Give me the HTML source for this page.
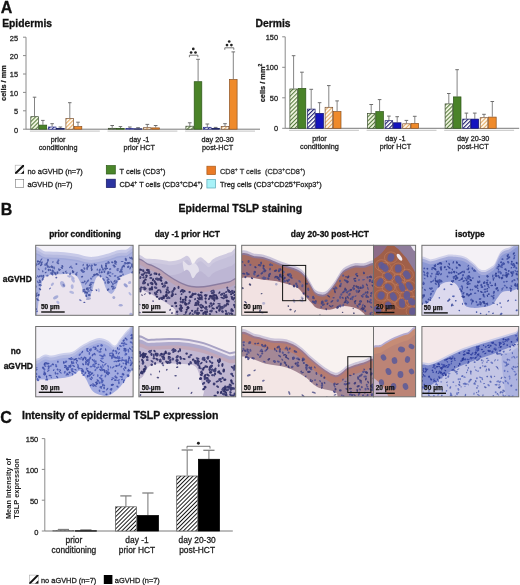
<!DOCTYPE html>
<html><head><meta charset="utf-8"><style>
html,body{margin:0;padding:0;background:#fff;}
body{width:520px;height:585px;overflow:hidden;position:relative;}
svg{position:absolute;left:0;top:0;font-family:"Liberation Sans",sans-serif;will-change:transform;}
</style></head><body>
<svg width="520" height="585" viewBox="0 0 520 585">
<defs>
<pattern id="hatch0" patternUnits="userSpaceOnUse" width="2.9" height="2.9" patternTransform="rotate(45)"><rect width="2.9" height="2.9" fill="#f6fae6"/><rect x="0" y="0" width="1.1" height="2.9" fill="#557a3c"/></pattern>
<pattern id="hatch1" patternUnits="userSpaceOnUse" width="2.9" height="2.9" patternTransform="rotate(45)"><rect width="2.9" height="2.9" fill="#ffffff"/><rect x="0" y="0" width="1.1" height="2.9" fill="#2a2f8c"/></pattern>
<pattern id="hatch2" patternUnits="userSpaceOnUse" width="2.9" height="2.9" patternTransform="rotate(45)"><rect width="2.9" height="2.9" fill="#fffaf0"/><rect x="0" y="0" width="1.1" height="2.9" fill="#e4a860"/></pattern>
<pattern id="hatch3" patternUnits="userSpaceOnUse" width="2.9" height="2.9" patternTransform="rotate(45)"><rect width="2.9" height="2.9" fill="#f6fae6"/><rect x="0" y="0" width="1.1" height="2.9" fill="#557a3c"/></pattern>
<pattern id="hatch4" patternUnits="userSpaceOnUse" width="2.9" height="2.9" patternTransform="rotate(45)"><rect width="2.9" height="2.9" fill="#ffffff"/><rect x="0" y="0" width="1.1" height="2.9" fill="#1a1a6a"/></pattern>
<pattern id="hatch5" patternUnits="userSpaceOnUse" width="2.9" height="2.9" patternTransform="rotate(45)"><rect width="2.9" height="2.9" fill="#fffaf0"/><rect x="0" y="0" width="1.1" height="2.9" fill="#e4a860"/></pattern>
<pattern id="hatch6" patternUnits="userSpaceOnUse" width="4.2" height="4.2" patternTransform="rotate(45)"><rect width="4.2" height="4.2" fill="#fff"/><rect x="0" y="0" width="1.7" height="4.2" fill="#111"/></pattern>
<clipPath id="lg1"><rect x="15" y="165" width="9" height="8.8"/></clipPath><clipPath id="lg2"><rect x="29.2" y="574.9" width="9.3" height="8.8"/></clipPath>
<clipPath id="clip1"><rect x="0" y="0" width="97.4" height="70.0"/></clipPath>
<filter id="blur1" x="-5%" y="-5%" width="110%" height="110%"><feGaussianBlur stdDeviation="0.7"/></filter>
<clipPath id="clip2"><rect x="0" y="0" width="96.8" height="70.0"/></clipPath>
<filter id="blur2" x="-5%" y="-5%" width="110%" height="110%"><feGaussianBlur stdDeviation="0.7"/></filter>
<clipPath id="clip3"><rect x="0" y="0" width="131.8" height="70.0"/></clipPath>
<filter id="blur3" x="-5%" y="-5%" width="110%" height="110%"><feGaussianBlur stdDeviation="0.7"/></filter>
<clipPath id="clip4"><rect x="0" y="0" width="42.1" height="70.0"/></clipPath>
<filter id="blur4" x="-5%" y="-5%" width="110%" height="110%"><feGaussianBlur stdDeviation="0.7"/></filter>
<clipPath id="clip5"><rect x="0" y="0" width="96.8" height="70.0"/></clipPath>
<filter id="blur5" x="-5%" y="-5%" width="110%" height="110%"><feGaussianBlur stdDeviation="0.7"/></filter>
<clipPath id="clip6"><rect x="0" y="0" width="97.4" height="70.3"/></clipPath>
<filter id="blur6" x="-5%" y="-5%" width="110%" height="110%"><feGaussianBlur stdDeviation="0.7"/></filter>
<clipPath id="clip7"><rect x="0" y="0" width="96.8" height="70.3"/></clipPath>
<filter id="blur7" x="-5%" y="-5%" width="110%" height="110%"><feGaussianBlur stdDeviation="0.7"/></filter>
<clipPath id="clip8"><rect x="0" y="0" width="131.8" height="70.3"/></clipPath>
<filter id="blur8" x="-5%" y="-5%" width="110%" height="110%"><feGaussianBlur stdDeviation="0.7"/></filter>
<clipPath id="clip9"><rect x="0" y="0" width="42.1" height="70.3"/></clipPath>
<filter id="blur9" x="-5%" y="-5%" width="110%" height="110%"><feGaussianBlur stdDeviation="0.7"/></filter>
<clipPath id="clip10"><rect x="0" y="0" width="96.8" height="70.3"/></clipPath>
<filter id="blur10" x="-5%" y="-5%" width="110%" height="110%"><feGaussianBlur stdDeviation="0.7"/></filter>
<pattern id="hatch7" patternUnits="userSpaceOnUse" width="2.9" height="2.9" patternTransform="rotate(45)"><rect width="2.9" height="2.9" fill="#fff"/><rect x="0" y="0" width="0.95" height="2.9" fill="#111"/></pattern>
</defs>
<rect width="520" height="585" fill="#fff"/>
<text x="0.80" y="12.90" font-size="16" font-weight="bold" text-anchor="start" fill="#111" stroke="#111" stroke-width="0.3" >A</text>
<text x="2.20" y="27.30" font-size="10.3" font-weight="bold" text-anchor="start" fill="#111" stroke="#111" stroke-width="0.3" >Epidermis</text>
<text x="255.60" y="27.30" font-size="10.3" font-weight="bold" text-anchor="start" fill="#111" stroke="#111" stroke-width="0.3" >Dermis</text>
<line x1="26" y1="37.2" x2="26" y2="129.2" stroke="#8a8a8a" stroke-width="1"/>
<line x1="23" y1="129.2" x2="26" y2="129.2" stroke="#8a8a8a" stroke-width="1"/>
<text x="18.00" y="132.60" font-size="7.4" font-weight="normal" text-anchor="end" fill="#222" stroke="#222" stroke-width="0.28" >0</text>
<line x1="23" y1="110.8" x2="26" y2="110.8" stroke="#8a8a8a" stroke-width="1"/>
<text x="18.00" y="114.20" font-size="7.4" font-weight="normal" text-anchor="end" fill="#222" stroke="#222" stroke-width="0.28" >5</text>
<line x1="23" y1="92.4" x2="26" y2="92.4" stroke="#8a8a8a" stroke-width="1"/>
<text x="18.00" y="95.80" font-size="7.4" font-weight="normal" text-anchor="end" fill="#222" stroke="#222" stroke-width="0.28" >10</text>
<line x1="23" y1="74.0" x2="26" y2="74.0" stroke="#8a8a8a" stroke-width="1"/>
<text x="18.00" y="77.40" font-size="7.4" font-weight="normal" text-anchor="end" fill="#222" stroke="#222" stroke-width="0.28" >15</text>
<line x1="23" y1="55.6" x2="26" y2="55.6" stroke="#8a8a8a" stroke-width="1"/>
<text x="18.00" y="59.00" font-size="7.4" font-weight="normal" text-anchor="end" fill="#222" stroke="#222" stroke-width="0.28" >20</text>
<line x1="23" y1="37.2" x2="26" y2="37.2" stroke="#8a8a8a" stroke-width="1"/>
<text x="18.00" y="40.60" font-size="7.4" font-weight="normal" text-anchor="end" fill="#222" stroke="#222" stroke-width="0.28" >25</text>
<line x1="26" y1="129.2" x2="260" y2="129.2" stroke="#7a7a7a" stroke-width="1"/>
<line x1="29.9" y1="131.2" x2="99.8" y2="131.2" stroke="#cfcfcf" stroke-width="1.3"/>
<line x1="34.5" y1="97.2" x2="34.5" y2="116.3" stroke="#6e6e6e" stroke-width="0.85"/>
<line x1="32.8" y1="97.2" x2="36.3" y2="97.2" stroke="#6e6e6e" stroke-width="1"/>
<rect x="30.8" y="116.7" width="7.6" height="12.5" fill="url(#hatch0)" stroke="#3a4a30" stroke-width="0.7"/>
<line x1="42.9" y1="120.4" x2="42.9" y2="124.8" stroke="#6e6e6e" stroke-width="0.85"/>
<line x1="41.1" y1="120.4" x2="44.6" y2="120.4" stroke="#6e6e6e" stroke-width="1"/>
<rect x="39.1" y="125.1" width="7.6" height="4.1" fill="#4a8328" stroke="#2c5418" stroke-width="0.7"/>
<line x1="52.1" y1="123.7" x2="52.1" y2="126.6" stroke="#6e6e6e" stroke-width="0.85"/>
<line x1="50.4" y1="123.7" x2="53.9" y2="123.7" stroke="#6e6e6e" stroke-width="1"/>
<rect x="48.4" y="127.0" width="7.6" height="2.2" fill="url(#hatch1)" stroke="#2a2f8c" stroke-width="0.7"/>
<line x1="60.4" y1="127.0" x2="60.4" y2="128.1" stroke="#6e6e6e" stroke-width="0.85"/>
<line x1="58.6" y1="127.0" x2="62.2" y2="127.0" stroke="#6e6e6e" stroke-width="1"/>
<rect x="56.6" y="128.4" width="7.6" height="0.8" fill="#2a2f8c" stroke="#161c5c" stroke-width="0.7"/>
<line x1="69.8" y1="102.7" x2="69.8" y2="118.2" stroke="#6e6e6e" stroke-width="0.85"/>
<line x1="68.0" y1="102.7" x2="71.5" y2="102.7" stroke="#6e6e6e" stroke-width="1"/>
<rect x="65.9" y="118.5" width="7.6" height="10.7" fill="url(#hatch2)" stroke="#7a5030" stroke-width="0.7"/>
<line x1="78.0" y1="122.2" x2="78.0" y2="126.3" stroke="#6e6e6e" stroke-width="0.85"/>
<line x1="76.2" y1="122.2" x2="79.8" y2="122.2" stroke="#6e6e6e" stroke-width="1"/>
<rect x="74.2" y="126.6" width="7.6" height="2.6" fill="#ef8a2a" stroke="#8a5020" stroke-width="0.7"/>
<text x="58.10" y="142.10" font-size="7.25" font-weight="normal" text-anchor="middle" fill="#222" stroke="#222" stroke-width="0.28" >prior</text>
<text x="58.10" y="150.40" font-size="7.25" font-weight="normal" text-anchor="middle" fill="#222" stroke="#222" stroke-width="0.28" >conditioning</text>
<line x1="107.5" y1="131.2" x2="177.4" y2="131.2" stroke="#cfcfcf" stroke-width="1.3"/>
<line x1="112.2" y1="125.5" x2="112.2" y2="127.9" stroke="#6e6e6e" stroke-width="0.85"/>
<line x1="110.4" y1="125.5" x2="114.0" y2="125.5" stroke="#6e6e6e" stroke-width="1"/>
<rect x="108.3" y="128.3" width="7.6" height="0.9" fill="url(#hatch0)" stroke="#3a4a30" stroke-width="0.7"/>
<line x1="120.5" y1="126.6" x2="120.5" y2="128.3" stroke="#6e6e6e" stroke-width="0.85"/>
<line x1="118.7" y1="126.6" x2="122.2" y2="126.6" stroke="#6e6e6e" stroke-width="1"/>
<rect x="116.6" y="128.6" width="7.6" height="0.6" fill="#4a8328" stroke="#2c5418" stroke-width="0.7"/>
<line x1="129.8" y1="127.0" x2="129.8" y2="128.1" stroke="#6e6e6e" stroke-width="0.85"/>
<line x1="128.0" y1="127.0" x2="131.6" y2="127.0" stroke="#6e6e6e" stroke-width="1"/>
<rect x="125.9" y="128.4" width="7.6" height="0.8" fill="url(#hatch1)" stroke="#2a2f8c" stroke-width="0.7"/>
<line x1="138.1" y1="127.7" x2="138.1" y2="128.5" stroke="#6e6e6e" stroke-width="0.85"/>
<line x1="136.2" y1="127.7" x2="139.9" y2="127.7" stroke="#6e6e6e" stroke-width="1"/>
<rect x="134.2" y="128.8" width="7.6" height="0.4" fill="#2a2f8c" stroke="#161c5c" stroke-width="0.7"/>
<line x1="147.3" y1="124.4" x2="147.3" y2="127.4" stroke="#6e6e6e" stroke-width="0.85"/>
<line x1="145.5" y1="124.4" x2="149.2" y2="124.4" stroke="#6e6e6e" stroke-width="1"/>
<rect x="143.5" y="127.7" width="7.6" height="1.5" fill="url(#hatch2)" stroke="#7a5030" stroke-width="0.7"/>
<line x1="155.7" y1="125.5" x2="155.7" y2="127.5" stroke="#6e6e6e" stroke-width="0.85"/>
<line x1="153.8" y1="125.5" x2="157.5" y2="125.5" stroke="#6e6e6e" stroke-width="1"/>
<rect x="151.8" y="127.9" width="7.6" height="1.3" fill="#ef8a2a" stroke="#8a5020" stroke-width="0.7"/>
<text x="139.30" y="142.10" font-size="7.25" font-weight="normal" text-anchor="middle" fill="#222" stroke="#222" stroke-width="0.28" >day -1</text>
<text x="139.30" y="150.40" font-size="7.25" font-weight="normal" text-anchor="middle" fill="#222" stroke="#222" stroke-width="0.28" >prior HCT</text>
<line x1="185.1" y1="131.2" x2="255.0" y2="131.2" stroke="#cfcfcf" stroke-width="1.3"/>
<line x1="189.8" y1="122.8" x2="189.8" y2="125.9" stroke="#6e6e6e" stroke-width="0.85"/>
<line x1="187.9" y1="122.8" x2="191.6" y2="122.8" stroke="#6e6e6e" stroke-width="1"/>
<rect x="185.9" y="126.2" width="7.6" height="3.0" fill="url(#hatch0)" stroke="#3a4a30" stroke-width="0.7"/>
<line x1="198.1" y1="59.3" x2="198.1" y2="81.4" stroke="#6e6e6e" stroke-width="0.85"/>
<line x1="196.2" y1="59.3" x2="199.9" y2="59.3" stroke="#6e6e6e" stroke-width="1"/>
<rect x="194.2" y="81.7" width="7.6" height="47.5" fill="#4a8328" stroke="#2c5418" stroke-width="0.7"/>
<line x1="207.3" y1="124.0" x2="207.3" y2="127.0" stroke="#6e6e6e" stroke-width="0.85"/>
<line x1="205.5" y1="124.0" x2="209.2" y2="124.0" stroke="#6e6e6e" stroke-width="1"/>
<rect x="203.5" y="127.3" width="7.6" height="1.9" fill="url(#hatch1)" stroke="#2a2f8c" stroke-width="0.7"/>
<line x1="215.7" y1="127.4" x2="215.7" y2="128.1" stroke="#6e6e6e" stroke-width="0.85"/>
<line x1="213.8" y1="127.4" x2="217.5" y2="127.4" stroke="#6e6e6e" stroke-width="1"/>
<rect x="211.8" y="128.4" width="7.6" height="0.8" fill="#2a2f8c" stroke="#161c5c" stroke-width="0.7"/>
<line x1="225.0" y1="123.7" x2="225.0" y2="126.3" stroke="#6e6e6e" stroke-width="0.85"/>
<line x1="223.2" y1="123.7" x2="226.8" y2="123.7" stroke="#6e6e6e" stroke-width="1"/>
<rect x="221.2" y="126.6" width="7.6" height="2.6" fill="url(#hatch2)" stroke="#7a5030" stroke-width="0.7"/>
<line x1="233.3" y1="51.9" x2="233.3" y2="79.2" stroke="#6e6e6e" stroke-width="0.85"/>
<line x1="231.5" y1="51.9" x2="235.1" y2="51.9" stroke="#6e6e6e" stroke-width="1"/>
<rect x="229.5" y="79.5" width="7.6" height="49.7" fill="#ef8a2a" stroke="#8a5020" stroke-width="0.7"/>
<text x="217.60" y="142.10" font-size="7.25" font-weight="normal" text-anchor="middle" fill="#222" stroke="#222" stroke-width="0.28" >day 20-30</text>
<text x="217.60" y="150.40" font-size="7.25" font-weight="normal" text-anchor="middle" fill="#222" stroke="#222" stroke-width="0.28" >post-HCT</text>
<text transform="translate(6.3,83) rotate(-90)" font-size="7.4" font-weight="bold" text-anchor="middle" fill="#222" stroke="#222" stroke-width="0.25">cells / mm</text>
<circle cx="193.3" cy="48.9" r="1.35" fill="#222"/>
<circle cx="191.1" cy="52.5" r="1.35" fill="#222"/>
<circle cx="195.5" cy="52.5" r="1.35" fill="#222"/>
<path d="M189.4,57.2 L189.4,55.2 L197.9,55.2 L197.9,57.2" fill="none" stroke="#555" stroke-width="0.8"/>
<circle cx="229.2" cy="41.5" r="1.35" fill="#222"/>
<circle cx="227.0" cy="45.1" r="1.35" fill="#222"/>
<circle cx="231.4" cy="45.1" r="1.35" fill="#222"/>
<path d="M224.8,49.8 L224.8,47.8 L233.8,47.8 L233.8,49.8" fill="none" stroke="#555" stroke-width="0.8"/>
<line x1="285.2" y1="36.8" x2="285.2" y2="128.3" stroke="#8a8a8a" stroke-width="1"/>
<line x1="282.2" y1="128.3" x2="285.2" y2="128.3" stroke="#8a8a8a" stroke-width="1"/>
<text x="278.00" y="131.30" font-size="7.4" font-weight="normal" text-anchor="end" fill="#222" stroke="#222" stroke-width="0.28" >0</text>
<line x1="282.2" y1="97.8" x2="285.2" y2="97.8" stroke="#8a8a8a" stroke-width="1"/>
<text x="278.00" y="100.80" font-size="7.4" font-weight="normal" text-anchor="end" fill="#222" stroke="#222" stroke-width="0.28" >50</text>
<line x1="282.2" y1="67.3" x2="285.2" y2="67.3" stroke="#8a8a8a" stroke-width="1"/>
<text x="278.00" y="70.30" font-size="7.4" font-weight="normal" text-anchor="end" fill="#222" stroke="#222" stroke-width="0.28" >100</text>
<line x1="282.2" y1="36.8" x2="285.2" y2="36.8" stroke="#8a8a8a" stroke-width="1"/>
<text x="278.00" y="39.80" font-size="7.4" font-weight="normal" text-anchor="end" fill="#222" stroke="#222" stroke-width="0.28" >150</text>
<line x1="285.2" y1="128.3" x2="519.2" y2="128.3" stroke="#7a7a7a" stroke-width="1"/>
<line x1="289.0" y1="130.3" x2="358.9" y2="130.3" stroke="#cfcfcf" stroke-width="1.3"/>
<line x1="293.6" y1="55.7" x2="293.6" y2="88.7" stroke="#6e6e6e" stroke-width="0.85"/>
<line x1="291.8" y1="55.7" x2="295.4" y2="55.7" stroke="#6e6e6e" stroke-width="1"/>
<rect x="289.9" y="89.0" width="7.6" height="39.3" fill="url(#hatch3)" stroke="#3a4a30" stroke-width="0.7"/>
<line x1="301.9" y1="72.2" x2="301.9" y2="88.0" stroke="#6e6e6e" stroke-width="0.85"/>
<line x1="300.1" y1="72.2" x2="303.8" y2="72.2" stroke="#6e6e6e" stroke-width="1"/>
<rect x="298.2" y="88.4" width="7.6" height="39.9" fill="#4a8328" stroke="#2c5418" stroke-width="0.7"/>
<line x1="311.2" y1="89.3" x2="311.2" y2="108.8" stroke="#6e6e6e" stroke-width="0.85"/>
<line x1="309.4" y1="89.3" x2="313.1" y2="89.3" stroke="#6e6e6e" stroke-width="1"/>
<rect x="307.5" y="109.1" width="7.6" height="19.2" fill="url(#hatch4)" stroke="#1a1a6a" stroke-width="0.7"/>
<line x1="319.6" y1="102.7" x2="319.6" y2="113.1" stroke="#6e6e6e" stroke-width="0.85"/>
<line x1="317.8" y1="102.7" x2="321.4" y2="102.7" stroke="#6e6e6e" stroke-width="1"/>
<rect x="315.8" y="113.4" width="7.6" height="14.9" fill="#1414bf" stroke="#0c0c6a" stroke-width="0.7"/>
<line x1="328.8" y1="85.6" x2="328.8" y2="107.0" stroke="#6e6e6e" stroke-width="0.85"/>
<line x1="327.0" y1="85.6" x2="330.6" y2="85.6" stroke="#6e6e6e" stroke-width="1"/>
<rect x="325.1" y="107.3" width="7.6" height="21.0" fill="url(#hatch5)" stroke="#7a5030" stroke-width="0.7"/>
<line x1="337.1" y1="100.9" x2="337.1" y2="111.2" stroke="#6e6e6e" stroke-width="0.85"/>
<line x1="335.3" y1="100.9" x2="338.9" y2="100.9" stroke="#6e6e6e" stroke-width="1"/>
<rect x="333.4" y="111.6" width="7.6" height="16.7" fill="#ef8a2a" stroke="#8a5020" stroke-width="0.7"/>
<text x="319.40" y="140.60" font-size="7.25" font-weight="normal" text-anchor="middle" fill="#222" stroke="#222" stroke-width="0.28" >prior</text>
<text x="319.40" y="149.10" font-size="7.25" font-weight="normal" text-anchor="middle" fill="#222" stroke="#222" stroke-width="0.28" >conditioning</text>
<line x1="366.6" y1="130.3" x2="436.5" y2="130.3" stroke="#cfcfcf" stroke-width="1.3"/>
<line x1="371.2" y1="104.5" x2="371.2" y2="113.1" stroke="#6e6e6e" stroke-width="0.85"/>
<line x1="369.4" y1="104.5" x2="373.1" y2="104.5" stroke="#6e6e6e" stroke-width="1"/>
<rect x="367.5" y="113.4" width="7.6" height="14.9" fill="url(#hatch3)" stroke="#3a4a30" stroke-width="0.7"/>
<line x1="379.6" y1="99.6" x2="379.6" y2="111.2" stroke="#6e6e6e" stroke-width="0.85"/>
<line x1="377.8" y1="99.6" x2="381.4" y2="99.6" stroke="#6e6e6e" stroke-width="1"/>
<rect x="375.8" y="111.6" width="7.6" height="16.7" fill="#4a8328" stroke="#2c5418" stroke-width="0.7"/>
<line x1="388.9" y1="116.1" x2="388.9" y2="120.4" stroke="#6e6e6e" stroke-width="0.85"/>
<line x1="387.1" y1="116.1" x2="390.7" y2="116.1" stroke="#6e6e6e" stroke-width="1"/>
<rect x="385.1" y="120.7" width="7.6" height="7.6" fill="url(#hatch4)" stroke="#1a1a6a" stroke-width="0.7"/>
<line x1="397.2" y1="116.7" x2="397.2" y2="122.4" stroke="#6e6e6e" stroke-width="0.85"/>
<line x1="395.4" y1="116.7" x2="399.0" y2="116.7" stroke="#6e6e6e" stroke-width="1"/>
<rect x="393.4" y="122.8" width="7.6" height="5.5" fill="#1414bf" stroke="#0c0c6a" stroke-width="0.7"/>
<line x1="406.4" y1="120.4" x2="406.4" y2="123.4" stroke="#6e6e6e" stroke-width="0.85"/>
<line x1="404.6" y1="120.4" x2="408.2" y2="120.4" stroke="#6e6e6e" stroke-width="1"/>
<rect x="402.7" y="123.8" width="7.6" height="4.5" fill="url(#hatch5)" stroke="#7a5030" stroke-width="0.7"/>
<line x1="414.8" y1="116.3" x2="414.8" y2="123.1" stroke="#6e6e6e" stroke-width="0.85"/>
<line x1="412.9" y1="116.3" x2="416.6" y2="116.3" stroke="#6e6e6e" stroke-width="1"/>
<rect x="411.0" y="123.4" width="7.6" height="4.9" fill="#ef8a2a" stroke="#8a5020" stroke-width="0.7"/>
<text x="395.40" y="140.60" font-size="7.25" font-weight="normal" text-anchor="middle" fill="#222" stroke="#222" stroke-width="0.28" >day -1</text>
<text x="395.40" y="149.10" font-size="7.25" font-weight="normal" text-anchor="middle" fill="#222" stroke="#222" stroke-width="0.28" >prior HCT</text>
<line x1="444.2" y1="130.3" x2="514.1" y2="130.3" stroke="#cfcfcf" stroke-width="1.3"/>
<line x1="448.8" y1="93.5" x2="448.8" y2="103.6" stroke="#6e6e6e" stroke-width="0.85"/>
<line x1="447.0" y1="93.5" x2="450.6" y2="93.5" stroke="#6e6e6e" stroke-width="1"/>
<rect x="445.1" y="103.9" width="7.6" height="24.4" fill="url(#hatch3)" stroke="#3a4a30" stroke-width="0.7"/>
<line x1="457.1" y1="69.7" x2="457.1" y2="96.6" stroke="#6e6e6e" stroke-width="0.85"/>
<line x1="455.3" y1="69.7" x2="458.9" y2="69.7" stroke="#6e6e6e" stroke-width="1"/>
<rect x="453.4" y="96.9" width="7.6" height="31.4" fill="#4a8328" stroke="#2c5418" stroke-width="0.7"/>
<line x1="466.4" y1="113.1" x2="466.4" y2="118.8" stroke="#6e6e6e" stroke-width="0.85"/>
<line x1="464.6" y1="113.1" x2="468.2" y2="113.1" stroke="#6e6e6e" stroke-width="1"/>
<rect x="462.7" y="119.1" width="7.6" height="9.2" fill="url(#hatch4)" stroke="#1a1a6a" stroke-width="0.7"/>
<line x1="474.8" y1="113.1" x2="474.8" y2="118.8" stroke="#6e6e6e" stroke-width="0.85"/>
<line x1="472.9" y1="113.1" x2="476.6" y2="113.1" stroke="#6e6e6e" stroke-width="1"/>
<rect x="471.0" y="119.1" width="7.6" height="9.2" fill="#1414bf" stroke="#0c0c6a" stroke-width="0.7"/>
<line x1="484.0" y1="114.3" x2="484.0" y2="117.3" stroke="#6e6e6e" stroke-width="0.85"/>
<line x1="482.2" y1="114.3" x2="485.8" y2="114.3" stroke="#6e6e6e" stroke-width="1"/>
<rect x="480.2" y="117.7" width="7.6" height="10.6" fill="url(#hatch5)" stroke="#7a5030" stroke-width="0.7"/>
<line x1="492.3" y1="101.5" x2="492.3" y2="116.7" stroke="#6e6e6e" stroke-width="0.85"/>
<line x1="490.5" y1="101.5" x2="494.1" y2="101.5" stroke="#6e6e6e" stroke-width="1"/>
<rect x="488.6" y="117.1" width="7.6" height="11.2" fill="#ef8a2a" stroke="#8a5020" stroke-width="0.7"/>
<text x="473.10" y="140.60" font-size="7.25" font-weight="normal" text-anchor="middle" fill="#222" stroke="#222" stroke-width="0.28" >day 20-30</text>
<text x="473.10" y="149.10" font-size="7.25" font-weight="normal" text-anchor="middle" fill="#222" stroke="#222" stroke-width="0.28" >post-HCT</text>
<text transform="translate(264.7,83) rotate(-90)" font-size="7.4" font-weight="bold" text-anchor="middle" fill="#222" stroke="#222" stroke-width="0.25">cells / mm<tspan dy="-2.5" font-size="5">2</tspan></text>
<rect x="15.2" y="165.2" width="8.6" height="8.4" fill="#fff" stroke="#aaa" stroke-width="0.6"/>
<g clip-path="url(#lg1)"><line x1="14.6" y1="174.4" x2="24.4" y2="164.6" stroke="#111" stroke-width="2"/><path d="M20.5,174 L24.2,174 L24.2,170.3 Z" fill="#111"/></g>
<rect x="15.3" y="179.6" width="8.4" height="7.8" fill="#fff" stroke="#777" stroke-width="0.6"/>
<text x="27.50" y="173.60" font-size="7.4" font-weight="normal" text-anchor="start" fill="#222" stroke="#222" stroke-width="0.28" >no aGVHD (n=7)</text>
<text x="27.50" y="186.60" font-size="7.4" font-weight="normal" text-anchor="start" fill="#222" stroke="#222" stroke-width="0.28" >aGVHD (n=7)</text>
<rect x="106.3" y="165.6" width="9" height="8.4" fill="#4a862a" stroke="#2c5a18" stroke-width="0.7"/>
<rect x="106.3" y="179.2" width="9" height="8.4" fill="#2c34a0" stroke="#1a1a60" stroke-width="0.7"/>
<rect x="206.9" y="166.2" width="8.6" height="8.4" fill="#ea7a26" stroke="#a85a1a" stroke-width="0.7"/>
<rect x="206.9" y="179.4" width="8.6" height="8.6" fill="#a8f2f8" stroke="#5aa8b8" stroke-width="0.7"/>
<text x="119.50" y="173.60" font-size="7.4" font-weight="normal" text-anchor="start" fill="#222" stroke="#222" stroke-width="0.28" >T cells (CD3<tspan dy="-2.6" font-size="5">+</tspan><tspan dy="2.6">)</tspan></text>
<text x="119.50" y="186.60" font-size="7.4" font-weight="normal" text-anchor="start" fill="#222" stroke="#222" stroke-width="0.28" >CD4<tspan dy="-2.6" font-size="5">+</tspan><tspan dy="2.6"> T cells (CD3<tspan dy="-2.6" font-size="5">+</tspan><tspan dy="2.6">CD4<tspan dy="-2.6" font-size="5">+</tspan><tspan dy="2.6">)</tspan></tspan></tspan></text>
<text x="220.00" y="173.60" font-size="7.4" font-weight="normal" text-anchor="start" fill="#333" stroke="#333" stroke-width="0.28" xml:space="preserve">CD8<tspan dy="-2.6" font-size="5">+</tspan><tspan dy="2.6"> T cells  (CD3<tspan dy="-2.6" font-size="5">+</tspan><tspan dy="2.6">CD8<tspan dy="-2.6" font-size="5">+</tspan><tspan dy="2.6">)</tspan></tspan></tspan></text>
<text x="220.00" y="186.60" font-size="7.4" font-weight="normal" text-anchor="start" fill="#222" stroke="#222" stroke-width="0.28" >Treg cells (CD3<tspan dy="-2.6" font-size="5">+</tspan><tspan dy="2.6">CD25<tspan dy="-2.6" font-size="5">+</tspan><tspan dy="2.6">Foxp3<tspan dy="-2.6" font-size="5">+</tspan><tspan dy="2.6">)</tspan></tspan></tspan></text>
<text x="0.70" y="215.30" font-size="16" font-weight="bold" text-anchor="start" fill="#111" stroke="#111" stroke-width="0.3" >B</text>
<text x="240.30" y="212.00" font-size="10.5" font-weight="bold" text-anchor="middle" fill="#111" stroke="#111" stroke-width="0.3" >Epidermal TSLP staining</text>
<text x="85.00" y="237.00" font-size="8.4" font-weight="bold" text-anchor="middle" fill="#111" stroke="#111" stroke-width="0.3" >prior conditioning</text>
<text x="187.30" y="237.00" font-size="8.4" font-weight="bold" text-anchor="middle" fill="#111" stroke="#111" stroke-width="0.3" >day -1 prior HCT</text>
<text x="329.90" y="237.00" font-size="8.4" font-weight="bold" text-anchor="middle" fill="#111" stroke="#111" stroke-width="0.3" >day 20-30 post-HCT</text>
<text x="470.00" y="237.00" font-size="8.4" font-weight="bold" text-anchor="middle" fill="#111" stroke="#111" stroke-width="0.3" >isotype</text>
<text x="17.30" y="282.00" font-size="8.4" font-weight="bold" text-anchor="middle" fill="#111" stroke="#111" stroke-width="0.3" >aGVHD</text>
<text x="15.80" y="354.00" font-size="8.4" font-weight="bold" text-anchor="middle" fill="#111" stroke="#111" stroke-width="0.3" >no</text>
<text x="18.30" y="369.10" font-size="8.5" font-weight="bold" text-anchor="middle" fill="#111" stroke="#111" stroke-width="0.3" >aGVHD</text>
<g transform="translate(35.7,245.3)"><g clip-path="url(#clip1)"><g filter="url(#blur1)">
<rect x="-2" y="-2" width="101.4" height="74.0" fill="#f3f1f8"/>
<path d="M-3.0,6.5 C-0.8,-4.6 5.3,6.2 10.0,6.2 C14.7,6.2 20.0,6.4 25.0,6.8 C30.0,7.2 35.8,7.8 40.0,8.5 C44.2,9.2 47.0,10.5 50.0,11.0 C53.0,11.5 55.3,11.7 58.0,11.5 C60.7,11.3 63.2,10.7 66.0,10.0 C68.8,9.3 72.3,8.3 75.0,7.5 C77.7,6.7 79.5,5.5 82.0,5.0 C84.5,4.5 86.8,4.6 90.0,4.5 C93.2,4.4 99.2,-6.9 101.0,4.5 C102.8,15.9 118.3,61.6 101.0,73.0 C83.7,84.4 14.3,84.1 -3.0,73.0 C-20.3,61.9 -5.2,17.6 -3.0,6.5Z" fill="#c8cae8" opacity="1"/>
<path d="M-3.0,9.5 C-0.8,-1.1 5.3,9.1 10.0,9.2 C14.7,9.2 20.0,9.4 25.0,9.8 C30.0,10.2 35.8,10.8 40.0,11.5 C44.2,12.2 47.0,13.5 50.0,14.0 C53.0,14.5 55.3,14.7 58.0,14.5 C60.7,14.3 63.2,13.7 66.0,13.0 C68.8,12.3 72.3,11.3 75.0,10.5 C77.7,9.7 79.5,8.5 82.0,8.0 C84.5,7.5 86.8,7.6 90.0,7.5 C93.2,7.4 99.2,-3.4 101.0,7.5 C102.8,18.4 118.3,62.1 101.0,73.0 C83.7,83.9 14.3,83.6 -3.0,73.0 C-20.3,62.4 -5.2,20.1 -3.0,9.5Z" fill="#b6bae0" opacity="1"/>
<path d="M-3.0,12.5 C-0.8,2.4 5.3,12.1 10.0,12.2 C14.7,12.2 20.0,12.4 25.0,12.8 C30.0,13.2 35.8,13.8 40.0,14.5 C44.2,15.2 47.0,16.5 50.0,17.0 C53.0,17.5 55.3,17.7 58.0,17.5 C60.7,17.3 63.2,16.7 66.0,16.0 C68.8,15.3 72.3,14.3 75.0,13.5 C77.7,12.7 79.5,11.5 82.0,11.0 C84.5,10.5 86.8,10.6 90.0,10.5 C93.2,10.4 99.2,0.1 101.0,10.5 C102.8,20.9 118.3,62.6 101.0,73.0 C83.7,83.4 14.3,83.1 -3.0,73.0 C-20.3,62.9 -5.2,22.6 -3.0,12.5Z" fill="#a0a8da" opacity="1"/>
<path d="M-3.0,14.0 C-0.8,4.1 5.3,13.6 10.0,13.7 C14.7,13.8 20.0,13.9 25.0,14.3 C30.0,14.7 35.8,15.3 40.0,16.0 C44.2,16.7 47.0,18.0 50.0,18.5 C53.0,19.0 55.3,19.2 58.0,19.0 C60.7,18.8 63.2,18.2 66.0,17.5 C68.8,16.8 72.3,15.8 75.0,15.0 C77.7,14.2 79.5,13.0 82.0,12.5 C84.5,12.0 86.8,12.1 90.0,12.0 C93.2,11.9 99.2,1.8 101.0,12.0 C102.8,22.2 118.3,62.8 101.0,73.0 C83.7,83.2 14.3,82.8 -3.0,73.0 C-20.3,63.2 -5.2,23.9 -3.0,14.0Z" fill="#a9b0df" opacity="1"/>
<path d="M-3.0,72.0 C-2.3,71.8 0.0,74.8 1.0,72.0 C2.0,69.2 2.2,60.7 3.0,55.0 C3.8,49.3 4.8,42.0 6.0,38.0 C7.2,34.0 6.8,32.5 10.0,31.0 C13.2,29.5 20.7,29.3 25.0,29.0 C29.3,28.7 33.3,28.7 36.0,29.0 C38.7,29.3 39.5,29.5 41.0,31.0 C42.5,32.5 43.8,35.3 45.0,38.0 C46.2,40.7 46.8,44.5 48.0,47.0 C49.2,49.5 50.7,53.0 52.0,53.0 C53.3,53.0 54.9,49.5 56.0,47.0 C57.1,44.5 57.7,40.5 58.5,38.0 C59.3,35.5 60.1,33.2 61.0,32.0 C61.9,30.8 63.0,30.8 64.0,31.0 C65.0,31.2 66.2,31.5 67.0,33.0 C67.8,34.5 68.2,37.8 69.0,40.0 C69.8,42.2 70.8,44.6 72.0,46.0 C73.2,47.4 74.7,49.0 76.0,48.5 C77.3,48.0 78.8,45.2 80.0,43.0 C81.2,40.8 81.8,37.0 83.0,35.0 C84.2,33.0 84.0,31.7 87.0,31.0 C90.0,30.3 98.7,24.0 101.0,31.0 C103.3,38.0 118.3,66.0 101.0,73.0 C83.7,80.0 14.3,73.2 -3.0,73.0 C-20.3,72.8 -3.7,72.2 -3.0,72.0Z" fill="#ebe4ee" opacity="1"/>
<ellipse cx="49.5" cy="47.4" rx="1.1" ry="0.8" transform="rotate(113 49.5 47.4)" fill="#5a68b2" opacity="1"/>
<ellipse cx="7.5" cy="30.6" rx="1.1" ry="0.9" transform="rotate(125 7.5 30.6)" fill="#45539d" opacity="1"/>
<ellipse cx="17.3" cy="26.9" rx="1.0" ry="0.8" transform="rotate(79 17.3 26.9)" fill="#5b69b3" opacity="1"/>
<ellipse cx="50.6" cy="50.6" rx="1.4" ry="0.9" transform="rotate(82 50.6 50.6)" fill="#4b59a3" opacity="1"/>
<ellipse cx="30.0" cy="26.2" rx="1.2" ry="0.6" transform="rotate(138 30.0 26.2)" fill="#4f5da7" opacity="1"/>
<ellipse cx="-1.9" cy="25.0" rx="1.7" ry="0.8" transform="rotate(176 -1.9 25.0)" fill="#4f5da7" opacity="1"/>
<ellipse cx="76.9" cy="28.6" rx="1.1" ry="0.7" transform="rotate(174 76.9 28.6)" fill="#5967b1" opacity="1"/>
<ellipse cx="10.0" cy="27.2" rx="1.1" ry="0.6" transform="rotate(143 10.0 27.2)" fill="#4856a0" opacity="1"/>
<ellipse cx="54.7" cy="39.1" rx="1.2" ry="0.9" transform="rotate(24 54.7 39.1)" fill="#5664ae" opacity="1"/>
<ellipse cx="19.6" cy="28.6" rx="1.8" ry="0.9" transform="rotate(55 19.6 28.6)" fill="#5c6ab4" opacity="1"/>
<ellipse cx="19.6" cy="27.9" rx="1.6" ry="0.7" transform="rotate(53 19.6 27.9)" fill="#46549e" opacity="1"/>
<ellipse cx="16.5" cy="21.7" rx="1.7" ry="0.9" transform="rotate(45 16.5 21.7)" fill="#4957a1" opacity="1"/>
<ellipse cx="40.7" cy="18.7" rx="1.0" ry="1.0" transform="rotate(43 40.7 18.7)" fill="#5765af" opacity="1"/>
<ellipse cx="58.5" cy="30.0" rx="1.1" ry="0.9" transform="rotate(12 58.5 30.0)" fill="#4a58a2" opacity="1"/>
<ellipse cx="60.3" cy="29.2" rx="1.7" ry="0.7" transform="rotate(3 60.3 29.2)" fill="#4b59a3" opacity="1"/>
<ellipse cx="56.0" cy="20.3" rx="1.3" ry="1.0" transform="rotate(176 56.0 20.3)" fill="#5664ae" opacity="1"/>
<ellipse cx="12.2" cy="14.6" rx="1.0" ry="1.0" transform="rotate(126 12.2 14.6)" fill="#5e6cb6" opacity="1"/>
<ellipse cx="0.2" cy="50.4" rx="1.4" ry="0.9" transform="rotate(57 0.2 50.4)" fill="#5f6db7" opacity="1"/>
<ellipse cx="71.8" cy="35.6" rx="1.6" ry="0.8" transform="rotate(79 71.8 35.6)" fill="#5b69b3" opacity="1"/>
<ellipse cx="1.0" cy="48.3" rx="1.4" ry="0.7" transform="rotate(126 1.0 48.3)" fill="#515fa9" opacity="1"/>
<ellipse cx="18.5" cy="22.6" rx="1.7" ry="0.9" transform="rotate(80 18.5 22.6)" fill="#5c6ab4" opacity="1"/>
<ellipse cx="57.1" cy="31.3" rx="1.1" ry="0.8" transform="rotate(151 57.1 31.3)" fill="#5b69b3" opacity="1"/>
<ellipse cx="26.1" cy="22.6" rx="1.4" ry="0.7" transform="rotate(39 26.1 22.6)" fill="#4f5da7" opacity="1"/>
<ellipse cx="5.6" cy="14.4" rx="1.7" ry="0.6" transform="rotate(128 5.6 14.4)" fill="#5361ab" opacity="1"/>
<ellipse cx="-0.1" cy="20.6" rx="1.4" ry="0.6" transform="rotate(149 -0.1 20.6)" fill="#4a58a2" opacity="1"/>
<ellipse cx="12.3" cy="15.3" rx="1.5" ry="0.8" transform="rotate(113 12.3 15.3)" fill="#5664ae" opacity="1"/>
<ellipse cx="67.4" cy="24.4" rx="1.4" ry="0.7" transform="rotate(2 67.4 24.4)" fill="#515fa9" opacity="1"/>
<ellipse cx="70.4" cy="23.2" rx="1.2" ry="0.7" transform="rotate(126 70.4 23.2)" fill="#5260aa" opacity="1"/>
<ellipse cx="89.9" cy="17.7" rx="1.7" ry="0.9" transform="rotate(23 89.9 17.7)" fill="#505ea8" opacity="1"/>
<ellipse cx="64.0" cy="24.7" rx="1.6" ry="0.9" transform="rotate(115 64.0 24.7)" fill="#5866b0" opacity="1"/>
<ellipse cx="80.0" cy="16.3" rx="1.6" ry="0.7" transform="rotate(60 80.0 16.3)" fill="#5a68b2" opacity="1"/>
<ellipse cx="12.2" cy="21.3" rx="1.4" ry="0.9" transform="rotate(151 12.2 21.3)" fill="#5765af" opacity="1"/>
<ellipse cx="94.2" cy="17.6" rx="1.2" ry="0.8" transform="rotate(52 94.2 17.6)" fill="#5866b0" opacity="1"/>
<ellipse cx="56.1" cy="24.5" rx="1.4" ry="0.8" transform="rotate(109 56.1 24.5)" fill="#44529c" opacity="1"/>
<ellipse cx="55.1" cy="41.7" rx="1.6" ry="0.6" transform="rotate(97 55.1 41.7)" fill="#4f5da7" opacity="1"/>
<ellipse cx="46.3" cy="31.4" rx="1.2" ry="0.8" transform="rotate(167 46.3 31.4)" fill="#47559f" opacity="1"/>
<ellipse cx="17.7" cy="26.0" rx="1.5" ry="0.7" transform="rotate(64 17.7 26.0)" fill="#5563ad" opacity="1"/>
<ellipse cx="23.4" cy="24.3" rx="1.4" ry="0.8" transform="rotate(68 23.4 24.3)" fill="#4f5da7" opacity="1"/>
<ellipse cx="51.7" cy="22.0" rx="1.2" ry="0.9" transform="rotate(115 51.7 22.0)" fill="#5260aa" opacity="1"/>
<ellipse cx="84.9" cy="26.3" rx="1.6" ry="0.9" transform="rotate(162 84.9 26.3)" fill="#4c5aa4" opacity="1"/>
<ellipse cx="88.0" cy="20.5" rx="1.2" ry="0.9" transform="rotate(47 88.0 20.5)" fill="#46549e" opacity="1"/>
<ellipse cx="78.1" cy="20.0" rx="1.3" ry="0.9" transform="rotate(3 78.1 20.0)" fill="#4957a1" opacity="1"/>
<ellipse cx="96.2" cy="19.4" rx="1.4" ry="0.9" transform="rotate(91 96.2 19.4)" fill="#5765af" opacity="1"/>
<ellipse cx="17.2" cy="16.7" rx="1.1" ry="0.6" transform="rotate(99 17.2 16.7)" fill="#5260aa" opacity="1"/>
<ellipse cx="55.7" cy="21.2" rx="1.1" ry="0.7" transform="rotate(151 55.7 21.2)" fill="#5f6db7" opacity="1"/>
<ellipse cx="92.0" cy="18.2" rx="1.0" ry="1.0" transform="rotate(83 92.0 18.2)" fill="#5967b1" opacity="1"/>
<ellipse cx="50.3" cy="38.1" rx="1.5" ry="0.6" transform="rotate(126 50.3 38.1)" fill="#5b69b3" opacity="1"/>
<ellipse cx="73.0" cy="36.6" rx="1.2" ry="0.7" transform="rotate(92 73.0 36.6)" fill="#44529c" opacity="1"/>
<ellipse cx="80.6" cy="36.6" rx="1.7" ry="1.0" transform="rotate(125 80.6 36.6)" fill="#5967b1" opacity="1"/>
<ellipse cx="75.6" cy="36.6" rx="1.6" ry="0.6" transform="rotate(62 75.6 36.6)" fill="#515fa9" opacity="1"/>
<ellipse cx="-0.9" cy="33.7" rx="1.5" ry="0.8" transform="rotate(42 -0.9 33.7)" fill="#5e6cb6" opacity="1"/>
<ellipse cx="52.1" cy="35.7" rx="1.8" ry="0.9" transform="rotate(126 52.1 35.7)" fill="#5967b1" opacity="1"/>
<ellipse cx="97.4" cy="13.9" rx="1.5" ry="0.9" transform="rotate(46 97.4 13.9)" fill="#4f5da7" opacity="1"/>
<ellipse cx="3.1" cy="24.1" rx="1.3" ry="0.6" transform="rotate(45 3.1 24.1)" fill="#5d6bb5" opacity="1"/>
<ellipse cx="53.8" cy="42.7" rx="1.8" ry="0.8" transform="rotate(179 53.8 42.7)" fill="#5563ad" opacity="1"/>
<ellipse cx="80.1" cy="17.0" rx="1.5" ry="0.9" transform="rotate(8 80.1 17.0)" fill="#5e6cb6" opacity="1"/>
<ellipse cx="51.4" cy="48.1" rx="1.3" ry="0.7" transform="rotate(118 51.4 48.1)" fill="#5361ab" opacity="1"/>
<ellipse cx="22.8" cy="15.0" rx="1.1" ry="0.9" transform="rotate(70 22.8 15.0)" fill="#5d6bb5" opacity="1"/>
<ellipse cx="96.7" cy="27.0" rx="1.4" ry="1.0" transform="rotate(130 96.7 27.0)" fill="#515fa9" opacity="1"/>
<ellipse cx="59.2" cy="19.3" rx="1.5" ry="0.8" transform="rotate(37 59.2 19.3)" fill="#45539d" opacity="1"/>
<ellipse cx="51.5" cy="19.9" rx="1.4" ry="0.9" transform="rotate(82 51.5 19.9)" fill="#4b59a3" opacity="1"/>
<ellipse cx="57.0" cy="37.5" rx="1.6" ry="0.8" transform="rotate(180 57.0 37.5)" fill="#5e6cb6" opacity="1"/>
<ellipse cx="72.5" cy="26.7" rx="1.1" ry="1.0" transform="rotate(141 72.5 26.7)" fill="#5563ad" opacity="1"/>
<ellipse cx="34.4" cy="28.7" rx="1.5" ry="0.8" transform="rotate(107 34.4 28.7)" fill="#5563ad" opacity="1"/>
<ellipse cx="74.4" cy="23.8" rx="1.2" ry="1.0" transform="rotate(165 74.4 23.8)" fill="#5c6ab4" opacity="1"/>
<ellipse cx="2.0" cy="16.1" rx="1.2" ry="0.8" transform="rotate(112 2.0 16.1)" fill="#46549e" opacity="1"/>
<ellipse cx="53.8" cy="50.1" rx="1.3" ry="0.8" transform="rotate(38 53.8 50.1)" fill="#4d5ba5" opacity="1"/>
<ellipse cx="5.5" cy="19.6" rx="1.6" ry="0.8" transform="rotate(138 5.5 19.6)" fill="#4957a1" opacity="1"/>
<ellipse cx="41.0" cy="27.9" rx="1.6" ry="0.7" transform="rotate(118 41.0 27.9)" fill="#5f6db7" opacity="1"/>
<ellipse cx="6.0" cy="17.4" rx="1.5" ry="0.8" transform="rotate(123 6.0 17.4)" fill="#4c5aa4" opacity="1"/>
<ellipse cx="76.6" cy="17.0" rx="1.2" ry="0.9" transform="rotate(15 76.6 17.0)" fill="#4c5aa4" opacity="1"/>
<ellipse cx="26.7" cy="21.0" rx="1.3" ry="0.9" transform="rotate(66 26.7 21.0)" fill="#47559f" opacity="1"/>
<ellipse cx="79.4" cy="30.6" rx="1.3" ry="0.8" transform="rotate(168 79.4 30.6)" fill="#5d6bb5" opacity="1"/>
<ellipse cx="87.3" cy="29.2" rx="1.0" ry="0.8" transform="rotate(98 87.3 29.2)" fill="#5361ab" opacity="1"/>
<ellipse cx="79.6" cy="16.3" rx="1.4" ry="0.9" transform="rotate(15 79.6 16.3)" fill="#46549e" opacity="1"/>
<ellipse cx="63.8" cy="27.1" rx="1.2" ry="0.9" transform="rotate(94 63.8 27.1)" fill="#5967b1" opacity="1"/>
<ellipse cx="48.1" cy="44.5" rx="1.6" ry="0.9" transform="rotate(165 48.1 44.5)" fill="#4f5da7" opacity="1"/>
<ellipse cx="79.3" cy="37.6" rx="1.3" ry="0.7" transform="rotate(133 79.3 37.6)" fill="#5f6db7" opacity="1"/>
<ellipse cx="36.1" cy="22.5" rx="1.2" ry="0.8" transform="rotate(53 36.1 22.5)" fill="#5f6db7" opacity="1"/>
<ellipse cx="4.0" cy="30.9" rx="1.1" ry="0.9" transform="rotate(140 4.0 30.9)" fill="#4957a1" opacity="1"/>
<ellipse cx="4.3" cy="39.8" rx="1.5" ry="1.0" transform="rotate(7 4.3 39.8)" fill="#47559f" opacity="1"/>
<ellipse cx="16.7" cy="25.4" rx="1.2" ry="0.9" transform="rotate(107 16.7 25.4)" fill="#4a58a2" opacity="1"/>
<ellipse cx="16.8" cy="29.2" rx="1.1" ry="0.9" transform="rotate(56 16.8 29.2)" fill="#5361ab" opacity="1"/>
<ellipse cx="46.9" cy="25.6" rx="1.0" ry="1.0" transform="rotate(144 46.9 25.6)" fill="#4e5ca6" opacity="1"/>
<ellipse cx="51.5" cy="43.2" rx="1.2" ry="1.0" transform="rotate(118 51.5 43.2)" fill="#4a58a2" opacity="1"/>
<ellipse cx="-0.9" cy="40.6" rx="1.3" ry="0.9" transform="rotate(128 -0.9 40.6)" fill="#5462ac" opacity="1"/>
<ellipse cx="13.9" cy="21.8" rx="1.3" ry="0.7" transform="rotate(156 13.9 21.8)" fill="#5260aa" opacity="1"/>
<ellipse cx="-1.9" cy="61.4" rx="1.7" ry="0.9" transform="rotate(15 -1.9 61.4)" fill="#4b59a3" opacity="1"/>
<ellipse cx="70.7" cy="18.3" rx="1.4" ry="0.8" transform="rotate(172 70.7 18.3)" fill="#5462ac" opacity="1"/>
<ellipse cx="84.9" cy="30.6" rx="1.6" ry="0.8" transform="rotate(165 84.9 30.6)" fill="#46549e" opacity="1"/>
<ellipse cx="81.8" cy="24.9" rx="1.4" ry="0.8" transform="rotate(28 81.8 24.9)" fill="#5b69b3" opacity="1"/>
<ellipse cx="5.7" cy="30.7" rx="1.4" ry="0.9" transform="rotate(65 5.7 30.7)" fill="#5765af" opacity="1"/>
<ellipse cx="-0.7" cy="34.9" rx="1.6" ry="0.7" transform="rotate(102 -0.7 34.9)" fill="#505ea8" opacity="1"/>
<ellipse cx="-0.9" cy="71.5" rx="1.6" ry="0.7" transform="rotate(111 -0.9 71.5)" fill="#4c5aa4" opacity="1"/>
<ellipse cx="24.0" cy="24.4" rx="1.6" ry="0.7" transform="rotate(170 24.0 24.4)" fill="#5361ab" opacity="1"/>
<ellipse cx="71.4" cy="32.2" rx="1.7" ry="0.6" transform="rotate(25 71.4 32.2)" fill="#46549e" opacity="1"/>
<ellipse cx="7.1" cy="26.0" rx="1.1" ry="0.6" transform="rotate(73 7.1 26.0)" fill="#46549e" opacity="1"/>
<ellipse cx="-0.1" cy="32.2" rx="1.3" ry="0.9" transform="rotate(19 -0.1 32.2)" fill="#4e5ca6" opacity="1"/>
<ellipse cx="61.6" cy="24.3" rx="1.1" ry="0.7" transform="rotate(104 61.6 24.3)" fill="#5765af" opacity="1"/>
<ellipse cx="53.1" cy="45.9" rx="1.4" ry="0.7" transform="rotate(164 53.1 45.9)" fill="#5f6db7" opacity="1"/>
<ellipse cx="82.2" cy="23.5" rx="1.4" ry="0.6" transform="rotate(6 82.2 23.5)" fill="#4957a1" opacity="1"/>
<ellipse cx="64.8" cy="30.8" rx="1.5" ry="0.9" transform="rotate(69 64.8 30.8)" fill="#5462ac" opacity="1"/>
<ellipse cx="55.7" cy="22.8" rx="1.4" ry="0.7" transform="rotate(102 55.7 22.8)" fill="#4d5ba5" opacity="1"/>
<ellipse cx="66.0" cy="21.1" rx="1.8" ry="0.8" transform="rotate(85 66.0 21.1)" fill="#4f5da7" opacity="1"/>
<ellipse cx="51.3" cy="43.7" rx="1.3" ry="1.0" transform="rotate(58 51.3 43.7)" fill="#45539d" opacity="1"/>
<ellipse cx="74.2" cy="30.6" rx="1.5" ry="0.6" transform="rotate(22 74.2 30.6)" fill="#505ea8" opacity="1"/>
<ellipse cx="49.0" cy="36.1" rx="1.0" ry="0.9" transform="rotate(95 49.0 36.1)" fill="#4a58a2" opacity="1"/>
<ellipse cx="21.9" cy="16.6" rx="1.7" ry="1.0" transform="rotate(120 21.9 16.6)" fill="#5c6ab4" opacity="1"/>
<ellipse cx="94.4" cy="12.5" rx="1.2" ry="0.7" transform="rotate(58 94.4 12.5)" fill="#45539d" opacity="1"/>
<ellipse cx="1.2" cy="66.0" rx="1.2" ry="0.8" transform="rotate(168 1.2 66.0)" fill="#5f6db7" opacity="1"/>
<ellipse cx="45.9" cy="24.8" rx="1.2" ry="1.0" transform="rotate(161 45.9 24.8)" fill="#4957a1" opacity="1"/>
<ellipse cx="83.0" cy="33.6" rx="1.4" ry="0.7" transform="rotate(158 83.0 33.6)" fill="#5f6db7" opacity="1"/>
<ellipse cx="3.1" cy="18.8" rx="1.6" ry="0.7" transform="rotate(162 3.1 18.8)" fill="#5c6ab4" opacity="1"/>
<ellipse cx="70.3" cy="20.5" rx="1.6" ry="1.0" transform="rotate(80 70.3 20.5)" fill="#46549e" opacity="1"/>
<ellipse cx="70.0" cy="24.2" rx="1.1" ry="0.7" transform="rotate(120 70.0 24.2)" fill="#5a68b2" opacity="1"/>
<ellipse cx="58.8" cy="29.4" rx="1.2" ry="0.9" transform="rotate(16 58.8 29.4)" fill="#4b59a3" opacity="1"/>
<ellipse cx="74.6" cy="27.1" rx="1.2" ry="0.8" transform="rotate(34 74.6 27.1)" fill="#5d6bb5" opacity="1"/>
<ellipse cx="98.2" cy="14.5" rx="1.4" ry="0.9" transform="rotate(69 98.2 14.5)" fill="#5e6cb6" opacity="1"/>
<ellipse cx="48.7" cy="23.2" rx="1.4" ry="0.9" transform="rotate(65 48.7 23.2)" fill="#5664ae" opacity="1"/>
<ellipse cx="77.4" cy="43.2" rx="1.4" ry="0.9" transform="rotate(123 77.4 43.2)" fill="#5260aa" opacity="1"/>
<ellipse cx="94.5" cy="22.8" rx="1.6" ry="0.7" transform="rotate(109 94.5 22.8)" fill="#4a58a2" opacity="1"/>
<ellipse cx="16.3" cy="21.5" rx="1.0" ry="0.8" transform="rotate(78 16.3 21.5)" fill="#505ea8" opacity="1"/>
<ellipse cx="55.7" cy="44.8" rx="1.6" ry="0.7" transform="rotate(26 55.7 44.8)" fill="#4c5aa4" opacity="1"/>
<ellipse cx="2.3" cy="31.2" rx="1.5" ry="0.8" transform="rotate(48 2.3 31.2)" fill="#5462ac" opacity="1"/>
<ellipse cx="15.4" cy="27.7" rx="1.1" ry="0.9" transform="rotate(150 15.4 27.7)" fill="#5a68b2" opacity="1"/>
<ellipse cx="4.2" cy="36.9" rx="1.3" ry="0.7" transform="rotate(175 4.2 36.9)" fill="#45539d" opacity="1"/>
<ellipse cx="98.0" cy="21.1" rx="1.4" ry="0.9" transform="rotate(7 98.0 21.1)" fill="#4a58a2" opacity="1"/>
<ellipse cx="88.3" cy="20.9" rx="1.3" ry="0.7" transform="rotate(76 88.3 20.9)" fill="#46549e" opacity="1"/>
<ellipse cx="21.3" cy="27.6" rx="1.4" ry="0.7" transform="rotate(83 21.3 27.6)" fill="#5e6cb6" opacity="1"/>
<ellipse cx="2.0" cy="36.5" rx="1.5" ry="0.6" transform="rotate(62 2.0 36.5)" fill="#5765af" opacity="1"/>
<ellipse cx="14.6" cy="24.6" rx="1.2" ry="0.8" transform="rotate(56 14.6 24.6)" fill="#505ea8" opacity="1"/>
<ellipse cx="85.5" cy="24.7" rx="1.3" ry="0.6" transform="rotate(124 85.5 24.7)" fill="#4e5ca6" opacity="1"/>
<ellipse cx="16.5" cy="28.1" rx="1.3" ry="1.0" transform="rotate(129 16.5 28.1)" fill="#4b59a3" opacity="1"/>
<ellipse cx="34.6" cy="21.6" rx="1.7" ry="0.7" transform="rotate(138 34.6 21.6)" fill="#5866b0" opacity="1"/>
<ellipse cx="90.0" cy="13.7" rx="1.3" ry="0.8" transform="rotate(15 90.0 13.7)" fill="#5c6ab4" opacity="1"/>
<ellipse cx="37.9" cy="26.7" rx="1.0" ry="0.7" transform="rotate(107 37.9 26.7)" fill="#44529c" opacity="1"/>
<ellipse cx="53.2" cy="20.6" rx="1.6" ry="0.7" transform="rotate(131 53.2 20.6)" fill="#5664ae" opacity="1"/>
<ellipse cx="12.9" cy="24.7" rx="1.2" ry="0.9" transform="rotate(73 12.9 24.7)" fill="#4e5ca6" opacity="1"/>
<ellipse cx="85.8" cy="25.9" rx="1.2" ry="0.7" transform="rotate(39 85.8 25.9)" fill="#45539d" opacity="1"/>
<ellipse cx="0.5" cy="50.0" rx="1.5" ry="0.9" transform="rotate(176 0.5 50.0)" fill="#4c5aa4" opacity="1"/>
<ellipse cx="86.1" cy="26.5" rx="1.5" ry="0.6" transform="rotate(77 86.1 26.5)" fill="#4e5ca6" opacity="1"/>
<ellipse cx="4.1" cy="35.3" rx="1.3" ry="0.8" transform="rotate(50 4.1 35.3)" fill="#4856a0" opacity="1"/>
<ellipse cx="22.3" cy="18.0" rx="1.3" ry="0.8" transform="rotate(27 22.3 18.0)" fill="#5462ac" opacity="1"/>
<ellipse cx="4.4" cy="36.6" rx="1.0" ry="0.8" transform="rotate(105 4.4 36.6)" fill="#515fa9" opacity="1"/>
<ellipse cx="31.0" cy="27.6" rx="1.0" ry="0.7" transform="rotate(161 31.0 27.6)" fill="#5361ab" opacity="1"/>
<ellipse cx="90.2" cy="14.8" rx="1.1" ry="0.8" transform="rotate(56 90.2 14.8)" fill="#4e5ca6" opacity="1"/>
<ellipse cx="97.1" cy="21.4" rx="1.2" ry="0.7" transform="rotate(122 97.1 21.4)" fill="#4a58a2" opacity="1"/>
<ellipse cx="-1.9" cy="44.9" rx="1.3" ry="0.7" transform="rotate(89 -1.9 44.9)" fill="#5664ae" opacity="1"/>
<ellipse cx="53.6" cy="49.7" rx="1.4" ry="0.9" transform="rotate(174 53.6 49.7)" fill="#4d5ba5" opacity="1"/>
<ellipse cx="47.8" cy="46.0" rx="1.3" ry="0.7" transform="rotate(135 47.8 46.0)" fill="#5260aa" opacity="1"/>
<ellipse cx="22.0" cy="27.3" rx="1.3" ry="0.7" transform="rotate(92 22.0 27.3)" fill="#47559f" opacity="1"/>
<ellipse cx="4.4" cy="16.6" rx="1.1" ry="0.9" transform="rotate(20 4.4 16.6)" fill="#505ea8" opacity="1"/>
<ellipse cx="76.3" cy="41.1" rx="1.1" ry="0.9" transform="rotate(157 76.3 41.1)" fill="#45539d" opacity="1"/>
<ellipse cx="78.8" cy="35.8" rx="1.6" ry="0.7" transform="rotate(129 78.8 35.8)" fill="#4d5ba5" opacity="1"/>
<ellipse cx="55.5" cy="37.5" rx="1.6" ry="0.8" transform="rotate(150 55.5 37.5)" fill="#5a68b2" opacity="1"/>
<ellipse cx="65.9" cy="26.2" rx="1.1" ry="0.6" transform="rotate(105 65.9 26.2)" fill="#5e6cb6" opacity="1"/>
<ellipse cx="96.4" cy="20.5" rx="1.6" ry="0.8" transform="rotate(114 96.4 20.5)" fill="#4f5da7" opacity="1"/>
<ellipse cx="2.9" cy="54.9" rx="1.1" ry="0.6" transform="rotate(51 2.9 54.9)" fill="#5866b0" opacity="1"/>
<ellipse cx="98.8" cy="19.6" rx="1.3" ry="0.6" transform="rotate(98 98.8 19.6)" fill="#515fa9" opacity="1"/>
<ellipse cx="79.1" cy="21.2" rx="1.1" ry="0.6" transform="rotate(168 79.1 21.2)" fill="#4b59a3" opacity="1"/>
<ellipse cx="47.5" cy="19.7" rx="1.3" ry="0.6" transform="rotate(102 47.5 19.7)" fill="#4856a0" opacity="1"/>
<ellipse cx="61.4" cy="28.8" rx="1.2" ry="0.8" transform="rotate(66 61.4 28.8)" fill="#4b59a3" opacity="1"/>
<ellipse cx="3.2" cy="16.3" rx="1.7" ry="0.7" transform="rotate(14 3.2 16.3)" fill="#4957a1" opacity="1"/>
<ellipse cx="47.1" cy="37.2" rx="1.6" ry="0.8" transform="rotate(10 47.1 37.2)" fill="#5361ab" opacity="1"/>
<ellipse cx="71.5" cy="23.0" rx="1.0" ry="0.7" transform="rotate(21 71.5 23.0)" fill="#46549e" opacity="1"/>
<ellipse cx="-0.9" cy="25.0" rx="1.8" ry="0.6" transform="rotate(95 -0.9 25.0)" fill="#5a68b2" opacity="1"/>
<ellipse cx="98.0" cy="18.5" rx="1.8" ry="0.8" transform="rotate(127 98.0 18.5)" fill="#4b59a3" opacity="1"/>
<ellipse cx="90.2" cy="13.9" rx="1.5" ry="0.7" transform="rotate(70 90.2 13.9)" fill="#4e5ca6" opacity="1"/>
<ellipse cx="7.5" cy="32.4" rx="1.6" ry="0.7" transform="rotate(134 7.5 32.4)" fill="#5361ab" opacity="1"/>
<ellipse cx="67.0" cy="23.0" rx="1.1" ry="0.7" transform="rotate(63 67.0 23.0)" fill="#505ea8" opacity="1"/>
<ellipse cx="-1.0" cy="42.4" rx="1.3" ry="0.7" transform="rotate(97 -1.0 42.4)" fill="#5e6cb6" opacity="1"/>
<ellipse cx="69.6" cy="23.1" rx="1.2" ry="0.9" transform="rotate(171 69.6 23.1)" fill="#4d5ba5" opacity="1"/>
<ellipse cx="98.3" cy="21.3" rx="1.5" ry="0.8" transform="rotate(116 98.3 21.3)" fill="#4957a1" opacity="1"/>
<ellipse cx="49.2" cy="46.3" rx="1.1" ry="0.9" transform="rotate(124 49.2 46.3)" fill="#505ea8" opacity="1"/>
<ellipse cx="37.0" cy="26.2" rx="1.5" ry="0.8" transform="rotate(93 37.0 26.2)" fill="#44529c" opacity="1"/>
<ellipse cx="92.5" cy="21.5" rx="1.4" ry="1.0" transform="rotate(133 92.5 21.5)" fill="#4c5aa4" opacity="1"/>
<ellipse cx="47.8" cy="26.4" rx="1.7" ry="0.9" transform="rotate(169 47.8 26.4)" fill="#5b69b3" opacity="1"/>
<ellipse cx="78.9" cy="42.9" rx="1.8" ry="0.6" transform="rotate(157 78.9 42.9)" fill="#5765af" opacity="1"/>
<ellipse cx="85.8" cy="24.2" rx="1.2" ry="0.9" transform="rotate(13 85.8 24.2)" fill="#5361ab" opacity="1"/>
<ellipse cx="77.8" cy="41.7" rx="1.2" ry="0.9" transform="rotate(154 77.8 41.7)" fill="#5967b1" opacity="1"/>
<ellipse cx="78.8" cy="21.5" rx="1.3" ry="0.6" transform="rotate(7 78.8 21.5)" fill="#4d5ba5" opacity="1"/>
<ellipse cx="9.9" cy="23.3" rx="1.3" ry="0.9" transform="rotate(111 9.9 23.3)" fill="#5d6bb5" opacity="1"/>
<ellipse cx="61.9" cy="29.1" rx="1.5" ry="0.9" transform="rotate(33 61.9 29.1)" fill="#47559f" opacity="1"/>
<ellipse cx="11.1" cy="19.4" rx="1.8" ry="0.8" transform="rotate(64 11.1 19.4)" fill="#4957a1" opacity="1"/>
<ellipse cx="72.7" cy="33.9" rx="1.2" ry="0.8" transform="rotate(26 72.7 33.9)" fill="#5563ad" opacity="1"/>
<ellipse cx="40.5" cy="29.2" rx="1.4" ry="1.0" transform="rotate(53 40.5 29.2)" fill="#5765af" opacity="1"/>
<ellipse cx="66.1" cy="27.1" rx="1.3" ry="0.7" transform="rotate(161 66.1 27.1)" fill="#4b59a3" opacity="1"/>
<ellipse cx="7.0" cy="34.1" rx="1.3" ry="0.9" transform="rotate(120 7.0 34.1)" fill="#4d5ba5" opacity="1"/>
<ellipse cx="0.4" cy="50.2" rx="1.4" ry="0.7" transform="rotate(84 0.4 50.2)" fill="#4c5aa4" opacity="1"/>
<ellipse cx="4.7" cy="40.0" rx="1.3" ry="0.9" transform="rotate(39 4.7 40.0)" fill="#5f6db7" opacity="1"/>
<ellipse cx="73.2" cy="17.5" rx="1.1" ry="0.9" transform="rotate(112 73.2 17.5)" fill="#5866b0" opacity="1"/>
<ellipse cx="-0.4" cy="63.7" rx="1.8" ry="1.0" transform="rotate(4 -0.4 63.7)" fill="#4d5ba5" opacity="1"/>
<ellipse cx="52.3" cy="44.3" rx="1.1" ry="0.9" transform="rotate(54 52.3 44.3)" fill="#5260aa" opacity="1"/>
<ellipse cx="11.2" cy="17.8" rx="1.4" ry="0.7" transform="rotate(140 11.2 17.8)" fill="#4a58a2" opacity="1"/>
<ellipse cx="54.6" cy="39.8" rx="1.7" ry="0.6" transform="rotate(153 54.6 39.8)" fill="#4856a0" opacity="1"/>
<ellipse cx="0.9" cy="19.1" rx="1.2" ry="1.0" transform="rotate(116 0.9 19.1)" fill="#5b69b3" opacity="1"/>
<ellipse cx="2.7" cy="37.3" rx="1.1" ry="0.7" transform="rotate(20 2.7 37.3)" fill="#5d6bb5" opacity="1"/>
<ellipse cx="73.0" cy="27.9" rx="1.3" ry="0.8" transform="rotate(86 73.0 27.9)" fill="#4e5ca6" opacity="1"/>
<ellipse cx="4.3" cy="43.9" rx="1.4" ry="0.8" transform="rotate(40 4.3 43.9)" fill="#46549e" opacity="1"/>
<ellipse cx="47.1" cy="26.2" rx="1.6" ry="0.8" transform="rotate(2 47.1 26.2)" fill="#4f5da7" opacity="1"/>
<ellipse cx="96.0" cy="12.9" rx="1.5" ry="1.0" transform="rotate(66 96.0 12.9)" fill="#5462ac" opacity="1"/>
<ellipse cx="3.4" cy="18.0" rx="1.2" ry="0.7" transform="rotate(143 3.4 18.0)" fill="#4f5da7" opacity="1"/>
<ellipse cx="82.3" cy="32.0" rx="1.3" ry="0.9" transform="rotate(142 82.3 32.0)" fill="#5563ad" opacity="1"/>
<ellipse cx="2.9" cy="49.7" rx="1.4" ry="1.0" transform="rotate(115 2.9 49.7)" fill="#44529c" opacity="1"/>
<ellipse cx="72.7" cy="37.4" rx="1.5" ry="1.0" transform="rotate(165 72.7 37.4)" fill="#46549e" opacity="1"/>
<ellipse cx="77.2" cy="38.7" rx="1.6" ry="0.8" transform="rotate(81 77.2 38.7)" fill="#505ea8" opacity="1"/>
<ellipse cx="72.5" cy="16.8" rx="1.1" ry="0.9" transform="rotate(120 72.5 16.8)" fill="#5361ab" opacity="1"/>
<ellipse cx="9.5" cy="19.5" rx="1.2" ry="1.0" transform="rotate(101 9.5 19.5)" fill="#5d6bb5" opacity="1"/>
<ellipse cx="83.4" cy="33.8" rx="1.5" ry="0.8" transform="rotate(177 83.4 33.8)" fill="#4d5ba5" opacity="1"/>
<ellipse cx="68.7" cy="26.4" rx="1.2" ry="0.9" transform="rotate(103 68.7 26.4)" fill="#4b59a3" opacity="1"/>
<ellipse cx="47.4" cy="26.3" rx="1.6" ry="0.6" transform="rotate(55 47.4 26.3)" fill="#5b69b3" opacity="1"/>
<ellipse cx="1.6" cy="54.1" rx="1.5" ry="0.8" transform="rotate(60 1.6 54.1)" fill="#4856a0" opacity="1"/>
<ellipse cx="79.7" cy="18.3" rx="1.6" ry="0.7" transform="rotate(36 79.7 18.3)" fill="#5260aa" opacity="1"/>
<ellipse cx="59.8" cy="19.7" rx="1.6" ry="0.8" transform="rotate(162 59.8 19.7)" fill="#5d6bb5" opacity="1"/>
<ellipse cx="67.9" cy="34.2" rx="1.8" ry="0.9" transform="rotate(52 67.9 34.2)" fill="#5c6ab4" opacity="1"/>
<ellipse cx="71.7" cy="28.3" rx="1.2" ry="0.6" transform="rotate(97 71.7 28.3)" fill="#4b59a3" opacity="1"/>
<ellipse cx="27.7" cy="27.5" rx="1.1" ry="0.8" transform="rotate(49 27.7 27.5)" fill="#4b59a3" opacity="1"/>
<ellipse cx="86.6" cy="22.0" rx="1.7" ry="0.9" transform="rotate(110 86.6 22.0)" fill="#5361ab" opacity="1"/>
<ellipse cx="72.4" cy="44.3" rx="1.5" ry="1.0" transform="rotate(140 72.4 44.3)" fill="#4b59a3" opacity="1"/>
<ellipse cx="55.4" cy="33.3" rx="1.2" ry="1.0" transform="rotate(20 55.4 33.3)" fill="#5e6cb6" opacity="1"/>
<ellipse cx="89.4" cy="18.6" rx="1.5" ry="0.6" transform="rotate(178 89.4 18.6)" fill="#4c5aa4" opacity="1"/>
<ellipse cx="86.4" cy="16.2" rx="1.5" ry="0.6" transform="rotate(5 86.4 16.2)" fill="#5361ab" opacity="1"/>
<ellipse cx="51.4" cy="23.5" rx="1.4" ry="0.7" transform="rotate(90 51.4 23.5)" fill="#4957a1" opacity="1"/>
<ellipse cx="69.5" cy="37.3" rx="1.4" ry="0.6" transform="rotate(88 69.5 37.3)" fill="#5361ab" opacity="1"/>
<ellipse cx="11.7" cy="30.4" rx="1.3" ry="0.9" transform="rotate(169 11.7 30.4)" fill="#5f6db7" opacity="1"/>
<ellipse cx="0.0" cy="41.6" rx="1.5" ry="0.9" transform="rotate(110 0.0 41.6)" fill="#5563ad" opacity="1"/>
<ellipse cx="92.6" cy="17.6" rx="1.4" ry="1.0" transform="rotate(6 92.6 17.6)" fill="#47559f" opacity="1"/>
<ellipse cx="50.7" cy="47.0" rx="1.6" ry="0.9" transform="rotate(0 50.7 47.0)" fill="#45539d" opacity="1"/>
<ellipse cx="-0.5" cy="58.3" rx="1.2" ry="0.8" transform="rotate(95 -0.5 58.3)" fill="#4d5ba5" opacity="1"/>
<ellipse cx="15.8" cy="21.4" rx="1.2" ry="0.8" transform="rotate(141 15.8 21.4)" fill="#4d5ba5" opacity="1"/>
<ellipse cx="22.2" cy="57.1" rx="1.8" ry="1.3" transform="rotate(46 22.2 57.1)" fill="#a4aadc" opacity="0.8"/>
<ellipse cx="16.7" cy="39.0" rx="1.9" ry="1.2" transform="rotate(131 16.7 39.0)" fill="#9ea4d6" opacity="0.8"/>
<ellipse cx="78.1" cy="52.2" rx="1.5" ry="1.5" transform="rotate(44 78.1 52.2)" fill="#9298ca" opacity="0.8"/>
<ellipse cx="40.0" cy="71.6" rx="2.0" ry="1.2" transform="rotate(164 40.0 71.6)" fill="#a7addf" opacity="0.8"/>
<ellipse cx="37.3" cy="34.8" rx="2.7" ry="1.5" transform="rotate(61 37.3 34.8)" fill="#a2a8da" opacity="0.8"/>
<ellipse cx="36.5" cy="41.3" rx="2.3" ry="1.5" transform="rotate(86 36.5 41.3)" fill="#a2a8da" opacity="0.8"/>
<ellipse cx="36.6" cy="31.8" rx="2.9" ry="1.0" transform="rotate(37 36.6 31.8)" fill="#a4aadc" opacity="0.8"/>
<ellipse cx="95.4" cy="69.1" rx="1.9" ry="1.6" transform="rotate(26 95.4 69.1)" fill="#a0a6d8" opacity="0.8"/>
<ellipse cx="93.9" cy="37.3" rx="1.6" ry="1.4" transform="rotate(159 93.9 37.3)" fill="#a0a6d8" opacity="0.8"/>
<ellipse cx="94.3" cy="48.5" rx="2.0" ry="1.0" transform="rotate(49 94.3 48.5)" fill="#a6acde" opacity="0.8"/>
<ellipse cx="33.2" cy="31.1" rx="1.9" ry="1.0" transform="rotate(22 33.2 31.1)" fill="#9aa0d2" opacity="0.8"/>
<ellipse cx="52.8" cy="53.4" rx="2.6" ry="1.3" transform="rotate(170 52.8 53.4)" fill="#8e94c6" opacity="0.8"/>
<ellipse cx="20.6" cy="32.3" rx="1.0" ry="0.8" transform="rotate(166 20.6 32.3)" fill="#5a62a8" opacity="1"/>
<ellipse cx="14.3" cy="43.2" rx="1.2" ry="0.6" transform="rotate(143 14.3 43.2)" fill="#676fb5" opacity="1"/>
<ellipse cx="44.6" cy="54.9" rx="1.4" ry="0.7" transform="rotate(34 44.6 54.9)" fill="#666eb4" opacity="1"/>
<ellipse cx="15.5" cy="60.7" rx="0.9" ry="0.5" transform="rotate(40 15.5 60.7)" fill="#626ab0" opacity="1"/>
<ellipse cx="48.6" cy="57.1" rx="1.1" ry="0.6" transform="rotate(3 48.6 57.1)" fill="#545ca2" opacity="1"/>
<ellipse cx="60.7" cy="44.9" rx="1.1" ry="0.7" transform="rotate(57 60.7 44.9)" fill="#555da3" opacity="1"/>
<ellipse cx="27" cy="39" rx="3.5" ry="2.2" transform="rotate(60 27 39)" fill="#a4aad8" opacity="0.85"/><ellipse cx="28" cy="40" rx="1.6" ry="1.0" transform="rotate(60 28 40)" fill="#6a74b8" opacity="0.85"/><ellipse cx="20" cy="52" rx="3" ry="1.6" transform="rotate(-30 20 52)" fill="#9aa2d4" opacity="0.85"/><ellipse cx="36" cy="47" rx="2.5" ry="1.4" transform="rotate(20 36 47)" fill="#aab0dc" opacity="0.85"/><ellipse cx="63" cy="45" rx="2" ry="1.2" transform="rotate(80 63 45)" fill="#b0b4de" opacity="0.85"/><ellipse cx="90" cy="40" rx="2.5" ry="1.5" transform="rotate(40 90 40)" fill="#8a92cc" opacity="0.85"/><ellipse cx="85" cy="60" rx="2" ry="1.2" transform="rotate(0 85 60)" fill="#9aa0d2" opacity="0.85"/>
</g></g>
<text x="5.2" y="64.2" font-size="6.6" font-weight="bold" fill="#111" stroke="#111" stroke-width="0.25">50 µm</text>
<rect x="5.5" y="66.0" width="23.5" height="1.4" fill="#111"/>
<rect x="0" y="0" width="97.4" height="70.0" fill="none" stroke="#6e6e6e" stroke-width="1"/>
</g>
<g transform="translate(138.9,245.3)"><g clip-path="url(#clip2)"><g filter="url(#blur2)">
<rect x="-2" y="-2" width="100.8" height="74.0" fill="#f6f2f3"/>
<path d="M-3.0,14.0 C-1.2,4.1 4.5,13.5 8.0,13.5 C11.5,13.5 15.2,13.8 18.0,14.0 C20.8,14.2 22.7,14.7 25.0,15.0 C27.3,15.3 29.5,16.1 32.0,16.0 C34.5,15.9 37.8,15.2 40.0,14.5 C42.2,13.8 43.7,12.7 45.0,12.0 C46.3,11.3 47.0,10.3 48.0,10.5 C49.0,10.7 50.0,11.6 51.0,13.0 C52.0,14.4 52.8,18.8 54.0,19.0 C55.2,19.2 56.7,15.2 58.0,14.0 C59.3,12.8 60.7,11.8 62.0,12.0 C63.3,12.2 64.7,14.0 66.0,15.0 C67.3,16.0 68.7,18.2 70.0,18.0 C71.3,17.8 72.3,15.2 74.0,14.0 C75.7,12.8 78.0,11.8 80.0,11.0 C82.0,10.2 84.0,9.7 86.0,9.0 C88.0,8.3 89.7,7.3 92.0,7.0 C94.3,6.7 98.7,-4.0 100.0,7.0 C101.3,18.0 117.2,62.0 100.0,73.0 C82.8,84.0 14.2,82.8 -3.0,73.0 C-20.2,63.2 -4.8,23.9 -3.0,14.0Z" fill="#cfcae0" opacity="1"/>
<path d="M-3.0,18.0 C-1.2,8.8 4.5,17.5 8.0,17.5 C11.5,17.5 15.2,17.8 18.0,18.0 C20.8,18.2 22.7,18.7 25.0,19.0 C27.3,19.3 29.5,20.1 32.0,20.0 C34.5,19.9 37.8,19.2 40.0,18.5 C42.2,17.8 43.7,16.7 45.0,16.0 C46.3,15.3 47.0,14.3 48.0,14.5 C49.0,14.7 50.0,15.6 51.0,17.0 C52.0,18.4 52.8,22.8 54.0,23.0 C55.2,23.2 56.7,19.2 58.0,18.0 C59.3,16.8 60.7,15.8 62.0,16.0 C63.3,16.2 64.7,18.0 66.0,19.0 C67.3,20.0 68.7,22.2 70.0,22.0 C71.3,21.8 72.3,19.2 74.0,18.0 C75.7,16.8 78.0,15.8 80.0,15.0 C82.0,14.2 84.0,13.7 86.0,13.0 C88.0,12.3 89.7,11.3 92.0,11.0 C94.3,10.7 98.7,0.7 100.0,11.0 C101.3,21.3 117.2,62.7 100.0,73.0 C82.8,83.3 14.2,82.2 -3.0,73.0 C-20.2,63.8 -4.8,27.2 -3.0,18.0Z" fill="#c6c1db" opacity="1"/>
<path d="M44.0,16.0 C44.7,14.7 48.0,19.7 50.0,20.0 C52.0,20.3 54.3,17.3 56.0,18.0 C57.7,18.7 59.7,21.7 60.0,24.0 C60.3,26.3 59.3,30.3 58.0,32.0 C56.7,33.7 54.0,34.7 52.0,34.0 C50.0,33.3 47.3,31.0 46.0,28.0 C44.7,25.0 43.3,17.3 44.0,16.0Z" fill="#e4e0ec" opacity="1"/>
<path d="M-3.0,28.0 C-1.2,20.4 4.5,27.5 8.0,27.5 C11.5,27.5 15.2,27.8 18.0,28.0 C20.8,28.2 22.7,28.7 25.0,29.0 C27.3,29.3 29.5,30.1 32.0,30.0 C34.5,29.9 37.8,29.2 40.0,28.5 C42.2,27.8 43.7,26.7 45.0,26.0 C46.3,25.3 47.0,24.3 48.0,24.5 C49.0,24.7 50.0,25.6 51.0,27.0 C52.0,28.4 52.8,32.8 54.0,33.0 C55.2,33.2 56.7,29.2 58.0,28.0 C59.3,26.8 60.7,25.8 62.0,26.0 C63.3,26.2 64.7,28.0 66.0,29.0 C67.3,30.0 68.7,32.2 70.0,32.0 C71.3,31.8 72.3,29.2 74.0,28.0 C75.7,26.8 78.0,25.8 80.0,25.0 C82.0,24.2 84.0,23.7 86.0,23.0 C88.0,22.3 89.7,21.3 92.0,21.0 C94.3,20.7 98.7,12.3 100.0,21.0 C101.3,29.7 117.2,64.3 100.0,73.0 C82.8,81.7 14.2,80.5 -3.0,73.0 C-20.2,65.5 -4.8,35.6 -3.0,28.0Z" fill="#bdb6d4" opacity="1"/>
<path d="M-3.0,17.0 C-0.8,7.9 6.2,17.5 10.0,18.5 C13.8,19.5 16.7,21.1 20.0,23.0 C23.3,24.9 26.7,27.8 30.0,30.0 C33.3,32.2 36.7,34.3 40.0,36.0 C43.3,37.7 46.7,39.2 50.0,40.0 C53.3,40.8 56.7,41.0 60.0,41.0 C63.3,41.0 66.7,40.5 70.0,40.0 C73.3,39.5 76.7,38.7 80.0,38.0 C83.3,37.3 86.7,36.5 90.0,36.0 C93.3,35.5 98.3,28.8 100.0,35.0 C101.7,41.2 117.2,66.7 100.0,73.0 C82.8,79.3 14.2,82.3 -3.0,73.0 C-20.2,63.7 -5.2,26.1 -3.0,17.0Z" fill="#8a7ca0" opacity="1"/>
<path d="M-3.0,18.5 C-0.8,9.7 6.2,19.0 10.0,20.0 C13.8,21.0 16.7,22.6 20.0,24.5 C23.3,26.4 26.7,29.3 30.0,31.5 C33.3,33.7 36.7,35.8 40.0,37.5 C43.3,39.2 46.7,40.7 50.0,41.5 C53.3,42.3 56.7,42.5 60.0,42.5 C63.3,42.5 66.7,42.0 70.0,41.5 C73.3,41.0 76.7,40.2 80.0,39.5 C83.3,38.8 86.7,38.0 90.0,37.5 C93.3,37.0 98.3,30.6 100.0,36.5 C101.7,42.4 117.2,66.9 100.0,73.0 C82.8,79.1 14.2,82.1 -3.0,73.0 C-20.2,63.9 -5.2,27.3 -3.0,18.5Z" fill="#bca2b4" opacity="1"/>
<path d="M-3.0,23.0 C-0.8,14.9 6.2,23.5 10.0,24.5 C13.8,25.5 16.7,27.1 20.0,29.0 C23.3,30.9 26.7,33.8 30.0,36.0 C33.3,38.2 36.7,40.3 40.0,42.0 C43.3,43.7 46.7,45.2 50.0,46.0 C53.3,46.8 56.7,47.0 60.0,47.0 C63.3,47.0 66.7,46.5 70.0,46.0 C73.3,45.5 76.7,44.7 80.0,44.0 C83.3,43.3 86.7,42.5 90.0,42.0 C93.3,41.5 98.3,35.8 100.0,41.0 C101.7,46.2 117.2,67.7 100.0,73.0 C82.8,78.3 14.2,81.3 -3.0,73.0 C-20.2,64.7 -5.2,31.1 -3.0,23.0Z" fill="#b4a9c8" opacity="1"/>
<path d="M-3.0,45.0 C-1.2,40.7 4.5,45.8 8.0,47.0 C11.5,48.2 14.7,50.2 18.0,52.0 C21.3,53.8 25.0,56.0 28.0,58.0 C31.0,60.0 33.7,61.5 36.0,64.0 C38.3,66.5 31.3,71.5 42.0,73.0 C52.7,74.5 90.3,73.0 100.0,73.0 C109.7,73.0 117.2,73.0 100.0,73.0 C82.8,73.0 14.2,77.7 -3.0,73.0 C-20.2,68.3 -4.8,49.3 -3.0,45.0Z" fill="#ece4ec" opacity="1"/>
<ellipse cx="87.1" cy="51.5" rx="1.5" ry="1.1" transform="rotate(83 87.1 51.5)" fill="#373567" opacity="1"/>
<ellipse cx="92.3" cy="64.8" rx="1.9" ry="0.9" transform="rotate(92 92.3 64.8)" fill="#494779" opacity="1"/>
<ellipse cx="33.0" cy="50.4" rx="1.5" ry="1.3" transform="rotate(93 33.0 50.4)" fill="#383668" opacity="1"/>
<ellipse cx="25.1" cy="51.1" rx="1.7" ry="1.0" transform="rotate(16 25.1 51.1)" fill="#3b396b" opacity="1"/>
<ellipse cx="46.6" cy="54.4" rx="2.0" ry="0.9" transform="rotate(80 46.6 54.4)" fill="#302e60" opacity="1"/>
<ellipse cx="81.6" cy="62.1" rx="1.3" ry="1.3" transform="rotate(91 81.6 62.1)" fill="#393769" opacity="1"/>
<ellipse cx="54.0" cy="69.3" rx="1.5" ry="1.0" transform="rotate(52 54.0 69.3)" fill="#454375" opacity="1"/>
<ellipse cx="17.8" cy="33.5" rx="1.9" ry="1.2" transform="rotate(176 17.8 33.5)" fill="#474577" opacity="1"/>
<ellipse cx="67.1" cy="62.1" rx="1.7" ry="1.2" transform="rotate(144 67.1 62.1)" fill="#323062" opacity="1"/>
<ellipse cx="59.5" cy="67.6" rx="1.9" ry="1.1" transform="rotate(12 59.5 67.6)" fill="#403e70" opacity="1"/>
<ellipse cx="74.4" cy="71.3" rx="1.7" ry="0.9" transform="rotate(131 74.4 71.3)" fill="#2f2d5f" opacity="1"/>
<ellipse cx="85.5" cy="60.7" rx="1.8" ry="1.2" transform="rotate(102 85.5 60.7)" fill="#484678" opacity="1"/>
<ellipse cx="62.4" cy="47.1" rx="1.4" ry="1.0" transform="rotate(4 62.4 47.1)" fill="#323062" opacity="1"/>
<ellipse cx="63.9" cy="61.0" rx="1.7" ry="1.1" transform="rotate(57 63.9 61.0)" fill="#353365" opacity="1"/>
<ellipse cx="67.2" cy="69.2" rx="1.4" ry="1.3" transform="rotate(164 67.2 69.2)" fill="#363466" opacity="1"/>
<ellipse cx="94.0" cy="53.3" rx="2.0" ry="1.2" transform="rotate(60 94.0 53.3)" fill="#353365" opacity="1"/>
<ellipse cx="50.7" cy="46.9" rx="1.1" ry="1.2" transform="rotate(96 50.7 46.9)" fill="#3b396b" opacity="1"/>
<ellipse cx="18.1" cy="51.5" rx="1.3" ry="1.0" transform="rotate(13 18.1 51.5)" fill="#2f2d5f" opacity="1"/>
<ellipse cx="33.8" cy="48.8" rx="2.0" ry="1.1" transform="rotate(75 33.8 48.8)" fill="#393769" opacity="1"/>
<ellipse cx="21.7" cy="46.2" rx="2.0" ry="0.9" transform="rotate(78 21.7 46.2)" fill="#413f71" opacity="1"/>
<ellipse cx="74.9" cy="50.2" rx="1.7" ry="1.3" transform="rotate(162 74.9 50.2)" fill="#353365" opacity="1"/>
<ellipse cx="52.6" cy="71.9" rx="1.6" ry="0.9" transform="rotate(138 52.6 71.9)" fill="#2f2d5f" opacity="1"/>
<ellipse cx="75.3" cy="54.7" rx="1.7" ry="1.0" transform="rotate(78 75.3 54.7)" fill="#302e60" opacity="1"/>
<ellipse cx="45.9" cy="69.8" rx="1.9" ry="0.8" transform="rotate(13 45.9 69.8)" fill="#353365" opacity="1"/>
<ellipse cx="10.9" cy="43.9" rx="1.6" ry="1.2" transform="rotate(73 10.9 43.9)" fill="#403e70" opacity="1"/>
<ellipse cx="66.7" cy="53.2" rx="1.1" ry="1.2" transform="rotate(23 66.7 53.2)" fill="#2f2d5f" opacity="1"/>
<ellipse cx="5.3" cy="42.2" rx="1.5" ry="0.9" transform="rotate(172 5.3 42.2)" fill="#454375" opacity="1"/>
<ellipse cx="47.1" cy="51.8" rx="1.4" ry="1.3" transform="rotate(22 47.1 51.8)" fill="#363466" opacity="1"/>
<ellipse cx="38.2" cy="66.5" rx="1.3" ry="1.2" transform="rotate(127 38.2 66.5)" fill="#3a386a" opacity="1"/>
<ellipse cx="34.9" cy="44.4" rx="1.5" ry="1.0" transform="rotate(112 34.9 44.4)" fill="#393769" opacity="1"/>
<ellipse cx="43.9" cy="46.2" rx="1.9" ry="1.0" transform="rotate(68 43.9 46.2)" fill="#474577" opacity="1"/>
<ellipse cx="96.4" cy="61.5" rx="1.5" ry="1.1" transform="rotate(133 96.4 61.5)" fill="#363466" opacity="1"/>
<ellipse cx="71.0" cy="69.5" rx="1.7" ry="1.1" transform="rotate(78 71.0 69.5)" fill="#403e70" opacity="1"/>
<ellipse cx="52.3" cy="71.0" rx="1.4" ry="1.2" transform="rotate(3 52.3 71.0)" fill="#393769" opacity="1"/>
<ellipse cx="80.8" cy="64.0" rx="1.5" ry="1.1" transform="rotate(128 80.8 64.0)" fill="#434173" opacity="1"/>
<ellipse cx="73.3" cy="51.4" rx="1.3" ry="1.2" transform="rotate(101 73.3 51.4)" fill="#3d3b6d" opacity="1"/>
<ellipse cx="71.2" cy="69.6" rx="1.3" ry="1.1" transform="rotate(95 71.2 69.6)" fill="#3b396b" opacity="1"/>
<ellipse cx="88.1" cy="55.5" rx="1.4" ry="1.2" transform="rotate(76 88.1 55.5)" fill="#323062" opacity="1"/>
<ellipse cx="51.4" cy="71.6" rx="1.6" ry="1.3" transform="rotate(63 51.4 71.6)" fill="#434173" opacity="1"/>
<ellipse cx="5.6" cy="37.7" rx="1.7" ry="1.1" transform="rotate(149 5.6 37.7)" fill="#383668" opacity="1"/>
<ellipse cx="25.6" cy="40.6" rx="1.6" ry="0.8" transform="rotate(67 25.6 40.6)" fill="#403e70" opacity="1"/>
<ellipse cx="13.0" cy="38.2" rx="1.9" ry="1.3" transform="rotate(45 13.0 38.2)" fill="#323062" opacity="1"/>
<ellipse cx="9.9" cy="27.2" rx="1.8" ry="1.2" transform="rotate(48 9.9 27.2)" fill="#3b396b" opacity="1"/>
<ellipse cx="80.5" cy="65.1" rx="1.3" ry="1.2" transform="rotate(126 80.5 65.1)" fill="#373567" opacity="1"/>
<ellipse cx="42.5" cy="62.8" rx="1.6" ry="1.1" transform="rotate(178 42.5 62.8)" fill="#343264" opacity="1"/>
<ellipse cx="20.5" cy="53.4" rx="1.2" ry="1.3" transform="rotate(61 20.5 53.4)" fill="#3a386a" opacity="1"/>
<ellipse cx="41.5" cy="63.6" rx="1.9" ry="1.1" transform="rotate(31 41.5 63.6)" fill="#373567" opacity="1"/>
<ellipse cx="87.0" cy="65.7" rx="1.3" ry="1.0" transform="rotate(41 87.0 65.7)" fill="#424072" opacity="1"/>
<ellipse cx="52.8" cy="51.6" rx="1.2" ry="0.8" transform="rotate(64 52.8 51.6)" fill="#494779" opacity="1"/>
<ellipse cx="58.5" cy="65.3" rx="1.2" ry="0.9" transform="rotate(4 58.5 65.3)" fill="#413f71" opacity="1"/>
<ellipse cx="15.8" cy="36.4" rx="1.7" ry="1.1" transform="rotate(58 15.8 36.4)" fill="#3b396b" opacity="1"/>
<ellipse cx="27.1" cy="50.5" rx="1.4" ry="1.0" transform="rotate(45 27.1 50.5)" fill="#363466" opacity="1"/>
<ellipse cx="29.3" cy="52.0" rx="1.3" ry="0.9" transform="rotate(152 29.3 52.0)" fill="#3b396b" opacity="1"/>
<ellipse cx="87.4" cy="59.9" rx="1.7" ry="1.1" transform="rotate(125 87.4 59.9)" fill="#3c3a6c" opacity="1"/>
<ellipse cx="39.6" cy="42.1" rx="1.6" ry="1.0" transform="rotate(95 39.6 42.1)" fill="#3c3a6c" opacity="1"/>
<ellipse cx="77.5" cy="66.7" rx="1.3" ry="0.8" transform="rotate(54 77.5 66.7)" fill="#2e2c5e" opacity="1"/>
<ellipse cx="78.3" cy="53.4" rx="1.4" ry="0.9" transform="rotate(156 78.3 53.4)" fill="#454375" opacity="1"/>
<ellipse cx="66.9" cy="56.9" rx="1.8" ry="1.0" transform="rotate(72 66.9 56.9)" fill="#3d3b6d" opacity="1"/>
<ellipse cx="86.7" cy="71.6" rx="1.9" ry="1.2" transform="rotate(13 86.7 71.6)" fill="#343264" opacity="1"/>
<ellipse cx="95.9" cy="49.6" rx="1.6" ry="1.0" transform="rotate(155 95.9 49.6)" fill="#3c3a6c" opacity="1"/>
<ellipse cx="12.9" cy="42.1" rx="1.7" ry="0.9" transform="rotate(101 12.9 42.1)" fill="#484678" opacity="1"/>
<ellipse cx="41.9" cy="60.4" rx="1.6" ry="1.1" transform="rotate(31 41.9 60.4)" fill="#3a386a" opacity="1"/>
<ellipse cx="88.8" cy="56.0" rx="1.3" ry="1.0" transform="rotate(98 88.8 56.0)" fill="#373567" opacity="1"/>
<ellipse cx="56.2" cy="53.9" rx="1.1" ry="0.9" transform="rotate(118 56.2 53.9)" fill="#343264" opacity="1"/>
<ellipse cx="80.1" cy="58.5" rx="1.8" ry="0.8" transform="rotate(6 80.1 58.5)" fill="#444274" opacity="1"/>
<ellipse cx="12.2" cy="32.9" rx="1.1" ry="0.9" transform="rotate(85 12.2 32.9)" fill="#484678" opacity="1"/>
<ellipse cx="62.0" cy="53.1" rx="1.9" ry="0.8" transform="rotate(101 62.0 53.1)" fill="#383668" opacity="1"/>
<ellipse cx="47.9" cy="70.4" rx="1.3" ry="0.9" transform="rotate(165 47.9 70.4)" fill="#403e70" opacity="1"/>
<ellipse cx="4.6" cy="32.1" rx="1.3" ry="0.9" transform="rotate(152 4.6 32.1)" fill="#413f71" opacity="1"/>
<ellipse cx="96.8" cy="55.8" rx="1.7" ry="1.0" transform="rotate(129 96.8 55.8)" fill="#3b396b" opacity="1"/>
<ellipse cx="36.7" cy="49.0" rx="1.1" ry="0.8" transform="rotate(177 36.7 49.0)" fill="#383668" opacity="1"/>
<ellipse cx="57.7" cy="67.8" rx="1.3" ry="1.1" transform="rotate(90 57.7 67.8)" fill="#434173" opacity="1"/>
<ellipse cx="1.4" cy="32.3" rx="1.5" ry="1.2" transform="rotate(112 1.4 32.3)" fill="#424072" opacity="1"/>
<ellipse cx="74.7" cy="58.4" rx="1.1" ry="1.2" transform="rotate(27 74.7 58.4)" fill="#323062" opacity="1"/>
<ellipse cx="1.8" cy="24.4" rx="1.9" ry="1.0" transform="rotate(16 1.8 24.4)" fill="#2f2d5f" opacity="1"/>
<ellipse cx="83.3" cy="52.5" rx="1.9" ry="0.8" transform="rotate(20 83.3 52.5)" fill="#363466" opacity="1"/>
<ellipse cx="17.3" cy="28.5" rx="1.3" ry="1.1" transform="rotate(30 17.3 28.5)" fill="#323062" opacity="1"/>
<ellipse cx="87.5" cy="51.8" rx="1.5" ry="1.1" transform="rotate(169 87.5 51.8)" fill="#312f61" opacity="1"/>
<ellipse cx="36.6" cy="57.7" rx="1.4" ry="1.2" transform="rotate(163 36.6 57.7)" fill="#2f2d5f" opacity="1"/>
<ellipse cx="26.7" cy="37.3" rx="1.8" ry="1.2" transform="rotate(126 26.7 37.3)" fill="#474577" opacity="1"/>
<ellipse cx="16.7" cy="42.3" rx="1.9" ry="1.2" transform="rotate(20 16.7 42.3)" fill="#494779" opacity="1"/>
<ellipse cx="72.6" cy="65.4" rx="1.4" ry="1.1" transform="rotate(173 72.6 65.4)" fill="#474577" opacity="1"/>
<ellipse cx="56.2" cy="66.6" rx="2.0" ry="1.2" transform="rotate(118 56.2 66.6)" fill="#484678" opacity="1"/>
<ellipse cx="12.5" cy="42.8" rx="1.6" ry="0.9" transform="rotate(141 12.5 42.8)" fill="#2f2d5f" opacity="1"/>
<ellipse cx="30.5" cy="52.7" rx="1.3" ry="1.0" transform="rotate(154 30.5 52.7)" fill="#494779" opacity="1"/>
<ellipse cx="24.5" cy="40.9" rx="1.7" ry="0.9" transform="rotate(153 24.5 40.9)" fill="#333163" opacity="1"/>
<ellipse cx="-1.8" cy="39.1" rx="1.3" ry="1.3" transform="rotate(115 -1.8 39.1)" fill="#2f2d5f" opacity="1"/>
<ellipse cx="46.5" cy="58.4" rx="1.9" ry="1.3" transform="rotate(76 46.5 58.4)" fill="#363466" opacity="1"/>
<ellipse cx="72.8" cy="45.7" rx="1.7" ry="0.9" transform="rotate(141 72.8 45.7)" fill="#494779" opacity="1"/>
<ellipse cx="71.7" cy="51.0" rx="1.7" ry="1.3" transform="rotate(10 71.7 51.0)" fill="#302e60" opacity="1"/>
<ellipse cx="1.6" cy="45.5" rx="1.8" ry="1.1" transform="rotate(99 1.6 45.5)" fill="#454375" opacity="1"/>
<ellipse cx="58.8" cy="63.4" rx="1.4" ry="0.9" transform="rotate(121 58.8 63.4)" fill="#424072" opacity="1"/>
<ellipse cx="87.1" cy="50.2" rx="1.6" ry="1.2" transform="rotate(122 87.1 50.2)" fill="#494779" opacity="1"/>
<ellipse cx="24.5" cy="52.5" rx="1.6" ry="1.1" transform="rotate(11 24.5 52.5)" fill="#312f61" opacity="1"/>
<ellipse cx="59.2" cy="56.4" rx="2.0" ry="1.2" transform="rotate(52 59.2 56.4)" fill="#3a386a" opacity="1"/>
<ellipse cx="49.0" cy="62.4" rx="1.5" ry="1.3" transform="rotate(87 49.0 62.4)" fill="#393769" opacity="1"/>
<ellipse cx="13.0" cy="43.7" rx="1.6" ry="1.2" transform="rotate(80 13.0 43.7)" fill="#363466" opacity="1"/>
<ellipse cx="87.3" cy="46.7" rx="1.2" ry="0.9" transform="rotate(160 87.3 46.7)" fill="#424072" opacity="1"/>
<ellipse cx="19.6" cy="44.8" rx="1.6" ry="0.8" transform="rotate(168 19.6 44.8)" fill="#373567" opacity="1"/>
<ellipse cx="9.0" cy="24.8" rx="1.7" ry="1.0" transform="rotate(162 9.0 24.8)" fill="#444274" opacity="1"/>
<ellipse cx="93.6" cy="53.3" rx="1.4" ry="1.2" transform="rotate(163 93.6 53.3)" fill="#444274" opacity="1"/>
<ellipse cx="93.8" cy="65.4" rx="1.3" ry="1.1" transform="rotate(57 93.8 65.4)" fill="#323062" opacity="1"/>
<ellipse cx="73.0" cy="60.2" rx="1.4" ry="1.0" transform="rotate(125 73.0 60.2)" fill="#424072" opacity="1"/>
<ellipse cx="7.6" cy="31.3" rx="1.8" ry="1.0" transform="rotate(116 7.6 31.3)" fill="#383668" opacity="1"/>
<ellipse cx="96.2" cy="52.7" rx="1.2" ry="1.2" transform="rotate(108 96.2 52.7)" fill="#3f3d6f" opacity="1"/>
<ellipse cx="75.6" cy="52.8" rx="1.9" ry="1.3" transform="rotate(73 75.6 52.8)" fill="#403e70" opacity="1"/>
<ellipse cx="35.7" cy="43.1" rx="1.4" ry="1.1" transform="rotate(63 35.7 43.1)" fill="#373567" opacity="1"/>
<ellipse cx="83.4" cy="62.2" rx="1.7" ry="1.2" transform="rotate(69 83.4 62.2)" fill="#3f3d6f" opacity="1"/>
<ellipse cx="23.3" cy="38.5" rx="1.2" ry="1.2" transform="rotate(166 23.3 38.5)" fill="#363466" opacity="1"/>
<ellipse cx="33.6" cy="46.2" rx="1.3" ry="0.9" transform="rotate(76 33.6 46.2)" fill="#353365" opacity="1"/>
<ellipse cx="62.4" cy="62.3" rx="1.4" ry="0.9" transform="rotate(22 62.4 62.3)" fill="#302e60" opacity="1"/>
<ellipse cx="77.8" cy="52.5" rx="1.1" ry="1.0" transform="rotate(108 77.8 52.5)" fill="#363466" opacity="1"/>
<ellipse cx="1.5" cy="43.6" rx="1.4" ry="1.3" transform="rotate(65 1.5 43.6)" fill="#474577" opacity="1"/>
<ellipse cx="85.5" cy="51.1" rx="1.2" ry="1.2" transform="rotate(16 85.5 51.1)" fill="#3d3b6d" opacity="1"/>
<ellipse cx="7.8" cy="27.5" rx="1.5" ry="0.9" transform="rotate(179 7.8 27.5)" fill="#3e3c6e" opacity="1"/>
<ellipse cx="88.4" cy="69.9" rx="1.8" ry="1.1" transform="rotate(85 88.4 69.9)" fill="#434173" opacity="1"/>
<ellipse cx="50.0" cy="57.9" rx="1.7" ry="1.1" transform="rotate(142 50.0 57.9)" fill="#454375" opacity="1"/>
<ellipse cx="7.3" cy="30.1" rx="1.1" ry="0.9" transform="rotate(173 7.3 30.1)" fill="#363466" opacity="1"/>
<ellipse cx="42.3" cy="45.8" rx="1.6" ry="0.9" transform="rotate(140 42.3 45.8)" fill="#373567" opacity="1"/>
<ellipse cx="83.2" cy="62.4" rx="1.1" ry="1.1" transform="rotate(17 83.2 62.4)" fill="#464476" opacity="1"/>
<ellipse cx="5.0" cy="36.1" rx="1.8" ry="1.1" transform="rotate(120 5.0 36.1)" fill="#393769" opacity="1"/>
<ellipse cx="11.9" cy="32.7" rx="1.6" ry="1.1" transform="rotate(1 11.9 32.7)" fill="#494779" opacity="1"/>
<ellipse cx="74.2" cy="63.1" rx="1.9" ry="0.9" transform="rotate(22 74.2 63.1)" fill="#323062" opacity="1"/>
<ellipse cx="89.7" cy="46.2" rx="1.2" ry="1.0" transform="rotate(43 89.7 46.2)" fill="#403e70" opacity="1"/>
<ellipse cx="70.6" cy="61.0" rx="1.5" ry="1.0" transform="rotate(84 70.6 61.0)" fill="#383668" opacity="1"/>
<ellipse cx="43.9" cy="56.6" rx="1.7" ry="1.0" transform="rotate(102 43.9 56.6)" fill="#323062" opacity="1"/>
<ellipse cx="2.6" cy="42.0" rx="1.4" ry="0.8" transform="rotate(14 2.6 42.0)" fill="#393769" opacity="1"/>
<ellipse cx="93.0" cy="64.0" rx="1.1" ry="1.0" transform="rotate(66 93.0 64.0)" fill="#363466" opacity="1"/>
<ellipse cx="15.8" cy="28.2" rx="1.1" ry="1.2" transform="rotate(42 15.8 28.2)" fill="#424072" opacity="1"/>
<ellipse cx="17.0" cy="38.5" rx="1.8" ry="1.2" transform="rotate(55 17.0 38.5)" fill="#3a386a" opacity="1"/>
<ellipse cx="33.8" cy="46.1" rx="1.8" ry="0.9" transform="rotate(146 33.8 46.1)" fill="#474577" opacity="1"/>
<ellipse cx="58.6" cy="70.0" rx="1.9" ry="0.9" transform="rotate(178 58.6 70.0)" fill="#333163" opacity="1"/>
<ellipse cx="28.5" cy="44.7" rx="1.9" ry="1.1" transform="rotate(37 28.5 44.7)" fill="#474577" opacity="1"/>
<ellipse cx="85.2" cy="48.0" rx="1.1" ry="0.9" transform="rotate(53 85.2 48.0)" fill="#393769" opacity="1"/>
<ellipse cx="93.0" cy="52.2" rx="1.8" ry="0.8" transform="rotate(44 93.0 52.2)" fill="#424072" opacity="1"/>
<ellipse cx="4.4" cy="25.5" rx="1.5" ry="1.1" transform="rotate(72 4.4 25.5)" fill="#3d3b6d" opacity="1"/>
<ellipse cx="27.9" cy="37.6" rx="1.2" ry="0.8" transform="rotate(87 27.9 37.6)" fill="#2e2c5e" opacity="1"/>
<ellipse cx="42.7" cy="48.8" rx="1.1" ry="0.9" transform="rotate(141 42.7 48.8)" fill="#3d3b6d" opacity="1"/>
<ellipse cx="73.7" cy="47.7" rx="1.8" ry="1.2" transform="rotate(161 73.7 47.7)" fill="#424072" opacity="1"/>
<ellipse cx="51.8" cy="51.4" rx="1.6" ry="1.2" transform="rotate(154 51.8 51.4)" fill="#2f2d5f" opacity="1"/>
<ellipse cx="73.8" cy="53.2" rx="1.6" ry="1.3" transform="rotate(9 73.8 53.2)" fill="#3b396b" opacity="1"/>
<ellipse cx="47.3" cy="59.0" rx="1.4" ry="1.2" transform="rotate(1 47.3 59.0)" fill="#343264" opacity="1"/>
<ellipse cx="71.9" cy="66.1" rx="1.8" ry="0.9" transform="rotate(15 71.9 66.1)" fill="#413f71" opacity="1"/>
<ellipse cx="92.2" cy="48.9" rx="1.1" ry="1.0" transform="rotate(61 92.2 48.9)" fill="#302e60" opacity="1"/>
<ellipse cx="87.2" cy="68.8" rx="1.2" ry="1.0" transform="rotate(49 87.2 68.8)" fill="#403e70" opacity="1"/>
<ellipse cx="9.1" cy="39.3" rx="1.5" ry="1.0" transform="rotate(78 9.1 39.3)" fill="#3e3c6e" opacity="1"/>
<ellipse cx="92.8" cy="68.6" rx="1.9" ry="1.2" transform="rotate(41 92.8 68.6)" fill="#343264" opacity="1"/>
<ellipse cx="44.3" cy="54.5" rx="1.6" ry="1.0" transform="rotate(179 44.3 54.5)" fill="#363466" opacity="1"/>
<ellipse cx="-0.0" cy="27.4" rx="1.3" ry="1.2" transform="rotate(151 -0.0 27.4)" fill="#2f2d5f" opacity="1"/>
<ellipse cx="21.9" cy="34.9" rx="1.8" ry="1.2" transform="rotate(47 21.9 34.9)" fill="#302e60" opacity="1"/>
<ellipse cx="95.5" cy="70.6" rx="1.7" ry="1.0" transform="rotate(134 95.5 70.6)" fill="#434173" opacity="1"/>
<ellipse cx="50.9" cy="55.5" rx="1.4" ry="1.1" transform="rotate(26 50.9 55.5)" fill="#494779" opacity="1"/>
<ellipse cx="19.3" cy="34.1" rx="2.0" ry="1.3" transform="rotate(167 19.3 34.1)" fill="#454375" opacity="1"/>
<ellipse cx="83.5" cy="63.2" rx="1.6" ry="0.8" transform="rotate(132 83.5 63.2)" fill="#454375" opacity="1"/>
<ellipse cx="47.2" cy="66.8" rx="2.0" ry="1.0" transform="rotate(122 47.2 66.8)" fill="#403e70" opacity="1"/>
<ellipse cx="88.7" cy="58.5" rx="1.8" ry="1.0" transform="rotate(37 88.7 58.5)" fill="#3a386a" opacity="1"/>
<ellipse cx="66.6" cy="49.9" rx="1.2" ry="0.8" transform="rotate(72 66.6 49.9)" fill="#343264" opacity="1"/>
<ellipse cx="20.9" cy="33.9" rx="1.5" ry="1.1" transform="rotate(164 20.9 33.9)" fill="#403e70" opacity="1"/>
<ellipse cx="59.4" cy="58.9" rx="1.7" ry="1.0" transform="rotate(61 59.4 58.9)" fill="#2f2d5f" opacity="1"/>
<ellipse cx="66.7" cy="67.6" rx="1.7" ry="1.1" transform="rotate(145 66.7 67.6)" fill="#484678" opacity="1"/>
<ellipse cx="79.9" cy="71.5" rx="1.5" ry="0.8" transform="rotate(111 79.9 71.5)" fill="#3f3d6f" opacity="1"/>
<ellipse cx="85.0" cy="53.0" rx="1.4" ry="0.8" transform="rotate(150 85.0 53.0)" fill="#3f3d6f" opacity="1"/>
<ellipse cx="97.3" cy="52.1" rx="1.9" ry="1.2" transform="rotate(178 97.3 52.1)" fill="#3a386a" opacity="1"/>
<ellipse cx="88.4" cy="42.4" rx="1.1" ry="1.0" transform="rotate(63 88.4 42.4)" fill="#494779" opacity="1"/>
<ellipse cx="28.8" cy="42.4" rx="1.2" ry="1.1" transform="rotate(76 28.8 42.4)" fill="#444274" opacity="1"/>
<ellipse cx="17.7" cy="49.0" rx="1.3" ry="0.8" transform="rotate(54 17.7 49.0)" fill="#474577" opacity="1"/>
<ellipse cx="27.4" cy="46.9" rx="1.6" ry="0.9" transform="rotate(96 27.4 46.9)" fill="#2f2d5f" opacity="1"/>
<ellipse cx="80.2" cy="60.7" rx="1.7" ry="1.1" transform="rotate(156 80.2 60.7)" fill="#424072" opacity="1"/>
<ellipse cx="3.6" cy="29.4" rx="1.8" ry="1.2" transform="rotate(178 3.6 29.4)" fill="#434173" opacity="1"/>
<ellipse cx="60.9" cy="52.6" rx="1.2" ry="1.3" transform="rotate(92 60.9 52.6)" fill="#353365" opacity="1"/>
<ellipse cx="96.9" cy="41.9" rx="1.2" ry="1.1" transform="rotate(47 96.9 41.9)" fill="#343264" opacity="1"/>
<ellipse cx="28.5" cy="52.7" rx="1.4" ry="1.1" transform="rotate(163 28.5 52.7)" fill="#494779" opacity="1"/>
<ellipse cx="87.6" cy="68.2" rx="1.3" ry="1.2" transform="rotate(16 87.6 68.2)" fill="#3e3c6e" opacity="1"/>
<ellipse cx="5.6" cy="27.9" rx="2.0" ry="0.9" transform="rotate(129 5.6 27.9)" fill="#3c3a6c" opacity="1"/>
<ellipse cx="80.5" cy="47.3" rx="1.5" ry="0.8" transform="rotate(126 80.5 47.3)" fill="#2f2d5f" opacity="1"/>
<ellipse cx="51.0" cy="68.3" rx="1.7" ry="0.9" transform="rotate(130 51.0 68.3)" fill="#413f71" opacity="1"/>
<ellipse cx="33.2" cy="60.8" rx="1.4" ry="0.9" transform="rotate(0 33.2 60.8)" fill="#484678" opacity="1"/>
<ellipse cx="73.8" cy="71.1" rx="1.6" ry="0.8" transform="rotate(29 73.8 71.1)" fill="#2f2d5f" opacity="1"/>
<ellipse cx="59.7" cy="53.5" rx="2.0" ry="0.9" transform="rotate(42 59.7 53.5)" fill="#343264" opacity="1"/>
<ellipse cx="67.3" cy="63.8" rx="1.8" ry="0.9" transform="rotate(28 67.3 63.8)" fill="#494779" opacity="1"/>
<ellipse cx="90.3" cy="68.2" rx="1.6" ry="0.8" transform="rotate(66 90.3 68.2)" fill="#474577" opacity="1"/>
<ellipse cx="4.8" cy="37.5" rx="1.1" ry="1.2" transform="rotate(64 4.8 37.5)" fill="#302e60" opacity="1"/>
<ellipse cx="41.7" cy="53.2" rx="1.7" ry="0.8" transform="rotate(96 41.7 53.2)" fill="#2f2d5f" opacity="1"/>
<ellipse cx="42.5" cy="62.6" rx="1.3" ry="1.2" transform="rotate(44 42.5 62.6)" fill="#393769" opacity="1"/>
<ellipse cx="53.8" cy="49.3" rx="1.7" ry="1.3" transform="rotate(125 53.8 49.3)" fill="#343264" opacity="1"/>
<ellipse cx="18.1" cy="46.6" rx="1.4" ry="1.1" transform="rotate(16 18.1 46.6)" fill="#413f71" opacity="1"/>
<ellipse cx="83.6" cy="66.2" rx="1.5" ry="1.3" transform="rotate(31 83.6 66.2)" fill="#424072" opacity="1"/>
<ellipse cx="-1.6" cy="29.2" rx="1.2" ry="1.2" transform="rotate(109 -1.6 29.2)" fill="#3b396b" opacity="1"/>
<ellipse cx="11.8" cy="29.5" rx="1.6" ry="1.1" transform="rotate(144 11.8 29.5)" fill="#454375" opacity="1"/>
<ellipse cx="11.8" cy="37.9" rx="1.2" ry="1.0" transform="rotate(5 11.8 37.9)" fill="#464476" opacity="1"/>
<ellipse cx="66.7" cy="62.6" rx="1.5" ry="1.3" transform="rotate(150 66.7 62.6)" fill="#454375" opacity="1"/>
<ellipse cx="75.0" cy="46.2" rx="2.0" ry="0.9" transform="rotate(78 75.0 46.2)" fill="#464476" opacity="1"/>
<ellipse cx="95.7" cy="60.1" rx="1.9" ry="1.3" transform="rotate(49 95.7 60.1)" fill="#3f3d6f" opacity="1"/>
<ellipse cx="94.0" cy="47.8" rx="1.2" ry="1.1" transform="rotate(12 94.0 47.8)" fill="#3a386a" opacity="1"/>
<ellipse cx="6.1" cy="43.5" rx="1.8" ry="1.2" transform="rotate(154 6.1 43.5)" fill="#3a386a" opacity="1"/>
<ellipse cx="77.5" cy="50.9" rx="1.5" ry="0.9" transform="rotate(83 77.5 50.9)" fill="#2f2d5f" opacity="1"/>
<ellipse cx="10.1" cy="26.9" rx="1.5" ry="0.9" transform="rotate(149 10.1 26.9)" fill="#3f3d6f" opacity="1"/>
<ellipse cx="85.4" cy="50.1" rx="1.2" ry="0.9" transform="rotate(151 85.4 50.1)" fill="#3e3c6e" opacity="1"/>
<ellipse cx="63.1" cy="54.0" rx="1.1" ry="0.9" transform="rotate(78 63.1 54.0)" fill="#454375" opacity="1"/>
<ellipse cx="93.1" cy="52.0" rx="1.3" ry="0.8" transform="rotate(101 93.1 52.0)" fill="#393769" opacity="1"/>
<ellipse cx="22.8" cy="53.1" rx="1.9" ry="1.2" transform="rotate(50 22.8 53.1)" fill="#3e3c6e" opacity="1"/>
<ellipse cx="66.4" cy="66.7" rx="1.4" ry="1.3" transform="rotate(105 66.4 66.7)" fill="#353365" opacity="1"/>
<ellipse cx="9.4" cy="24.9" rx="1.6" ry="0.9" transform="rotate(18 9.4 24.9)" fill="#434173" opacity="1"/>
<ellipse cx="25.5" cy="40.8" rx="1.9" ry="1.2" transform="rotate(150 25.5 40.8)" fill="#494779" opacity="1"/>
<ellipse cx="58.8" cy="68.8" rx="1.7" ry="1.1" transform="rotate(58 58.8 68.8)" fill="#383668" opacity="1"/>
<ellipse cx="62.7" cy="65.3" rx="1.7" ry="0.9" transform="rotate(5 62.7 65.3)" fill="#383668" opacity="1"/>
<ellipse cx="41.8" cy="64.5" rx="1.6" ry="1.1" transform="rotate(109 41.8 64.5)" fill="#3d3b6d" opacity="1"/>
<ellipse cx="66.4" cy="50.3" rx="1.6" ry="0.9" transform="rotate(22 66.4 50.3)" fill="#3a386a" opacity="1"/>
<ellipse cx="87.4" cy="69.4" rx="1.4" ry="1.1" transform="rotate(93 87.4 69.4)" fill="#3a386a" opacity="1"/>
<ellipse cx="6.6" cy="34.2" rx="1.4" ry="0.9" transform="rotate(35 6.6 34.2)" fill="#302e60" opacity="1"/>
<ellipse cx="62.8" cy="52.4" rx="1.7" ry="1.0" transform="rotate(110 62.8 52.4)" fill="#363466" opacity="1"/>
<ellipse cx="44.8" cy="56.7" rx="1.3" ry="1.2" transform="rotate(105 44.8 56.7)" fill="#494779" opacity="1"/>
<ellipse cx="60.1" cy="49.9" rx="1.8" ry="0.9" transform="rotate(67 60.1 49.9)" fill="#3a386a" opacity="1"/>
<ellipse cx="72.0" cy="58.2" rx="1.3" ry="1.3" transform="rotate(177 72.0 58.2)" fill="#3b396b" opacity="1"/>
<ellipse cx="98.3" cy="53.4" rx="1.4" ry="0.8" transform="rotate(3 98.3 53.4)" fill="#3e3c6e" opacity="1"/>
<ellipse cx="70.4" cy="53.2" rx="1.8" ry="1.0" transform="rotate(134 70.4 53.2)" fill="#3e3c6e" opacity="1"/>
<ellipse cx="61.9" cy="49.9" rx="1.7" ry="1.1" transform="rotate(16 61.9 49.9)" fill="#403e70" opacity="1"/>
<ellipse cx="95.8" cy="46.6" rx="1.2" ry="1.1" transform="rotate(64 95.8 46.6)" fill="#323062" opacity="1"/>
<ellipse cx="50.1" cy="71.8" rx="1.2" ry="1.2" transform="rotate(1 50.1 71.8)" fill="#494779" opacity="1"/>
<ellipse cx="89.6" cy="45.0" rx="1.7" ry="1.0" transform="rotate(29 89.6 45.0)" fill="#373567" opacity="1"/>
<ellipse cx="42.5" cy="65.6" rx="1.2" ry="1.1" transform="rotate(85 42.5 65.6)" fill="#3d3b6d" opacity="1"/>
<ellipse cx="77.9" cy="52.4" rx="1.4" ry="1.3" transform="rotate(108 77.9 52.4)" fill="#353365" opacity="1"/>
<ellipse cx="53.2" cy="65.5" rx="1.1" ry="1.1" transform="rotate(88 53.2 65.5)" fill="#363466" opacity="1"/>
<ellipse cx="14.1" cy="34.4" rx="1.5" ry="1.0" transform="rotate(108 14.1 34.4)" fill="#353365" opacity="1"/>
<ellipse cx="78.2" cy="62.4" rx="1.3" ry="1.3" transform="rotate(98 78.2 62.4)" fill="#373567" opacity="1"/>
<ellipse cx="42.0" cy="56.5" rx="1.3" ry="1.2" transform="rotate(48 42.0 56.5)" fill="#464476" opacity="1"/>
<ellipse cx="56.2" cy="48.6" rx="1.6" ry="1.1" transform="rotate(171 56.2 48.6)" fill="#424072" opacity="1"/>
<ellipse cx="-0.4" cy="25.6" rx="1.8" ry="0.9" transform="rotate(5 -0.4 25.6)" fill="#323062" opacity="1"/>
<ellipse cx="47.9" cy="64.3" rx="1.1" ry="0.9" transform="rotate(2 47.9 64.3)" fill="#2f2d5f" opacity="1"/>
<ellipse cx="29.8" cy="47.1" rx="2.0" ry="1.1" transform="rotate(154 29.8 47.1)" fill="#3e3c6e" opacity="1"/>
<ellipse cx="89.8" cy="56.0" rx="1.3" ry="1.0" transform="rotate(86 89.8 56.0)" fill="#312f61" opacity="1"/>
<ellipse cx="91.2" cy="46.7" rx="1.3" ry="1.0" transform="rotate(145 91.2 46.7)" fill="#353365" opacity="1"/>
<ellipse cx="22.3" cy="32.2" rx="1.6" ry="1.1" transform="rotate(41 22.3 32.2)" fill="#413f71" opacity="1"/>
<ellipse cx="57.1" cy="59.8" rx="2.0" ry="1.0" transform="rotate(179 57.1 59.8)" fill="#3a386a" opacity="1"/>
<ellipse cx="8.4" cy="24.7" rx="1.2" ry="1.1" transform="rotate(35 8.4 24.7)" fill="#353365" opacity="1"/>
<ellipse cx="98.3" cy="53.5" rx="1.5" ry="1.1" transform="rotate(126 98.3 53.5)" fill="#454375" opacity="1"/>
<ellipse cx="10.9" cy="47.9" rx="1.3" ry="1.1" transform="rotate(51 10.9 47.9)" fill="#484678" opacity="1"/>
<ellipse cx="41.7" cy="63.0" rx="2.0" ry="1.0" transform="rotate(138 41.7 63.0)" fill="#3b396b" opacity="1"/>
<ellipse cx="64.4" cy="68.2" rx="1.7" ry="1.0" transform="rotate(95 64.4 68.2)" fill="#373567" opacity="1"/>
<ellipse cx="37.4" cy="60.9" rx="1.1" ry="1.0" transform="rotate(92 37.4 60.9)" fill="#323062" opacity="1"/>
<ellipse cx="77.0" cy="50.0" rx="1.2" ry="1.0" transform="rotate(46 77.0 50.0)" fill="#363466" opacity="1"/>
<ellipse cx="93.6" cy="46.5" rx="1.8" ry="0.9" transform="rotate(113 93.6 46.5)" fill="#312f61" opacity="1"/>
<ellipse cx="20.3" cy="29.2" rx="1.1" ry="1.3" transform="rotate(174 20.3 29.2)" fill="#383668" opacity="1"/>
<ellipse cx="49.2" cy="62.2" rx="1.6" ry="1.1" transform="rotate(33 49.2 62.2)" fill="#2f2d5f" opacity="1"/>
<ellipse cx="16.9" cy="48.7" rx="1.6" ry="1.0" transform="rotate(114 16.9 48.7)" fill="#3d3b6d" opacity="1"/>
<ellipse cx="82.9" cy="49.0" rx="1.9" ry="1.3" transform="rotate(149 82.9 49.0)" fill="#434173" opacity="1"/>
<ellipse cx="67.6" cy="50.1" rx="1.3" ry="0.9" transform="rotate(119 67.6 50.1)" fill="#343264" opacity="1"/>
<ellipse cx="59.7" cy="49.9" rx="1.6" ry="1.0" transform="rotate(43 59.7 49.9)" fill="#363466" opacity="1"/>
<ellipse cx="68.2" cy="66.4" rx="1.4" ry="1.0" transform="rotate(81 68.2 66.4)" fill="#3a386a" opacity="1"/>
<ellipse cx="61.7" cy="60.0" rx="1.8" ry="1.2" transform="rotate(131 61.7 60.0)" fill="#494779" opacity="1"/>
<ellipse cx="43.2" cy="44.9" rx="1.7" ry="1.0" transform="rotate(149 43.2 44.9)" fill="#393769" opacity="1"/>
<ellipse cx="54.1" cy="48.5" rx="1.4" ry="0.8" transform="rotate(50 54.1 48.5)" fill="#3b396b" opacity="1"/>
<ellipse cx="89.0" cy="70.7" rx="1.8" ry="0.9" transform="rotate(3 89.0 70.7)" fill="#464476" opacity="1"/>
<ellipse cx="4.9" cy="37.6" rx="1.9" ry="1.1" transform="rotate(148 4.9 37.6)" fill="#454375" opacity="1"/>
<ellipse cx="16.0" cy="47.7" rx="1.2" ry="1.0" transform="rotate(89 16.0 47.7)" fill="#444274" opacity="1"/>
<ellipse cx="27.2" cy="55.7" rx="1.2" ry="0.9" transform="rotate(11 27.2 55.7)" fill="#3e3c6e" opacity="1"/>
<ellipse cx="57.1" cy="57.9" rx="1.5" ry="1.3" transform="rotate(130 57.1 57.9)" fill="#3d3b6d" opacity="1"/>
<ellipse cx="27.5" cy="50.0" rx="1.6" ry="1.3" transform="rotate(122 27.5 50.0)" fill="#2f2d5f" opacity="1"/>
<ellipse cx="93.2" cy="45.9" rx="1.3" ry="1.2" transform="rotate(113 93.2 45.9)" fill="#454375" opacity="1"/>
<ellipse cx="45.4" cy="45.8" rx="1.4" ry="1.1" transform="rotate(27 45.4 45.8)" fill="#353365" opacity="1"/>
<ellipse cx="38.6" cy="69.4" rx="1.3" ry="0.8" transform="rotate(52 38.6 69.4)" fill="#65618f" opacity="1"/>
<ellipse cx="33.1" cy="67.8" rx="1.0" ry="0.9" transform="rotate(123 33.1 67.8)" fill="#504c7a" opacity="1"/>
<ellipse cx="14.2" cy="55.8" rx="0.9" ry="0.8" transform="rotate(64 14.2 55.8)" fill="#5f5b89" opacity="1"/>
<ellipse cx="12.9" cy="63.0" rx="1.0" ry="0.7" transform="rotate(74 12.9 63.0)" fill="#666290" opacity="1"/>
<ellipse cx="29.3" cy="70.9" rx="1.1" ry="0.6" transform="rotate(96 29.3 70.9)" fill="#5e5a88" opacity="1"/>
<ellipse cx="31.2" cy="64.5" rx="1.2" ry="0.8" transform="rotate(121 31.2 64.5)" fill="#4e4a78" opacity="1"/>
<ellipse cx="3.1" cy="49.8" rx="1.0" ry="0.6" transform="rotate(52 3.1 49.8)" fill="#4f4b79" opacity="1"/>
<ellipse cx="0.6" cy="59.2" rx="1.4" ry="0.6" transform="rotate(17 0.6 59.2)" fill="#605c8a" opacity="1"/>
<ellipse cx="6.0" cy="48.8" rx="1.2" ry="0.6" transform="rotate(141 6.0 48.8)" fill="#5a5684" opacity="1"/>
<ellipse cx="0.8" cy="67.2" rx="1.1" ry="0.8" transform="rotate(19 0.8 67.2)" fill="#585482" opacity="1"/>
</g></g>
<text x="2.8" y="64.2" font-size="6.6" font-weight="bold" fill="#111" stroke="#111" stroke-width="0.25">50 µm</text>
<rect x="3.3" y="66.2" width="23.5" height="1.4" fill="#111"/>
<rect x="0" y="0" width="96.8" height="70.0" fill="none" stroke="#6e6e6e" stroke-width="1"/>
</g>
<g transform="translate(241.7,245.3)"><g clip-path="url(#clip3)"><g filter="url(#blur3)">
<rect x="-2" y="-2" width="135.8" height="74.0" fill="#f8f2f0"/>
<path d="M-3.0,10.2 C-0.2,-0.6 9.1,8.4 13.8,8.5 C18.5,8.6 20.5,9.1 25.0,10.5 C29.5,11.9 35.8,15.0 40.8,16.8 C45.8,18.6 51.4,19.8 55.0,21.5 C58.6,23.2 60.5,24.8 62.7,27.1 C64.9,29.4 66.3,32.7 68.0,35.5 C69.7,38.3 71.3,42.1 73.0,43.9 C74.7,45.7 76.3,46.1 78.0,46.5 C79.7,46.9 81.6,47.2 83.3,46.5 C85.0,45.8 86.3,44.4 88.0,42.5 C89.7,40.6 91.5,38.1 93.7,34.9 C95.9,31.7 98.4,26.1 101.4,23.3 C104.4,20.5 108.3,19.0 111.7,18.1 C115.1,17.2 118.1,17.8 122.0,18.0 C125.9,18.2 132.8,10.3 135.0,19.5 C137.2,28.7 158.0,64.1 135.0,73.0 C112.0,81.9 20.0,83.5 -3.0,73.0 C-26.0,62.5 -5.8,20.9 -3.0,10.2Z" fill="#c9c2d8" opacity="1"/>
<path d="M-3.0,12.7 C-0.2,2.4 9.1,10.9 13.8,11.0 C18.5,11.1 20.5,11.6 25.0,13.0 C29.5,14.4 35.8,17.5 40.8,19.3 C45.8,21.1 51.4,22.3 55.0,24.0 C58.6,25.7 60.5,27.3 62.7,29.6 C64.9,31.9 66.3,35.2 68.0,38.0 C69.7,40.8 71.3,44.6 73.0,46.4 C74.7,48.2 76.3,48.6 78.0,49.0 C79.7,49.4 81.6,49.7 83.3,49.0 C85.0,48.3 86.3,46.9 88.0,45.0 C89.7,43.1 91.5,40.6 93.7,37.4 C95.9,34.2 98.4,28.6 101.4,25.8 C104.4,23.0 108.3,21.5 111.7,20.6 C115.1,19.7 118.1,20.3 122.0,20.5 C125.9,20.7 132.8,13.2 135.0,22.0 C137.2,30.8 158.0,64.5 135.0,73.0 C112.0,81.5 20.0,83.0 -3.0,73.0 C-26.0,63.0 -5.8,23.0 -3.0,12.7Z" fill="#8c7696" opacity="1"/>
<path d="M-3.0,14.7 C-0.2,4.7 9.1,12.9 13.8,13.0 C18.5,13.1 20.5,13.6 25.0,15.0 C29.5,16.4 35.8,19.5 40.8,21.3 C45.8,23.1 51.4,24.3 55.0,26.0 C58.6,27.7 60.5,29.3 62.7,31.6 C64.9,33.9 66.3,37.2 68.0,40.0 C69.7,42.8 71.3,46.6 73.0,48.4 C74.7,50.2 76.3,50.6 78.0,51.0 C79.7,51.4 81.6,51.7 83.3,51.0 C85.0,50.3 86.3,48.9 88.0,47.0 C89.7,45.1 91.5,42.6 93.7,39.4 C95.9,36.2 98.4,30.6 101.4,27.8 C104.4,25.0 108.3,23.5 111.7,22.6 C115.1,21.7 118.1,22.3 122.0,22.5 C125.9,22.7 132.8,15.6 135.0,24.0 C137.2,32.4 158.0,64.8 135.0,73.0 C112.0,81.2 20.0,82.7 -3.0,73.0 C-26.0,63.3 -5.8,24.7 -3.0,14.7Z" fill="#a66c62" opacity="1"/>
<path d="M-3.0,22.7 C-0.2,14.0 9.1,20.9 13.8,21.0 C18.5,21.1 20.5,21.6 25.0,23.0 C29.5,24.4 35.8,27.5 40.8,29.3 C45.8,31.1 51.4,32.3 55.0,34.0 C58.6,35.7 60.5,37.3 62.7,39.6 C64.9,41.9 66.3,45.2 68.0,48.0 C69.7,50.8 71.3,54.6 73.0,56.4 C74.7,58.2 76.3,58.6 78.0,59.0 C79.7,59.4 81.6,59.7 83.3,59.0 C85.0,58.3 86.3,56.9 88.0,55.0 C89.7,53.1 91.5,50.6 93.7,47.4 C95.9,44.2 98.4,38.6 101.4,35.8 C104.4,33.0 108.3,31.5 111.7,30.6 C115.1,29.7 118.1,30.3 122.0,30.5 C125.9,30.7 132.8,24.9 135.0,32.0 C137.2,39.1 158.0,66.2 135.0,73.0 C112.0,79.8 20.0,81.4 -3.0,73.0 C-26.0,64.6 -5.8,31.4 -3.0,22.7Z" fill="#9c7078" opacity="1"/>
<path d="M-3.0,34.8 C1.5,28.4 16.7,34.4 24.0,34.8 C31.3,35.2 35.6,36.2 40.8,37.4 C46.0,38.6 51.4,39.9 55.0,42.0 C58.6,44.1 60.2,47.3 62.7,50.0 C65.2,52.7 67.8,55.8 70.0,58.0 C72.2,60.2 72.6,61.9 75.6,63.0 C78.6,64.1 83.9,64.8 88.2,64.4 C92.5,64.0 97.1,60.8 101.4,60.6 C105.8,60.4 110.9,61.8 114.3,63.0 C117.7,64.2 120.0,66.3 122.0,68.0 C124.0,69.7 123.8,72.2 126.0,73.0 C128.2,73.8 133.5,73.0 135.0,73.0 C136.5,73.0 158.0,73.0 135.0,73.0 C112.0,73.0 20.0,79.4 -3.0,73.0 C-26.0,66.6 -7.5,41.2 -3.0,34.8Z" fill="#f2e2e2" opacity="1"/>
<ellipse cx="125.4" cy="72.0" rx="1.4" ry="1.1" transform="rotate(108 125.4 72.0)" fill="#4b4983" opacity="1"/>
<ellipse cx="3.7" cy="31.8" rx="1.1" ry="1.1" transform="rotate(86 3.7 31.8)" fill="#46447e" opacity="1"/>
<ellipse cx="104.1" cy="44.7" rx="1.2" ry="0.9" transform="rotate(0 104.1 44.7)" fill="#3f3d77" opacity="1"/>
<ellipse cx="117.3" cy="46.0" rx="1.8" ry="1.0" transform="rotate(123 117.3 46.0)" fill="#403e78" opacity="1"/>
<ellipse cx="5.5" cy="28.8" rx="1.6" ry="0.8" transform="rotate(86 5.5 28.8)" fill="#595791" opacity="1"/>
<ellipse cx="80.8" cy="56.8" rx="1.6" ry="1.2" transform="rotate(70 80.8 56.8)" fill="#494781" opacity="1"/>
<ellipse cx="73.6" cy="56.8" rx="1.7" ry="1.0" transform="rotate(125 73.6 56.8)" fill="#403e78" opacity="1"/>
<ellipse cx="22.3" cy="26.2" rx="1.6" ry="1.0" transform="rotate(7 22.3 26.2)" fill="#4f4d87" opacity="1"/>
<ellipse cx="110.8" cy="52.1" rx="1.1" ry="1.2" transform="rotate(33 110.8 52.1)" fill="#4c4a84" opacity="1"/>
<ellipse cx="34.2" cy="25.6" rx="1.1" ry="0.7" transform="rotate(116 34.2 25.6)" fill="#504e88" opacity="1"/>
<ellipse cx="55.5" cy="41.0" rx="1.7" ry="1.0" transform="rotate(84 55.5 41.0)" fill="#52508a" opacity="1"/>
<ellipse cx="99.6" cy="49.2" rx="1.1" ry="1.1" transform="rotate(32 99.6 49.2)" fill="#54528c" opacity="1"/>
<ellipse cx="113.8" cy="50.9" rx="1.2" ry="0.7" transform="rotate(151 113.8 50.9)" fill="#55538d" opacity="1"/>
<ellipse cx="21.4" cy="33.2" rx="1.8" ry="0.7" transform="rotate(29 21.4 33.2)" fill="#52508a" opacity="1"/>
<ellipse cx="101.5" cy="30.3" rx="1.1" ry="1.1" transform="rotate(175 101.5 30.3)" fill="#57558f" opacity="1"/>
<ellipse cx="98.5" cy="52.0" rx="1.7" ry="1.1" transform="rotate(90 98.5 52.0)" fill="#595791" opacity="1"/>
<ellipse cx="60.7" cy="40.4" rx="1.5" ry="1.1" transform="rotate(106 60.7 40.4)" fill="#585690" opacity="1"/>
<ellipse cx="117.3" cy="34.7" rx="1.0" ry="1.0" transform="rotate(112 117.3 34.7)" fill="#585690" opacity="1"/>
<ellipse cx="73.8" cy="56.3" rx="1.6" ry="0.8" transform="rotate(120 73.8 56.3)" fill="#4a4882" opacity="1"/>
<ellipse cx="27.4" cy="30.7" rx="1.3" ry="1.1" transform="rotate(99 27.4 30.7)" fill="#46447e" opacity="1"/>
<ellipse cx="28.3" cy="23.9" rx="1.4" ry="0.9" transform="rotate(105 28.3 23.9)" fill="#504e88" opacity="1"/>
<ellipse cx="98.0" cy="60.6" rx="1.4" ry="1.2" transform="rotate(178 98.0 60.6)" fill="#54528c" opacity="1"/>
<ellipse cx="46.7" cy="30.2" rx="1.5" ry="0.8" transform="rotate(32 46.7 30.2)" fill="#403e78" opacity="1"/>
<ellipse cx="123.1" cy="61.0" rx="1.4" ry="0.9" transform="rotate(58 123.1 61.0)" fill="#3f3d77" opacity="1"/>
<ellipse cx="131.1" cy="36.7" rx="1.6" ry="0.9" transform="rotate(174 131.1 36.7)" fill="#403e78" opacity="1"/>
<ellipse cx="8.7" cy="19.5" rx="1.1" ry="1.1" transform="rotate(170 8.7 19.5)" fill="#57558f" opacity="1"/>
<ellipse cx="103.5" cy="43.9" rx="1.6" ry="1.0" transform="rotate(102 103.5 43.9)" fill="#42407a" opacity="1"/>
<ellipse cx="17.4" cy="19.7" rx="1.3" ry="0.8" transform="rotate(172 17.4 19.7)" fill="#3f3d77" opacity="1"/>
<ellipse cx="79.6" cy="61.7" rx="1.1" ry="0.9" transform="rotate(64 79.6 61.7)" fill="#585690" opacity="1"/>
<ellipse cx="112.3" cy="40.6" rx="1.1" ry="0.8" transform="rotate(113 112.3 40.6)" fill="#403e78" opacity="1"/>
<ellipse cx="121.9" cy="27.6" rx="1.3" ry="0.7" transform="rotate(82 121.9 27.6)" fill="#585690" opacity="1"/>
<ellipse cx="23.4" cy="25.2" rx="1.4" ry="1.0" transform="rotate(26 23.4 25.2)" fill="#44427c" opacity="1"/>
<ellipse cx="115.9" cy="61.0" rx="1.7" ry="0.8" transform="rotate(56 115.9 61.0)" fill="#4e4c86" opacity="1"/>
<ellipse cx="30.4" cy="19.8" rx="1.0" ry="1.0" transform="rotate(16 30.4 19.8)" fill="#56548e" opacity="1"/>
<ellipse cx="129.2" cy="50.6" rx="1.0" ry="0.9" transform="rotate(65 129.2 50.6)" fill="#46447e" opacity="1"/>
<ellipse cx="7.1" cy="28.9" rx="1.0" ry="0.9" transform="rotate(87 7.1 28.9)" fill="#44427c" opacity="1"/>
<ellipse cx="123.5" cy="65.5" rx="1.4" ry="1.1" transform="rotate(64 123.5 65.5)" fill="#53518b" opacity="1"/>
<ellipse cx="103.6" cy="35.1" rx="1.6" ry="0.9" transform="rotate(31 103.6 35.1)" fill="#494781" opacity="1"/>
<ellipse cx="107.8" cy="49.1" rx="1.7" ry="1.1" transform="rotate(125 107.8 49.1)" fill="#52508a" opacity="1"/>
<ellipse cx="125.8" cy="32.1" rx="1.2" ry="1.0" transform="rotate(56 125.8 32.1)" fill="#514f89" opacity="1"/>
<ellipse cx="66.6" cy="43.9" rx="1.8" ry="1.1" transform="rotate(78 66.6 43.9)" fill="#54528c" opacity="1"/>
<ellipse cx="88.6" cy="60.9" rx="1.8" ry="0.7" transform="rotate(38 88.6 60.9)" fill="#44427c" opacity="1"/>
<ellipse cx="118.8" cy="56.2" rx="1.5" ry="1.1" transform="rotate(166 118.8 56.2)" fill="#403e78" opacity="1"/>
<ellipse cx="129.2" cy="31.6" rx="1.5" ry="1.1" transform="rotate(53 129.2 31.6)" fill="#46447e" opacity="1"/>
<ellipse cx="121.0" cy="60.1" rx="1.8" ry="0.7" transform="rotate(113 121.0 60.1)" fill="#52508a" opacity="1"/>
<ellipse cx="127.9" cy="56.4" rx="1.2" ry="0.8" transform="rotate(31 127.9 56.4)" fill="#45437d" opacity="1"/>
<ellipse cx="18.2" cy="19.9" rx="1.5" ry="1.1" transform="rotate(22 18.2 19.9)" fill="#4c4a84" opacity="1"/>
<ellipse cx="131.1" cy="35.6" rx="1.4" ry="1.1" transform="rotate(4 131.1 35.6)" fill="#56548e" opacity="1"/>
<ellipse cx="103.2" cy="57.0" rx="1.3" ry="0.9" transform="rotate(169 103.2 57.0)" fill="#3f3d77" opacity="1"/>
<ellipse cx="105.1" cy="47.1" rx="1.5" ry="0.7" transform="rotate(36 105.1 47.1)" fill="#4e4c86" opacity="1"/>
<ellipse cx="10.3" cy="32.9" rx="1.3" ry="0.9" transform="rotate(31 10.3 32.9)" fill="#403e78" opacity="1"/>
<ellipse cx="71.9" cy="52.3" rx="1.7" ry="0.9" transform="rotate(63 71.9 52.3)" fill="#43417b" opacity="1"/>
<ellipse cx="98.2" cy="35.9" rx="1.2" ry="0.8" transform="rotate(76 98.2 35.9)" fill="#55538d" opacity="1"/>
<ellipse cx="62.0" cy="48.1" rx="1.2" ry="0.9" transform="rotate(130 62.0 48.1)" fill="#403e78" opacity="1"/>
<ellipse cx="37.5" cy="34.3" rx="1.2" ry="1.0" transform="rotate(7 37.5 34.3)" fill="#44427c" opacity="1"/>
<ellipse cx="33.8" cy="25.3" rx="1.7" ry="1.0" transform="rotate(160 33.8 25.3)" fill="#413f79" opacity="1"/>
<ellipse cx="23.5" cy="32.9" rx="1.4" ry="1.1" transform="rotate(150 23.5 32.9)" fill="#56548e" opacity="1"/>
<ellipse cx="0.4" cy="16.6" rx="1.3" ry="0.9" transform="rotate(1 0.4 16.6)" fill="#47457f" opacity="1"/>
<ellipse cx="26.6" cy="33.2" rx="1.1" ry="1.1" transform="rotate(20 26.6 33.2)" fill="#4a4882" opacity="1"/>
<ellipse cx="27.9" cy="29.0" rx="1.8" ry="1.1" transform="rotate(133 27.9 29.0)" fill="#47457f" opacity="1"/>
<ellipse cx="130.7" cy="70.0" rx="1.5" ry="0.8" transform="rotate(9 130.7 70.0)" fill="#4d4b85" opacity="1"/>
<ellipse cx="133.6" cy="61.6" rx="1.2" ry="1.2" transform="rotate(110 133.6 61.6)" fill="#3f3d77" opacity="1"/>
<ellipse cx="106.1" cy="57.2" rx="1.5" ry="0.7" transform="rotate(169 106.1 57.2)" fill="#46447e" opacity="1"/>
<ellipse cx="102.8" cy="45.8" rx="1.4" ry="1.0" transform="rotate(165 102.8 45.8)" fill="#55538d" opacity="1"/>
<ellipse cx="129.5" cy="61.6" rx="1.4" ry="0.7" transform="rotate(47 129.5 61.6)" fill="#53518b" opacity="1"/>
<ellipse cx="73.6" cy="57.5" rx="1.3" ry="1.2" transform="rotate(46 73.6 57.5)" fill="#53518b" opacity="1"/>
<ellipse cx="128.2" cy="35.3" rx="1.6" ry="1.1" transform="rotate(102 128.2 35.3)" fill="#484680" opacity="1"/>
<ellipse cx="104.0" cy="55.6" rx="1.3" ry="0.9" transform="rotate(146 104.0 55.6)" fill="#403e78" opacity="1"/>
<ellipse cx="96.1" cy="55.3" rx="1.4" ry="1.2" transform="rotate(114 96.1 55.3)" fill="#56548e" opacity="1"/>
<ellipse cx="121.6" cy="63.6" rx="1.8" ry="1.1" transform="rotate(133 121.6 63.6)" fill="#403e78" opacity="1"/>
<ellipse cx="48.6" cy="28.9" rx="1.1" ry="1.0" transform="rotate(61 48.6 28.9)" fill="#585690" opacity="1"/>
<ellipse cx="19.4" cy="17.8" rx="1.6" ry="1.0" transform="rotate(89 19.4 17.8)" fill="#4c4a84" opacity="1"/>
<ellipse cx="5.5" cy="28.2" rx="1.6" ry="0.9" transform="rotate(60 5.5 28.2)" fill="#4a4882" opacity="1"/>
<ellipse cx="115.5" cy="30.5" rx="1.2" ry="1.0" transform="rotate(42 115.5 30.5)" fill="#403e78" opacity="1"/>
<ellipse cx="117.8" cy="59.0" rx="1.5" ry="1.1" transform="rotate(153 117.8 59.0)" fill="#45437d" opacity="1"/>
<ellipse cx="126.0" cy="51.5" rx="1.5" ry="0.9" transform="rotate(16 126.0 51.5)" fill="#47457f" opacity="1"/>
<ellipse cx="87.0" cy="50.9" rx="1.7" ry="0.7" transform="rotate(37 87.0 50.9)" fill="#403e78" opacity="1"/>
<ellipse cx="106.5" cy="31.7" rx="1.6" ry="1.0" transform="rotate(118 106.5 31.7)" fill="#3e3c76" opacity="1"/>
<ellipse cx="49.0" cy="30.9" rx="1.8" ry="1.0" transform="rotate(125 49.0 30.9)" fill="#4b4983" opacity="1"/>
<ellipse cx="35.3" cy="31.6" rx="1.2" ry="1.0" transform="rotate(16 35.3 31.6)" fill="#413f79" opacity="1"/>
<ellipse cx="104.1" cy="53.1" rx="1.6" ry="0.8" transform="rotate(92 104.1 53.1)" fill="#3e3c76" opacity="1"/>
<ellipse cx="13.7" cy="21.9" rx="1.3" ry="0.9" transform="rotate(39 13.7 21.9)" fill="#403e78" opacity="1"/>
<ellipse cx="131.8" cy="67.1" rx="1.1" ry="0.8" transform="rotate(158 131.8 67.1)" fill="#3e3c76" opacity="1"/>
<ellipse cx="129.0" cy="67.8" rx="1.7" ry="0.9" transform="rotate(132 129.0 67.8)" fill="#585690" opacity="1"/>
<ellipse cx="101.5" cy="59.8" rx="1.6" ry="0.9" transform="rotate(103 101.5 59.8)" fill="#585690" opacity="1"/>
<ellipse cx="94.3" cy="42.5" rx="1.7" ry="1.1" transform="rotate(40 94.3 42.5)" fill="#514f89" opacity="1"/>
<ellipse cx="125.2" cy="39.6" rx="1.7" ry="0.7" transform="rotate(58 125.2 39.6)" fill="#46447e" opacity="1"/>
<ellipse cx="106.1" cy="52.0" rx="1.7" ry="0.8" transform="rotate(52 106.1 52.0)" fill="#494781" opacity="1"/>
<ellipse cx="105.7" cy="57.1" rx="1.8" ry="1.1" transform="rotate(95 105.7 57.1)" fill="#52508a" opacity="1"/>
<ellipse cx="109.1" cy="44.7" rx="1.5" ry="1.1" transform="rotate(150 109.1 44.7)" fill="#42407a" opacity="1"/>
<ellipse cx="113.5" cy="58.1" rx="1.1" ry="0.8" transform="rotate(118 113.5 58.1)" fill="#4f4d87" opacity="1"/>
<ellipse cx="93.2" cy="46.3" rx="1.7" ry="0.9" transform="rotate(74 93.2 46.3)" fill="#44427c" opacity="1"/>
<ellipse cx="113.0" cy="33.3" rx="1.7" ry="0.7" transform="rotate(160 113.0 33.3)" fill="#3e3c76" opacity="1"/>
<ellipse cx="112.0" cy="43.1" rx="1.6" ry="0.7" transform="rotate(29 112.0 43.1)" fill="#44427c" opacity="1"/>
<ellipse cx="114.6" cy="28.7" rx="1.6" ry="0.9" transform="rotate(138 114.6 28.7)" fill="#504e88" opacity="1"/>
<ellipse cx="55.5" cy="41.2" rx="1.4" ry="1.0" transform="rotate(72 55.5 41.2)" fill="#4c4a84" opacity="1"/>
<ellipse cx="110.4" cy="53.8" rx="1.2" ry="0.8" transform="rotate(49 110.4 53.8)" fill="#585690" opacity="1"/>
<ellipse cx="129.0" cy="54.8" rx="1.3" ry="1.1" transform="rotate(90 129.0 54.8)" fill="#585690" opacity="1"/>
<ellipse cx="66.1" cy="51.3" rx="1.5" ry="1.0" transform="rotate(32 66.1 51.3)" fill="#4d4b85" opacity="1"/>
<ellipse cx="48.2" cy="29.6" rx="1.8" ry="0.9" transform="rotate(81 48.2 29.6)" fill="#595791" opacity="1"/>
<ellipse cx="52.3" cy="40.7" rx="1.4" ry="1.2" transform="rotate(96 52.3 40.7)" fill="#42407a" opacity="1"/>
<ellipse cx="65.0" cy="38.4" rx="1.5" ry="1.0" transform="rotate(9 65.0 38.4)" fill="#4b4983" opacity="1"/>
<ellipse cx="129.0" cy="57.3" rx="1.5" ry="1.0" transform="rotate(20 129.0 57.3)" fill="#52508a" opacity="1"/>
<ellipse cx="115.2" cy="46.1" rx="1.8" ry="0.7" transform="rotate(84 115.2 46.1)" fill="#47457f" opacity="1"/>
<ellipse cx="57.9" cy="36.1" rx="1.6" ry="1.0" transform="rotate(48 57.9 36.1)" fill="#57558f" opacity="1"/>
<ellipse cx="28.6" cy="19.3" rx="1.4" ry="1.2" transform="rotate(154 28.6 19.3)" fill="#54528c" opacity="1"/>
<ellipse cx="37.5" cy="24.4" rx="1.4" ry="1.1" transform="rotate(100 37.5 24.4)" fill="#595791" opacity="1"/>
<ellipse cx="106.6" cy="46.0" rx="1.5" ry="0.9" transform="rotate(163 106.6 46.0)" fill="#55538d" opacity="1"/>
<ellipse cx="99.1" cy="39.0" rx="1.6" ry="1.0" transform="rotate(114 99.1 39.0)" fill="#57558f" opacity="1"/>
<ellipse cx="118.9" cy="42.4" rx="1.3" ry="1.1" transform="rotate(120 118.9 42.4)" fill="#403e78" opacity="1"/>
<ellipse cx="38.5" cy="29.4" rx="1.2" ry="1.0" transform="rotate(155 38.5 29.4)" fill="#4f4d87" opacity="1"/>
<ellipse cx="85.8" cy="58.4" rx="1.3" ry="0.9" transform="rotate(117 85.8 58.4)" fill="#43417b" opacity="1"/>
<ellipse cx="122.3" cy="27.8" rx="1.1" ry="1.0" transform="rotate(62 122.3 27.8)" fill="#43417b" opacity="1"/>
<ellipse cx="81.7" cy="59.3" rx="1.6" ry="1.1" transform="rotate(149 81.7 59.3)" fill="#4b4983" opacity="1"/>
<ellipse cx="128.3" cy="31.5" rx="1.4" ry="0.9" transform="rotate(175 128.3 31.5)" fill="#42407a" opacity="1"/>
<ellipse cx="47.2" cy="34.6" rx="1.1" ry="1.2" transform="rotate(80 47.2 34.6)" fill="#4e4c86" opacity="1"/>
<ellipse cx="2.0" cy="28.4" rx="1.8" ry="0.9" transform="rotate(7 2.0 28.4)" fill="#45437d" opacity="1"/>
<ellipse cx="49.8" cy="32.4" rx="1.4" ry="0.9" transform="rotate(33 49.8 32.4)" fill="#4c4a84" opacity="1"/>
<ellipse cx="98.5" cy="40.8" rx="1.2" ry="1.2" transform="rotate(21 98.5 40.8)" fill="#46447e" opacity="1"/>
<ellipse cx="54.6" cy="38.5" rx="1.2" ry="1.1" transform="rotate(54 54.6 38.5)" fill="#4d4b85" opacity="1"/>
<ellipse cx="71.7" cy="56.6" rx="1.7" ry="1.2" transform="rotate(20 71.7 56.6)" fill="#4a4882" opacity="1"/>
<ellipse cx="126.2" cy="43.2" rx="1.7" ry="0.7" transform="rotate(70 126.2 43.2)" fill="#514f89" opacity="1"/>
<ellipse cx="111.8" cy="43.2" rx="1.7" ry="1.1" transform="rotate(74 111.8 43.2)" fill="#514f89" opacity="1"/>
<ellipse cx="120.1" cy="63.1" rx="1.7" ry="0.8" transform="rotate(140 120.1 63.1)" fill="#3f3d77" opacity="1"/>
<ellipse cx="101.1" cy="52.5" rx="1.2" ry="0.8" transform="rotate(43 101.1 52.5)" fill="#47457f" opacity="1"/>
<ellipse cx="33.5" cy="31.8" rx="1.4" ry="0.7" transform="rotate(114 33.5 31.8)" fill="#3f3d77" opacity="1"/>
<ellipse cx="12.5" cy="28.7" rx="1.6" ry="1.1" transform="rotate(64 12.5 28.7)" fill="#56548e" opacity="1"/>
<ellipse cx="20.1" cy="28.0" rx="1.5" ry="1.0" transform="rotate(142 20.1 28.0)" fill="#46447e" opacity="1"/>
<ellipse cx="120.5" cy="51.0" rx="1.6" ry="1.0" transform="rotate(38 120.5 51.0)" fill="#4d4b85" opacity="1"/>
<ellipse cx="42.9" cy="32.6" rx="1.2" ry="1.1" transform="rotate(117 42.9 32.6)" fill="#413f79" opacity="1"/>
<ellipse cx="6.9" cy="16.1" rx="1.5" ry="1.1" transform="rotate(99 6.9 16.1)" fill="#4c4a84" opacity="1"/>
<ellipse cx="121.9" cy="49.1" rx="1.6" ry="0.9" transform="rotate(159 121.9 49.1)" fill="#53518b" opacity="1"/>
<ellipse cx="120.8" cy="42.5" rx="1.7" ry="0.8" transform="rotate(160 120.8 42.5)" fill="#4d4b85" opacity="1"/>
<ellipse cx="125.9" cy="47.1" rx="1.4" ry="0.9" transform="rotate(82 125.9 47.1)" fill="#45437d" opacity="1"/>
<ellipse cx="41.1" cy="30.5" rx="1.4" ry="0.8" transform="rotate(130 41.1 30.5)" fill="#46447e" opacity="1"/>
<ellipse cx="71.3" cy="52.0" rx="1.7" ry="0.8" transform="rotate(103 71.3 52.0)" fill="#4d4b85" opacity="1"/>
<ellipse cx="116.7" cy="42.4" rx="1.7" ry="1.2" transform="rotate(73 116.7 42.4)" fill="#494781" opacity="1"/>
<ellipse cx="129.6" cy="48.0" rx="1.4" ry="1.1" transform="rotate(109 129.6 48.0)" fill="#4c4a84" opacity="1"/>
<ellipse cx="95.9" cy="62.0" rx="1.6" ry="1.2" transform="rotate(136 95.9 62.0)" fill="#413f79" opacity="1"/>
<ellipse cx="114.6" cy="45.5" rx="1.0" ry="0.9" transform="rotate(2 114.6 45.5)" fill="#57558f" opacity="1"/>
<ellipse cx="118.5" cy="55.9" rx="1.0" ry="1.2" transform="rotate(48 118.5 55.9)" fill="#504e88" opacity="1"/>
<ellipse cx="101.7" cy="46.9" rx="1.1" ry="0.8" transform="rotate(132 101.7 46.9)" fill="#413f79" opacity="1"/>
<ellipse cx="105.2" cy="35.8" rx="1.7" ry="1.1" transform="rotate(32 105.2 35.8)" fill="#4d4b85" opacity="1"/>
<ellipse cx="121.9" cy="34.5" rx="1.5" ry="0.7" transform="rotate(171 121.9 34.5)" fill="#595791" opacity="1"/>
<ellipse cx="80.0" cy="57.6" rx="1.6" ry="0.9" transform="rotate(99 80.0 57.6)" fill="#46447e" opacity="1"/>
<ellipse cx="104.5" cy="31.6" rx="1.3" ry="0.7" transform="rotate(7 104.5 31.6)" fill="#44427c" opacity="1"/>
<ellipse cx="46.6" cy="29.0" rx="1.5" ry="0.9" transform="rotate(3 46.6 29.0)" fill="#413f79" opacity="1"/>
<ellipse cx="90.2" cy="56.0" rx="1.8" ry="0.8" transform="rotate(138 90.2 56.0)" fill="#47457f" opacity="1"/>
<ellipse cx="121.4" cy="40.8" rx="1.7" ry="1.0" transform="rotate(63 121.4 40.8)" fill="#52508a" opacity="1"/>
<ellipse cx="113.4" cy="56.1" rx="1.6" ry="0.9" transform="rotate(135 113.4 56.1)" fill="#3f3d77" opacity="1"/>
<ellipse cx="92.5" cy="43.6" rx="1.6" ry="0.9" transform="rotate(22 92.5 43.6)" fill="#4c4a84" opacity="1"/>
<ellipse cx="45.7" cy="35.7" rx="1.6" ry="1.0" transform="rotate(52 45.7 35.7)" fill="#42407a" opacity="1"/>
<ellipse cx="133.1" cy="55.9" rx="1.6" ry="1.0" transform="rotate(165 133.1 55.9)" fill="#42407a" opacity="1"/>
<ellipse cx="37.2" cy="25.7" rx="1.1" ry="1.2" transform="rotate(156 37.2 25.7)" fill="#494781" opacity="1"/>
<ellipse cx="42.7" cy="36.0" rx="1.7" ry="1.2" transform="rotate(171 42.7 36.0)" fill="#55538d" opacity="1"/>
<ellipse cx="98.4" cy="35.4" rx="1.0" ry="1.0" transform="rotate(46 98.4 35.4)" fill="#56548e" opacity="1"/>
<ellipse cx="36.3" cy="32.6" rx="1.6" ry="1.1" transform="rotate(168 36.3 32.6)" fill="#42407a" opacity="1"/>
<ellipse cx="41.5" cy="26.8" rx="1.6" ry="0.7" transform="rotate(97 41.5 26.8)" fill="#413f79" opacity="1"/>
<ellipse cx="40.6" cy="31.6" rx="1.4" ry="1.2" transform="rotate(133 40.6 31.6)" fill="#4a4882" opacity="1"/>
<ellipse cx="132.4" cy="29.5" rx="1.2" ry="1.0" transform="rotate(139 132.4 29.5)" fill="#52508a" opacity="1"/>
<ellipse cx="98.6" cy="60.7" rx="1.4" ry="1.2" transform="rotate(85 98.6 60.7)" fill="#585690" opacity="1"/>
<ellipse cx="132.3" cy="56.3" rx="1.5" ry="0.7" transform="rotate(58 132.3 56.3)" fill="#47457f" opacity="1"/>
<ellipse cx="47.8" cy="38.5" rx="1.1" ry="0.8" transform="rotate(171 47.8 38.5)" fill="#4d4b85" opacity="1"/>
<ellipse cx="124.7" cy="50.8" rx="1.8" ry="1.1" transform="rotate(97 124.7 50.8)" fill="#4c4a84" opacity="1"/>
<ellipse cx="108.9" cy="53.5" rx="1.0" ry="1.1" transform="rotate(8 108.9 53.5)" fill="#4c4a84" opacity="1"/>
<ellipse cx="22.1" cy="32.1" rx="1.2" ry="1.0" transform="rotate(128 22.1 32.1)" fill="#56548e" opacity="1"/>
<ellipse cx="3.2" cy="19.9" rx="1.1" ry="0.8" transform="rotate(53 3.2 19.9)" fill="#42407a" opacity="1"/>
<ellipse cx="113.5" cy="35.5" rx="1.4" ry="1.1" transform="rotate(33 113.5 35.5)" fill="#4c4a84" opacity="1"/>
<ellipse cx="124.1" cy="47.3" rx="1.2" ry="1.0" transform="rotate(90 124.1 47.3)" fill="#4b4983" opacity="1"/>
<ellipse cx="84.4" cy="55.5" rx="1.7" ry="1.2" transform="rotate(173 84.4 55.5)" fill="#54528c" opacity="1"/>
<ellipse cx="90.7" cy="60.6" rx="1.2" ry="0.8" transform="rotate(152 90.7 60.6)" fill="#4a4882" opacity="1"/>
<ellipse cx="16.2" cy="30.5" rx="1.7" ry="0.8" transform="rotate(149 16.2 30.5)" fill="#45437d" opacity="1"/>
<ellipse cx="105.8" cy="36.7" rx="1.4" ry="1.0" transform="rotate(129 105.8 36.7)" fill="#43417b" opacity="1"/>
<ellipse cx="130.9" cy="40.4" rx="1.4" ry="0.7" transform="rotate(47 130.9 40.4)" fill="#403e78" opacity="1"/>
<ellipse cx="22.0" cy="23.2" rx="1.6" ry="1.0" transform="rotate(53 22.0 23.2)" fill="#46447e" opacity="1"/>
<ellipse cx="21.9" cy="20.6" rx="1.1" ry="1.1" transform="rotate(97 21.9 20.6)" fill="#3e3c76" opacity="1"/>
<ellipse cx="132.0" cy="46.1" rx="1.1" ry="1.1" transform="rotate(5 132.0 46.1)" fill="#514f89" opacity="1"/>
<ellipse cx="111.4" cy="51.4" rx="1.0" ry="0.7" transform="rotate(149 111.4 51.4)" fill="#55538d" opacity="1"/>
<ellipse cx="42.1" cy="26.9" rx="1.2" ry="0.9" transform="rotate(8 42.1 26.9)" fill="#595791" opacity="1"/>
<ellipse cx="101.3" cy="47.0" rx="1.4" ry="0.8" transform="rotate(144 101.3 47.0)" fill="#4f4d87" opacity="1"/>
<ellipse cx="133.3" cy="71.5" rx="1.5" ry="1.1" transform="rotate(49 133.3 71.5)" fill="#53518b" opacity="1"/>
<ellipse cx="114.9" cy="41.2" rx="1.5" ry="1.0" transform="rotate(45 114.9 41.2)" fill="#3f3d77" opacity="1"/>
<ellipse cx="84.5" cy="63.8" rx="1.2" ry="0.8" transform="rotate(76 84.5 63.8)" fill="#42407a" opacity="1"/>
<ellipse cx="128.8" cy="69.4" rx="1.5" ry="0.7" transform="rotate(94 128.8 69.4)" fill="#45437d" opacity="1"/>
<ellipse cx="91.9" cy="52.4" rx="1.2" ry="0.8" transform="rotate(179 91.9 52.4)" fill="#4d4b85" opacity="1"/>
<ellipse cx="126.0" cy="56.0" rx="1.4" ry="0.8" transform="rotate(79 126.0 56.0)" fill="#3e3c76" opacity="1"/>
<ellipse cx="13.1" cy="26.7" rx="1.3" ry="1.2" transform="rotate(30 13.1 26.7)" fill="#494781" opacity="1"/>
<ellipse cx="41.4" cy="33.4" rx="1.8" ry="0.9" transform="rotate(54 41.4 33.4)" fill="#47457f" opacity="1"/>
<ellipse cx="38.8" cy="24.2" rx="1.3" ry="1.0" transform="rotate(63 38.8 24.2)" fill="#44427c" opacity="1"/>
<ellipse cx="38.5" cy="30.4" rx="1.7" ry="1.2" transform="rotate(99 38.5 30.4)" fill="#3f3d77" opacity="1"/>
<ellipse cx="111.5" cy="63.2" rx="0.7" ry="0.6" transform="rotate(150 111.5 63.2)" fill="#49496f" opacity="1"/>
<ellipse cx="22.0" cy="71.4" rx="0.9" ry="0.6" transform="rotate(125 22.0 71.4)" fill="#57577d" opacity="1"/>
<ellipse cx="0.8" cy="42.8" rx="1.3" ry="1.0" transform="rotate(21 0.8 42.8)" fill="#4e4e74" opacity="1"/>
<ellipse cx="48.8" cy="64.3" rx="1.2" ry="0.8" transform="rotate(10 48.8 64.3)" fill="#4d4d73" opacity="1"/>
<ellipse cx="18.3" cy="65.4" rx="1.4" ry="0.8" transform="rotate(116 18.3 65.4)" fill="#57577d" opacity="1"/>
<ellipse cx="3.9" cy="56.9" rx="1.6" ry="0.7" transform="rotate(38 3.9 56.9)" fill="#3c3c62" opacity="1"/>
<ellipse cx="19.9" cy="48.3" rx="1.0" ry="0.6" transform="rotate(158 19.9 48.3)" fill="#57577d" opacity="1"/>
<ellipse cx="60.8" cy="53.4" rx="1.0" ry="0.9" transform="rotate(40 60.8 53.4)" fill="#525278" opacity="1"/>
<ellipse cx="8.3" cy="39.3" rx="1.4" ry="1.0" transform="rotate(43 8.3 39.3)" fill="#4e4e74" opacity="1"/>
<ellipse cx="100.9" cy="67.1" rx="0.8" ry="0.6" transform="rotate(11 100.9 67.1)" fill="#4f4f75" opacity="1"/>
<ellipse cx="46.6" cy="60.8" rx="0.8" ry="0.8" transform="rotate(49 46.6 60.8)" fill="#48486e" opacity="1"/>
<ellipse cx="78.2" cy="70.2" rx="0.9" ry="0.9" transform="rotate(9 78.2 70.2)" fill="#404066" opacity="1"/>
<ellipse cx="112.2" cy="67.9" rx="0.9" ry="0.9" transform="rotate(117 112.2 67.9)" fill="#57577d" opacity="1"/>
<ellipse cx="53.3" cy="65.9" rx="1.4" ry="0.6" transform="rotate(119 53.3 65.9)" fill="#57577d" opacity="1"/>
<ellipse cx="52.3" cy="55.6" rx="2.1" ry="1.2" transform="rotate(70 52.3 55.6)" fill="#9c9cc0" opacity="0.8"/>
<ellipse cx="22.0" cy="58.1" rx="1.6" ry="1.3" transform="rotate(8 22.0 58.1)" fill="#a7a7cb" opacity="0.8"/>
<ellipse cx="19.8" cy="67.1" rx="2.3" ry="1.0" transform="rotate(18 19.8 67.1)" fill="#9797bb" opacity="0.8"/>
<ellipse cx="26.2" cy="71.2" rx="2.2" ry="0.8" transform="rotate(2 26.2 71.2)" fill="#a1a1c5" opacity="0.8"/>
<ellipse cx="59.7" cy="55.3" rx="2.3" ry="1.3" transform="rotate(24 59.7 55.3)" fill="#adadd1" opacity="0.8"/>
<ellipse cx="60.3" cy="52.3" rx="1.4" ry="0.9" transform="rotate(34 60.3 52.3)" fill="#9999bd" opacity="0.8"/>
<ellipse cx="34.6" cy="38.9" rx="1.3" ry="1.3" transform="rotate(79 34.6 38.9)" fill="#9e9ec2" opacity="0.8"/>
<ellipse cx="15.8" cy="71.4" rx="1.2" ry="1.3" transform="rotate(8 15.8 71.4)" fill="#9a9abe" opacity="0.8"/>
</g></g>
<text x="1.7" y="64.2" font-size="6.6" font-weight="bold" fill="#111" stroke="#111" stroke-width="0.25">50 µm</text>
<rect x="2.5" y="66.2" width="23.5" height="1.4" fill="#111"/>
<rect x="0" y="0" width="131.8" height="70.0" fill="none" stroke="#6e6e6e" stroke-width="1"/>
</g>
<rect x="282.6" y="265.4" width="23.1" height="35.3" fill="none" stroke="#111" stroke-width="1"/>
<g transform="translate(373.5,245.3)"><g clip-path="url(#clip4)"><g filter="url(#blur4)">
<rect x="-2" y="-2" width="46.1" height="74.0" fill="#a05e48"/>
<path d="M-3.0,-3.0 C-0.2,-5.8 12.2,-4.8 14.0,-3.0 C15.8,-1.2 10.8,5.2 8.0,8.0 C5.2,10.8 -1.2,15.8 -3.0,14.0 C-4.8,12.2 -5.8,-0.2 -3.0,-3.0Z" fill="#8c6c88" opacity="1"/>
<ellipse cx="17.4" cy="12.2" rx="6.4" ry="5.6" fill="none" stroke="#d99470" stroke-width="1" opacity="0.35"/><ellipse cx="8" cy="20" rx="6.4" ry="5.6" fill="none" stroke="#d99470" stroke-width="1" opacity="0.35"/><ellipse cx="11.3" cy="22.5" rx="6.4" ry="5.6" fill="none" stroke="#d99470" stroke-width="1" opacity="0.35"/><ellipse cx="24.8" cy="23.3" rx="6.4" ry="5.6" fill="none" stroke="#d99470" stroke-width="1" opacity="0.35"/><ellipse cx="15" cy="31" rx="6.4" ry="5.6" fill="none" stroke="#d99470" stroke-width="1" opacity="0.35"/><ellipse cx="24.8" cy="34.4" rx="6.4" ry="5.6" fill="none" stroke="#d99470" stroke-width="1" opacity="0.35"/><ellipse cx="33.4" cy="29.5" rx="6.4" ry="5.6" fill="none" stroke="#d99470" stroke-width="1" opacity="0.35"/><ellipse cx="6.4" cy="37" rx="6.4" ry="5.6" fill="none" stroke="#d99470" stroke-width="1" opacity="0.35"/><ellipse cx="15" cy="42" rx="6.4" ry="5.6" fill="none" stroke="#d99470" stroke-width="1" opacity="0.35"/><ellipse cx="28.5" cy="42" rx="6.4" ry="5.6" fill="none" stroke="#d99470" stroke-width="1" opacity="0.35"/><ellipse cx="36" cy="41" rx="6.4" ry="5.6" fill="none" stroke="#d99470" stroke-width="1" opacity="0.35"/><ellipse cx="7.6" cy="50.2" rx="6.4" ry="5.6" fill="none" stroke="#d99470" stroke-width="1" opacity="0.35"/><ellipse cx="19.9" cy="51.4" rx="6.4" ry="5.6" fill="none" stroke="#d99470" stroke-width="1" opacity="0.35"/><ellipse cx="33.4" cy="50.2" rx="6.4" ry="5.6" fill="none" stroke="#d99470" stroke-width="1" opacity="0.35"/><ellipse cx="15" cy="60" rx="6.4" ry="5.6" fill="none" stroke="#d99470" stroke-width="1" opacity="0.35"/><ellipse cx="28.5" cy="58" rx="6.4" ry="5.6" fill="none" stroke="#d99470" stroke-width="1" opacity="0.35"/><ellipse cx="38.4" cy="56.5" rx="6.4" ry="5.6" fill="none" stroke="#d99470" stroke-width="1" opacity="0.35"/><ellipse cx="4" cy="64.5" rx="6.4" ry="5.6" fill="none" stroke="#d99470" stroke-width="1" opacity="0.35"/><ellipse cx="39" cy="66" rx="6.4" ry="5.6" fill="none" stroke="#d99470" stroke-width="1" opacity="0.35"/><ellipse cx="17.4" cy="12.2" rx="4.2" ry="3.3" transform="rotate(107 17.4 12.2)" fill="#5e5a98" opacity="0.9"/><ellipse cx="8" cy="20" rx="3.6" ry="3.1" transform="rotate(71 8 20)" fill="#5e5a98" opacity="0.9"/><ellipse cx="11.3" cy="22.5" rx="4.2" ry="3.4" transform="rotate(54 11.3 22.5)" fill="#5e5a98" opacity="0.9"/><ellipse cx="24.8" cy="23.3" rx="4.0" ry="3.4" transform="rotate(88 24.8 23.3)" fill="#5e5a98" opacity="0.9"/><ellipse cx="15" cy="31" rx="4.1" ry="3.2" transform="rotate(41 15 31)" fill="#5e5a98" opacity="0.9"/><ellipse cx="24.8" cy="34.4" rx="4.3" ry="3.1" transform="rotate(63 24.8 34.4)" fill="#5e5a98" opacity="0.9"/><ellipse cx="33.4" cy="29.5" rx="4.5" ry="3.3" transform="rotate(60 33.4 29.5)" fill="#5e5a98" opacity="0.9"/><ellipse cx="6.4" cy="37" rx="4.4" ry="2.9" transform="rotate(119 6.4 37)" fill="#5e5a98" opacity="0.9"/><ellipse cx="15" cy="42" rx="4.2" ry="2.9" transform="rotate(40 15 42)" fill="#5e5a98" opacity="0.9"/><ellipse cx="28.5" cy="42" rx="4.6" ry="2.8" transform="rotate(67 28.5 42)" fill="#5e5a98" opacity="0.9"/><ellipse cx="36" cy="41" rx="4.6" ry="2.9" transform="rotate(61 36 41)" fill="#5e5a98" opacity="0.9"/><ellipse cx="7.6" cy="50.2" rx="3.9" ry="3.5" transform="rotate(109 7.6 50.2)" fill="#5e5a98" opacity="0.9"/><ellipse cx="19.9" cy="51.4" rx="4.5" ry="3.2" transform="rotate(63 19.9 51.4)" fill="#5e5a98" opacity="0.9"/><ellipse cx="33.4" cy="50.2" rx="4.5" ry="3.3" transform="rotate(89 33.4 50.2)" fill="#5e5a98" opacity="0.9"/><ellipse cx="15" cy="60" rx="3.9" ry="3.1" transform="rotate(61 15 60)" fill="#5e5a98" opacity="0.9"/><ellipse cx="28.5" cy="58" rx="4.5" ry="3.0" transform="rotate(82 28.5 58)" fill="#5e5a98" opacity="0.9"/><ellipse cx="38.4" cy="56.5" rx="3.9" ry="3.2" transform="rotate(40 38.4 56.5)" fill="#5e5a98" opacity="0.9"/><ellipse cx="4" cy="64.5" rx="4.2" ry="3.3" transform="rotate(48 4 64.5)" fill="#5e5a98" opacity="0.9"/><ellipse cx="39" cy="66" rx="3.9" ry="3.4" transform="rotate(101 39 66)" fill="#5e5a98" opacity="0.9"/><path d="M16,-3 L45,-3 L45,34 L40,24 L33,13 L25,4Z" fill="#8a82b0" opacity="0.8"/><ellipse cx="26" cy="12" rx="1.8" ry="4" transform="rotate(-35 26 12)" fill="#eeeaf2"/><path d="M35,-3 L45,-3 L45,8 L40,5Z" fill="#ece8f2"/>
</g></g>
<text x="2.6" y="64.2" font-size="6.6" font-weight="bold" fill="#111" stroke="#111" stroke-width="0.25">20 µm</text>
<rect x="2.5" y="66.5" width="18.4" height="1.4" fill="#111"/>
<rect x="0" y="0" width="42.1" height="70.0" fill="none" stroke="#6e6e6e" stroke-width="1"/>
</g>
<g transform="translate(421.9,245.3)"><g clip-path="url(#clip5)"><g filter="url(#blur5)">
<rect x="-2" y="-2" width="100.8" height="74.0" fill="#f4f1f6"/>
<path d="M-3.0,16.0 C-0.9,6.2 5.3,15.0 9.6,14.0 C13.9,13.0 19.8,11.0 23.0,10.2 C26.2,9.4 25.8,9.0 29.0,9.2 C32.2,9.3 38.5,9.7 42.3,11.1 C46.1,12.5 49.3,15.8 51.9,17.9 C54.5,20.0 55.8,22.5 57.7,23.6 C59.6,24.7 61.5,25.0 63.5,24.6 C65.5,24.2 68.4,22.1 70.0,21.0 C71.6,19.9 71.6,20.3 73.1,17.9 C74.6,15.4 76.7,8.9 78.9,6.3 C81.2,3.7 83.1,3.3 86.6,2.5 C90.1,1.7 97.8,-10.2 100.0,1.5 C102.2,13.2 117.2,61.1 100.0,73.0 C82.8,84.9 14.2,82.5 -3.0,73.0 C-20.2,63.5 -5.1,25.8 -3.0,16.0Z" fill="#cfd0ea" opacity="1"/>
<path d="M-3.0,18.0 C-0.9,8.5 5.3,17.0 9.6,16.0 C13.9,15.0 19.8,13.0 23.0,12.2 C26.2,11.4 25.8,11.0 29.0,11.2 C32.2,11.3 38.5,11.7 42.3,13.1 C46.1,14.5 49.3,17.8 51.9,19.9 C54.5,22.0 55.8,24.5 57.7,25.6 C59.6,26.7 61.5,27.0 63.5,26.6 C65.5,26.2 68.4,24.1 70.0,23.0 C71.6,21.9 71.6,22.3 73.1,19.9 C74.6,17.4 76.7,10.9 78.9,8.3 C81.2,5.7 83.1,5.3 86.6,4.5 C90.1,3.7 97.8,-7.9 100.0,3.5 C102.2,14.9 117.2,61.4 100.0,73.0 C82.8,84.6 14.2,82.2 -3.0,73.0 C-20.2,63.8 -5.1,27.5 -3.0,18.0Z" fill="#a6acdb" opacity="1"/>
<path d="M-3.0,21.0 C-0.9,12.0 5.3,20.0 9.6,19.0 C13.9,18.0 19.8,16.0 23.0,15.2 C26.2,14.4 25.8,14.0 29.0,14.2 C32.2,14.3 38.5,14.7 42.3,16.1 C46.1,17.6 49.3,20.8 51.9,22.9 C54.5,25.0 55.8,27.5 57.7,28.6 C59.6,29.7 61.5,30.0 63.5,29.6 C65.5,29.2 68.4,27.1 70.0,26.0 C71.6,24.9 71.6,25.3 73.1,22.9 C74.6,20.4 76.7,13.9 78.9,11.3 C81.2,8.7 83.1,8.3 86.6,7.5 C90.1,6.7 97.8,-4.4 100.0,6.5 C102.2,17.4 117.2,61.9 100.0,73.0 C82.8,84.1 14.2,81.7 -3.0,73.0 C-20.2,64.3 -5.1,30.0 -3.0,21.0Z" fill="#8c98d4" opacity="1"/>
<path d="M-3.0,60.0 C-1.7,57.5 2.7,59.3 5.0,58.0 C7.3,56.7 9.3,54.3 11.0,52.0 C12.7,49.7 13.5,46.2 15.0,44.0 C16.5,41.8 18.0,39.8 20.0,38.5 C22.0,37.2 24.8,36.6 27.0,36.5 C29.2,36.4 31.3,36.9 33.0,38.0 C34.7,39.1 35.8,40.8 37.0,43.0 C38.2,45.2 39.0,48.2 40.0,51.0 C41.0,53.8 41.3,58.1 43.0,60.0 C44.7,61.9 47.2,62.2 50.0,62.5 C52.8,62.8 56.7,62.5 60.0,62.0 C63.3,61.5 67.3,61.2 70.0,59.5 C72.7,57.8 74.2,54.2 76.0,52.0 C77.8,49.8 78.7,47.6 81.0,46.5 C83.3,45.4 86.8,45.8 90.0,45.5 C93.2,45.2 98.3,40.4 100.0,45.0 C101.7,49.6 117.2,68.3 100.0,73.0 C82.8,77.7 14.2,75.2 -3.0,73.0 C-20.2,70.8 -4.3,62.5 -3.0,60.0Z" fill="#dcd9ee" opacity="1"/>
<ellipse cx="47.0" cy="32.5" rx="1.4" ry="0.8" transform="rotate(126 47.0 32.5)" fill="#334395" opacity="1"/>
<ellipse cx="27.6" cy="22.6" rx="1.2" ry="0.8" transform="rotate(19 27.6 22.6)" fill="#354597" opacity="1"/>
<ellipse cx="63.2" cy="60.5" rx="1.3" ry="0.7" transform="rotate(110 63.2 60.5)" fill="#3f4fa1" opacity="1"/>
<ellipse cx="24.5" cy="24.3" rx="0.9" ry="0.7" transform="rotate(166 24.5 24.3)" fill="#3f4fa1" opacity="1"/>
<ellipse cx="71.5" cy="34.4" rx="1.1" ry="0.7" transform="rotate(92 71.5 34.4)" fill="#3a4a9c" opacity="1"/>
<ellipse cx="46.2" cy="36.7" rx="1.5" ry="0.9" transform="rotate(161 46.2 36.7)" fill="#3e4ea0" opacity="1"/>
<ellipse cx="10.0" cy="28.4" rx="0.9" ry="0.9" transform="rotate(134 10.0 28.4)" fill="#4b5bad" opacity="1"/>
<ellipse cx="68.3" cy="37.5" rx="1.2" ry="0.9" transform="rotate(85 68.3 37.5)" fill="#4c5cae" opacity="1"/>
<ellipse cx="91.3" cy="27.7" rx="1.3" ry="0.8" transform="rotate(162 91.3 27.7)" fill="#4959ab" opacity="1"/>
<ellipse cx="38.4" cy="27.7" rx="1.1" ry="0.9" transform="rotate(120 38.4 27.7)" fill="#4353a5" opacity="1"/>
<ellipse cx="50.5" cy="44.4" rx="0.9" ry="0.8" transform="rotate(125 50.5 44.4)" fill="#4656a8" opacity="1"/>
<ellipse cx="80.1" cy="19.9" rx="1.5" ry="1.0" transform="rotate(112 80.1 19.9)" fill="#4858aa" opacity="1"/>
<ellipse cx="17.8" cy="17.8" rx="1.1" ry="0.8" transform="rotate(161 17.8 17.8)" fill="#3b4b9d" opacity="1"/>
<ellipse cx="98.6" cy="35.0" rx="1.4" ry="0.9" transform="rotate(55 98.6 35.0)" fill="#324294" opacity="1"/>
<ellipse cx="38.3" cy="43.8" rx="0.9" ry="1.0" transform="rotate(110 38.3 43.8)" fill="#4d5daf" opacity="1"/>
<ellipse cx="16.1" cy="35.8" rx="1.5" ry="0.8" transform="rotate(97 16.1 35.8)" fill="#38489a" opacity="1"/>
<ellipse cx="12.8" cy="20.6" rx="1.1" ry="0.8" transform="rotate(170 12.8 20.6)" fill="#39499b" opacity="1"/>
<ellipse cx="92.5" cy="20.5" rx="1.1" ry="0.8" transform="rotate(11 92.5 20.5)" fill="#344496" opacity="1"/>
<ellipse cx="46.6" cy="38.5" rx="1.4" ry="0.9" transform="rotate(166 46.6 38.5)" fill="#4d5daf" opacity="1"/>
<ellipse cx="9.3" cy="48.2" rx="0.9" ry="0.6" transform="rotate(46 9.3 48.2)" fill="#354597" opacity="1"/>
<ellipse cx="13.4" cy="20.3" rx="1.5" ry="0.9" transform="rotate(90 13.4 20.3)" fill="#4151a3" opacity="1"/>
<ellipse cx="73.4" cy="40.0" rx="1.0" ry="0.8" transform="rotate(36 73.4 40.0)" fill="#3f4fa1" opacity="1"/>
<ellipse cx="96.5" cy="18.3" rx="1.1" ry="0.8" transform="rotate(119 96.5 18.3)" fill="#3a4a9c" opacity="1"/>
<ellipse cx="37.8" cy="34.9" rx="1.6" ry="0.6" transform="rotate(160 37.8 34.9)" fill="#4151a3" opacity="1"/>
<ellipse cx="90.4" cy="29.0" rx="1.4" ry="0.6" transform="rotate(40 90.4 29.0)" fill="#4454a6" opacity="1"/>
<ellipse cx="31.2" cy="36.0" rx="1.6" ry="0.8" transform="rotate(120 31.2 36.0)" fill="#4151a3" opacity="1"/>
<ellipse cx="40.9" cy="30.3" rx="1.0" ry="0.8" transform="rotate(13 40.9 30.3)" fill="#4c5cae" opacity="1"/>
<ellipse cx="50.5" cy="23.3" rx="1.3" ry="0.8" transform="rotate(70 50.5 23.3)" fill="#4858aa" opacity="1"/>
<ellipse cx="43.9" cy="58.3" rx="1.4" ry="0.9" transform="rotate(29 43.9 58.3)" fill="#4555a7" opacity="1"/>
<ellipse cx="2.4" cy="23.1" rx="0.9" ry="0.9" transform="rotate(160 2.4 23.1)" fill="#4555a7" opacity="1"/>
<ellipse cx="64.9" cy="37.3" rx="1.4" ry="0.8" transform="rotate(144 64.9 37.3)" fill="#364698" opacity="1"/>
<ellipse cx="45.4" cy="42.1" rx="0.9" ry="0.8" transform="rotate(165 45.4 42.1)" fill="#344496" opacity="1"/>
<ellipse cx="72.0" cy="47.0" rx="1.5" ry="1.0" transform="rotate(115 72.0 47.0)" fill="#4252a4" opacity="1"/>
<ellipse cx="45.8" cy="31.7" rx="1.3" ry="0.7" transform="rotate(144 45.8 31.7)" fill="#4151a3" opacity="1"/>
<ellipse cx="41.8" cy="35.8" rx="1.4" ry="0.9" transform="rotate(147 41.8 35.8)" fill="#4555a7" opacity="1"/>
<ellipse cx="45.7" cy="49.1" rx="1.2" ry="0.9" transform="rotate(65 45.7 49.1)" fill="#3f4fa1" opacity="1"/>
<ellipse cx="12.9" cy="23.5" rx="1.4" ry="1.0" transform="rotate(39 12.9 23.5)" fill="#38489a" opacity="1"/>
<ellipse cx="95.7" cy="39.4" rx="1.5" ry="1.0" transform="rotate(119 95.7 39.4)" fill="#38489a" opacity="1"/>
<ellipse cx="45.8" cy="24.1" rx="1.4" ry="0.8" transform="rotate(15 45.8 24.1)" fill="#4a5aac" opacity="1"/>
<ellipse cx="31.4" cy="17.1" rx="1.4" ry="0.7" transform="rotate(109 31.4 17.1)" fill="#3e4ea0" opacity="1"/>
<ellipse cx="88.7" cy="43.0" rx="1.5" ry="0.9" transform="rotate(31 88.7 43.0)" fill="#3a4a9c" opacity="1"/>
<ellipse cx="93.5" cy="39.0" rx="1.4" ry="1.0" transform="rotate(94 93.5 39.0)" fill="#3e4ea0" opacity="1"/>
<ellipse cx="18.0" cy="36.6" rx="1.1" ry="0.8" transform="rotate(5 18.0 36.6)" fill="#4454a6" opacity="1"/>
<ellipse cx="5.5" cy="23.4" rx="1.0" ry="0.9" transform="rotate(39 5.5 23.4)" fill="#4151a3" opacity="1"/>
<ellipse cx="1.4" cy="38.6" rx="1.1" ry="1.0" transform="rotate(35 1.4 38.6)" fill="#3a4a9c" opacity="1"/>
<ellipse cx="85.6" cy="10.9" rx="1.2" ry="0.8" transform="rotate(52 85.6 10.9)" fill="#364698" opacity="1"/>
<ellipse cx="-1.0" cy="23.2" rx="1.2" ry="0.7" transform="rotate(128 -1.0 23.2)" fill="#3d4d9f" opacity="1"/>
<ellipse cx="59.4" cy="39.9" rx="1.4" ry="1.0" transform="rotate(101 59.4 39.9)" fill="#4555a7" opacity="1"/>
<ellipse cx="82.1" cy="36.6" rx="0.9" ry="0.9" transform="rotate(90 82.1 36.6)" fill="#4c5cae" opacity="1"/>
<ellipse cx="40.0" cy="33.4" rx="1.5" ry="1.0" transform="rotate(139 40.0 33.4)" fill="#3e4ea0" opacity="1"/>
<ellipse cx="41.5" cy="48.0" rx="1.5" ry="0.8" transform="rotate(126 41.5 48.0)" fill="#4151a3" opacity="1"/>
<ellipse cx="26.4" cy="21.5" rx="1.6" ry="0.6" transform="rotate(39 26.4 21.5)" fill="#374799" opacity="1"/>
<ellipse cx="80.2" cy="44.4" rx="1.1" ry="0.6" transform="rotate(121 80.2 44.4)" fill="#4656a8" opacity="1"/>
<ellipse cx="62.7" cy="46.8" rx="1.3" ry="0.6" transform="rotate(143 62.7 46.8)" fill="#4a5aac" opacity="1"/>
<ellipse cx="14.9" cy="28.6" rx="1.6" ry="1.0" transform="rotate(147 14.9 28.6)" fill="#4959ab" opacity="1"/>
<ellipse cx="80.9" cy="18.5" rx="1.5" ry="0.9" transform="rotate(165 80.9 18.5)" fill="#4b5bad" opacity="1"/>
<ellipse cx="79.2" cy="17.0" rx="1.1" ry="0.9" transform="rotate(149 79.2 17.0)" fill="#3d4d9f" opacity="1"/>
<ellipse cx="39.6" cy="45.8" rx="1.6" ry="0.9" transform="rotate(62 39.6 45.8)" fill="#38489a" opacity="1"/>
<ellipse cx="16.9" cy="41.1" rx="1.4" ry="0.7" transform="rotate(134 16.9 41.1)" fill="#4252a4" opacity="1"/>
<ellipse cx="55.7" cy="36.4" rx="1.2" ry="0.6" transform="rotate(97 55.7 36.4)" fill="#4454a6" opacity="1"/>
<ellipse cx="84.6" cy="30.3" rx="1.6" ry="1.0" transform="rotate(16 84.6 30.3)" fill="#334395" opacity="1"/>
<ellipse cx="3.0" cy="44.6" rx="1.2" ry="0.8" transform="rotate(58 3.0 44.6)" fill="#4252a4" opacity="1"/>
<ellipse cx="9.5" cy="43.2" rx="1.6" ry="1.0" transform="rotate(159 9.5 43.2)" fill="#4555a7" opacity="1"/>
<ellipse cx="56.7" cy="36.8" rx="1.5" ry="0.6" transform="rotate(113 56.7 36.8)" fill="#344496" opacity="1"/>
<ellipse cx="47.1" cy="50.0" rx="1.6" ry="0.9" transform="rotate(141 47.1 50.0)" fill="#3a4a9c" opacity="1"/>
<ellipse cx="62.4" cy="37.3" rx="1.2" ry="0.8" transform="rotate(80 62.4 37.3)" fill="#3c4c9e" opacity="1"/>
<ellipse cx="74.9" cy="43.1" rx="1.6" ry="1.0" transform="rotate(144 74.9 43.1)" fill="#354597" opacity="1"/>
<ellipse cx="48.8" cy="34.8" rx="1.5" ry="1.0" transform="rotate(35 48.8 34.8)" fill="#324294" opacity="1"/>
<ellipse cx="36.8" cy="28.6" rx="1.3" ry="0.9" transform="rotate(162 36.8 28.6)" fill="#3c4c9e" opacity="1"/>
<ellipse cx="47.8" cy="32.3" rx="1.6" ry="0.8" transform="rotate(165 47.8 32.3)" fill="#4d5daf" opacity="1"/>
<ellipse cx="0.9" cy="49.9" rx="1.0" ry="0.8" transform="rotate(113 0.9 49.9)" fill="#344496" opacity="1"/>
<ellipse cx="56.3" cy="45.5" rx="1.1" ry="0.8" transform="rotate(71 56.3 45.5)" fill="#364698" opacity="1"/>
<ellipse cx="62.2" cy="37.3" rx="1.5" ry="0.9" transform="rotate(136 62.2 37.3)" fill="#3d4d9f" opacity="1"/>
<ellipse cx="52.4" cy="25.2" rx="0.9" ry="1.0" transform="rotate(14 52.4 25.2)" fill="#3c4c9e" opacity="1"/>
<ellipse cx="83.9" cy="24.6" rx="1.5" ry="0.6" transform="rotate(27 83.9 24.6)" fill="#3e4ea0" opacity="1"/>
<ellipse cx="62.1" cy="51.1" rx="1.5" ry="0.9" transform="rotate(33 62.1 51.1)" fill="#4d5daf" opacity="1"/>
<ellipse cx="2.7" cy="33.2" rx="1.1" ry="0.6" transform="rotate(37 2.7 33.2)" fill="#4d5daf" opacity="1"/>
<ellipse cx="95.8" cy="26.4" rx="1.6" ry="0.9" transform="rotate(6 95.8 26.4)" fill="#4252a4" opacity="1"/>
<ellipse cx="18.7" cy="22.8" rx="1.4" ry="0.7" transform="rotate(63 18.7 22.8)" fill="#324294" opacity="1"/>
<ellipse cx="30.4" cy="24.2" rx="1.0" ry="0.6" transform="rotate(73 30.4 24.2)" fill="#344496" opacity="1"/>
<ellipse cx="92.4" cy="21.7" rx="1.2" ry="0.6" transform="rotate(146 92.4 21.7)" fill="#374799" opacity="1"/>
<ellipse cx="5.7" cy="27.9" rx="1.5" ry="1.0" transform="rotate(84 5.7 27.9)" fill="#4252a4" opacity="1"/>
<ellipse cx="5.4" cy="57.2" rx="1.4" ry="0.7" transform="rotate(151 5.4 57.2)" fill="#364698" opacity="1"/>
<ellipse cx="46.7" cy="23.2" rx="1.3" ry="0.7" transform="rotate(98 46.7 23.2)" fill="#39499b" opacity="1"/>
<ellipse cx="77.5" cy="32.1" rx="1.3" ry="0.9" transform="rotate(46 77.5 32.1)" fill="#374799" opacity="1"/>
<ellipse cx="71.8" cy="32.8" rx="1.3" ry="0.7" transform="rotate(171 71.8 32.8)" fill="#4353a5" opacity="1"/>
<ellipse cx="79.0" cy="27.8" rx="1.3" ry="0.9" transform="rotate(96 79.0 27.8)" fill="#4757a9" opacity="1"/>
<ellipse cx="30.1" cy="35.8" rx="1.0" ry="0.8" transform="rotate(160 30.1 35.8)" fill="#324294" opacity="1"/>
<ellipse cx="17.0" cy="37.3" rx="1.4" ry="0.9" transform="rotate(124 17.0 37.3)" fill="#4656a8" opacity="1"/>
<ellipse cx="-1.4" cy="35.4" rx="1.6" ry="0.8" transform="rotate(137 -1.4 35.4)" fill="#4353a5" opacity="1"/>
<ellipse cx="1.8" cy="37.7" rx="1.6" ry="0.9" transform="rotate(54 1.8 37.7)" fill="#4b5bad" opacity="1"/>
<ellipse cx="65.5" cy="58.8" rx="1.5" ry="0.8" transform="rotate(84 65.5 58.8)" fill="#4050a2" opacity="1"/>
<ellipse cx="32.2" cy="31.7" rx="1.3" ry="0.7" transform="rotate(109 32.2 31.7)" fill="#334395" opacity="1"/>
<ellipse cx="85.7" cy="13.3" rx="1.5" ry="0.9" transform="rotate(142 85.7 13.3)" fill="#4757a9" opacity="1"/>
<ellipse cx="16.8" cy="38.7" rx="0.9" ry="0.9" transform="rotate(142 16.8 38.7)" fill="#374799" opacity="1"/>
<ellipse cx="65.3" cy="45.9" rx="0.9" ry="0.8" transform="rotate(158 65.3 45.9)" fill="#364698" opacity="1"/>
<ellipse cx="89.5" cy="22.5" rx="0.9" ry="0.6" transform="rotate(136 89.5 22.5)" fill="#374799" opacity="1"/>
<ellipse cx="84.7" cy="31.5" rx="1.0" ry="0.9" transform="rotate(59 84.7 31.5)" fill="#354597" opacity="1"/>
<ellipse cx="-1.6" cy="24.1" rx="1.2" ry="0.8" transform="rotate(105 -1.6 24.1)" fill="#344496" opacity="1"/>
<ellipse cx="-1.7" cy="56.3" rx="1.2" ry="0.9" transform="rotate(161 -1.7 56.3)" fill="#4252a4" opacity="1"/>
<ellipse cx="19.3" cy="35.7" rx="1.6" ry="1.0" transform="rotate(42 19.3 35.7)" fill="#4353a5" opacity="1"/>
<ellipse cx="27.2" cy="27.3" rx="1.1" ry="1.0" transform="rotate(69 27.2 27.3)" fill="#3e4ea0" opacity="1"/>
<ellipse cx="6.7" cy="54.1" rx="1.0" ry="0.9" transform="rotate(43 6.7 54.1)" fill="#38489a" opacity="1"/>
<ellipse cx="2.2" cy="26.9" rx="1.6" ry="0.7" transform="rotate(60 2.2 26.9)" fill="#4656a8" opacity="1"/>
<ellipse cx="2.1" cy="50.5" rx="1.5" ry="0.9" transform="rotate(104 2.1 50.5)" fill="#344496" opacity="1"/>
<ellipse cx="66.2" cy="39.4" rx="1.2" ry="0.9" transform="rotate(33 66.2 39.4)" fill="#3c4c9e" opacity="1"/>
<ellipse cx="61.7" cy="56.8" rx="1.6" ry="1.0" transform="rotate(47 61.7 56.8)" fill="#3d4d9f" opacity="1"/>
<ellipse cx="50.9" cy="32.8" rx="1.0" ry="0.7" transform="rotate(168 50.9 32.8)" fill="#3c4c9e" opacity="1"/>
<ellipse cx="49.8" cy="57.9" rx="1.6" ry="0.6" transform="rotate(106 49.8 57.9)" fill="#4c5cae" opacity="1"/>
<ellipse cx="29.3" cy="27.5" rx="1.0" ry="1.0" transform="rotate(101 29.3 27.5)" fill="#4252a4" opacity="1"/>
<ellipse cx="58.2" cy="56.9" rx="1.3" ry="0.8" transform="rotate(80 58.2 56.9)" fill="#3b4b9d" opacity="1"/>
<ellipse cx="95.7" cy="43.1" rx="1.2" ry="0.6" transform="rotate(115 95.7 43.1)" fill="#334395" opacity="1"/>
<ellipse cx="37.5" cy="19.7" rx="1.1" ry="0.8" transform="rotate(22 37.5 19.7)" fill="#39499b" opacity="1"/>
<ellipse cx="83.3" cy="30.1" rx="1.0" ry="0.9" transform="rotate(68 83.3 30.1)" fill="#3c4c9e" opacity="1"/>
<ellipse cx="92.5" cy="34.7" rx="1.2" ry="0.8" transform="rotate(16 92.5 34.7)" fill="#364698" opacity="1"/>
<ellipse cx="84.9" cy="42.2" rx="1.1" ry="0.9" transform="rotate(52 84.9 42.2)" fill="#3e4ea0" opacity="1"/>
<ellipse cx="19.2" cy="22.1" rx="1.3" ry="0.8" transform="rotate(97 19.2 22.1)" fill="#3f4fa1" opacity="1"/>
<ellipse cx="76.6" cy="21.3" rx="1.2" ry="0.9" transform="rotate(160 76.6 21.3)" fill="#39499b" opacity="1"/>
<ellipse cx="33.8" cy="33.3" rx="1.1" ry="0.8" transform="rotate(169 33.8 33.3)" fill="#38489a" opacity="1"/>
<ellipse cx="47.3" cy="26.8" rx="1.0" ry="0.8" transform="rotate(152 47.3 26.8)" fill="#3c4c9e" opacity="1"/>
<ellipse cx="13.9" cy="38.5" rx="1.4" ry="0.8" transform="rotate(53 13.9 38.5)" fill="#4252a4" opacity="1"/>
<ellipse cx="62.1" cy="56.6" rx="1.2" ry="0.6" transform="rotate(13 62.1 56.6)" fill="#334395" opacity="1"/>
<ellipse cx="52.2" cy="25.3" rx="0.9" ry="1.0" transform="rotate(12 52.2 25.3)" fill="#3b4b9d" opacity="1"/>
<ellipse cx="76.1" cy="45.1" rx="1.1" ry="1.0" transform="rotate(81 76.1 45.1)" fill="#4959ab" opacity="1"/>
<ellipse cx="40.5" cy="43.1" rx="1.6" ry="0.6" transform="rotate(102 40.5 43.1)" fill="#4252a4" opacity="1"/>
<ellipse cx="95.5" cy="40.6" rx="1.1" ry="0.7" transform="rotate(100 95.5 40.6)" fill="#364698" opacity="1"/>
<ellipse cx="16.4" cy="18.8" rx="1.4" ry="0.8" transform="rotate(164 16.4 18.8)" fill="#3b4b9d" opacity="1"/>
<ellipse cx="74.4" cy="30.3" rx="1.6" ry="1.0" transform="rotate(35 74.4 30.3)" fill="#3c4c9e" opacity="1"/>
<ellipse cx="45.8" cy="33.4" rx="1.3" ry="0.9" transform="rotate(27 45.8 33.4)" fill="#4454a6" opacity="1"/>
<ellipse cx="81.0" cy="30.1" rx="1.1" ry="0.7" transform="rotate(109 81.0 30.1)" fill="#354597" opacity="1"/>
<ellipse cx="19.3" cy="24.1" rx="1.4" ry="0.9" transform="rotate(98 19.3 24.1)" fill="#364698" opacity="1"/>
<ellipse cx="98.5" cy="32.8" rx="1.5" ry="0.7" transform="rotate(50 98.5 32.8)" fill="#364698" opacity="1"/>
<ellipse cx="10.9" cy="22.5" rx="1.4" ry="0.7" transform="rotate(178 10.9 22.5)" fill="#4959ab" opacity="1"/>
<ellipse cx="65.5" cy="35.1" rx="1.2" ry="0.8" transform="rotate(3 65.5 35.1)" fill="#4757a9" opacity="1"/>
<ellipse cx="97.6" cy="18.2" rx="1.0" ry="0.6" transform="rotate(21 97.6 18.2)" fill="#3b4b9d" opacity="1"/>
<ellipse cx="16.2" cy="29.3" rx="1.3" ry="0.7" transform="rotate(10 16.2 29.3)" fill="#374799" opacity="1"/>
<ellipse cx="45.6" cy="31.4" rx="1.3" ry="0.9" transform="rotate(74 45.6 31.4)" fill="#4b5bad" opacity="1"/>
<ellipse cx="94.4" cy="22.7" rx="1.3" ry="1.0" transform="rotate(55 94.4 22.7)" fill="#4d5daf" opacity="1"/>
<ellipse cx="48.5" cy="44.4" rx="1.0" ry="0.8" transform="rotate(118 48.5 44.4)" fill="#374799" opacity="1"/>
<ellipse cx="95.8" cy="29.3" rx="1.3" ry="0.9" transform="rotate(56 95.8 29.3)" fill="#4555a7" opacity="1"/>
<ellipse cx="71.9" cy="50.2" rx="1.1" ry="0.7" transform="rotate(105 71.9 50.2)" fill="#3e4ea0" opacity="1"/>
<ellipse cx="45.6" cy="38.7" rx="1.4" ry="0.7" transform="rotate(38 45.6 38.7)" fill="#354597" opacity="1"/>
<ellipse cx="91.8" cy="18.8" rx="1.2" ry="0.9" transform="rotate(51 91.8 18.8)" fill="#344496" opacity="1"/>
<ellipse cx="13.7" cy="24.2" rx="1.2" ry="0.7" transform="rotate(53 13.7 24.2)" fill="#344496" opacity="1"/>
<ellipse cx="49.0" cy="48.7" rx="1.2" ry="1.0" transform="rotate(112 49.0 48.7)" fill="#3c4c9e" opacity="1"/>
<ellipse cx="34.9" cy="22.8" rx="1.0" ry="0.8" transform="rotate(96 34.9 22.8)" fill="#4858aa" opacity="1"/>
<ellipse cx="89.5" cy="27.3" rx="1.4" ry="1.0" transform="rotate(50 89.5 27.3)" fill="#364698" opacity="1"/>
<ellipse cx="76.7" cy="24.1" rx="1.3" ry="0.6" transform="rotate(105 76.7 24.1)" fill="#3e4ea0" opacity="1"/>
<ellipse cx="19.1" cy="18.1" rx="1.5" ry="1.0" transform="rotate(56 19.1 18.1)" fill="#3a4a9c" opacity="1"/>
<ellipse cx="32.2" cy="26.5" rx="1.2" ry="1.0" transform="rotate(3 32.2 26.5)" fill="#3c4c9e" opacity="1"/>
<ellipse cx="53.3" cy="41.1" rx="1.1" ry="0.9" transform="rotate(77 53.3 41.1)" fill="#364698" opacity="1"/>
<ellipse cx="89.8" cy="18.9" rx="1.4" ry="1.0" transform="rotate(31 89.8 18.9)" fill="#4757a9" opacity="1"/>
<ellipse cx="76.4" cy="26.6" rx="1.5" ry="0.7" transform="rotate(93 76.4 26.6)" fill="#4d5daf" opacity="1"/>
<ellipse cx="50.9" cy="55.7" rx="1.2" ry="0.9" transform="rotate(87 50.9 55.7)" fill="#4555a7" opacity="1"/>
<ellipse cx="72.1" cy="47.0" rx="1.4" ry="0.7" transform="rotate(118 72.1 47.0)" fill="#4858aa" opacity="1"/>
<ellipse cx="95.9" cy="43.2" rx="1.1" ry="0.8" transform="rotate(56 95.9 43.2)" fill="#4151a3" opacity="1"/>
<ellipse cx="97.0" cy="43.8" rx="1.3" ry="0.8" transform="rotate(27 97.0 43.8)" fill="#324294" opacity="1"/>
<ellipse cx="81.6" cy="17.9" rx="1.3" ry="0.7" transform="rotate(58 81.6 17.9)" fill="#4858aa" opacity="1"/>
<ellipse cx="91.9" cy="8.2" rx="1.4" ry="0.9" transform="rotate(126 91.9 8.2)" fill="#364698" opacity="1"/>
<ellipse cx="24.5" cy="16.1" rx="1.0" ry="0.6" transform="rotate(74 24.5 16.1)" fill="#3b4b9d" opacity="1"/>
<ellipse cx="87.2" cy="12.1" rx="1.4" ry="0.9" transform="rotate(150 87.2 12.1)" fill="#3d4d9f" opacity="1"/>
<ellipse cx="40.1" cy="26.8" rx="1.4" ry="0.8" transform="rotate(127 40.1 26.8)" fill="#3e4ea0" opacity="1"/>
<ellipse cx="82.9" cy="40.4" rx="1.1" ry="0.8" transform="rotate(42 82.9 40.4)" fill="#4b5bad" opacity="1"/>
<ellipse cx="2.7" cy="29.6" rx="1.2" ry="0.8" transform="rotate(19 2.7 29.6)" fill="#4454a6" opacity="1"/>
<ellipse cx="11.4" cy="22.8" rx="1.1" ry="0.6" transform="rotate(180 11.4 22.8)" fill="#334395" opacity="1"/>
<ellipse cx="89.0" cy="45.2" rx="1.6" ry="0.8" transform="rotate(99 89.0 45.2)" fill="#3e4ea0" opacity="1"/>
<ellipse cx="53.4" cy="25.7" rx="1.0" ry="0.8" transform="rotate(143 53.4 25.7)" fill="#4d5daf" opacity="1"/>
<ellipse cx="89.5" cy="40.8" rx="1.0" ry="0.8" transform="rotate(29 89.5 40.8)" fill="#4a5aac" opacity="1"/>
<ellipse cx="74.1" cy="28.2" rx="1.1" ry="1.0" transform="rotate(79 74.1 28.2)" fill="#344496" opacity="1"/>
<ellipse cx="65.3" cy="30.7" rx="1.0" ry="0.9" transform="rotate(38 65.3 30.7)" fill="#374799" opacity="1"/>
<ellipse cx="31.6" cy="32.3" rx="1.6" ry="0.8" transform="rotate(78 31.6 32.3)" fill="#4959ab" opacity="1"/>
<ellipse cx="0.6" cy="51.8" rx="1.4" ry="0.9" transform="rotate(131 0.6 51.8)" fill="#4454a6" opacity="1"/>
<ellipse cx="78.1" cy="20.7" rx="1.3" ry="0.7" transform="rotate(42 78.1 20.7)" fill="#4353a5" opacity="1"/>
<ellipse cx="60.3" cy="41.4" rx="1.5" ry="0.6" transform="rotate(56 60.3 41.4)" fill="#354597" opacity="1"/>
<ellipse cx="13.4" cy="33.4" rx="1.4" ry="0.8" transform="rotate(87 13.4 33.4)" fill="#4151a3" opacity="1"/>
<ellipse cx="13.9" cy="35.5" rx="1.0" ry="1.0" transform="rotate(53 13.9 35.5)" fill="#324294" opacity="1"/>
<ellipse cx="63.1" cy="44.0" rx="1.4" ry="0.8" transform="rotate(165 63.1 44.0)" fill="#4454a6" opacity="1"/>
<ellipse cx="25.6" cy="31.2" rx="1.0" ry="0.9" transform="rotate(70 25.6 31.2)" fill="#3e4ea0" opacity="1"/>
<ellipse cx="35.0" cy="17.2" rx="1.3" ry="0.9" transform="rotate(63 35.0 17.2)" fill="#354597" opacity="1"/>
<ellipse cx="60.0" cy="41.8" rx="1.3" ry="0.9" transform="rotate(169 60.0 41.8)" fill="#4757a9" opacity="1"/>
<ellipse cx="58.4" cy="59.1" rx="1.3" ry="0.8" transform="rotate(37 58.4 59.1)" fill="#3b4b9d" opacity="1"/>
<ellipse cx="34.7" cy="22.1" rx="1.1" ry="0.7" transform="rotate(19 34.7 22.1)" fill="#4151a3" opacity="1"/>
<ellipse cx="41.9" cy="51.7" rx="1.4" ry="1.0" transform="rotate(164 41.9 51.7)" fill="#354597" opacity="1"/>
<ellipse cx="64.3" cy="58.4" rx="1.0" ry="0.7" transform="rotate(4 64.3 58.4)" fill="#364698" opacity="1"/>
<ellipse cx="34.2" cy="30.6" rx="1.3" ry="1.0" transform="rotate(12 34.2 30.6)" fill="#3d4d9f" opacity="1"/>
<ellipse cx="69.9" cy="50.8" rx="1.3" ry="0.7" transform="rotate(5 69.9 50.8)" fill="#38489a" opacity="1"/>
<ellipse cx="54.5" cy="56.7" rx="1.3" ry="0.8" transform="rotate(69 54.5 56.7)" fill="#4757a9" opacity="1"/>
<ellipse cx="95.8" cy="33.6" rx="1.4" ry="0.8" transform="rotate(46 95.8 33.6)" fill="#4b5bad" opacity="1"/>
<ellipse cx="5.5" cy="30.6" rx="1.5" ry="0.8" transform="rotate(70 5.5 30.6)" fill="#374799" opacity="1"/>
<ellipse cx="66.7" cy="41.6" rx="1.6" ry="0.7" transform="rotate(51 66.7 41.6)" fill="#4353a5" opacity="1"/>
<ellipse cx="0.2" cy="42.6" rx="1.1" ry="0.9" transform="rotate(142 0.2 42.6)" fill="#4858aa" opacity="1"/>
<ellipse cx="17.2" cy="28.0" rx="1.0" ry="0.9" transform="rotate(127 17.2 28.0)" fill="#4151a3" opacity="1"/>
<ellipse cx="53.3" cy="48.0" rx="1.2" ry="0.7" transform="rotate(172 53.3 48.0)" fill="#4757a9" opacity="1"/>
<ellipse cx="47.9" cy="38.4" rx="1.0" ry="0.7" transform="rotate(10 47.9 38.4)" fill="#4454a6" opacity="1"/>
<ellipse cx="80.0" cy="21.9" rx="1.0" ry="0.8" transform="rotate(51 80.0 21.9)" fill="#4757a9" opacity="1"/>
<ellipse cx="22.9" cy="21.8" rx="1.2" ry="0.9" transform="rotate(128 22.9 21.8)" fill="#354597" opacity="1"/>
<ellipse cx="65.4" cy="43.5" rx="1.0" ry="0.7" transform="rotate(153 65.4 43.5)" fill="#334395" opacity="1"/>
<ellipse cx="71.7" cy="53.1" rx="1.4" ry="0.7" transform="rotate(133 71.7 53.1)" fill="#4b5bad" opacity="1"/>
<ellipse cx="54.2" cy="41.7" rx="1.3" ry="1.0" transform="rotate(175 54.2 41.7)" fill="#4454a6" opacity="1"/>
<ellipse cx="47.2" cy="30.8" rx="1.4" ry="0.8" transform="rotate(43 47.2 30.8)" fill="#374799" opacity="1"/>
<ellipse cx="73.5" cy="38.9" rx="1.4" ry="0.7" transform="rotate(80 73.5 38.9)" fill="#354597" opacity="1"/>
<ellipse cx="15.4" cy="26.7" rx="1.1" ry="1.0" transform="rotate(19 15.4 26.7)" fill="#4050a2" opacity="1"/>
<ellipse cx="29.8" cy="27.2" rx="1.0" ry="0.9" transform="rotate(13 29.8 27.2)" fill="#4454a6" opacity="1"/>
<ellipse cx="63.5" cy="46.5" rx="0.9" ry="1.0" transform="rotate(158 63.5 46.5)" fill="#4858aa" opacity="1"/>
<ellipse cx="91.1" cy="26.4" rx="1.0" ry="0.8" transform="rotate(165 91.1 26.4)" fill="#4555a7" opacity="1"/>
<ellipse cx="9.0" cy="48.8" rx="1.5" ry="0.8" transform="rotate(117 9.0 48.8)" fill="#4a5aac" opacity="1"/>
<ellipse cx="40.7" cy="50.9" rx="1.3" ry="0.9" transform="rotate(153 40.7 50.9)" fill="#364698" opacity="1"/>
<ellipse cx="17.0" cy="39.8" rx="1.1" ry="0.7" transform="rotate(0 17.0 39.8)" fill="#3e4ea0" opacity="1"/>
<ellipse cx="98.6" cy="30.0" rx="1.1" ry="0.7" transform="rotate(108 98.6 30.0)" fill="#324294" opacity="1"/>
<ellipse cx="15.1" cy="36.4" rx="1.2" ry="0.9" transform="rotate(23 15.1 36.4)" fill="#334395" opacity="1"/>
<ellipse cx="62.9" cy="40.7" rx="1.0" ry="0.7" transform="rotate(80 62.9 40.7)" fill="#4555a7" opacity="1"/>
<ellipse cx="44.6" cy="35.0" rx="1.0" ry="1.0" transform="rotate(43 44.6 35.0)" fill="#3c4c9e" opacity="1"/>
<ellipse cx="35.1" cy="32.3" rx="1.5" ry="0.8" transform="rotate(21 35.1 32.3)" fill="#38489a" opacity="1"/>
<ellipse cx="4.4" cy="56.7" rx="1.5" ry="0.9" transform="rotate(55 4.4 56.7)" fill="#3b4b9d" opacity="1"/>
<ellipse cx="92.6" cy="10.4" rx="1.2" ry="0.7" transform="rotate(134 92.6 10.4)" fill="#4555a7" opacity="1"/>
<ellipse cx="59.2" cy="58.0" rx="1.3" ry="0.7" transform="rotate(92 59.2 58.0)" fill="#39499b" opacity="1"/>
<ellipse cx="8.3" cy="43.2" rx="1.4" ry="0.9" transform="rotate(26 8.3 43.2)" fill="#4252a4" opacity="1"/>
<ellipse cx="9.0" cy="31.0" rx="1.2" ry="0.7" transform="rotate(74 9.0 31.0)" fill="#4050a2" opacity="1"/>
<ellipse cx="9.2" cy="36.5" rx="1.0" ry="0.9" transform="rotate(6 9.2 36.5)" fill="#3f4fa1" opacity="1"/>
<ellipse cx="-1.6" cy="50.5" rx="1.6" ry="0.9" transform="rotate(82 -1.6 50.5)" fill="#3e4ea0" opacity="1"/>
<ellipse cx="33.8" cy="33.9" rx="1.0" ry="0.8" transform="rotate(63 33.8 33.9)" fill="#354597" opacity="1"/>
<ellipse cx="57.3" cy="31.5" rx="1.0" ry="0.8" transform="rotate(41 57.3 31.5)" fill="#4151a3" opacity="1"/>
<ellipse cx="73.8" cy="30.9" rx="1.2" ry="0.6" transform="rotate(53 73.8 30.9)" fill="#39499b" opacity="1"/>
<ellipse cx="61.6" cy="49.5" rx="1.2" ry="0.9" transform="rotate(64 61.6 49.5)" fill="#324294" opacity="1"/>
<ellipse cx="50.7" cy="55.8" rx="1.2" ry="1.0" transform="rotate(70 50.7 55.8)" fill="#39499b" opacity="1"/>
<ellipse cx="14.0" cy="31.2" rx="1.1" ry="0.6" transform="rotate(56 14.0 31.2)" fill="#4c5cae" opacity="1"/>
<ellipse cx="76.7" cy="30.6" rx="1.1" ry="0.8" transform="rotate(60 76.7 30.6)" fill="#4353a5" opacity="1"/>
<ellipse cx="75.3" cy="22.9" rx="1.1" ry="0.8" transform="rotate(103 75.3 22.9)" fill="#4a5aac" opacity="1"/>
<ellipse cx="79.9" cy="32.9" rx="1.2" ry="0.9" transform="rotate(104 79.9 32.9)" fill="#354597" opacity="1"/>
<ellipse cx="65.5" cy="50.4" rx="1.3" ry="0.6" transform="rotate(73 65.5 50.4)" fill="#324294" opacity="1"/>
<ellipse cx="66.9" cy="48.9" rx="1.0" ry="0.9" transform="rotate(9 66.9 48.9)" fill="#364698" opacity="1"/>
<ellipse cx="91.4" cy="19.4" rx="1.4" ry="1.0" transform="rotate(138 91.4 19.4)" fill="#3e4ea0" opacity="1"/>
<ellipse cx="41.2" cy="29.6" rx="1.0" ry="0.9" transform="rotate(94 41.2 29.6)" fill="#4757a9" opacity="1"/>
<ellipse cx="46.3" cy="20.5" rx="1.1" ry="0.6" transform="rotate(129 46.3 20.5)" fill="#4050a2" opacity="1"/>
<ellipse cx="34.7" cy="27.1" rx="1.1" ry="0.7" transform="rotate(45 34.7 27.1)" fill="#4050a2" opacity="1"/>
<ellipse cx="40.3" cy="33.3" rx="1.5" ry="0.7" transform="rotate(109 40.3 33.3)" fill="#4050a2" opacity="1"/>
<ellipse cx="93.5" cy="40.3" rx="1.6" ry="0.7" transform="rotate(35 93.5 40.3)" fill="#374799" opacity="1"/>
<ellipse cx="80.6" cy="13.8" rx="1.1" ry="0.9" transform="rotate(11 80.6 13.8)" fill="#4555a7" opacity="1"/>
<ellipse cx="37.6" cy="19.8" rx="1.6" ry="0.9" transform="rotate(38 37.6 19.8)" fill="#354597" opacity="1"/>
<ellipse cx="93.3" cy="25.5" rx="1.1" ry="0.6" transform="rotate(88 93.3 25.5)" fill="#4151a3" opacity="1"/>
<ellipse cx="10.8" cy="46.0" rx="1.3" ry="0.9" transform="rotate(166 10.8 46.0)" fill="#4a5aac" opacity="1"/>
<ellipse cx="42.2" cy="26.6" rx="1.3" ry="0.8" transform="rotate(82 42.2 26.6)" fill="#38489a" opacity="1"/>
<ellipse cx="61.9" cy="57.7" rx="1.6" ry="0.7" transform="rotate(37 61.9 57.7)" fill="#344496" opacity="1"/>
<ellipse cx="8.6" cy="52.6" rx="1.1" ry="0.7" transform="rotate(35 8.6 52.6)" fill="#4555a7" opacity="1"/>
<ellipse cx="0.4" cy="58.5" rx="1.2" ry="0.8" transform="rotate(90 0.4 58.5)" fill="#38489a" opacity="1"/>
<ellipse cx="90.4" cy="36.0" rx="1.3" ry="0.9" transform="rotate(119 90.4 36.0)" fill="#4959ab" opacity="1"/>
<ellipse cx="10.0" cy="24.0" rx="1.0" ry="0.8" transform="rotate(47 10.0 24.0)" fill="#4b5bad" opacity="1"/>
<ellipse cx="19.1" cy="28.9" rx="1.2" ry="0.7" transform="rotate(128 19.1 28.9)" fill="#3f4fa1" opacity="1"/>
<ellipse cx="78.2" cy="26.9" rx="1.5" ry="0.9" transform="rotate(73 78.2 26.9)" fill="#4c5cae" opacity="1"/>
<ellipse cx="91.5" cy="19.9" rx="1.3" ry="0.9" transform="rotate(41 91.5 19.9)" fill="#4a5aac" opacity="1"/>
<ellipse cx="86.4" cy="28.4" rx="0.9" ry="0.8" transform="rotate(102 86.4 28.4)" fill="#3a4a9c" opacity="1"/>
<ellipse cx="90.3" cy="30.5" rx="1.3" ry="0.7" transform="rotate(132 90.3 30.5)" fill="#4050a2" opacity="1"/>
<ellipse cx="70.9" cy="30.6" rx="1.5" ry="0.8" transform="rotate(100 70.9 30.6)" fill="#4656a8" opacity="1"/>
<ellipse cx="86.1" cy="16.5" rx="1.0" ry="0.8" transform="rotate(28 86.1 16.5)" fill="#4858aa" opacity="1"/>
<ellipse cx="32.4" cy="27.1" rx="1.0" ry="0.7" transform="rotate(65 32.4 27.1)" fill="#39499b" opacity="1"/>
<ellipse cx="19.3" cy="23.0" rx="1.4" ry="0.6" transform="rotate(91 19.3 23.0)" fill="#4454a6" opacity="1"/>
<ellipse cx="0.2" cy="52.5" rx="1.4" ry="0.7" transform="rotate(11 0.2 52.5)" fill="#344496" opacity="1"/>
<ellipse cx="86.1" cy="9.8" rx="1.3" ry="0.8" transform="rotate(118 86.1 9.8)" fill="#3e4ea0" opacity="1"/>
<ellipse cx="43.5" cy="33.0" rx="1.4" ry="0.6" transform="rotate(48 43.5 33.0)" fill="#3f4fa1" opacity="1"/>
<ellipse cx="39.9" cy="41.1" rx="1.2" ry="1.0" transform="rotate(39 39.9 41.1)" fill="#4b5bad" opacity="1"/>
<ellipse cx="-0.3" cy="52.2" rx="1.0" ry="0.7" transform="rotate(76 -0.3 52.2)" fill="#4b5bad" opacity="1"/>
<ellipse cx="11.3" cy="35.5" rx="1.5" ry="0.8" transform="rotate(130 11.3 35.5)" fill="#4d5daf" opacity="1"/>
<ellipse cx="78.9" cy="21.3" rx="1.1" ry="0.8" transform="rotate(135 78.9 21.3)" fill="#4d5daf" opacity="1"/>
<ellipse cx="59.5" cy="46.6" rx="1.5" ry="0.9" transform="rotate(31 59.5 46.6)" fill="#38489a" opacity="1"/>
<ellipse cx="55.6" cy="40.3" rx="1.0" ry="0.9" transform="rotate(38 55.6 40.3)" fill="#354597" opacity="1"/>
<ellipse cx="84.8" cy="36.2" rx="1.2" ry="0.7" transform="rotate(166 84.8 36.2)" fill="#4555a7" opacity="1"/>
<ellipse cx="85.1" cy="29.0" rx="1.2" ry="0.8" transform="rotate(17 85.1 29.0)" fill="#324294" opacity="1"/>
<ellipse cx="65.4" cy="39.1" rx="1.1" ry="0.8" transform="rotate(120 65.4 39.1)" fill="#39499b" opacity="1"/>
<ellipse cx="65.9" cy="31.3" rx="1.1" ry="0.9" transform="rotate(144 65.9 31.3)" fill="#38489a" opacity="1"/>
<ellipse cx="-1.3" cy="39.6" rx="1.6" ry="0.6" transform="rotate(144 -1.3 39.6)" fill="#4252a4" opacity="1"/>
<ellipse cx="69.8" cy="40.2" rx="1.4" ry="0.7" transform="rotate(177 69.8 40.2)" fill="#3c4c9e" opacity="1"/>
<ellipse cx="17.7" cy="35.2" rx="1.4" ry="0.9" transform="rotate(79 17.7 35.2)" fill="#4555a7" opacity="1"/>
<ellipse cx="82.1" cy="18.7" rx="1.2" ry="0.8" transform="rotate(125 82.1 18.7)" fill="#4151a3" opacity="1"/>
<ellipse cx="86.6" cy="29.0" rx="1.0" ry="0.9" transform="rotate(33 86.6 29.0)" fill="#4959ab" opacity="1"/>
<ellipse cx="55.7" cy="42.9" rx="0.9" ry="0.7" transform="rotate(22 55.7 42.9)" fill="#334395" opacity="1"/>
<ellipse cx="97.5" cy="42.3" rx="1.3" ry="0.7" transform="rotate(76 97.5 42.3)" fill="#4a5aac" opacity="1"/>
<ellipse cx="5.3" cy="28.3" rx="1.1" ry="0.7" transform="rotate(27 5.3 28.3)" fill="#4656a8" opacity="1"/>
<ellipse cx="76.9" cy="19.3" rx="0.9" ry="0.8" transform="rotate(105 76.9 19.3)" fill="#4353a5" opacity="1"/>
<ellipse cx="27.3" cy="18.8" rx="1.5" ry="0.7" transform="rotate(71 27.3 18.8)" fill="#374799" opacity="1"/>
<ellipse cx="44.9" cy="49.0" rx="1.2" ry="0.7" transform="rotate(92 44.9 49.0)" fill="#374799" opacity="1"/>
<ellipse cx="71.3" cy="52.3" rx="1.1" ry="0.6" transform="rotate(67 71.3 52.3)" fill="#324294" opacity="1"/>
<ellipse cx="57.8" cy="36.3" rx="1.3" ry="0.7" transform="rotate(97 57.8 36.3)" fill="#4353a5" opacity="1"/>
<ellipse cx="83.5" cy="23.8" rx="1.0" ry="0.8" transform="rotate(9 83.5 23.8)" fill="#3a4a9c" opacity="1"/>
<ellipse cx="49.4" cy="54.5" rx="1.3" ry="1.0" transform="rotate(141 49.4 54.5)" fill="#4d5daf" opacity="1"/>
<ellipse cx="86.9" cy="25.6" rx="1.0" ry="0.9" transform="rotate(133 86.9 25.6)" fill="#3d4d9f" opacity="1"/>
<ellipse cx="80.7" cy="43.0" rx="1.5" ry="0.6" transform="rotate(151 80.7 43.0)" fill="#4a5aac" opacity="1"/>
<ellipse cx="89.9" cy="16.4" rx="1.0" ry="0.9" transform="rotate(102 89.9 16.4)" fill="#324294" opacity="1"/>
<ellipse cx="94.8" cy="17.6" rx="1.0" ry="1.0" transform="rotate(149 94.8 17.6)" fill="#344496" opacity="1"/>
<ellipse cx="56.1" cy="59.4" rx="1.6" ry="1.0" transform="rotate(151 56.1 59.4)" fill="#4c5cae" opacity="1"/>
<ellipse cx="58.2" cy="53.7" rx="1.4" ry="1.0" transform="rotate(163 58.2 53.7)" fill="#4a5aac" opacity="1"/>
<ellipse cx="16.7" cy="26.2" rx="1.2" ry="0.6" transform="rotate(51 16.7 26.2)" fill="#4a5aac" opacity="1"/>
<ellipse cx="96.3" cy="34.5" rx="1.3" ry="0.6" transform="rotate(97 96.3 34.5)" fill="#4c5cae" opacity="1"/>
<ellipse cx="80.3" cy="32.5" rx="1.2" ry="0.9" transform="rotate(32 80.3 32.5)" fill="#3b4b9d" opacity="1"/>
<ellipse cx="73.5" cy="29.7" rx="1.0" ry="0.8" transform="rotate(52 73.5 29.7)" fill="#4353a5" opacity="1"/>
<ellipse cx="84.3" cy="27.4" rx="1.1" ry="0.9" transform="rotate(154 84.3 27.4)" fill="#4555a7" opacity="1"/>
<ellipse cx="92.2" cy="12.9" rx="1.3" ry="0.9" transform="rotate(120 92.2 12.9)" fill="#4b5bad" opacity="1"/>
<ellipse cx="86.5" cy="17.2" rx="1.0" ry="1.0" transform="rotate(44 86.5 17.2)" fill="#4a5aac" opacity="1"/>
<ellipse cx="94.4" cy="28.8" rx="1.4" ry="0.7" transform="rotate(92 94.4 28.8)" fill="#354597" opacity="1"/>
<ellipse cx="96.6" cy="41.3" rx="1.1" ry="0.7" transform="rotate(141 96.6 41.3)" fill="#3f4fa1" opacity="1"/>
<ellipse cx="34.8" cy="33.2" rx="1.5" ry="0.7" transform="rotate(9 34.8 33.2)" fill="#4151a3" opacity="1"/>
<ellipse cx="27.6" cy="54.1" rx="0.9" ry="1.0" transform="rotate(61 27.6 54.1)" fill="#4e5eaa" opacity="1"/>
<ellipse cx="93.8" cy="55.0" rx="0.9" ry="0.7" transform="rotate(178 93.8 55.0)" fill="#5969b5" opacity="1"/>
<ellipse cx="29.3" cy="39.1" rx="1.5" ry="0.6" transform="rotate(15 29.3 39.1)" fill="#4d5da9" opacity="1"/>
<ellipse cx="78.9" cy="69.8" rx="1.3" ry="0.9" transform="rotate(106 78.9 69.8)" fill="#4454a0" opacity="1"/>
<ellipse cx="79.5" cy="68.4" rx="1.1" ry="0.9" transform="rotate(9 79.5 68.4)" fill="#5262ae" opacity="1"/>
<ellipse cx="64.5" cy="69.1" rx="0.8" ry="0.6" transform="rotate(137 64.5 69.1)" fill="#5363af" opacity="1"/>
<ellipse cx="43.3" cy="71.0" rx="0.8" ry="0.9" transform="rotate(20 43.3 71.0)" fill="#4858a4" opacity="1"/>
<ellipse cx="78.2" cy="57.8" rx="0.9" ry="0.9" transform="rotate(165 78.2 57.8)" fill="#5868b4" opacity="1"/>
<ellipse cx="26.5" cy="55.3" rx="1.5" ry="0.9" transform="rotate(143 26.5 55.3)" fill="#43539f" opacity="1"/>
<ellipse cx="71.1" cy="68.0" rx="0.7" ry="0.9" transform="rotate(60 71.1 68.0)" fill="#42529e" opacity="1"/>
<ellipse cx="94.8" cy="65.0" rx="1.1" ry="0.9" transform="rotate(160 94.8 65.0)" fill="#5060ac" opacity="1"/>
<ellipse cx="30.0" cy="59.7" rx="1.5" ry="0.9" transform="rotate(111 30.0 59.7)" fill="#4656a2" opacity="1"/>
<ellipse cx="71.5" cy="57.8" rx="1.4" ry="0.7" transform="rotate(7 71.5 57.8)" fill="#4959a5" opacity="1"/>
<ellipse cx="30.8" cy="51.0" rx="0.8" ry="0.6" transform="rotate(81 30.8 51.0)" fill="#5b6bb7" opacity="1"/>
<ellipse cx="37.4" cy="65.2" rx="0.7" ry="0.9" transform="rotate(129 37.4 65.2)" fill="#4959a5" opacity="1"/>
<ellipse cx="31.1" cy="60.1" rx="0.8" ry="0.6" transform="rotate(130 31.1 60.1)" fill="#43539f" opacity="1"/>
<ellipse cx="31.8" cy="51.0" rx="1.0" ry="0.9" transform="rotate(165 31.8 51.0)" fill="#5161ad" opacity="1"/>
<ellipse cx="67.0" cy="66.5" rx="0.8" ry="0.7" transform="rotate(5 67.0 66.5)" fill="#5767b3" opacity="1"/>
<ellipse cx="40.6" cy="58.6" rx="1.2" ry="0.5" transform="rotate(74 40.6 58.6)" fill="#4b5ba7" opacity="1"/>
<ellipse cx="58.7" cy="68.2" rx="0.8" ry="0.8" transform="rotate(83 58.7 68.2)" fill="#4c5ca8" opacity="1"/>
<ellipse cx="17.4" cy="52.5" rx="0.8" ry="0.8" transform="rotate(53 17.4 52.5)" fill="#5a6ab6" opacity="1"/>
<ellipse cx="22.5" cy="44.0" rx="0.9" ry="0.9" transform="rotate(151 22.5 44.0)" fill="#5a6ab6" opacity="1"/>
<ellipse cx="33.9" cy="55.5" rx="0.8" ry="0.9" transform="rotate(77 33.9 55.5)" fill="#4f5fab" opacity="1"/>
<ellipse cx="8.4" cy="54.7" rx="0.9" ry="1.0" transform="rotate(13 8.4 54.7)" fill="#4b5ba7" opacity="1"/>
<ellipse cx="67.3" cy="71.6" rx="0.9" ry="0.8" transform="rotate(144 67.3 71.6)" fill="#4858a4" opacity="1"/>
<ellipse cx="79.3" cy="61.8" rx="0.9" ry="0.6" transform="rotate(81 79.3 61.8)" fill="#5a6ab6" opacity="1"/>
<ellipse cx="86.2" cy="55.4" rx="1.2" ry="0.7" transform="rotate(135 86.2 55.4)" fill="#42529e" opacity="1"/>
<ellipse cx="54.7" cy="66.8" rx="0.8" ry="0.8" transform="rotate(171 54.7 66.8)" fill="#4858a4" opacity="1"/>
<ellipse cx="75.4" cy="59.2" rx="0.8" ry="0.6" transform="rotate(62 75.4 59.2)" fill="#4e5eaa" opacity="1"/>
<ellipse cx="78.4" cy="70.0" rx="1.2" ry="0.5" transform="rotate(83 78.4 70.0)" fill="#5c6cb8" opacity="1"/>
</g></g>
<text x="1.8" y="64.6" font-size="6.6" font-weight="bold" fill="#111" stroke="#111" stroke-width="0.25">50 µm</text>
<rect x="1.9" y="66.9" width="24" height="1.4" fill="#111"/>
<rect x="0" y="0" width="96.8" height="70.0" fill="none" stroke="#6e6e6e" stroke-width="1"/>
</g>
<g transform="translate(35.7,326.5)"><g clip-path="url(#clip6)"><g filter="url(#blur6)">
<rect x="-2" y="-2" width="101.4" height="74.3" fill="#f5f3f8"/>
<path d="M-3.0,38.0 C-1.8,30.9 1.9,32.7 4.0,31.0 C6.1,29.3 7.8,28.3 9.8,28.0 C11.8,27.7 13.4,29.2 16.0,29.0 C18.6,28.8 21.8,27.6 25.3,27.0 C28.8,26.4 33.3,26.6 36.8,25.3 C40.2,24.0 42.8,20.9 46.0,19.0 C49.2,17.1 53.0,15.1 56.0,13.8 C59.0,12.6 61.0,11.5 63.7,11.5 C66.4,11.5 69.4,12.8 72.0,14.0 C74.6,15.2 77.1,19.2 79.1,19.0 C81.1,18.8 82.4,15.0 84.0,13.0 C85.6,11.0 87.2,8.8 88.7,7.0 C90.2,5.2 91.1,4.0 93.0,2.5 C94.9,1.0 98.8,-13.8 100.0,-2.0 C101.2,9.8 117.2,60.8 100.0,73.3 C82.8,85.8 14.2,79.2 -3.0,73.3 C-20.2,67.4 -4.2,45.0 -3.0,38.0Z" fill="#cdd0ec" opacity="1"/>
<path d="M-3.0,40.0 C-1.8,33.3 1.9,34.7 4.0,33.0 C6.1,31.3 7.8,30.3 9.8,30.0 C11.8,29.7 13.4,31.2 16.0,31.0 C18.6,30.8 21.8,29.6 25.3,29.0 C28.8,28.4 33.3,28.6 36.8,27.3 C40.2,26.0 42.8,22.9 46.0,21.0 C49.2,19.1 53.0,17.1 56.0,15.8 C59.0,14.6 61.0,13.5 63.7,13.5 C66.4,13.5 69.4,14.8 72.0,16.0 C74.6,17.2 77.1,21.2 79.1,21.0 C81.1,20.8 82.4,17.0 84.0,15.0 C85.6,13.0 87.2,10.8 88.7,9.0 C90.2,7.2 91.1,6.0 93.0,4.5 C94.9,3.0 98.8,-11.5 100.0,0.0 C101.2,11.5 117.2,61.1 100.0,73.3 C82.8,85.5 14.2,78.8 -3.0,73.3 C-20.2,67.8 -4.2,46.7 -3.0,40.0Z" fill="#b4bae2" opacity="1"/>
<path d="M-3.0,43.0 C-1.8,36.8 1.9,37.7 4.0,36.0 C6.1,34.3 7.8,33.3 9.8,33.0 C11.8,32.7 13.4,34.2 16.0,34.0 C18.6,33.8 21.8,32.6 25.3,32.0 C28.8,31.4 33.3,31.6 36.8,30.3 C40.2,29.0 42.8,25.9 46.0,24.0 C49.2,22.1 53.0,20.1 56.0,18.8 C59.0,17.6 61.0,16.5 63.7,16.5 C66.4,16.5 69.4,17.8 72.0,19.0 C74.6,20.2 77.1,24.2 79.1,24.0 C81.1,23.8 82.4,20.0 84.0,18.0 C85.6,16.0 87.2,13.8 88.7,12.0 C90.2,10.2 91.1,9.0 93.0,7.5 C94.9,6.0 98.8,-8.0 100.0,3.0 C101.2,14.0 117.2,61.6 100.0,73.3 C82.8,85.0 14.2,78.3 -3.0,73.3 C-20.2,68.2 -4.2,49.2 -3.0,43.0Z" fill="#a2abe0" opacity="1"/>
<path d="M-3.0,55.0 C0.0,51.6 9.0,53.8 15.0,53.0 C21.0,52.2 28.8,51.5 33.0,50.5 C37.2,49.5 38.1,48.0 40.0,47.0 C41.9,46.0 42.6,43.7 44.3,44.5 C46.0,45.3 48.0,48.8 50.0,52.0 C52.0,55.2 53.8,60.8 56.0,63.5 C58.2,66.2 60.5,67.0 63.0,68.0 C65.5,69.0 68.8,69.8 71.3,69.5 C73.8,69.2 75.8,67.6 78.0,66.0 C80.2,64.4 82.5,62.7 84.8,60.0 C87.1,57.3 89.5,52.9 92.0,50.0 C94.5,47.1 98.7,38.6 100.0,42.5 C101.3,46.4 117.2,68.2 100.0,73.3 C82.8,78.4 14.2,76.3 -3.0,73.3 C-20.2,70.2 -6.0,58.4 -3.0,55.0Z" fill="#ece6ef" opacity="1"/>
<ellipse cx="25.0" cy="46.3" rx="1.1" ry="0.6" transform="rotate(34 25.0 46.3)" fill="#4c5cb2" opacity="1"/>
<ellipse cx="19.6" cy="46.6" rx="1.6" ry="0.6" transform="rotate(88 19.6 46.6)" fill="#4353a9" opacity="1"/>
<ellipse cx="97.7" cy="17.5" rx="1.2" ry="0.9" transform="rotate(22 97.7 17.5)" fill="#4252a8" opacity="1"/>
<ellipse cx="31.9" cy="47.5" rx="1.6" ry="0.8" transform="rotate(52 31.9 47.5)" fill="#4d5db3" opacity="1"/>
<ellipse cx="97.6" cy="28.2" rx="1.1" ry="0.6" transform="rotate(81 97.6 28.2)" fill="#5868be" opacity="1"/>
<ellipse cx="60.8" cy="55.7" rx="1.5" ry="0.7" transform="rotate(161 60.8 55.7)" fill="#3e4ea4" opacity="1"/>
<ellipse cx="67.3" cy="35.7" rx="1.4" ry="0.6" transform="rotate(19 67.3 35.7)" fill="#5262b8" opacity="1"/>
<ellipse cx="63.8" cy="64.3" rx="1.3" ry="0.8" transform="rotate(77 63.8 64.3)" fill="#5666bc" opacity="1"/>
<ellipse cx="28.0" cy="36.2" rx="1.6" ry="0.7" transform="rotate(78 28.0 36.2)" fill="#4050a6" opacity="1"/>
<ellipse cx="95.5" cy="36.8" rx="1.3" ry="0.7" transform="rotate(74 95.5 36.8)" fill="#4757ad" opacity="1"/>
<ellipse cx="33.9" cy="46.0" rx="1.1" ry="1.0" transform="rotate(152 33.9 46.0)" fill="#3e4ea4" opacity="1"/>
<ellipse cx="96.2" cy="8.5" rx="1.2" ry="1.0" transform="rotate(51 96.2 8.5)" fill="#5262b8" opacity="1"/>
<ellipse cx="46.5" cy="25.6" rx="1.6" ry="0.6" transform="rotate(121 46.5 25.6)" fill="#3e4ea4" opacity="1"/>
<ellipse cx="59.6" cy="35.1" rx="1.6" ry="1.0" transform="rotate(148 59.6 35.1)" fill="#5161b7" opacity="1"/>
<ellipse cx="36.2" cy="42.7" rx="1.3" ry="0.9" transform="rotate(176 36.2 42.7)" fill="#5060b6" opacity="1"/>
<ellipse cx="12.9" cy="40.1" rx="1.4" ry="1.0" transform="rotate(58 12.9 40.1)" fill="#4959af" opacity="1"/>
<ellipse cx="68.4" cy="43.6" rx="1.3" ry="0.8" transform="rotate(41 68.4 43.6)" fill="#4050a6" opacity="1"/>
<ellipse cx="42.2" cy="38.7" rx="1.5" ry="0.8" transform="rotate(60 42.2 38.7)" fill="#5868be" opacity="1"/>
<ellipse cx="90.1" cy="17.7" rx="1.6" ry="0.7" transform="rotate(9 90.1 17.7)" fill="#5464ba" opacity="1"/>
<ellipse cx="21.7" cy="47.1" rx="1.2" ry="0.9" transform="rotate(2 21.7 47.1)" fill="#5161b7" opacity="1"/>
<ellipse cx="96.2" cy="10.9" rx="1.1" ry="1.0" transform="rotate(146 96.2 10.9)" fill="#4d5db3" opacity="1"/>
<ellipse cx="51.3" cy="34.1" rx="1.5" ry="0.9" transform="rotate(25 51.3 34.1)" fill="#4858ae" opacity="1"/>
<ellipse cx="9.0" cy="46.2" rx="1.7" ry="0.9" transform="rotate(57 9.0 46.2)" fill="#4757ad" opacity="1"/>
<ellipse cx="11.3" cy="53.0" rx="1.3" ry="0.9" transform="rotate(30 11.3 53.0)" fill="#5161b7" opacity="1"/>
<ellipse cx="37.9" cy="39.4" rx="1.7" ry="0.7" transform="rotate(35 37.9 39.4)" fill="#4c5cb2" opacity="1"/>
<ellipse cx="49.3" cy="31.0" rx="1.5" ry="0.8" transform="rotate(13 49.3 31.0)" fill="#4a5ab0" opacity="1"/>
<ellipse cx="60.2" cy="37.0" rx="1.4" ry="0.7" transform="rotate(157 60.2 37.0)" fill="#4a5ab0" opacity="1"/>
<ellipse cx="90.6" cy="27.6" rx="1.2" ry="0.9" transform="rotate(127 90.6 27.6)" fill="#4b5bb1" opacity="1"/>
<ellipse cx="83.8" cy="34.1" rx="1.5" ry="0.7" transform="rotate(163 83.8 34.1)" fill="#4454aa" opacity="1"/>
<ellipse cx="98.5" cy="8.2" rx="1.5" ry="0.7" transform="rotate(169 98.5 8.2)" fill="#4e5eb4" opacity="1"/>
<ellipse cx="72.4" cy="39.8" rx="1.5" ry="0.7" transform="rotate(68 72.4 39.8)" fill="#5060b6" opacity="1"/>
<ellipse cx="54.5" cy="31.5" rx="1.5" ry="1.0" transform="rotate(108 54.5 31.5)" fill="#5060b6" opacity="1"/>
<ellipse cx="41.2" cy="34.2" rx="1.2" ry="0.9" transform="rotate(45 41.2 34.2)" fill="#4656ac" opacity="1"/>
<ellipse cx="3.3" cy="49.8" rx="1.1" ry="0.9" transform="rotate(2 3.3 49.8)" fill="#5363b9" opacity="1"/>
<ellipse cx="29.3" cy="35.7" rx="1.0" ry="0.7" transform="rotate(10 29.3 35.7)" fill="#4757ad" opacity="1"/>
<ellipse cx="82.9" cy="31.9" rx="1.1" ry="0.9" transform="rotate(31 82.9 31.9)" fill="#4454aa" opacity="1"/>
<ellipse cx="43.4" cy="42.0" rx="1.4" ry="0.9" transform="rotate(162 43.4 42.0)" fill="#5464ba" opacity="1"/>
<ellipse cx="52.0" cy="49.7" rx="1.2" ry="0.9" transform="rotate(93 52.0 49.7)" fill="#3e4ea4" opacity="1"/>
<ellipse cx="97.9" cy="32.0" rx="1.4" ry="0.7" transform="rotate(47 97.9 32.0)" fill="#4757ad" opacity="1"/>
<ellipse cx="92.6" cy="36.0" rx="1.5" ry="0.8" transform="rotate(44 92.6 36.0)" fill="#5767bd" opacity="1"/>
<ellipse cx="91.0" cy="13.1" rx="1.0" ry="0.9" transform="rotate(27 91.0 13.1)" fill="#5666bc" opacity="1"/>
<ellipse cx="47.4" cy="37.8" rx="1.2" ry="0.8" transform="rotate(56 47.4 37.8)" fill="#3e4ea4" opacity="1"/>
<ellipse cx="65.5" cy="34.5" rx="1.6" ry="0.6" transform="rotate(38 65.5 34.5)" fill="#4858ae" opacity="1"/>
<ellipse cx="79.1" cy="34.8" rx="1.5" ry="0.7" transform="rotate(164 79.1 34.8)" fill="#5767bd" opacity="1"/>
<ellipse cx="75.7" cy="62.9" rx="1.4" ry="0.9" transform="rotate(117 75.7 62.9)" fill="#4050a6" opacity="1"/>
<ellipse cx="65.9" cy="52.7" rx="1.3" ry="0.8" transform="rotate(115 65.9 52.7)" fill="#5161b7" opacity="1"/>
<ellipse cx="50.9" cy="42.1" rx="1.1" ry="0.8" transform="rotate(90 50.9 42.1)" fill="#5363b9" opacity="1"/>
<ellipse cx="71.3" cy="44.7" rx="1.4" ry="0.7" transform="rotate(61 71.3 44.7)" fill="#4656ac" opacity="1"/>
<ellipse cx="47.2" cy="45.1" rx="1.6" ry="0.9" transform="rotate(14 47.2 45.1)" fill="#5767bd" opacity="1"/>
<ellipse cx="29.1" cy="45.7" rx="1.5" ry="0.9" transform="rotate(109 29.1 45.7)" fill="#5666bc" opacity="1"/>
<ellipse cx="65.0" cy="29.1" rx="1.7" ry="0.8" transform="rotate(19 65.0 29.1)" fill="#5767bd" opacity="1"/>
<ellipse cx="87.9" cy="55.2" rx="1.5" ry="0.7" transform="rotate(91 87.9 55.2)" fill="#4959af" opacity="1"/>
<ellipse cx="80.0" cy="24.6" rx="1.3" ry="0.9" transform="rotate(20 80.0 24.6)" fill="#5464ba" opacity="1"/>
<ellipse cx="54.2" cy="48.4" rx="1.5" ry="0.7" transform="rotate(160 54.2 48.4)" fill="#4f5fb5" opacity="1"/>
<ellipse cx="56.9" cy="28.6" rx="1.5" ry="0.7" transform="rotate(117 56.9 28.6)" fill="#4555ab" opacity="1"/>
<ellipse cx="76.9" cy="29.0" rx="1.6" ry="0.9" transform="rotate(159 76.9 29.0)" fill="#4a5ab0" opacity="1"/>
<ellipse cx="32.2" cy="42.0" rx="1.7" ry="0.6" transform="rotate(123 32.2 42.0)" fill="#5565bb" opacity="1"/>
<ellipse cx="99.2" cy="25.4" rx="1.6" ry="0.8" transform="rotate(21 99.2 25.4)" fill="#4c5cb2" opacity="1"/>
<ellipse cx="56.4" cy="47.0" rx="1.5" ry="0.8" transform="rotate(138 56.4 47.0)" fill="#4e5eb4" opacity="1"/>
<ellipse cx="86.1" cy="33.8" rx="1.4" ry="0.9" transform="rotate(138 86.1 33.8)" fill="#5666bc" opacity="1"/>
<ellipse cx="46.1" cy="42.4" rx="1.7" ry="0.7" transform="rotate(25 46.1 42.4)" fill="#4454aa" opacity="1"/>
<ellipse cx="10.7" cy="52.9" rx="1.4" ry="0.7" transform="rotate(136 10.7 52.9)" fill="#4858ae" opacity="1"/>
<ellipse cx="76.8" cy="58.3" rx="1.5" ry="1.0" transform="rotate(173 76.8 58.3)" fill="#3e4ea4" opacity="1"/>
<ellipse cx="11.6" cy="36.9" rx="1.4" ry="0.7" transform="rotate(39 11.6 36.9)" fill="#4555ab" opacity="1"/>
<ellipse cx="96.9" cy="36.3" rx="1.3" ry="0.9" transform="rotate(132 96.9 36.3)" fill="#5464ba" opacity="1"/>
<ellipse cx="77.5" cy="24.2" rx="1.2" ry="0.8" transform="rotate(133 77.5 24.2)" fill="#4555ab" opacity="1"/>
<ellipse cx="89.9" cy="11.9" rx="1.2" ry="0.8" transform="rotate(32 89.9 11.9)" fill="#4151a7" opacity="1"/>
<ellipse cx="59.0" cy="39.9" rx="1.1" ry="0.9" transform="rotate(74 59.0 39.9)" fill="#4d5db3" opacity="1"/>
<ellipse cx="87.7" cy="36.8" rx="1.1" ry="0.7" transform="rotate(28 87.7 36.8)" fill="#5666bc" opacity="1"/>
<ellipse cx="9.0" cy="37.6" rx="1.6" ry="1.0" transform="rotate(106 9.0 37.6)" fill="#3e4ea4" opacity="1"/>
<ellipse cx="52.3" cy="44.6" rx="1.7" ry="0.8" transform="rotate(46 52.3 44.6)" fill="#4050a6" opacity="1"/>
<ellipse cx="74.3" cy="27.2" rx="1.2" ry="0.8" transform="rotate(121 74.3 27.2)" fill="#4e5eb4" opacity="1"/>
<ellipse cx="65.1" cy="61.0" rx="1.5" ry="0.9" transform="rotate(49 65.1 61.0)" fill="#4757ad" opacity="1"/>
<ellipse cx="92.7" cy="24.6" rx="1.6" ry="0.7" transform="rotate(82 92.7 24.6)" fill="#5969bf" opacity="1"/>
<ellipse cx="62.9" cy="38.1" rx="1.0" ry="0.8" transform="rotate(24 62.9 38.1)" fill="#4d5db3" opacity="1"/>
<ellipse cx="97.2" cy="21.0" rx="1.7" ry="1.0" transform="rotate(31 97.2 21.0)" fill="#5666bc" opacity="1"/>
<ellipse cx="12.6" cy="44.2" rx="1.6" ry="0.7" transform="rotate(139 12.6 44.2)" fill="#4f5fb5" opacity="1"/>
<ellipse cx="10.9" cy="50.2" rx="1.2" ry="0.7" transform="rotate(82 10.9 50.2)" fill="#3e4ea4" opacity="1"/>
<ellipse cx="88.3" cy="43.0" rx="1.7" ry="0.6" transform="rotate(67 88.3 43.0)" fill="#4b5bb1" opacity="1"/>
<ellipse cx="14.4" cy="49.0" rx="1.6" ry="0.8" transform="rotate(10 14.4 49.0)" fill="#4757ad" opacity="1"/>
<ellipse cx="86.2" cy="50.2" rx="1.0" ry="0.8" transform="rotate(65 86.2 50.2)" fill="#5969bf" opacity="1"/>
<ellipse cx="56.2" cy="51.1" rx="1.4" ry="0.7" transform="rotate(50 56.2 51.1)" fill="#4353a9" opacity="1"/>
<ellipse cx="61.8" cy="24.1" rx="1.1" ry="0.9" transform="rotate(23 61.8 24.1)" fill="#5969bf" opacity="1"/>
<ellipse cx="31.3" cy="48.1" rx="1.7" ry="0.7" transform="rotate(158 31.3 48.1)" fill="#4757ad" opacity="1"/>
<ellipse cx="52.3" cy="33.7" rx="1.4" ry="0.9" transform="rotate(138 52.3 33.7)" fill="#4858ae" opacity="1"/>
<ellipse cx="68.4" cy="61.3" rx="1.4" ry="0.8" transform="rotate(83 68.4 61.3)" fill="#4353a9" opacity="1"/>
<ellipse cx="59.6" cy="21.2" rx="1.3" ry="1.0" transform="rotate(52 59.6 21.2)" fill="#4757ad" opacity="1"/>
<ellipse cx="64.7" cy="43.5" rx="1.6" ry="0.7" transform="rotate(47 64.7 43.5)" fill="#4252a8" opacity="1"/>
<ellipse cx="76.0" cy="58.5" rx="1.1" ry="0.9" transform="rotate(34 76.0 58.5)" fill="#4a5ab0" opacity="1"/>
<ellipse cx="80.6" cy="51.0" rx="1.3" ry="1.0" transform="rotate(20 80.6 51.0)" fill="#4656ac" opacity="1"/>
<ellipse cx="43.4" cy="32.0" rx="1.1" ry="0.7" transform="rotate(47 43.4 32.0)" fill="#4d5db3" opacity="1"/>
<ellipse cx="32.4" cy="41.2" rx="1.2" ry="0.9" transform="rotate(158 32.4 41.2)" fill="#4f5fb5" opacity="1"/>
<ellipse cx="82.6" cy="34.4" rx="1.1" ry="1.0" transform="rotate(36 82.6 34.4)" fill="#4050a6" opacity="1"/>
<ellipse cx="49.7" cy="32.0" rx="1.0" ry="0.8" transform="rotate(21 49.7 32.0)" fill="#5161b7" opacity="1"/>
<ellipse cx="83.4" cy="31.4" rx="1.4" ry="0.8" transform="rotate(108 83.4 31.4)" fill="#5969bf" opacity="1"/>
<ellipse cx="21.9" cy="43.0" rx="1.0" ry="1.0" transform="rotate(10 21.9 43.0)" fill="#4959af" opacity="1"/>
<ellipse cx="35.2" cy="39.8" rx="1.2" ry="0.7" transform="rotate(95 35.2 39.8)" fill="#5464ba" opacity="1"/>
<ellipse cx="96.3" cy="31.1" rx="1.2" ry="0.7" transform="rotate(21 96.3 31.1)" fill="#5666bc" opacity="1"/>
<ellipse cx="90.4" cy="36.5" rx="1.4" ry="0.9" transform="rotate(135 90.4 36.5)" fill="#4353a9" opacity="1"/>
<ellipse cx="34.0" cy="40.0" rx="1.4" ry="0.9" transform="rotate(41 34.0 40.0)" fill="#4353a9" opacity="1"/>
<ellipse cx="66.4" cy="31.9" rx="1.7" ry="1.0" transform="rotate(173 66.4 31.9)" fill="#5969bf" opacity="1"/>
<ellipse cx="0.8" cy="41.3" rx="1.1" ry="0.7" transform="rotate(156 0.8 41.3)" fill="#5767bd" opacity="1"/>
<ellipse cx="99.0" cy="5.0" rx="1.0" ry="0.7" transform="rotate(67 99.0 5.0)" fill="#4151a7" opacity="1"/>
<ellipse cx="90.7" cy="34.5" rx="1.7" ry="0.6" transform="rotate(84 90.7 34.5)" fill="#4050a6" opacity="1"/>
<ellipse cx="96.6" cy="42.9" rx="1.3" ry="0.8" transform="rotate(85 96.6 42.9)" fill="#5565bb" opacity="1"/>
<ellipse cx="7.2" cy="41.6" rx="1.6" ry="0.6" transform="rotate(56 7.2 41.6)" fill="#4959af" opacity="1"/>
<ellipse cx="58.7" cy="58.5" rx="1.4" ry="0.6" transform="rotate(172 58.7 58.5)" fill="#4353a9" opacity="1"/>
<ellipse cx="8.6" cy="47.6" rx="1.3" ry="0.9" transform="rotate(11 8.6 47.6)" fill="#4050a6" opacity="1"/>
<ellipse cx="78.2" cy="30.2" rx="1.2" ry="0.7" transform="rotate(124 78.2 30.2)" fill="#4858ae" opacity="1"/>
<ellipse cx="20.6" cy="39.8" rx="1.0" ry="1.0" transform="rotate(151 20.6 39.8)" fill="#4a5ab0" opacity="1"/>
<ellipse cx="12.8" cy="42.1" rx="1.4" ry="0.7" transform="rotate(127 12.8 42.1)" fill="#4c5cb2" opacity="1"/>
<ellipse cx="37.8" cy="36.7" rx="1.0" ry="0.8" transform="rotate(157 37.8 36.7)" fill="#5767bd" opacity="1"/>
<ellipse cx="97.1" cy="11.3" rx="1.6" ry="0.7" transform="rotate(109 97.1 11.3)" fill="#4b5bb1" opacity="1"/>
<ellipse cx="68.8" cy="28.6" rx="1.6" ry="0.9" transform="rotate(61 68.8 28.6)" fill="#5767bd" opacity="1"/>
<ellipse cx="20.3" cy="38.5" rx="1.1" ry="0.9" transform="rotate(19 20.3 38.5)" fill="#5969bf" opacity="1"/>
<ellipse cx="89.7" cy="27.8" rx="1.6" ry="0.8" transform="rotate(109 89.7 27.8)" fill="#5767bd" opacity="1"/>
<ellipse cx="29.7" cy="39.3" rx="1.5" ry="0.7" transform="rotate(13 29.7 39.3)" fill="#3e4ea4" opacity="1"/>
<ellipse cx="93.8" cy="31.5" rx="1.2" ry="0.7" transform="rotate(79 93.8 31.5)" fill="#4454aa" opacity="1"/>
<ellipse cx="4.0" cy="50.8" rx="1.4" ry="0.8" transform="rotate(172 4.0 50.8)" fill="#4656ac" opacity="1"/>
<ellipse cx="55.3" cy="52.7" rx="1.2" ry="0.8" transform="rotate(38 55.3 52.7)" fill="#4e5eb4" opacity="1"/>
<ellipse cx="77.5" cy="40.7" rx="1.6" ry="0.7" transform="rotate(142 77.5 40.7)" fill="#5161b7" opacity="1"/>
<ellipse cx="85.8" cy="40.0" rx="1.2" ry="0.8" transform="rotate(129 85.8 40.0)" fill="#4656ac" opacity="1"/>
<ellipse cx="99.1" cy="31.5" rx="1.4" ry="0.9" transform="rotate(175 99.1 31.5)" fill="#4050a6" opacity="1"/>
<ellipse cx="8.5" cy="48.1" rx="1.3" ry="0.7" transform="rotate(36 8.5 48.1)" fill="#5565bb" opacity="1"/>
<ellipse cx="29.7" cy="40.5" rx="1.6" ry="0.8" transform="rotate(155 29.7 40.5)" fill="#4959af" opacity="1"/>
<ellipse cx="36.2" cy="36.2" rx="1.7" ry="0.9" transform="rotate(73 36.2 36.2)" fill="#4555ab" opacity="1"/>
<ellipse cx="72.2" cy="45.6" rx="1.7" ry="1.0" transform="rotate(13 72.2 45.6)" fill="#5767bd" opacity="1"/>
<ellipse cx="80.8" cy="26.3" rx="1.6" ry="0.8" transform="rotate(107 80.8 26.3)" fill="#5363b9" opacity="1"/>
<ellipse cx="74.9" cy="40.9" rx="1.2" ry="0.7" transform="rotate(75 74.9 40.9)" fill="#5868be" opacity="1"/>
<ellipse cx="49.7" cy="46.3" rx="1.4" ry="0.8" transform="rotate(118 49.7 46.3)" fill="#4b5bb1" opacity="1"/>
<ellipse cx="36.7" cy="44.7" rx="1.7" ry="0.7" transform="rotate(24 36.7 44.7)" fill="#3e4ea4" opacity="1"/>
<ellipse cx="89.6" cy="41.2" rx="1.4" ry="1.0" transform="rotate(53 89.6 41.2)" fill="#4959af" opacity="1"/>
<ellipse cx="9.7" cy="39.7" rx="1.0" ry="0.6" transform="rotate(176 9.7 39.7)" fill="#4757ad" opacity="1"/>
<ellipse cx="95.6" cy="8.9" rx="1.0" ry="0.7" transform="rotate(171 95.6 8.9)" fill="#4555ab" opacity="1"/>
<ellipse cx="0.7" cy="43.2" rx="1.3" ry="0.9" transform="rotate(152 0.7 43.2)" fill="#4c5cb2" opacity="1"/>
<ellipse cx="98.6" cy="5.4" rx="1.1" ry="0.9" transform="rotate(152 98.6 5.4)" fill="#4252a8" opacity="1"/>
<ellipse cx="36.9" cy="43.0" rx="1.4" ry="0.8" transform="rotate(104 36.9 43.0)" fill="#5868be" opacity="1"/>
<ellipse cx="88.8" cy="23.1" rx="1.7" ry="0.7" transform="rotate(58 88.8 23.1)" fill="#4a5ab0" opacity="1"/>
<ellipse cx="47.4" cy="32.7" rx="1.5" ry="0.9" transform="rotate(108 47.4 32.7)" fill="#3f4fa5" opacity="1"/>
<ellipse cx="66.7" cy="54.4" rx="1.5" ry="0.7" transform="rotate(117 66.7 54.4)" fill="#4858ae" opacity="1"/>
<ellipse cx="95.6" cy="12.1" rx="1.1" ry="0.7" transform="rotate(6 95.6 12.1)" fill="#4151a7" opacity="1"/>
<ellipse cx="39.8" cy="43.3" rx="1.3" ry="0.6" transform="rotate(23 39.8 43.3)" fill="#3e4ea4" opacity="1"/>
<ellipse cx="60.0" cy="22.7" rx="1.4" ry="0.7" transform="rotate(156 60.0 22.7)" fill="#4b5bb1" opacity="1"/>
<ellipse cx="47.4" cy="44.1" rx="1.6" ry="0.6" transform="rotate(62 47.4 44.1)" fill="#4757ad" opacity="1"/>
<ellipse cx="86.3" cy="16.7" rx="1.0" ry="0.8" transform="rotate(175 86.3 16.7)" fill="#3e4ea4" opacity="1"/>
<ellipse cx="44.1" cy="28.1" rx="1.5" ry="0.9" transform="rotate(137 44.1 28.1)" fill="#5464ba" opacity="1"/>
<ellipse cx="-0.2" cy="50.3" rx="1.6" ry="0.7" transform="rotate(6 -0.2 50.3)" fill="#5565bb" opacity="1"/>
<ellipse cx="54.8" cy="23.7" rx="1.5" ry="0.8" transform="rotate(154 54.8 23.7)" fill="#5565bb" opacity="1"/>
<ellipse cx="18.0" cy="43.6" rx="1.1" ry="0.6" transform="rotate(124 18.0 43.6)" fill="#4959af" opacity="1"/>
<ellipse cx="80.8" cy="35.0" rx="1.1" ry="0.7" transform="rotate(2 80.8 35.0)" fill="#4c5cb2" opacity="1"/>
<ellipse cx="96.8" cy="24.4" rx="1.2" ry="1.0" transform="rotate(86 96.8 24.4)" fill="#4b5bb1" opacity="1"/>
<ellipse cx="0.8" cy="47.4" rx="1.1" ry="0.8" transform="rotate(73 0.8 47.4)" fill="#5363b9" opacity="1"/>
<ellipse cx="70.9" cy="46.6" rx="1.6" ry="0.8" transform="rotate(56 70.9 46.6)" fill="#3f4fa5" opacity="1"/>
<ellipse cx="98.7" cy="27.6" rx="1.7" ry="0.9" transform="rotate(36 98.7 27.6)" fill="#4555ab" opacity="1"/>
<ellipse cx="79.5" cy="49.9" rx="1.2" ry="0.8" transform="rotate(126 79.5 49.9)" fill="#5060b6" opacity="1"/>
<ellipse cx="81.9" cy="30.8" rx="1.7" ry="0.9" transform="rotate(103 81.9 30.8)" fill="#5969bf" opacity="1"/>
<ellipse cx="57.8" cy="38.0" rx="1.0" ry="0.6" transform="rotate(160 57.8 38.0)" fill="#4c5cb2" opacity="1"/>
<ellipse cx="46.3" cy="46.8" rx="1.1" ry="0.7" transform="rotate(68 46.3 46.8)" fill="#3f4fa5" opacity="1"/>
<ellipse cx="57.2" cy="59.1" rx="1.6" ry="0.9" transform="rotate(41 57.2 59.1)" fill="#5767bd" opacity="1"/>
<ellipse cx="57.6" cy="57.5" rx="1.1" ry="0.6" transform="rotate(23 57.6 57.5)" fill="#3e4ea4" opacity="1"/>
<ellipse cx="52.5" cy="37.7" rx="1.6" ry="0.9" transform="rotate(90 52.5 37.7)" fill="#3e4ea4" opacity="1"/>
<ellipse cx="89.6" cy="34.1" rx="1.0" ry="0.8" transform="rotate(163 89.6 34.1)" fill="#3f4fa5" opacity="1"/>
<ellipse cx="66.1" cy="41.3" rx="1.0" ry="0.7" transform="rotate(21 66.1 41.3)" fill="#4b5bb1" opacity="1"/>
<ellipse cx="68.6" cy="58.9" rx="1.0" ry="0.8" transform="rotate(42 68.6 58.9)" fill="#4c5cb2" opacity="1"/>
<ellipse cx="57.1" cy="33.5" rx="1.6" ry="0.6" transform="rotate(47 57.1 33.5)" fill="#4555ab" opacity="1"/>
<ellipse cx="74.4" cy="29.2" rx="1.0" ry="0.7" transform="rotate(10 74.4 29.2)" fill="#4151a7" opacity="1"/>
<ellipse cx="32.2" cy="43.1" rx="1.3" ry="0.8" transform="rotate(149 32.2 43.1)" fill="#4353a9" opacity="1"/>
<ellipse cx="59.1" cy="27.6" rx="1.4" ry="0.7" transform="rotate(61 59.1 27.6)" fill="#4353a9" opacity="1"/>
<ellipse cx="81.9" cy="21.8" rx="1.2" ry="0.7" transform="rotate(102 81.9 21.8)" fill="#4555ab" opacity="1"/>
<ellipse cx="67.1" cy="29.7" rx="1.4" ry="0.8" transform="rotate(166 67.1 29.7)" fill="#4454aa" opacity="1"/>
<ellipse cx="54.2" cy="48.7" rx="1.0" ry="0.7" transform="rotate(74 54.2 48.7)" fill="#4252a8" opacity="1"/>
<ellipse cx="69.8" cy="49.5" rx="1.6" ry="0.8" transform="rotate(109 69.8 49.5)" fill="#5767bd" opacity="1"/>
<ellipse cx="2.6" cy="53.7" rx="1.2" ry="0.8" transform="rotate(150 2.6 53.7)" fill="#5464ba" opacity="1"/>
<ellipse cx="55.0" cy="22.7" rx="1.3" ry="0.8" transform="rotate(151 55.0 22.7)" fill="#5363b9" opacity="1"/>
<ellipse cx="17.5" cy="37.9" rx="1.0" ry="0.9" transform="rotate(62 17.5 37.9)" fill="#4959af" opacity="1"/>
<ellipse cx="87.8" cy="19.0" rx="1.1" ry="1.0" transform="rotate(2 87.8 19.0)" fill="#5767bd" opacity="1"/>
<ellipse cx="92.1" cy="35.7" rx="1.4" ry="0.6" transform="rotate(179 92.1 35.7)" fill="#4f5fb5" opacity="1"/>
<ellipse cx="61.1" cy="41.5" rx="1.1" ry="0.8" transform="rotate(20 61.1 41.5)" fill="#5969bf" opacity="1"/>
<ellipse cx="50.3" cy="35.8" rx="1.3" ry="0.9" transform="rotate(77 50.3 35.8)" fill="#4252a8" opacity="1"/>
<ellipse cx="95.0" cy="34.2" rx="1.5" ry="0.6" transform="rotate(57 95.0 34.2)" fill="#5464ba" opacity="1"/>
<ellipse cx="14.8" cy="39.6" rx="1.4" ry="0.8" transform="rotate(164 14.8 39.6)" fill="#5868be" opacity="1"/>
<ellipse cx="97.2" cy="24.7" rx="1.7" ry="0.6" transform="rotate(53 97.2 24.7)" fill="#4f5fb5" opacity="1"/>
<ellipse cx="16.5" cy="38.0" rx="1.2" ry="0.6" transform="rotate(121 16.5 38.0)" fill="#4151a7" opacity="1"/>
<ellipse cx="34.0" cy="32.3" rx="1.5" ry="0.8" transform="rotate(15 34.0 32.3)" fill="#4959af" opacity="1"/>
<ellipse cx="66.7" cy="43.5" rx="1.0" ry="0.8" transform="rotate(129 66.7 43.5)" fill="#4252a8" opacity="1"/>
<ellipse cx="83.5" cy="22.7" rx="1.1" ry="0.7" transform="rotate(138 83.5 22.7)" fill="#5262b8" opacity="1"/>
<ellipse cx="40.7" cy="36.1" rx="1.2" ry="0.6" transform="rotate(70 40.7 36.1)" fill="#4d5db3" opacity="1"/>
<ellipse cx="79.5" cy="30.9" rx="1.1" ry="0.9" transform="rotate(1 79.5 30.9)" fill="#4353a9" opacity="1"/>
<ellipse cx="97.5" cy="20.6" rx="1.2" ry="0.8" transform="rotate(34 97.5 20.6)" fill="#5262b8" opacity="1"/>
<ellipse cx="46.5" cy="44.5" rx="1.3" ry="0.7" transform="rotate(25 46.5 44.5)" fill="#4252a8" opacity="1"/>
<ellipse cx="37.5" cy="35.6" rx="1.0" ry="0.8" transform="rotate(42 37.5 35.6)" fill="#5161b7" opacity="1"/>
<ellipse cx="93.1" cy="32.3" rx="1.0" ry="0.8" transform="rotate(106 93.1 32.3)" fill="#4959af" opacity="1"/>
<ellipse cx="55.1" cy="58.7" rx="1.2" ry="0.7" transform="rotate(134 55.1 58.7)" fill="#3f4fa5" opacity="1"/>
<ellipse cx="76.3" cy="31.2" rx="1.5" ry="0.7" transform="rotate(109 76.3 31.2)" fill="#4d5db3" opacity="1"/>
<ellipse cx="92.7" cy="49.3" rx="1.6" ry="0.8" transform="rotate(120 92.7 49.3)" fill="#3e4ea4" opacity="1"/>
<ellipse cx="81.8" cy="60.1" rx="1.3" ry="0.9" transform="rotate(39 81.8 60.1)" fill="#4656ac" opacity="1"/>
<ellipse cx="95.5" cy="15.9" rx="1.7" ry="0.9" transform="rotate(25 95.5 15.9)" fill="#5464ba" opacity="1"/>
<ellipse cx="89.0" cy="16.6" rx="1.2" ry="0.6" transform="rotate(87 89.0 16.6)" fill="#4c5cb2" opacity="1"/>
<ellipse cx="21.4" cy="50.6" rx="1.6" ry="0.7" transform="rotate(47 21.4 50.6)" fill="#4353a9" opacity="1"/>
<ellipse cx="40.5" cy="32.3" rx="1.2" ry="0.8" transform="rotate(163 40.5 32.3)" fill="#4d5db3" opacity="1"/>
<ellipse cx="10.5" cy="36.8" rx="1.4" ry="0.8" transform="rotate(46 10.5 36.8)" fill="#4858ae" opacity="1"/>
<ellipse cx="31.1" cy="42.4" rx="1.7" ry="0.8" transform="rotate(63 31.1 42.4)" fill="#3f4fa5" opacity="1"/>
<ellipse cx="54.3" cy="45.6" rx="1.3" ry="0.9" transform="rotate(177 54.3 45.6)" fill="#4858ae" opacity="1"/>
<ellipse cx="83.9" cy="37.9" rx="1.2" ry="0.7" transform="rotate(88 83.9 37.9)" fill="#5060b6" opacity="1"/>
<ellipse cx="36.7" cy="47.5" rx="1.5" ry="0.6" transform="rotate(67 36.7 47.5)" fill="#4f5fb5" opacity="1"/>
<ellipse cx="64.2" cy="25.4" rx="1.7" ry="0.8" transform="rotate(175 64.2 25.4)" fill="#5464ba" opacity="1"/>
<ellipse cx="52.2" cy="24.9" rx="1.2" ry="0.7" transform="rotate(19 52.2 24.9)" fill="#5969bf" opacity="1"/>
<ellipse cx="82.0" cy="47.0" rx="1.1" ry="1.0" transform="rotate(93 82.0 47.0)" fill="#4f5fb5" opacity="1"/>
<ellipse cx="55.2" cy="40.1" rx="1.3" ry="0.9" transform="rotate(4 55.2 40.1)" fill="#5666bc" opacity="1"/>
<ellipse cx="90.1" cy="34.4" rx="1.3" ry="0.8" transform="rotate(103 90.1 34.4)" fill="#5464ba" opacity="1"/>
<ellipse cx="76.5" cy="26.9" rx="1.1" ry="1.0" transform="rotate(29 76.5 26.9)" fill="#5363b9" opacity="1"/>
<ellipse cx="57.3" cy="39.6" rx="1.1" ry="0.8" transform="rotate(21 57.3 39.6)" fill="#5868be" opacity="1"/>
<ellipse cx="84.8" cy="19.5" rx="1.5" ry="0.8" transform="rotate(24 84.8 19.5)" fill="#4f5fb5" opacity="1"/>
<ellipse cx="93.7" cy="44.0" rx="1.5" ry="0.6" transform="rotate(13 93.7 44.0)" fill="#4151a7" opacity="1"/>
<ellipse cx="75.0" cy="62.7" rx="1.1" ry="0.8" transform="rotate(155 75.0 62.7)" fill="#5161b7" opacity="1"/>
<ellipse cx="57.9" cy="38.1" rx="1.4" ry="0.8" transform="rotate(143 57.9 38.1)" fill="#5363b9" opacity="1"/>
<ellipse cx="61.7" cy="53.8" rx="1.3" ry="0.6" transform="rotate(63 61.7 53.8)" fill="#4555ab" opacity="1"/>
<ellipse cx="54.6" cy="23.6" rx="1.5" ry="0.9" transform="rotate(64 54.6 23.6)" fill="#5161b7" opacity="1"/>
<ellipse cx="53.1" cy="36.7" rx="1.5" ry="0.7" transform="rotate(118 53.1 36.7)" fill="#4d5db3" opacity="1"/>
<ellipse cx="80.6" cy="39.4" rx="1.2" ry="0.9" transform="rotate(74 80.6 39.4)" fill="#4656ac" opacity="1"/>
<ellipse cx="66.7" cy="54.3" rx="1.4" ry="0.9" transform="rotate(7 66.7 54.3)" fill="#4c5cb2" opacity="1"/>
<ellipse cx="70.0" cy="23.2" rx="1.6" ry="0.6" transform="rotate(77 70.0 23.2)" fill="#4252a8" opacity="1"/>
<ellipse cx="64.0" cy="56.3" rx="1.1" ry="1.0" transform="rotate(82 64.0 56.3)" fill="#5666bc" opacity="1"/>
<ellipse cx="54.6" cy="52.3" rx="1.2" ry="0.8" transform="rotate(70 54.6 52.3)" fill="#5767bd" opacity="1"/>
<ellipse cx="67.9" cy="65.2" rx="1.6" ry="0.8" transform="rotate(4 67.9 65.2)" fill="#5868be" opacity="1"/>
<ellipse cx="86.6" cy="47.4" rx="1.2" ry="0.6" transform="rotate(108 86.6 47.4)" fill="#5868be" opacity="1"/>
<ellipse cx="66.0" cy="42.4" rx="1.4" ry="0.8" transform="rotate(85 66.0 42.4)" fill="#5666bc" opacity="1"/>
<ellipse cx="87.5" cy="16.9" rx="1.0" ry="0.9" transform="rotate(3 87.5 16.9)" fill="#4e5eb4" opacity="1"/>
<ellipse cx="65.3" cy="60.5" rx="1.5" ry="0.8" transform="rotate(155 65.3 60.5)" fill="#4f5fb5" opacity="1"/>
<ellipse cx="79.7" cy="44.5" rx="1.0" ry="0.9" transform="rotate(90 79.7 44.5)" fill="#4c5cb2" opacity="1"/>
<ellipse cx="74.7" cy="66.5" rx="1.3" ry="0.8" transform="rotate(101 74.7 66.5)" fill="#4858ae" opacity="1"/>
<ellipse cx="1.8" cy="52.9" rx="1.3" ry="0.9" transform="rotate(106 1.8 52.9)" fill="#5161b7" opacity="1"/>
<ellipse cx="89.5" cy="24.7" rx="1.4" ry="0.6" transform="rotate(107 89.5 24.7)" fill="#5060b6" opacity="1"/>
<ellipse cx="12.8" cy="37.0" rx="1.0" ry="0.8" transform="rotate(171 12.8 37.0)" fill="#4252a8" opacity="1"/>
<ellipse cx="50.0" cy="32.4" rx="1.1" ry="0.6" transform="rotate(113 50.0 32.4)" fill="#4858ae" opacity="1"/>
<ellipse cx="57.8" cy="20.8" rx="1.2" ry="0.7" transform="rotate(133 57.8 20.8)" fill="#5767bd" opacity="1"/>
<ellipse cx="90.0" cy="24.0" rx="1.1" ry="1.0" transform="rotate(174 90.0 24.0)" fill="#4959af" opacity="1"/>
<ellipse cx="72.8" cy="46.5" rx="1.7" ry="0.9" transform="rotate(11 72.8 46.5)" fill="#4a5ab0" opacity="1"/>
<ellipse cx="33.6" cy="39.3" rx="1.0" ry="0.8" transform="rotate(5 33.6 39.3)" fill="#5868be" opacity="1"/>
<ellipse cx="87.7" cy="33.8" rx="1.7" ry="0.7" transform="rotate(179 87.7 33.8)" fill="#5060b6" opacity="1"/>
<ellipse cx="86.4" cy="52.9" rx="1.2" ry="0.6" transform="rotate(155 86.4 52.9)" fill="#4c5cb2" opacity="1"/>
<ellipse cx="57.3" cy="28.0" rx="1.4" ry="0.7" transform="rotate(139 57.3 28.0)" fill="#4f5fb5" opacity="1"/>
<ellipse cx="80.3" cy="31.3" rx="1.4" ry="0.7" transform="rotate(6 80.3 31.3)" fill="#4555ab" opacity="1"/>
<ellipse cx="45.2" cy="32.4" rx="1.0" ry="0.6" transform="rotate(82 45.2 32.4)" fill="#4e5eb4" opacity="1"/>
<ellipse cx="30.5" cy="35.0" rx="1.1" ry="1.0" transform="rotate(40 30.5 35.0)" fill="#5363b9" opacity="1"/>
<ellipse cx="67.2" cy="58.5" rx="1.4" ry="0.8" transform="rotate(96 67.2 58.5)" fill="#4353a9" opacity="1"/>
<ellipse cx="53.5" cy="33.2" rx="1.6" ry="0.8" transform="rotate(98 53.5 33.2)" fill="#5161b7" opacity="1"/>
<ellipse cx="65.9" cy="18.9" rx="1.1" ry="1.0" transform="rotate(154 65.9 18.9)" fill="#4454aa" opacity="1"/>
<ellipse cx="58.5" cy="34.2" rx="1.4" ry="0.7" transform="rotate(102 58.5 34.2)" fill="#5969bf" opacity="1"/>
<ellipse cx="62.1" cy="49.1" rx="1.5" ry="0.8" transform="rotate(90 62.1 49.1)" fill="#5565bb" opacity="1"/>
<ellipse cx="94.5" cy="22.2" rx="1.6" ry="0.7" transform="rotate(39 94.5 22.2)" fill="#4656ac" opacity="1"/>
<ellipse cx="62.1" cy="19.5" rx="1.3" ry="0.9" transform="rotate(164 62.1 19.5)" fill="#4f5fb5" opacity="1"/>
<ellipse cx="59.7" cy="59.4" rx="1.6" ry="0.7" transform="rotate(17 59.7 59.4)" fill="#4353a9" opacity="1"/>
<ellipse cx="92.2" cy="49.1" rx="1.7" ry="0.9" transform="rotate(45 92.2 49.1)" fill="#4d5db3" opacity="1"/>
<ellipse cx="67.2" cy="39.3" rx="1.7" ry="0.7" transform="rotate(70 67.2 39.3)" fill="#5666bc" opacity="1"/>
<ellipse cx="35.2" cy="31.8" rx="1.5" ry="0.7" transform="rotate(137 35.2 31.8)" fill="#4f5fb5" opacity="1"/>
<ellipse cx="87.6" cy="47.9" rx="1.2" ry="1.0" transform="rotate(90 87.6 47.9)" fill="#3e4ea4" opacity="1"/>
<ellipse cx="53.0" cy="48.9" rx="1.5" ry="0.6" transform="rotate(126 53.0 48.9)" fill="#5868be" opacity="1"/>
<ellipse cx="82.6" cy="39.1" rx="1.5" ry="0.8" transform="rotate(163 82.6 39.1)" fill="#5969bf" opacity="1"/>
<ellipse cx="39.0" cy="33.0" rx="1.5" ry="0.8" transform="rotate(164 39.0 33.0)" fill="#4050a6" opacity="1"/>
<ellipse cx="51.4" cy="42.3" rx="1.4" ry="0.7" transform="rotate(160 51.4 42.3)" fill="#5060b6" opacity="1"/>
<ellipse cx="77.3" cy="51.6" rx="1.6" ry="0.7" transform="rotate(20 77.3 51.6)" fill="#5464ba" opacity="1"/>
<ellipse cx="66.1" cy="18.8" rx="1.5" ry="0.7" transform="rotate(32 66.1 18.8)" fill="#5767bd" opacity="1"/>
<ellipse cx="57.9" cy="48.7" rx="1.1" ry="0.6" transform="rotate(144 57.9 48.7)" fill="#4e5eb4" opacity="1"/>
<ellipse cx="92.7" cy="23.9" rx="1.7" ry="0.7" transform="rotate(74 92.7 23.9)" fill="#5363b9" opacity="1"/>
<ellipse cx="53.3" cy="46.6" rx="1.1" ry="0.9" transform="rotate(160 53.3 46.6)" fill="#4757ad" opacity="1"/>
<ellipse cx="77.4" cy="28.5" rx="1.5" ry="0.8" transform="rotate(109 77.4 28.5)" fill="#4656ac" opacity="1"/>
<ellipse cx="72.3" cy="47.9" rx="1.0" ry="0.8" transform="rotate(17 72.3 47.9)" fill="#4252a8" opacity="1"/>
<ellipse cx="48.0" cy="48.4" rx="1.4" ry="1.0" transform="rotate(177 48.0 48.4)" fill="#5868be" opacity="1"/>
<ellipse cx="-1.2" cy="52.8" rx="1.2" ry="1.0" transform="rotate(22 -1.2 52.8)" fill="#4c5cb2" opacity="1"/>
<ellipse cx="53.3" cy="35.0" rx="1.7" ry="0.7" transform="rotate(87 53.3 35.0)" fill="#5565bb" opacity="1"/>
<ellipse cx="85.5" cy="50.3" rx="1.7" ry="0.7" transform="rotate(17 85.5 50.3)" fill="#5363b9" opacity="1"/>
<ellipse cx="53.7" cy="26.9" rx="1.5" ry="0.8" transform="rotate(97 53.7 26.9)" fill="#5262b8" opacity="1"/>
<ellipse cx="15.6" cy="50.8" rx="1.0" ry="0.6" transform="rotate(54 15.6 50.8)" fill="#4f5fb5" opacity="1"/>
<ellipse cx="62.6" cy="40.6" rx="1.2" ry="0.7" transform="rotate(178 62.6 40.6)" fill="#4050a6" opacity="1"/>
<ellipse cx="98.8" cy="26.2" rx="1.2" ry="0.9" transform="rotate(71 98.8 26.2)" fill="#4151a7" opacity="1"/>
<ellipse cx="93.4" cy="30.6" rx="1.2" ry="0.7" transform="rotate(13 93.4 30.6)" fill="#4858ae" opacity="1"/>
<ellipse cx="22.2" cy="35.2" rx="1.1" ry="0.8" transform="rotate(75 22.2 35.2)" fill="#4a5ab0" opacity="1"/>
<ellipse cx="66.4" cy="55.7" rx="1.0" ry="0.9" transform="rotate(168 66.4 55.7)" fill="#5363b9" opacity="1"/>
<ellipse cx="92.7" cy="43.6" rx="1.4" ry="0.7" transform="rotate(116 92.7 43.6)" fill="#4555ab" opacity="1"/>
<ellipse cx="64.6" cy="51.6" rx="1.6" ry="0.9" transform="rotate(31 64.6 51.6)" fill="#5262b8" opacity="1"/>
<ellipse cx="82.9" cy="53.6" rx="1.6" ry="0.7" transform="rotate(160 82.9 53.6)" fill="#5565bb" opacity="1"/>
<ellipse cx="83.2" cy="56.1" rx="1.6" ry="0.9" transform="rotate(85 83.2 56.1)" fill="#5868be" opacity="1"/>
<ellipse cx="65.0" cy="22.8" rx="1.5" ry="0.8" transform="rotate(124 65.0 22.8)" fill="#4a5ab0" opacity="1"/>
<ellipse cx="79.7" cy="53.6" rx="1.5" ry="0.9" transform="rotate(180 79.7 53.6)" fill="#4757ad" opacity="1"/>
<ellipse cx="55.9" cy="47.0" rx="1.1" ry="0.9" transform="rotate(73 55.9 47.0)" fill="#4353a9" opacity="1"/>
<ellipse cx="39.3" cy="46.2" rx="1.5" ry="0.7" transform="rotate(29 39.3 46.2)" fill="#5868be" opacity="1"/>
<ellipse cx="90.6" cy="37.6" rx="1.5" ry="0.8" transform="rotate(107 90.6 37.6)" fill="#4151a7" opacity="1"/>
<ellipse cx="70.8" cy="67.8" rx="1.1" ry="0.9" transform="rotate(9 70.8 67.8)" fill="#4151a7" opacity="1"/>
<ellipse cx="61.4" cy="57.1" rx="1.5" ry="0.7" transform="rotate(151 61.4 57.1)" fill="#4454aa" opacity="1"/>
<ellipse cx="88.4" cy="24.0" rx="1.0" ry="0.6" transform="rotate(135 88.4 24.0)" fill="#4e5eb4" opacity="1"/>
<ellipse cx="71.5" cy="62.6" rx="1.7" ry="0.7" transform="rotate(126 71.5 62.6)" fill="#4858ae" opacity="1"/>
<ellipse cx="8.9" cy="43.1" rx="1.2" ry="0.8" transform="rotate(105 8.9 43.1)" fill="#5767bd" opacity="1"/>
<ellipse cx="34.7" cy="38.9" rx="1.4" ry="0.6" transform="rotate(130 34.7 38.9)" fill="#4151a7" opacity="1"/>
<ellipse cx="92.8" cy="34.1" rx="1.3" ry="0.8" transform="rotate(91 92.8 34.1)" fill="#4b5bb1" opacity="1"/>
<ellipse cx="51.4" cy="23.5" rx="1.4" ry="0.9" transform="rotate(86 51.4 23.5)" fill="#5363b9" opacity="1"/>
<ellipse cx="76.3" cy="30.7" rx="1.4" ry="0.9" transform="rotate(61 76.3 30.7)" fill="#5363b9" opacity="1"/>
<ellipse cx="86.5" cy="31.4" rx="1.0" ry="0.7" transform="rotate(117 86.5 31.4)" fill="#5666bc" opacity="1"/>
<ellipse cx="65.7" cy="49.2" rx="1.4" ry="0.8" transform="rotate(140 65.7 49.2)" fill="#5565bb" opacity="1"/>
<ellipse cx="59.7" cy="43.4" rx="1.3" ry="0.9" transform="rotate(125 59.7 43.4)" fill="#5969bf" opacity="1"/>
<ellipse cx="50.2" cy="37.5" rx="1.1" ry="0.9" transform="rotate(74 50.2 37.5)" fill="#4f5fb5" opacity="1"/>
<ellipse cx="89.5" cy="22.3" rx="1.5" ry="0.9" transform="rotate(13 89.5 22.3)" fill="#4151a7" opacity="1"/>
<ellipse cx="93.0" cy="44.2" rx="1.3" ry="0.8" transform="rotate(170 93.0 44.2)" fill="#4757ad" opacity="1"/>
<ellipse cx="0.1" cy="50.0" rx="1.2" ry="0.9" transform="rotate(152 0.1 50.0)" fill="#4151a7" opacity="1"/>
<ellipse cx="42.4" cy="40.6" rx="1.0" ry="0.9" transform="rotate(85 42.4 40.6)" fill="#4858ae" opacity="1"/>
<ellipse cx="7.8" cy="41.5" rx="1.6" ry="0.8" transform="rotate(58 7.8 41.5)" fill="#4555ab" opacity="1"/>
<ellipse cx="65.1" cy="40.4" rx="1.4" ry="0.8" transform="rotate(102 65.1 40.4)" fill="#5262b8" opacity="1"/>
<ellipse cx="52.1" cy="34.2" rx="1.5" ry="0.8" transform="rotate(93 52.1 34.2)" fill="#4b5bb1" opacity="1"/>
<ellipse cx="98.6" cy="15.1" rx="1.3" ry="0.9" transform="rotate(142 98.6 15.1)" fill="#3e4ea4" opacity="1"/>
<ellipse cx="53.3" cy="49.8" rx="1.0" ry="0.9" transform="rotate(47 53.3 49.8)" fill="#5666bc" opacity="1"/>
<ellipse cx="95.1" cy="38.5" rx="1.4" ry="0.8" transform="rotate(127 95.1 38.5)" fill="#4454aa" opacity="1"/>
<ellipse cx="83.8" cy="31.3" rx="1.6" ry="0.9" transform="rotate(73 83.8 31.3)" fill="#5666bc" opacity="1"/>
<ellipse cx="45.7" cy="31.0" rx="1.0" ry="0.7" transform="rotate(14 45.7 31.0)" fill="#4e5eb4" opacity="1"/>
<ellipse cx="99.0" cy="42.7" rx="1.1" ry="0.8" transform="rotate(70 99.0 42.7)" fill="#4555ab" opacity="1"/>
<ellipse cx="60.8" cy="57.1" rx="1.5" ry="0.7" transform="rotate(78 60.8 57.1)" fill="#3f4fa5" opacity="1"/>
<ellipse cx="23.8" cy="44.9" rx="1.1" ry="0.6" transform="rotate(60 23.8 44.9)" fill="#5161b7" opacity="1"/>
<ellipse cx="9.5" cy="47.7" rx="1.2" ry="0.8" transform="rotate(134 9.5 47.7)" fill="#4454aa" opacity="1"/>
<ellipse cx="69.0" cy="44.7" rx="1.6" ry="0.9" transform="rotate(87 69.0 44.7)" fill="#3f4fa5" opacity="1"/>
<ellipse cx="63.0" cy="54.7" rx="1.6" ry="0.6" transform="rotate(74 63.0 54.7)" fill="#4e5eb4" opacity="1"/>
<ellipse cx="76.3" cy="53.0" rx="1.1" ry="0.7" transform="rotate(156 76.3 53.0)" fill="#4959af" opacity="1"/>
<ellipse cx="83.2" cy="26.7" rx="1.5" ry="0.6" transform="rotate(130 83.2 26.7)" fill="#4656ac" opacity="1"/>
<ellipse cx="97.9" cy="42.9" rx="1.0" ry="0.6" transform="rotate(144 97.9 42.9)" fill="#4b5bb1" opacity="1"/>
<ellipse cx="88.3" cy="53.8" rx="1.2" ry="0.9" transform="rotate(167 88.3 53.8)" fill="#5868be" opacity="1"/>
<ellipse cx="72.6" cy="43.0" rx="1.2" ry="0.8" transform="rotate(72 72.6 43.0)" fill="#5868be" opacity="1"/>
<ellipse cx="65.8" cy="55.9" rx="1.3" ry="0.7" transform="rotate(45 65.8 55.9)" fill="#5969bf" opacity="1"/>
<ellipse cx="69.6" cy="37.7" rx="1.7" ry="0.6" transform="rotate(136 69.6 37.7)" fill="#4e5eb4" opacity="1"/>
<ellipse cx="51.7" cy="22.1" rx="1.3" ry="0.6" transform="rotate(7 51.7 22.1)" fill="#5060b6" opacity="1"/>
<ellipse cx="88.0" cy="14.0" rx="1.3" ry="0.9" transform="rotate(135 88.0 14.0)" fill="#4454aa" opacity="1"/>
<ellipse cx="36.3" cy="32.7" rx="1.7" ry="0.7" transform="rotate(149 36.3 32.7)" fill="#5363b9" opacity="1"/>
<ellipse cx="24.5" cy="43.6" rx="1.3" ry="0.6" transform="rotate(63 24.5 43.6)" fill="#4050a6" opacity="1"/>
</g></g>
<text x="5.0" y="63.0" font-size="6.6" font-weight="bold" fill="#111" stroke="#111" stroke-width="0.25">50 µm</text>
<rect x="3.1" y="65.1" width="24" height="1.4" fill="#111"/>
<rect x="0" y="0" width="97.4" height="70.3" fill="none" stroke="#6e6e6e" stroke-width="1"/>
</g>
<g transform="translate(138.9,326.5)"><g clip-path="url(#clip7)"><g filter="url(#blur7)">
<rect x="-2" y="-2" width="100.8" height="74.3" fill="#f6f0f2"/>
<path d="M-3.0,13.5 C-0.8,3.4 6.2,12.8 10.0,12.5 C13.8,12.2 16.7,12.2 20.0,12.0 C23.3,11.8 26.7,11.6 30.0,11.5 C33.3,11.4 36.7,11.3 40.0,11.5 C43.3,11.7 46.7,12.0 50.0,12.5 C53.3,13.0 56.7,13.7 60.0,14.5 C63.3,15.3 66.7,16.3 70.0,17.5 C73.3,18.7 76.7,20.2 80.0,21.5 C83.3,22.8 86.7,24.2 90.0,25.5 C93.3,26.8 98.3,21.0 100.0,29.0 C101.7,37.0 117.2,65.9 100.0,73.3 C82.8,80.7 14.2,83.3 -3.0,73.3 C-20.2,63.3 -5.2,23.6 -3.0,13.5Z" fill="#a8a2c4" opacity="1"/>
<path d="M-3.0,15.5 C-0.8,5.7 6.2,14.8 10.0,14.5 C13.8,14.2 16.7,14.2 20.0,14.0 C23.3,13.8 26.7,13.6 30.0,13.5 C33.3,13.4 36.7,13.3 40.0,13.5 C43.3,13.7 46.7,14.0 50.0,14.5 C53.3,15.0 56.7,15.7 60.0,16.5 C63.3,17.3 66.7,18.3 70.0,19.5 C73.3,20.7 76.7,22.2 80.0,23.5 C83.3,24.8 86.7,26.2 90.0,27.5 C93.3,28.8 98.3,23.4 100.0,31.0 C101.7,38.6 117.2,66.2 100.0,73.3 C82.8,80.3 14.2,82.9 -3.0,73.3 C-20.2,63.7 -5.2,25.3 -3.0,15.5Z" fill="#ebe5ef" opacity="1"/>
<path d="M-3.0,17.5 C-0.8,8.0 6.2,16.8 10.0,16.5 C13.8,16.2 16.7,16.2 20.0,16.0 C23.3,15.8 26.7,15.6 30.0,15.5 C33.3,15.4 36.7,15.3 40.0,15.5 C43.3,15.7 46.7,16.0 50.0,16.5 C53.3,17.0 56.7,17.7 60.0,18.5 C63.3,19.3 66.7,20.3 70.0,21.5 C73.3,22.7 76.7,24.2 80.0,25.5 C83.3,26.8 86.7,28.2 90.0,29.5 C93.3,30.8 98.3,25.7 100.0,33.0 C101.7,40.3 117.2,66.6 100.0,73.3 C82.8,80.0 14.2,82.6 -3.0,73.3 C-20.2,64.0 -5.2,27.0 -3.0,17.5Z" fill="#b0aacc" opacity="1"/>
<path d="M-3.0,21.0 C-0.8,12.1 6.2,20.2 10.0,20.0 C13.8,19.8 16.7,19.7 20.0,19.5 C23.3,19.3 26.7,19.1 30.0,19.0 C33.3,18.9 36.7,18.8 40.0,19.0 C43.3,19.2 46.7,19.5 50.0,20.0 C53.3,20.5 56.7,21.2 60.0,22.0 C63.3,22.8 66.7,23.8 70.0,25.0 C73.3,26.2 76.7,27.7 80.0,29.0 C83.3,30.3 86.7,31.8 90.0,33.0 C93.3,34.2 98.3,29.8 100.0,36.5 C101.7,43.2 117.2,67.2 100.0,73.3 C82.8,79.4 14.2,82.0 -3.0,73.3 C-20.2,64.6 -5.2,29.9 -3.0,21.0Z" fill="#c2a8ba" opacity="1"/>
<path d="M-3.0,24.5 C-0.8,16.2 6.2,23.8 10.0,23.5 C13.8,23.2 16.7,23.2 20.0,23.0 C23.3,22.8 26.7,22.6 30.0,22.5 C33.3,22.4 36.7,22.3 40.0,22.5 C43.3,22.7 46.7,23.0 50.0,23.5 C53.3,24.0 56.7,24.7 60.0,25.5 C63.3,26.3 66.7,27.3 70.0,28.5 C73.3,29.7 76.7,31.2 80.0,32.5 C83.3,33.8 86.7,35.2 90.0,36.5 C93.3,37.8 98.3,33.9 100.0,40.0 C101.7,46.1 117.2,67.8 100.0,73.3 C82.8,78.8 14.2,81.4 -3.0,73.3 C-20.2,65.2 -5.2,32.8 -3.0,24.5Z" fill="#c2b8d2" opacity="1"/>
<path d="M-3.0,56.0 C-1.8,52.1 2.0,52.5 4.0,50.0 C6.0,47.5 7.0,43.1 9.0,41.0 C11.0,38.9 12.5,38.2 16.0,37.5 C19.5,36.8 25.2,37.0 30.0,37.0 C34.8,37.0 40.8,37.2 45.0,37.5 C49.2,37.8 52.7,37.9 55.0,39.0 C57.3,40.1 57.8,41.5 59.0,44.0 C60.2,46.5 61.0,50.7 62.0,54.0 C63.0,57.3 64.2,60.8 65.0,64.0 C65.8,67.2 61.2,71.5 67.0,73.0 C72.8,74.5 94.5,73.0 100.0,73.0 C105.5,73.0 117.2,73.2 100.0,73.3 C82.8,73.3 14.2,76.2 -3.0,73.3 C-20.2,70.4 -4.2,59.9 -3.0,56.0Z" fill="#ece6ee" opacity="1"/>
<ellipse cx="5.7" cy="42.7" rx="2.0" ry="1.2" transform="rotate(161 5.7 42.7)" fill="#2f2f65" opacity="1"/>
<ellipse cx="69.1" cy="48.6" rx="2.0" ry="1.1" transform="rotate(31 69.1 48.6)" fill="#38386e" opacity="1"/>
<ellipse cx="61.2" cy="41.7" rx="1.8" ry="0.9" transform="rotate(10 61.2 41.7)" fill="#45457b" opacity="1"/>
<ellipse cx="45.1" cy="32.4" rx="1.7" ry="0.9" transform="rotate(15 45.1 32.4)" fill="#3a3a70" opacity="1"/>
<ellipse cx="90.5" cy="61.0" rx="1.3" ry="1.1" transform="rotate(27 90.5 61.0)" fill="#37376d" opacity="1"/>
<ellipse cx="-0.5" cy="35.3" rx="1.3" ry="1.3" transform="rotate(37 -0.5 35.3)" fill="#313167" opacity="1"/>
<ellipse cx="89.6" cy="60.2" rx="1.6" ry="1.2" transform="rotate(173 89.6 60.2)" fill="#424278" opacity="1"/>
<ellipse cx="88.4" cy="71.1" rx="1.8" ry="1.2" transform="rotate(40 88.4 71.1)" fill="#46467c" opacity="1"/>
<ellipse cx="41.2" cy="23.3" rx="1.9" ry="0.9" transform="rotate(84 41.2 23.3)" fill="#303066" opacity="1"/>
<ellipse cx="58.8" cy="33.7" rx="1.3" ry="1.1" transform="rotate(24 58.8 33.7)" fill="#404076" opacity="1"/>
<ellipse cx="4.5" cy="30.5" rx="1.6" ry="1.4" transform="rotate(172 4.5 30.5)" fill="#303066" opacity="1"/>
<ellipse cx="91.8" cy="68.7" rx="2.0" ry="1.1" transform="rotate(53 91.8 68.7)" fill="#3c3c72" opacity="1"/>
<ellipse cx="16.2" cy="37.0" rx="1.4" ry="1.1" transform="rotate(78 16.2 37.0)" fill="#3f3f75" opacity="1"/>
<ellipse cx="59.1" cy="35.4" rx="2.1" ry="1.2" transform="rotate(159 59.1 35.4)" fill="#35356b" opacity="1"/>
<ellipse cx="59.6" cy="38.0" rx="2.0" ry="1.0" transform="rotate(94 59.6 38.0)" fill="#414177" opacity="1"/>
<ellipse cx="92.1" cy="62.7" rx="1.6" ry="1.3" transform="rotate(115 92.1 62.7)" fill="#34346a" opacity="1"/>
<ellipse cx="52.0" cy="28.6" rx="1.5" ry="1.1" transform="rotate(158 52.0 28.6)" fill="#49497f" opacity="1"/>
<ellipse cx="23.6" cy="30.2" rx="1.4" ry="1.1" transform="rotate(3 23.6 30.2)" fill="#39396f" opacity="1"/>
<ellipse cx="60.6" cy="40.3" rx="1.5" ry="0.9" transform="rotate(103 60.6 40.3)" fill="#323268" opacity="1"/>
<ellipse cx="63.0" cy="46.6" rx="1.7" ry="1.2" transform="rotate(37 63.0 46.6)" fill="#323268" opacity="1"/>
<ellipse cx="68.3" cy="51.8" rx="1.6" ry="1.3" transform="rotate(25 68.3 51.8)" fill="#39396f" opacity="1"/>
<ellipse cx="-0.9" cy="40.9" rx="1.8" ry="1.1" transform="rotate(140 -0.9 40.9)" fill="#2f2f65" opacity="1"/>
<ellipse cx="4.1" cy="36.6" rx="1.7" ry="1.3" transform="rotate(112 4.1 36.6)" fill="#45457b" opacity="1"/>
<ellipse cx="94.9" cy="62.2" rx="1.3" ry="1.1" transform="rotate(40 94.9 62.2)" fill="#45457b" opacity="1"/>
<ellipse cx="69.0" cy="30.8" rx="1.7" ry="1.3" transform="rotate(134 69.0 30.8)" fill="#46467c" opacity="1"/>
<ellipse cx="82.3" cy="65.9" rx="1.7" ry="1.2" transform="rotate(111 82.3 65.9)" fill="#333369" opacity="1"/>
<ellipse cx="34.8" cy="25.0" rx="1.7" ry="1.2" transform="rotate(135 34.8 25.0)" fill="#3f3f75" opacity="1"/>
<ellipse cx="5.5" cy="28.4" rx="1.6" ry="1.4" transform="rotate(157 5.5 28.4)" fill="#3d3d73" opacity="1"/>
<ellipse cx="89.3" cy="60.6" rx="1.5" ry="1.0" transform="rotate(29 89.3 60.6)" fill="#3a3a70" opacity="1"/>
<ellipse cx="93.5" cy="40.8" rx="1.8" ry="1.0" transform="rotate(24 93.5 40.8)" fill="#3a3a70" opacity="1"/>
<ellipse cx="65.6" cy="33.4" rx="1.4" ry="1.1" transform="rotate(124 65.6 33.4)" fill="#38386e" opacity="1"/>
<ellipse cx="33.8" cy="23.1" rx="1.7" ry="0.9" transform="rotate(142 33.8 23.1)" fill="#404076" opacity="1"/>
<ellipse cx="65.1" cy="31.7" rx="1.6" ry="1.2" transform="rotate(138 65.1 31.7)" fill="#49497f" opacity="1"/>
<ellipse cx="50.2" cy="37.7" rx="1.3" ry="1.2" transform="rotate(73 50.2 37.7)" fill="#45457b" opacity="1"/>
<ellipse cx="91.6" cy="65.8" rx="1.4" ry="1.1" transform="rotate(47 91.6 65.8)" fill="#37376d" opacity="1"/>
<ellipse cx="21.4" cy="34.7" rx="1.3" ry="1.4" transform="rotate(129 21.4 34.7)" fill="#34346a" opacity="1"/>
<ellipse cx="79.8" cy="45.2" rx="1.7" ry="1.2" transform="rotate(146 79.8 45.2)" fill="#303066" opacity="1"/>
<ellipse cx="76.6" cy="42.3" rx="1.2" ry="1.1" transform="rotate(130 76.6 42.3)" fill="#37376d" opacity="1"/>
<ellipse cx="70.9" cy="54.5" rx="1.2" ry="1.0" transform="rotate(16 70.9 54.5)" fill="#45457b" opacity="1"/>
<ellipse cx="7.8" cy="30.6" rx="2.0" ry="0.9" transform="rotate(32 7.8 30.6)" fill="#3f3f75" opacity="1"/>
<ellipse cx="25.2" cy="27.8" rx="1.7" ry="1.0" transform="rotate(104 25.2 27.8)" fill="#38386e" opacity="1"/>
<ellipse cx="96.3" cy="67.6" rx="1.8" ry="1.4" transform="rotate(18 96.3 67.6)" fill="#3f3f75" opacity="1"/>
<ellipse cx="93.5" cy="56.6" rx="2.1" ry="1.0" transform="rotate(29 93.5 56.6)" fill="#404076" opacity="1"/>
<ellipse cx="30.1" cy="30.7" rx="1.4" ry="1.3" transform="rotate(28 30.1 30.7)" fill="#303066" opacity="1"/>
<ellipse cx="38.2" cy="33.8" rx="1.7" ry="1.3" transform="rotate(168 38.2 33.8)" fill="#404076" opacity="1"/>
<ellipse cx="29.1" cy="35.9" rx="1.6" ry="1.0" transform="rotate(100 29.1 35.9)" fill="#3a3a70" opacity="1"/>
<ellipse cx="85.8" cy="61.3" rx="1.8" ry="1.4" transform="rotate(161 85.8 61.3)" fill="#35356b" opacity="1"/>
<ellipse cx="84.8" cy="67.6" rx="1.9" ry="1.4" transform="rotate(9 84.8 67.6)" fill="#48487e" opacity="1"/>
<ellipse cx="64.1" cy="32.2" rx="1.9" ry="1.3" transform="rotate(106 64.1 32.2)" fill="#48487e" opacity="1"/>
<ellipse cx="66.6" cy="51.9" rx="2.0" ry="1.4" transform="rotate(149 66.6 51.9)" fill="#3d3d73" opacity="1"/>
<ellipse cx="67.5" cy="35.2" rx="1.4" ry="1.0" transform="rotate(67 67.5 35.2)" fill="#434379" opacity="1"/>
<ellipse cx="64.8" cy="62.6" rx="1.5" ry="1.1" transform="rotate(158 64.8 62.6)" fill="#313167" opacity="1"/>
<ellipse cx="88.3" cy="63.5" rx="1.5" ry="1.3" transform="rotate(170 88.3 63.5)" fill="#3e3e74" opacity="1"/>
<ellipse cx="71.2" cy="35.0" rx="1.7" ry="1.0" transform="rotate(48 71.2 35.0)" fill="#434379" opacity="1"/>
<ellipse cx="80.9" cy="33.5" rx="1.9" ry="1.2" transform="rotate(84 80.9 33.5)" fill="#38386e" opacity="1"/>
<ellipse cx="61.7" cy="52.0" rx="1.3" ry="1.4" transform="rotate(155 61.7 52.0)" fill="#404076" opacity="1"/>
<ellipse cx="38.3" cy="30.3" rx="2.0" ry="1.4" transform="rotate(130 38.3 30.3)" fill="#424278" opacity="1"/>
<ellipse cx="79.8" cy="38.9" rx="1.5" ry="0.9" transform="rotate(90 79.8 38.9)" fill="#47477d" opacity="1"/>
<ellipse cx="81.2" cy="46.7" rx="2.0" ry="1.2" transform="rotate(29 81.2 46.7)" fill="#39396f" opacity="1"/>
<ellipse cx="81.3" cy="53.3" rx="1.4" ry="1.0" transform="rotate(122 81.3 53.3)" fill="#3c3c72" opacity="1"/>
<ellipse cx="21.4" cy="33.5" rx="1.3" ry="1.3" transform="rotate(142 21.4 33.5)" fill="#44447a" opacity="1"/>
<ellipse cx="75.8" cy="44.0" rx="1.8" ry="1.4" transform="rotate(8 75.8 44.0)" fill="#3f3f75" opacity="1"/>
<ellipse cx="64.1" cy="43.0" rx="1.3" ry="1.3" transform="rotate(170 64.1 43.0)" fill="#3b3b71" opacity="1"/>
<ellipse cx="85.1" cy="64.5" rx="1.7" ry="1.3" transform="rotate(62 85.1 64.5)" fill="#38386e" opacity="1"/>
<ellipse cx="12.6" cy="27.9" rx="1.7" ry="1.0" transform="rotate(94 12.6 27.9)" fill="#37376d" opacity="1"/>
<ellipse cx="92.7" cy="47.4" rx="1.5" ry="1.2" transform="rotate(172 92.7 47.4)" fill="#45457b" opacity="1"/>
<ellipse cx="96.2" cy="39.9" rx="1.5" ry="1.4" transform="rotate(73 96.2 39.9)" fill="#303066" opacity="1"/>
<ellipse cx="56.2" cy="34.6" rx="1.6" ry="1.2" transform="rotate(2 56.2 34.6)" fill="#3a3a70" opacity="1"/>
<ellipse cx="86.9" cy="65.9" rx="1.7" ry="1.0" transform="rotate(50 86.9 65.9)" fill="#303066" opacity="1"/>
<ellipse cx="5.1" cy="44.7" rx="1.8" ry="1.3" transform="rotate(139 5.1 44.7)" fill="#333369" opacity="1"/>
<ellipse cx="11.8" cy="24.6" rx="1.7" ry="1.0" transform="rotate(134 11.8 24.6)" fill="#434379" opacity="1"/>
<ellipse cx="31.0" cy="35.9" rx="1.7" ry="1.3" transform="rotate(160 31.0 35.9)" fill="#424278" opacity="1"/>
<ellipse cx="69.7" cy="55.9" rx="1.2" ry="1.2" transform="rotate(2 69.7 55.9)" fill="#2e2e64" opacity="1"/>
<ellipse cx="75.2" cy="57.5" rx="1.4" ry="1.4" transform="rotate(4 75.2 57.5)" fill="#3c3c72" opacity="1"/>
<ellipse cx="62.4" cy="36.6" rx="1.7" ry="0.9" transform="rotate(134 62.4 36.6)" fill="#3e3e74" opacity="1"/>
<ellipse cx="41.5" cy="30.8" rx="1.3" ry="1.1" transform="rotate(68 41.5 30.8)" fill="#37376d" opacity="1"/>
<ellipse cx="36.7" cy="24.0" rx="1.3" ry="0.9" transform="rotate(73 36.7 24.0)" fill="#3b3b71" opacity="1"/>
<ellipse cx="71.7" cy="45.8" rx="1.7" ry="1.4" transform="rotate(1 71.7 45.8)" fill="#35356b" opacity="1"/>
<ellipse cx="81.1" cy="52.7" rx="1.9" ry="1.1" transform="rotate(169 81.1 52.7)" fill="#414177" opacity="1"/>
<ellipse cx="17.4" cy="28.0" rx="2.1" ry="1.4" transform="rotate(58 17.4 28.0)" fill="#323268" opacity="1"/>
<ellipse cx="38.0" cy="34.4" rx="1.6" ry="1.2" transform="rotate(79 38.0 34.4)" fill="#3d3d73" opacity="1"/>
<ellipse cx="38.7" cy="36.7" rx="1.6" ry="1.2" transform="rotate(119 38.7 36.7)" fill="#49497f" opacity="1"/>
<ellipse cx="76.2" cy="47.2" rx="1.4" ry="1.0" transform="rotate(73 76.2 47.2)" fill="#34346a" opacity="1"/>
<ellipse cx="84.8" cy="44.1" rx="2.0" ry="1.3" transform="rotate(97 84.8 44.1)" fill="#303066" opacity="1"/>
<ellipse cx="71.3" cy="40.6" rx="2.1" ry="1.2" transform="rotate(121 71.3 40.6)" fill="#3a3a70" opacity="1"/>
<ellipse cx="4.6" cy="28.9" rx="1.6" ry="1.0" transform="rotate(0 4.6 28.9)" fill="#45457b" opacity="1"/>
<ellipse cx="97.4" cy="58.5" rx="1.6" ry="1.1" transform="rotate(54 97.4 58.5)" fill="#38386e" opacity="1"/>
<ellipse cx="6.6" cy="27.7" rx="1.5" ry="1.1" transform="rotate(145 6.6 27.7)" fill="#323268" opacity="1"/>
<ellipse cx="-0.5" cy="51.4" rx="1.4" ry="1.0" transform="rotate(107 -0.5 51.4)" fill="#34346a" opacity="1"/>
<ellipse cx="78.9" cy="66.0" rx="1.4" ry="1.1" transform="rotate(83 78.9 66.0)" fill="#35356b" opacity="1"/>
<ellipse cx="35.7" cy="24.0" rx="1.7" ry="1.2" transform="rotate(160 35.7 24.0)" fill="#3f3f75" opacity="1"/>
<ellipse cx="78.7" cy="60.1" rx="1.6" ry="1.0" transform="rotate(34 78.7 60.1)" fill="#38386e" opacity="1"/>
<ellipse cx="31.3" cy="33.6" rx="1.2" ry="1.2" transform="rotate(82 31.3 33.6)" fill="#3d3d73" opacity="1"/>
<ellipse cx="94.6" cy="69.4" rx="1.5" ry="1.1" transform="rotate(128 94.6 69.4)" fill="#36366c" opacity="1"/>
<ellipse cx="73.3" cy="36.4" rx="1.2" ry="1.1" transform="rotate(19 73.3 36.4)" fill="#414177" opacity="1"/>
<ellipse cx="4.4" cy="27.6" rx="1.9" ry="1.4" transform="rotate(117 4.4 27.6)" fill="#2f2f65" opacity="1"/>
<ellipse cx="67.4" cy="40.1" rx="2.0" ry="1.2" transform="rotate(11 67.4 40.1)" fill="#38386e" opacity="1"/>
<ellipse cx="10.7" cy="25.4" rx="1.8" ry="1.0" transform="rotate(24 10.7 25.4)" fill="#45457b" opacity="1"/>
<ellipse cx="84.3" cy="62.8" rx="1.9" ry="1.3" transform="rotate(68 84.3 62.8)" fill="#46467c" opacity="1"/>
<ellipse cx="87.2" cy="68.4" rx="1.5" ry="1.4" transform="rotate(98 87.2 68.4)" fill="#38386e" opacity="1"/>
<ellipse cx="82.2" cy="55.1" rx="1.3" ry="0.9" transform="rotate(170 82.2 55.1)" fill="#414177" opacity="1"/>
<ellipse cx="24.9" cy="31.3" rx="1.8" ry="1.3" transform="rotate(68 24.9 31.3)" fill="#39396f" opacity="1"/>
<ellipse cx="22.7" cy="27.7" rx="1.4" ry="1.3" transform="rotate(146 22.7 27.7)" fill="#2e2e64" opacity="1"/>
<ellipse cx="79.1" cy="72.1" rx="1.4" ry="1.3" transform="rotate(43 79.1 72.1)" fill="#3d3d73" opacity="1"/>
<ellipse cx="21.4" cy="28.5" rx="1.6" ry="0.9" transform="rotate(110 21.4 28.5)" fill="#44447a" opacity="1"/>
<ellipse cx="3.2" cy="46.0" rx="2.0" ry="1.2" transform="rotate(64 3.2 46.0)" fill="#35356b" opacity="1"/>
<ellipse cx="34.7" cy="23.2" rx="1.4" ry="1.2" transform="rotate(108 34.7 23.2)" fill="#424278" opacity="1"/>
<ellipse cx="73.0" cy="30.8" rx="1.2" ry="1.2" transform="rotate(46 73.0 30.8)" fill="#414177" opacity="1"/>
<ellipse cx="84.1" cy="63.2" rx="1.8" ry="1.0" transform="rotate(5 84.1 63.2)" fill="#45457b" opacity="1"/>
<ellipse cx="76.3" cy="69.6" rx="1.8" ry="1.3" transform="rotate(17 76.3 69.6)" fill="#35356b" opacity="1"/>
<ellipse cx="75.4" cy="48.7" rx="1.4" ry="0.9" transform="rotate(79 75.4 48.7)" fill="#44447a" opacity="1"/>
<ellipse cx="95.3" cy="43.2" rx="1.3" ry="0.9" transform="rotate(142 95.3 43.2)" fill="#44447a" opacity="1"/>
<ellipse cx="72.6" cy="39.8" rx="1.8" ry="1.3" transform="rotate(127 72.6 39.8)" fill="#3e3e74" opacity="1"/>
<ellipse cx="91.6" cy="60.9" rx="1.6" ry="1.2" transform="rotate(172 91.6 60.9)" fill="#3d3d73" opacity="1"/>
<ellipse cx="39.7" cy="24.9" rx="1.2" ry="1.0" transform="rotate(135 39.7 24.9)" fill="#303066" opacity="1"/>
<ellipse cx="95.8" cy="39.6" rx="1.4" ry="1.3" transform="rotate(142 95.8 39.6)" fill="#3c3c72" opacity="1"/>
<ellipse cx="65.0" cy="41.4" rx="1.6" ry="0.9" transform="rotate(155 65.0 41.4)" fill="#303066" opacity="1"/>
<ellipse cx="97.5" cy="60.3" rx="2.0" ry="1.0" transform="rotate(153 97.5 60.3)" fill="#3d3d73" opacity="1"/>
<ellipse cx="13.1" cy="34.8" rx="1.8" ry="0.9" transform="rotate(38 13.1 34.8)" fill="#47477d" opacity="1"/>
<ellipse cx="98.0" cy="55.6" rx="2.0" ry="1.3" transform="rotate(40 98.0 55.6)" fill="#3d3d73" opacity="1"/>
<ellipse cx="30.5" cy="31.6" rx="2.1" ry="1.1" transform="rotate(146 30.5 31.6)" fill="#48487e" opacity="1"/>
<ellipse cx="26.8" cy="25.9" rx="1.8" ry="1.2" transform="rotate(75 26.8 25.9)" fill="#2e2e64" opacity="1"/>
<ellipse cx="8.4" cy="33.4" rx="1.3" ry="1.2" transform="rotate(179 8.4 33.4)" fill="#46467c" opacity="1"/>
<ellipse cx="73.6" cy="48.6" rx="1.4" ry="1.2" transform="rotate(8 73.6 48.6)" fill="#45457b" opacity="1"/>
<ellipse cx="93.2" cy="62.1" rx="2.0" ry="1.3" transform="rotate(142 93.2 62.1)" fill="#3b3b71" opacity="1"/>
<ellipse cx="92.5" cy="54.3" rx="1.6" ry="1.2" transform="rotate(61 92.5 54.3)" fill="#2f2f65" opacity="1"/>
<ellipse cx="24.7" cy="32.5" rx="1.6" ry="1.1" transform="rotate(8 24.7 32.5)" fill="#49497f" opacity="1"/>
<ellipse cx="93.8" cy="49.1" rx="1.5" ry="0.9" transform="rotate(46 93.8 49.1)" fill="#34346a" opacity="1"/>
<ellipse cx="88.8" cy="63.1" rx="1.8" ry="1.1" transform="rotate(160 88.8 63.1)" fill="#48487e" opacity="1"/>
<ellipse cx="69.4" cy="53.6" rx="1.4" ry="1.0" transform="rotate(160 69.4 53.6)" fill="#414177" opacity="1"/>
<ellipse cx="11.0" cy="25.3" rx="1.7" ry="1.3" transform="rotate(91 11.0 25.3)" fill="#49497f" opacity="1"/>
<ellipse cx="15.0" cy="31.8" rx="1.4" ry="1.1" transform="rotate(177 15.0 31.8)" fill="#3c3c72" opacity="1"/>
<ellipse cx="88.8" cy="70.5" rx="1.4" ry="1.3" transform="rotate(156 88.8 70.5)" fill="#3f3f75" opacity="1"/>
<ellipse cx="-1.2" cy="25.2" rx="2.1" ry="0.9" transform="rotate(94 -1.2 25.2)" fill="#3d3d73" opacity="1"/>
<ellipse cx="-0.3" cy="47.7" rx="1.9" ry="1.0" transform="rotate(50 -0.3 47.7)" fill="#2e2e64" opacity="1"/>
<ellipse cx="1.9" cy="29.0" rx="1.9" ry="1.3" transform="rotate(132 1.9 29.0)" fill="#3c3c72" opacity="1"/>
<ellipse cx="98.2" cy="49.1" rx="1.6" ry="1.3" transform="rotate(12 98.2 49.1)" fill="#3e3e74" opacity="1"/>
<ellipse cx="93.7" cy="69.7" rx="1.6" ry="1.1" transform="rotate(82 93.7 69.7)" fill="#3a3a70" opacity="1"/>
<ellipse cx="23.5" cy="36.9" rx="1.2" ry="1.0" transform="rotate(112 23.5 36.9)" fill="#39396f" opacity="1"/>
<ellipse cx="3.9" cy="34.6" rx="1.8" ry="0.9" transform="rotate(60 3.9 34.6)" fill="#3b3b71" opacity="1"/>
<ellipse cx="30.2" cy="27.1" rx="1.8" ry="1.3" transform="rotate(6 30.2 27.1)" fill="#3f3f75" opacity="1"/>
<ellipse cx="78.5" cy="54.9" rx="1.9" ry="1.0" transform="rotate(163 78.5 54.9)" fill="#3c3c72" opacity="1"/>
<ellipse cx="54.3" cy="33.2" rx="1.3" ry="1.1" transform="rotate(170 54.3 33.2)" fill="#323268" opacity="1"/>
<ellipse cx="86.0" cy="63.3" rx="1.4" ry="1.0" transform="rotate(9 86.0 63.3)" fill="#2f2f65" opacity="1"/>
<ellipse cx="58.4" cy="37.4" rx="2.0" ry="1.2" transform="rotate(53 58.4 37.4)" fill="#48487e" opacity="1"/>
<ellipse cx="86.5" cy="60.0" rx="1.4" ry="1.0" transform="rotate(16 86.5 60.0)" fill="#414177" opacity="1"/>
<ellipse cx="-0.5" cy="42.5" rx="1.6" ry="1.1" transform="rotate(146 -0.5 42.5)" fill="#39396f" opacity="1"/>
<ellipse cx="42.1" cy="32.2" rx="1.2" ry="1.0" transform="rotate(126 42.1 32.2)" fill="#46467c" opacity="1"/>
<ellipse cx="64.7" cy="56.9" rx="1.9" ry="1.1" transform="rotate(142 64.7 56.9)" fill="#404076" opacity="1"/>
<ellipse cx="70.8" cy="43.0" rx="1.4" ry="1.3" transform="rotate(126 70.8 43.0)" fill="#3d3d73" opacity="1"/>
<ellipse cx="98.6" cy="50.2" rx="1.7" ry="1.3" transform="rotate(155 98.6 50.2)" fill="#44447a" opacity="1"/>
<ellipse cx="68.0" cy="54.3" rx="1.4" ry="1.1" transform="rotate(74 68.0 54.3)" fill="#46467c" opacity="1"/>
<ellipse cx="14.9" cy="29.0" rx="2.1" ry="1.0" transform="rotate(91 14.9 29.0)" fill="#45457b" opacity="1"/>
<ellipse cx="66.0" cy="49.5" rx="2.0" ry="1.2" transform="rotate(121 66.0 49.5)" fill="#35356b" opacity="1"/>
<ellipse cx="56.5" cy="35.9" rx="1.9" ry="1.3" transform="rotate(73 56.5 35.9)" fill="#38386e" opacity="1"/>
<ellipse cx="73.0" cy="43.2" rx="1.5" ry="1.1" transform="rotate(140 73.0 43.2)" fill="#48487e" opacity="1"/>
<ellipse cx="33.9" cy="32.6" rx="1.4" ry="1.4" transform="rotate(132 33.9 32.6)" fill="#49497f" opacity="1"/>
<ellipse cx="3.5" cy="33.9" rx="1.8" ry="1.0" transform="rotate(61 3.5 33.9)" fill="#35356b" opacity="1"/>
<ellipse cx="-1.7" cy="43.6" rx="1.7" ry="1.0" transform="rotate(93 -1.7 43.6)" fill="#3b3b71" opacity="1"/>
<ellipse cx="95.3" cy="41.9" rx="1.9" ry="1.3" transform="rotate(5 95.3 41.9)" fill="#48487e" opacity="1"/>
<ellipse cx="51.8" cy="36.1" rx="1.6" ry="1.2" transform="rotate(61 51.8 36.1)" fill="#424278" opacity="1"/>
<ellipse cx="6.6" cy="40.5" rx="1.8" ry="1.1" transform="rotate(61 6.6 40.5)" fill="#424278" opacity="1"/>
<ellipse cx="47.7" cy="27.2" rx="1.3" ry="1.1" transform="rotate(6 47.7 27.2)" fill="#36366c" opacity="1"/>
<ellipse cx="62.5" cy="48.4" rx="1.6" ry="1.0" transform="rotate(8 62.5 48.4)" fill="#37376d" opacity="1"/>
<ellipse cx="-0.6" cy="39.4" rx="1.8" ry="1.2" transform="rotate(8 -0.6 39.4)" fill="#3f3f75" opacity="1"/>
<ellipse cx="6.1" cy="29.2" rx="1.6" ry="1.0" transform="rotate(115 6.1 29.2)" fill="#36366c" opacity="1"/>
<ellipse cx="75.3" cy="44.0" rx="2.0" ry="1.0" transform="rotate(156 75.3 44.0)" fill="#3f3f75" opacity="1"/>
<ellipse cx="8.2" cy="30.6" rx="1.3" ry="1.3" transform="rotate(86 8.2 30.6)" fill="#3c3c72" opacity="1"/>
<ellipse cx="27.9" cy="35.6" rx="2.0" ry="1.1" transform="rotate(44 27.9 35.6)" fill="#3c3c72" opacity="1"/>
<ellipse cx="15.6" cy="24.5" rx="1.4" ry="1.0" transform="rotate(46 15.6 24.5)" fill="#3c3c72" opacity="1"/>
<ellipse cx="75.9" cy="71.8" rx="1.4" ry="1.4" transform="rotate(7 75.9 71.8)" fill="#424278" opacity="1"/>
<ellipse cx="69.0" cy="31.9" rx="1.3" ry="1.3" transform="rotate(122 69.0 31.9)" fill="#3f3f75" opacity="1"/>
<ellipse cx="18.1" cy="32.7" rx="1.9" ry="1.1" transform="rotate(32 18.1 32.7)" fill="#3d3d73" opacity="1"/>
<ellipse cx="58.7" cy="31.9" rx="2.0" ry="1.0" transform="rotate(17 58.7 31.9)" fill="#414177" opacity="1"/>
<ellipse cx="2.4" cy="46.4" rx="1.4" ry="1.2" transform="rotate(22 2.4 46.4)" fill="#34346a" opacity="1"/>
<ellipse cx="91.4" cy="58.5" rx="1.7" ry="1.3" transform="rotate(35 91.4 58.5)" fill="#3a3a70" opacity="1"/>
<ellipse cx="50.3" cy="30.5" rx="1.5" ry="1.2" transform="rotate(179 50.3 30.5)" fill="#49497f" opacity="1"/>
<ellipse cx="80.4" cy="35.3" rx="1.9" ry="1.0" transform="rotate(131 80.4 35.3)" fill="#323268" opacity="1"/>
<ellipse cx="83.8" cy="51.5" rx="1.2" ry="1.2" transform="rotate(114 83.8 51.5)" fill="#44447a" opacity="1"/>
<ellipse cx="66.3" cy="60.6" rx="1.4" ry="1.3" transform="rotate(50 66.3 60.6)" fill="#34346a" opacity="1"/>
<ellipse cx="79.0" cy="34.1" rx="1.4" ry="1.0" transform="rotate(95 79.0 34.1)" fill="#333369" opacity="1"/>
<ellipse cx="83.5" cy="38.4" rx="2.0" ry="1.1" transform="rotate(96 83.5 38.4)" fill="#34346a" opacity="1"/>
<ellipse cx="1.0" cy="26.2" rx="2.0" ry="1.2" transform="rotate(84 1.0 26.2)" fill="#49497f" opacity="1"/>
<ellipse cx="41.0" cy="36.5" rx="1.5" ry="1.2" transform="rotate(46 41.0 36.5)" fill="#34346a" opacity="1"/>
<ellipse cx="12.8" cy="38.2" rx="1.3" ry="1.3" transform="rotate(12 12.8 38.2)" fill="#404076" opacity="1"/>
<ellipse cx="62.6" cy="45.4" rx="1.3" ry="1.2" transform="rotate(66 62.6 45.4)" fill="#3f3f75" opacity="1"/>
<ellipse cx="18.4" cy="28.1" rx="1.8" ry="1.4" transform="rotate(96 18.4 28.1)" fill="#3e3e74" opacity="1"/>
<ellipse cx="86.6" cy="61.4" rx="1.2" ry="1.3" transform="rotate(109 86.6 61.4)" fill="#34346a" opacity="1"/>
<ellipse cx="85.9" cy="53.3" rx="1.6" ry="1.2" transform="rotate(172 85.9 53.3)" fill="#333369" opacity="1"/>
<ellipse cx="61.7" cy="52.2" rx="1.6" ry="1.2" transform="rotate(168 61.7 52.2)" fill="#333369" opacity="1"/>
<ellipse cx="19.0" cy="51.1" rx="1.3" ry="0.9" transform="rotate(10 19.0 51.1)" fill="#4e4e80" opacity="1"/>
<ellipse cx="55.3" cy="71.8" rx="1.3" ry="0.6" transform="rotate(99 55.3 71.8)" fill="#4e4e80" opacity="1"/>
<ellipse cx="24.3" cy="38.7" rx="1.0" ry="1.0" transform="rotate(69 24.3 38.7)" fill="#616193" opacity="1"/>
<ellipse cx="20.6" cy="45.0" rx="1.1" ry="0.6" transform="rotate(93 20.6 45.0)" fill="#48487a" opacity="1"/>
<ellipse cx="1.5" cy="68.5" rx="1.1" ry="0.9" transform="rotate(129 1.5 68.5)" fill="#525284" opacity="1"/>
<ellipse cx="39.7" cy="61.8" rx="1.0" ry="0.7" transform="rotate(110 39.7 61.8)" fill="#5e5e90" opacity="1"/>
<ellipse cx="27.9" cy="43.2" rx="1.0" ry="0.8" transform="rotate(131 27.9 43.2)" fill="#515183" opacity="1"/>
<ellipse cx="12.0" cy="48.0" rx="0.9" ry="0.7" transform="rotate(81 12.0 48.0)" fill="#59598b" opacity="1"/>
<ellipse cx="36.7" cy="49.2" rx="1.3" ry="0.8" transform="rotate(7 36.7 49.2)" fill="#565688" opacity="1"/>
<ellipse cx="10.9" cy="61.9" rx="1.0" ry="0.9" transform="rotate(93 10.9 61.9)" fill="#5d5d8f" opacity="1"/>
<ellipse cx="52.6" cy="66.4" rx="1.3" ry="0.7" transform="rotate(123 52.6 66.4)" fill="#4b4b7d" opacity="1"/>
<ellipse cx="38.3" cy="40.7" rx="1.2" ry="0.8" transform="rotate(158 38.3 40.7)" fill="#4b4b7d" opacity="1"/>
</g></g>
<text x="2.8" y="63.0" font-size="6.6" font-weight="bold" fill="#111" stroke="#111" stroke-width="0.25">50 µm</text>
<rect x="1.0" y="65.1" width="24" height="1.4" fill="#111"/>
<rect x="0" y="0" width="96.8" height="70.3" fill="none" stroke="#6e6e6e" stroke-width="1"/>
</g>
<g transform="translate(241.7,326.5)"><g clip-path="url(#clip8)"><g filter="url(#blur8)">
<rect x="-2" y="-2" width="135.8" height="74.3" fill="#f8f2f0"/>
<path d="M-3.0,7.6 C-0.2,-3.4 8.4,6.8 13.8,7.5 C19.2,8.2 24.0,10.6 29.2,11.5 C34.4,12.4 40.0,11.5 44.7,12.8 C49.4,14.1 53.3,16.2 57.6,19.2 C61.9,22.2 66.2,27.1 70.5,30.8 C74.8,34.4 79.5,38.5 83.4,41.1 C87.3,43.7 90.9,45.9 93.7,46.3 C96.5,46.7 97.9,44.8 100.0,43.5 C102.1,42.2 102.8,40.2 106.5,38.5 C110.2,36.8 117.2,34.5 122.0,33.4 C126.8,32.3 132.8,25.5 135.0,32.1 C137.2,38.8 158.0,66.4 135.0,73.3 C112.0,80.2 20.0,84.2 -3.0,73.3 C-26.0,62.3 -5.8,18.6 -3.0,7.6Z" fill="#cdc6da" opacity="1"/>
<path d="M-3.0,10.1 C-0.2,-0.4 8.4,9.3 13.8,10.0 C19.2,10.7 24.0,13.1 29.2,14.0 C34.4,14.9 40.0,14.0 44.7,15.3 C49.4,16.6 53.3,18.7 57.6,21.7 C61.9,24.7 66.2,29.6 70.5,33.3 C74.8,36.9 79.5,41.0 83.4,43.6 C87.3,46.2 90.9,48.4 93.7,48.8 C96.5,49.2 97.9,47.3 100.0,46.0 C102.1,44.7 102.8,42.7 106.5,41.0 C110.2,39.3 117.2,37.0 122.0,35.9 C126.8,34.8 132.8,28.4 135.0,34.6 C137.2,40.8 158.0,66.8 135.0,73.3 C112.0,79.8 20.0,83.8 -3.0,73.3 C-26.0,62.8 -5.8,20.6 -3.0,10.1Z" fill="#9a7890" opacity="1"/>
<path d="M-3.0,12.1 C-0.2,1.9 8.4,11.3 13.8,12.0 C19.2,12.7 24.0,15.1 29.2,16.0 C34.4,16.9 40.0,16.0 44.7,17.3 C49.4,18.6 53.3,20.7 57.6,23.7 C61.9,26.7 66.2,31.6 70.5,35.3 C74.8,38.9 79.5,43.0 83.4,45.6 C87.3,48.2 90.9,50.4 93.7,50.8 C96.5,51.2 97.9,49.3 100.0,48.0 C102.1,46.7 102.8,44.7 106.5,43.0 C110.2,41.3 117.2,39.0 122.0,37.9 C126.8,36.8 132.8,30.7 135.0,36.6 C137.2,42.5 158.0,67.2 135.0,73.3 C112.0,79.4 20.0,83.5 -3.0,73.3 C-26.0,63.1 -5.8,22.3 -3.0,12.1Z" fill="#b67c72" opacity="1"/>
<path d="M-3.0,19.1 C-0.2,10.1 8.4,18.4 13.8,19.0 C19.2,19.6 24.0,22.1 29.2,23.0 C34.4,23.9 40.0,23.0 44.7,24.3 C49.4,25.6 53.3,27.7 57.6,30.7 C61.9,33.7 66.2,38.6 70.5,42.3 C74.8,45.9 79.5,50.0 83.4,52.6 C87.3,55.2 90.9,57.4 93.7,57.8 C96.5,58.2 97.9,56.3 100.0,55.0 C102.1,53.7 102.8,51.7 106.5,50.0 C110.2,48.3 117.2,46.0 122.0,44.9 C126.8,43.8 132.8,38.9 135.0,43.6 C137.2,48.3 158.0,68.3 135.0,73.3 C112.0,78.2 20.0,82.3 -3.0,73.3 C-26.0,64.3 -5.8,28.1 -3.0,19.1Z" fill="#a48896" opacity="1"/>
<path d="M-3.0,32.0 C1.5,26.0 16.1,35.7 24.0,37.2 C31.9,38.7 38.2,38.9 44.7,41.0 C51.2,43.1 57.6,46.8 62.7,50.0 C67.8,53.2 70.4,57.8 75.6,60.4 C80.8,63.0 89.6,63.4 93.7,65.5 C97.8,67.6 93.1,71.8 100.0,73.0 C106.9,74.2 129.2,73.0 135.0,73.0 C140.8,73.0 158.0,73.2 135.0,73.3 C112.0,73.3 20.0,80.2 -3.0,73.3 C-26.0,66.4 -7.5,38.0 -3.0,32.0Z" fill="#f3e6e5" opacity="1"/>
<ellipse cx="2.0" cy="15.8" rx="1.4" ry="1.0" transform="rotate(162 2.0 15.8)" fill="#5b5791" opacity="1"/>
<ellipse cx="93.0" cy="57.1" rx="1.2" ry="0.8" transform="rotate(112 93.0 57.1)" fill="#5b5791" opacity="1"/>
<ellipse cx="32.8" cy="35.1" rx="1.3" ry="0.9" transform="rotate(64 32.8 35.1)" fill="#4f4b85" opacity="1"/>
<ellipse cx="8.6" cy="16.1" rx="1.3" ry="0.9" transform="rotate(102 8.6 16.1)" fill="#514d87" opacity="1"/>
<ellipse cx="112.8" cy="68.6" rx="1.4" ry="0.7" transform="rotate(35 112.8 68.6)" fill="#4b4781" opacity="1"/>
<ellipse cx="56.2" cy="36.1" rx="1.0" ry="1.0" transform="rotate(51 56.2 36.1)" fill="#45417b" opacity="1"/>
<ellipse cx="129.8" cy="68.4" rx="1.3" ry="0.8" transform="rotate(74 129.8 68.4)" fill="#49457f" opacity="1"/>
<ellipse cx="56.5" cy="39.2" rx="1.3" ry="1.1" transform="rotate(5 56.5 39.2)" fill="#4c4882" opacity="1"/>
<ellipse cx="19.2" cy="24.2" rx="1.7" ry="0.9" transform="rotate(135 19.2 24.2)" fill="#55518b" opacity="1"/>
<ellipse cx="50.5" cy="40.5" rx="1.5" ry="1.0" transform="rotate(152 50.5 40.5)" fill="#57538d" opacity="1"/>
<ellipse cx="40.6" cy="33.2" rx="1.3" ry="0.7" transform="rotate(49 40.6 33.2)" fill="#55518b" opacity="1"/>
<ellipse cx="95.5" cy="57.6" rx="1.6" ry="0.7" transform="rotate(159 95.5 57.6)" fill="#433f79" opacity="1"/>
<ellipse cx="69.4" cy="41.7" rx="1.7" ry="0.8" transform="rotate(118 69.4 41.7)" fill="#4e4a84" opacity="1"/>
<ellipse cx="93.1" cy="60.2" rx="1.0" ry="0.7" transform="rotate(9 93.1 60.2)" fill="#59558f" opacity="1"/>
<ellipse cx="5.2" cy="30.6" rx="1.5" ry="1.0" transform="rotate(15 5.2 30.6)" fill="#514d87" opacity="1"/>
<ellipse cx="123.9" cy="62.6" rx="1.4" ry="1.1" transform="rotate(94 123.9 62.6)" fill="#5a5690" opacity="1"/>
<ellipse cx="79.6" cy="48.9" rx="1.5" ry="1.1" transform="rotate(90 79.6 48.9)" fill="#534f89" opacity="1"/>
<ellipse cx="61.4" cy="32.1" rx="1.3" ry="1.1" transform="rotate(7 61.4 32.1)" fill="#54508a" opacity="1"/>
<ellipse cx="65.1" cy="38.7" rx="1.7" ry="1.1" transform="rotate(18 65.1 38.7)" fill="#46427c" opacity="1"/>
<ellipse cx="42.9" cy="28.3" rx="1.7" ry="0.8" transform="rotate(168 42.9 28.3)" fill="#44407a" opacity="1"/>
<ellipse cx="48.0" cy="22.1" rx="1.2" ry="0.9" transform="rotate(113 48.0 22.1)" fill="#4c4882" opacity="1"/>
<ellipse cx="106.8" cy="57.1" rx="1.2" ry="0.8" transform="rotate(160 106.8 57.1)" fill="#59558f" opacity="1"/>
<ellipse cx="75.1" cy="58.0" rx="1.1" ry="0.9" transform="rotate(56 75.1 58.0)" fill="#504c86" opacity="1"/>
<ellipse cx="51.9" cy="31.0" rx="1.2" ry="1.0" transform="rotate(20 51.9 31.0)" fill="#56528c" opacity="1"/>
<ellipse cx="92.7" cy="58.1" rx="1.5" ry="0.8" transform="rotate(112 92.7 58.1)" fill="#4b4781" opacity="1"/>
<ellipse cx="46.9" cy="26.0" rx="1.1" ry="1.0" transform="rotate(154 46.9 26.0)" fill="#5b5791" opacity="1"/>
<ellipse cx="121.5" cy="45.2" rx="1.1" ry="0.8" transform="rotate(73 121.5 45.2)" fill="#514d87" opacity="1"/>
<ellipse cx="32.6" cy="34.9" rx="1.6" ry="1.0" transform="rotate(26 32.6 34.9)" fill="#524e88" opacity="1"/>
<ellipse cx="54.0" cy="25.0" rx="1.2" ry="0.7" transform="rotate(5 54.0 25.0)" fill="#4d4983" opacity="1"/>
<ellipse cx="44.1" cy="22.1" rx="1.4" ry="0.7" transform="rotate(166 44.1 22.1)" fill="#534f89" opacity="1"/>
<ellipse cx="92.6" cy="57.4" rx="1.1" ry="1.0" transform="rotate(125 92.6 57.4)" fill="#4f4b85" opacity="1"/>
<ellipse cx="117.0" cy="71.3" rx="1.5" ry="1.0" transform="rotate(128 117.0 71.3)" fill="#59558f" opacity="1"/>
<ellipse cx="55.6" cy="38.9" rx="1.3" ry="1.0" transform="rotate(82 55.6 38.9)" fill="#4e4a84" opacity="1"/>
<ellipse cx="52.9" cy="24.7" rx="1.0" ry="1.1" transform="rotate(156 52.9 24.7)" fill="#47437d" opacity="1"/>
<ellipse cx="62.4" cy="32.9" rx="1.2" ry="1.0" transform="rotate(45 62.4 32.9)" fill="#55518b" opacity="1"/>
<ellipse cx="60.8" cy="46.1" rx="1.5" ry="0.7" transform="rotate(158 60.8 46.1)" fill="#4e4a84" opacity="1"/>
<ellipse cx="107.4" cy="56.7" rx="1.3" ry="1.0" transform="rotate(163 107.4 56.7)" fill="#55518b" opacity="1"/>
<ellipse cx="130.1" cy="63.3" rx="1.8" ry="1.1" transform="rotate(12 130.1 63.3)" fill="#58548e" opacity="1"/>
<ellipse cx="100.1" cy="68.7" rx="1.0" ry="0.8" transform="rotate(178 100.1 68.7)" fill="#5b5791" opacity="1"/>
<ellipse cx="43.3" cy="36.2" rx="1.6" ry="1.1" transform="rotate(47 43.3 36.2)" fill="#4a4680" opacity="1"/>
<ellipse cx="131.9" cy="51.8" rx="1.1" ry="0.8" transform="rotate(14 131.9 51.8)" fill="#4c4882" opacity="1"/>
<ellipse cx="8.7" cy="23.8" rx="1.5" ry="1.0" transform="rotate(71 8.7 23.8)" fill="#58548e" opacity="1"/>
<ellipse cx="52.3" cy="31.6" rx="1.4" ry="1.0" transform="rotate(21 52.3 31.6)" fill="#5b5791" opacity="1"/>
<ellipse cx="6.9" cy="31.8" rx="1.2" ry="1.1" transform="rotate(87 6.9 31.8)" fill="#4d4983" opacity="1"/>
<ellipse cx="126.4" cy="55.6" rx="1.5" ry="0.7" transform="rotate(63 126.4 55.6)" fill="#413d77" opacity="1"/>
<ellipse cx="124.2" cy="70.0" rx="1.8" ry="0.7" transform="rotate(164 124.2 70.0)" fill="#5b5791" opacity="1"/>
<ellipse cx="24.1" cy="24.1" rx="1.6" ry="0.9" transform="rotate(145 24.1 24.1)" fill="#5a5690" opacity="1"/>
<ellipse cx="98.6" cy="63.9" rx="1.4" ry="1.1" transform="rotate(179 98.6 63.9)" fill="#4e4a84" opacity="1"/>
<ellipse cx="115.5" cy="63.9" rx="1.7" ry="0.8" transform="rotate(84 115.5 63.9)" fill="#413d77" opacity="1"/>
<ellipse cx="64.0" cy="49.8" rx="1.0" ry="0.7" transform="rotate(140 64.0 49.8)" fill="#4c4882" opacity="1"/>
<ellipse cx="68.9" cy="53.9" rx="1.6" ry="0.7" transform="rotate(108 68.9 53.9)" fill="#4b4781" opacity="1"/>
<ellipse cx="80.4" cy="57.2" rx="1.4" ry="1.0" transform="rotate(73 80.4 57.2)" fill="#4e4a84" opacity="1"/>
<ellipse cx="25.8" cy="20.9" rx="1.0" ry="0.8" transform="rotate(80 25.8 20.9)" fill="#423e78" opacity="1"/>
<ellipse cx="119.0" cy="49.1" rx="1.2" ry="1.0" transform="rotate(37 119.0 49.1)" fill="#524e88" opacity="1"/>
<ellipse cx="108.7" cy="62.1" rx="1.6" ry="0.9" transform="rotate(174 108.7 62.1)" fill="#413d77" opacity="1"/>
<ellipse cx="6.5" cy="32.5" rx="1.2" ry="0.9" transform="rotate(116 6.5 32.5)" fill="#59558f" opacity="1"/>
<ellipse cx="38.3" cy="22.9" rx="1.3" ry="1.0" transform="rotate(114 38.3 22.9)" fill="#514d87" opacity="1"/>
<ellipse cx="133.7" cy="48.0" rx="1.4" ry="1.0" transform="rotate(69 133.7 48.0)" fill="#46427c" opacity="1"/>
<ellipse cx="66.5" cy="45.4" rx="1.2" ry="1.0" transform="rotate(66 66.5 45.4)" fill="#534f89" opacity="1"/>
<ellipse cx="41.1" cy="26.2" rx="1.3" ry="1.0" transform="rotate(70 41.1 26.2)" fill="#5a5690" opacity="1"/>
<ellipse cx="36.0" cy="20.7" rx="1.4" ry="0.9" transform="rotate(131 36.0 20.7)" fill="#44407a" opacity="1"/>
<ellipse cx="73.4" cy="53.6" rx="1.1" ry="0.8" transform="rotate(156 73.4 53.6)" fill="#5b5791" opacity="1"/>
<ellipse cx="104.5" cy="57.7" rx="1.7" ry="1.0" transform="rotate(151 104.5 57.7)" fill="#524e88" opacity="1"/>
<ellipse cx="131.2" cy="58.1" rx="1.6" ry="1.1" transform="rotate(171 131.2 58.1)" fill="#514d87" opacity="1"/>
<ellipse cx="122.0" cy="45.3" rx="1.4" ry="1.0" transform="rotate(148 122.0 45.3)" fill="#5b5791" opacity="1"/>
<ellipse cx="129.4" cy="59.1" rx="1.1" ry="0.8" transform="rotate(146 129.4 59.1)" fill="#4e4a84" opacity="1"/>
<ellipse cx="16.3" cy="16.9" rx="1.3" ry="0.8" transform="rotate(161 16.3 16.9)" fill="#49457f" opacity="1"/>
<ellipse cx="5.7" cy="24.7" rx="1.6" ry="1.1" transform="rotate(66 5.7 24.7)" fill="#5a5690" opacity="1"/>
<ellipse cx="82.7" cy="51.2" rx="1.1" ry="1.0" transform="rotate(79 82.7 51.2)" fill="#44407a" opacity="1"/>
<ellipse cx="16.3" cy="28.1" rx="1.4" ry="0.7" transform="rotate(35 16.3 28.1)" fill="#55518b" opacity="1"/>
<ellipse cx="105.0" cy="62.5" rx="1.5" ry="0.9" transform="rotate(32 105.0 62.5)" fill="#56528c" opacity="1"/>
<ellipse cx="108.5" cy="48.9" rx="1.4" ry="0.7" transform="rotate(7 108.5 48.9)" fill="#49457f" opacity="1"/>
<ellipse cx="121.4" cy="68.9" rx="1.2" ry="0.9" transform="rotate(153 121.4 68.9)" fill="#524e88" opacity="1"/>
<ellipse cx="20.4" cy="18.4" rx="1.0" ry="1.1" transform="rotate(131 20.4 18.4)" fill="#4c4882" opacity="1"/>
<ellipse cx="5.3" cy="27.7" rx="1.2" ry="0.9" transform="rotate(152 5.3 27.7)" fill="#534f89" opacity="1"/>
<ellipse cx="122.5" cy="42.9" rx="1.0" ry="0.7" transform="rotate(32 122.5 42.9)" fill="#504c86" opacity="1"/>
<ellipse cx="113.2" cy="56.7" rx="1.5" ry="1.1" transform="rotate(136 113.2 56.7)" fill="#45417b" opacity="1"/>
<ellipse cx="101.2" cy="53.1" rx="1.1" ry="0.7" transform="rotate(115 101.2 53.1)" fill="#56528c" opacity="1"/>
<ellipse cx="120.0" cy="48.2" rx="1.2" ry="1.0" transform="rotate(114 120.0 48.2)" fill="#534f89" opacity="1"/>
<ellipse cx="51.4" cy="32.0" rx="1.3" ry="1.0" transform="rotate(113 51.4 32.0)" fill="#4a4680" opacity="1"/>
<ellipse cx="22.7" cy="35.2" rx="1.4" ry="0.7" transform="rotate(32 22.7 35.2)" fill="#58548e" opacity="1"/>
<ellipse cx="44.5" cy="38.5" rx="1.1" ry="0.9" transform="rotate(29 44.5 38.5)" fill="#413d77" opacity="1"/>
<ellipse cx="69.4" cy="42.5" rx="1.5" ry="0.9" transform="rotate(42 69.4 42.5)" fill="#58548e" opacity="1"/>
<ellipse cx="119.0" cy="55.8" rx="1.7" ry="0.9" transform="rotate(40 119.0 55.8)" fill="#58548e" opacity="1"/>
<ellipse cx="38.1" cy="24.9" rx="1.3" ry="1.1" transform="rotate(79 38.1 24.9)" fill="#4e4a84" opacity="1"/>
<ellipse cx="44.5" cy="30.8" rx="1.5" ry="0.7" transform="rotate(33 44.5 30.8)" fill="#413d77" opacity="1"/>
<ellipse cx="129.9" cy="60.0" rx="1.7" ry="1.0" transform="rotate(46 129.9 60.0)" fill="#4a4680" opacity="1"/>
<ellipse cx="116.4" cy="51.6" rx="1.8" ry="1.0" transform="rotate(81 116.4 51.6)" fill="#4d4983" opacity="1"/>
<ellipse cx="23.0" cy="19.9" rx="1.1" ry="1.0" transform="rotate(118 23.0 19.9)" fill="#58548e" opacity="1"/>
<ellipse cx="0.5" cy="24.6" rx="1.6" ry="0.8" transform="rotate(140 0.5 24.6)" fill="#423e78" opacity="1"/>
<ellipse cx="34.8" cy="24.4" rx="1.2" ry="0.8" transform="rotate(50 34.8 24.4)" fill="#504c86" opacity="1"/>
<ellipse cx="130.8" cy="61.5" rx="1.7" ry="0.7" transform="rotate(56 130.8 61.5)" fill="#4e4a84" opacity="1"/>
<ellipse cx="101.8" cy="69.8" rx="1.1" ry="1.0" transform="rotate(87 101.8 69.8)" fill="#524e88" opacity="1"/>
<ellipse cx="128.6" cy="42.6" rx="1.1" ry="1.1" transform="rotate(65 128.6 42.6)" fill="#46427c" opacity="1"/>
<ellipse cx="109.3" cy="65.4" rx="1.1" ry="1.0" transform="rotate(49 109.3 65.4)" fill="#55518b" opacity="1"/>
<ellipse cx="20.5" cy="27.1" rx="1.1" ry="0.8" transform="rotate(168 20.5 27.1)" fill="#534f89" opacity="1"/>
<ellipse cx="4.4" cy="30.3" rx="1.6" ry="1.0" transform="rotate(135 4.4 30.3)" fill="#46427c" opacity="1"/>
<ellipse cx="102.7" cy="57.6" rx="1.1" ry="0.8" transform="rotate(96 102.7 57.6)" fill="#5a5690" opacity="1"/>
<ellipse cx="56.1" cy="32.1" rx="1.8" ry="1.1" transform="rotate(15 56.1 32.1)" fill="#58548e" opacity="1"/>
<ellipse cx="57.3" cy="33.1" rx="1.2" ry="0.8" transform="rotate(2 57.3 33.1)" fill="#413d77" opacity="1"/>
<ellipse cx="33.1" cy="22.7" rx="1.4" ry="0.8" transform="rotate(76 33.1 22.7)" fill="#48447e" opacity="1"/>
<ellipse cx="46.4" cy="32.1" rx="1.3" ry="0.8" transform="rotate(34 46.4 32.1)" fill="#4a4680" opacity="1"/>
<ellipse cx="45.9" cy="22.9" rx="1.5" ry="0.8" transform="rotate(85 45.9 22.9)" fill="#54508a" opacity="1"/>
<ellipse cx="123.0" cy="66.2" rx="1.0" ry="1.0" transform="rotate(119 123.0 66.2)" fill="#57538d" opacity="1"/>
<ellipse cx="124.8" cy="46.0" rx="1.7" ry="1.1" transform="rotate(37 124.8 46.0)" fill="#423e78" opacity="1"/>
<ellipse cx="44.6" cy="29.4" rx="1.1" ry="0.8" transform="rotate(113 44.6 29.4)" fill="#46427c" opacity="1"/>
<ellipse cx="82.9" cy="56.4" rx="1.1" ry="0.8" transform="rotate(61 82.9 56.4)" fill="#4c4882" opacity="1"/>
<ellipse cx="74.7" cy="46.9" rx="1.5" ry="0.9" transform="rotate(82 74.7 46.9)" fill="#4d4983" opacity="1"/>
<ellipse cx="129.6" cy="48.0" rx="1.1" ry="1.1" transform="rotate(170 129.6 48.0)" fill="#504c86" opacity="1"/>
<ellipse cx="1.7" cy="22.4" rx="1.1" ry="1.0" transform="rotate(34 1.7 22.4)" fill="#5a5690" opacity="1"/>
<ellipse cx="37.9" cy="29.6" rx="1.8" ry="0.9" transform="rotate(35 37.9 29.6)" fill="#524e88" opacity="1"/>
<ellipse cx="20.5" cy="25.0" rx="1.1" ry="1.0" transform="rotate(46 20.5 25.0)" fill="#423e78" opacity="1"/>
<ellipse cx="39.1" cy="37.6" rx="1.6" ry="1.0" transform="rotate(101 39.1 37.6)" fill="#4e4a84" opacity="1"/>
<ellipse cx="73.1" cy="40.9" rx="1.2" ry="0.7" transform="rotate(58 73.1 40.9)" fill="#524e88" opacity="1"/>
<ellipse cx="3.3" cy="24.2" rx="1.4" ry="1.0" transform="rotate(66 3.3 24.2)" fill="#4b4781" opacity="1"/>
<ellipse cx="21.2" cy="19.5" rx="1.4" ry="1.0" transform="rotate(35 21.2 19.5)" fill="#54508a" opacity="1"/>
<ellipse cx="110.4" cy="68.7" rx="1.1" ry="1.1" transform="rotate(9 110.4 68.7)" fill="#4e4a84" opacity="1"/>
<ellipse cx="7.1" cy="25.8" rx="1.6" ry="0.8" transform="rotate(83 7.1 25.8)" fill="#57538d" opacity="1"/>
<ellipse cx="64.8" cy="42.5" rx="1.7" ry="0.9" transform="rotate(87 64.8 42.5)" fill="#4b4781" opacity="1"/>
<ellipse cx="93.8" cy="62.8" rx="1.3" ry="1.0" transform="rotate(87 93.8 62.8)" fill="#403c76" opacity="1"/>
<ellipse cx="117.2" cy="67.7" rx="1.8" ry="0.9" transform="rotate(108 117.2 67.7)" fill="#57538d" opacity="1"/>
<ellipse cx="23.7" cy="19.0" rx="1.3" ry="0.9" transform="rotate(57 23.7 19.0)" fill="#433f79" opacity="1"/>
<ellipse cx="67.4" cy="45.4" rx="1.7" ry="1.1" transform="rotate(173 67.4 45.4)" fill="#413d77" opacity="1"/>
<ellipse cx="126.0" cy="68.5" rx="1.3" ry="0.8" transform="rotate(86 126.0 68.5)" fill="#514d87" opacity="1"/>
<ellipse cx="2.0" cy="18.7" rx="1.2" ry="0.9" transform="rotate(48 2.0 18.7)" fill="#514d87" opacity="1"/>
<ellipse cx="80.2" cy="61.1" rx="1.2" ry="0.8" transform="rotate(118 80.2 61.1)" fill="#423e78" opacity="1"/>
<ellipse cx="54.0" cy="37.1" rx="1.1" ry="1.1" transform="rotate(162 54.0 37.1)" fill="#413d77" opacity="1"/>
<ellipse cx="129.8" cy="46.7" rx="1.3" ry="0.9" transform="rotate(25 129.8 46.7)" fill="#4f4b85" opacity="1"/>
<ellipse cx="70.3" cy="54.6" rx="1.3" ry="0.7" transform="rotate(140 70.3 54.6)" fill="#4d4983" opacity="1"/>
<ellipse cx="80.3" cy="59.1" rx="1.3" ry="1.1" transform="rotate(137 80.3 59.1)" fill="#57538d" opacity="1"/>
<ellipse cx="62.2" cy="36.5" rx="1.1" ry="1.0" transform="rotate(156 62.2 36.5)" fill="#504c86" opacity="1"/>
<ellipse cx="125.0" cy="58.3" rx="1.1" ry="1.0" transform="rotate(114 125.0 58.3)" fill="#56528c" opacity="1"/>
<ellipse cx="20.0" cy="23.5" rx="1.4" ry="0.9" transform="rotate(70 20.0 23.5)" fill="#5a5690" opacity="1"/>
<ellipse cx="55.4" cy="36.5" rx="1.3" ry="0.8" transform="rotate(149 55.4 36.5)" fill="#56528c" opacity="1"/>
<ellipse cx="5.9" cy="23.0" rx="1.3" ry="0.9" transform="rotate(31 5.9 23.0)" fill="#4d4983" opacity="1"/>
<ellipse cx="124.2" cy="52.5" rx="1.6" ry="0.8" transform="rotate(106 124.2 52.5)" fill="#403c76" opacity="1"/>
<ellipse cx="123.4" cy="50.1" rx="1.8" ry="1.0" transform="rotate(174 123.4 50.1)" fill="#58548e" opacity="1"/>
<ellipse cx="54.1" cy="25.4" rx="1.6" ry="0.8" transform="rotate(18 54.1 25.4)" fill="#4e4a84" opacity="1"/>
<ellipse cx="116.5" cy="59.7" rx="1.7" ry="1.1" transform="rotate(160 116.5 59.7)" fill="#433f79" opacity="1"/>
<ellipse cx="51.3" cy="31.9" rx="1.5" ry="0.9" transform="rotate(63 51.3 31.9)" fill="#514d87" opacity="1"/>
<ellipse cx="120.1" cy="60.6" rx="1.1" ry="1.0" transform="rotate(81 120.1 60.6)" fill="#534f89" opacity="1"/>
<ellipse cx="125.6" cy="60.2" rx="1.1" ry="0.8" transform="rotate(9 125.6 60.2)" fill="#534f89" opacity="1"/>
<ellipse cx="112.1" cy="47.5" rx="1.0" ry="0.8" transform="rotate(148 112.1 47.5)" fill="#4f4b85" opacity="1"/>
<ellipse cx="11.4" cy="31.7" rx="1.8" ry="1.1" transform="rotate(15 11.4 31.7)" fill="#514d87" opacity="1"/>
<ellipse cx="46.9" cy="40.3" rx="1.6" ry="0.8" transform="rotate(60 46.9 40.3)" fill="#413d77" opacity="1"/>
<ellipse cx="7.5" cy="16.2" rx="1.5" ry="0.9" transform="rotate(104 7.5 16.2)" fill="#4c4882" opacity="1"/>
<ellipse cx="37.3" cy="20.6" rx="1.6" ry="1.0" transform="rotate(81 37.3 20.6)" fill="#4e4a84" opacity="1"/>
<ellipse cx="36.6" cy="35.1" rx="1.6" ry="1.0" transform="rotate(17 36.6 35.1)" fill="#5b5791" opacity="1"/>
<ellipse cx="108.7" cy="68.0" rx="1.5" ry="1.0" transform="rotate(163 108.7 68.0)" fill="#58548e" opacity="1"/>
<ellipse cx="13.5" cy="17.1" rx="1.1" ry="0.8" transform="rotate(11 13.5 17.1)" fill="#4f4b85" opacity="1"/>
<ellipse cx="18.7" cy="29.8" rx="1.8" ry="1.0" transform="rotate(129 18.7 29.8)" fill="#59558f" opacity="1"/>
<ellipse cx="117.5" cy="50.0" rx="1.6" ry="0.8" transform="rotate(117 117.5 50.0)" fill="#514d87" opacity="1"/>
<ellipse cx="78.4" cy="54.6" rx="1.2" ry="0.8" transform="rotate(61 78.4 54.6)" fill="#5a5690" opacity="1"/>
<ellipse cx="103.8" cy="55.0" rx="1.1" ry="0.8" transform="rotate(179 103.8 55.0)" fill="#5a5690" opacity="1"/>
<ellipse cx="27.1" cy="32.8" rx="1.6" ry="1.0" transform="rotate(142 27.1 32.8)" fill="#403c76" opacity="1"/>
<ellipse cx="64.7" cy="41.3" rx="1.4" ry="1.1" transform="rotate(48 64.7 41.3)" fill="#4f4b85" opacity="1"/>
<ellipse cx="118.8" cy="54.0" rx="1.8" ry="0.8" transform="rotate(36 118.8 54.0)" fill="#403c76" opacity="1"/>
<ellipse cx="130.8" cy="68.1" rx="1.6" ry="0.9" transform="rotate(61 130.8 68.1)" fill="#57538d" opacity="1"/>
<ellipse cx="64.8" cy="40.1" rx="1.0" ry="0.8" transform="rotate(26 64.8 40.1)" fill="#54508a" opacity="1"/>
<ellipse cx="33.3" cy="34.9" rx="1.0" ry="1.0" transform="rotate(169 33.3 34.9)" fill="#57538d" opacity="1"/>
<ellipse cx="126.1" cy="62.1" rx="1.1" ry="0.8" transform="rotate(36 126.1 62.1)" fill="#5b5791" opacity="1"/>
<ellipse cx="61.1" cy="33.7" rx="1.4" ry="1.1" transform="rotate(109 61.1 33.7)" fill="#403c76" opacity="1"/>
<ellipse cx="59.5" cy="45.0" rx="1.1" ry="0.8" transform="rotate(131 59.5 45.0)" fill="#4d4983" opacity="1"/>
<ellipse cx="117.9" cy="66.3" rx="1.1" ry="1.1" transform="rotate(69 117.9 66.3)" fill="#4c4882" opacity="1"/>
<ellipse cx="118.2" cy="62.9" rx="1.2" ry="1.0" transform="rotate(24 118.2 62.9)" fill="#56528c" opacity="1"/>
<ellipse cx="92.7" cy="65.2" rx="1.6" ry="1.1" transform="rotate(43 92.7 65.2)" fill="#55518b" opacity="1"/>
<ellipse cx="44.8" cy="21.5" rx="1.4" ry="1.1" transform="rotate(85 44.8 21.5)" fill="#57538d" opacity="1"/>
<ellipse cx="25.5" cy="22.5" rx="1.4" ry="0.8" transform="rotate(137 25.5 22.5)" fill="#44407a" opacity="1"/>
<ellipse cx="126.6" cy="62.5" rx="1.1" ry="0.7" transform="rotate(23 126.6 62.5)" fill="#49457f" opacity="1"/>
<ellipse cx="68.2" cy="41.3" rx="1.6" ry="1.1" transform="rotate(20 68.2 41.3)" fill="#4c4882" opacity="1"/>
<ellipse cx="47.6" cy="66.5" rx="2.1" ry="0.9" transform="rotate(71 47.6 66.5)" fill="#6c6c9a" opacity="1"/>
<ellipse cx="93.3" cy="68.4" rx="1.5" ry="0.7" transform="rotate(167 93.3 68.4)" fill="#6e6e9c" opacity="1"/>
<ellipse cx="7.1" cy="48.8" rx="2.0" ry="1.1" transform="rotate(162 7.1 48.8)" fill="#6d6d9b" opacity="1"/>
<ellipse cx="21.7" cy="54.2" rx="1.5" ry="0.9" transform="rotate(157 21.7 54.2)" fill="#71719f" opacity="1"/>
<ellipse cx="72.1" cy="66.1" rx="2.2" ry="0.8" transform="rotate(18 72.1 66.1)" fill="#676795" opacity="1"/>
<ellipse cx="13.0" cy="43.8" rx="1.3" ry="0.7" transform="rotate(153 13.0 43.8)" fill="#626290" opacity="1"/>
<ellipse cx="85.0" cy="71.0" rx="1.3" ry="1.1" transform="rotate(114 85.0 71.0)" fill="#646492" opacity="1"/>
<ellipse cx="61.4" cy="69.3" rx="2.0" ry="0.8" transform="rotate(39 61.4 69.3)" fill="#636391" opacity="1"/>
</g></g>
<text x="2.0" y="63.0" font-size="6.6" font-weight="bold" fill="#111" stroke="#111" stroke-width="0.25">50 µm</text>
<rect x="0.2" y="65.1" width="24" height="1.4" fill="#111"/>
<rect x="0" y="0" width="131.8" height="70.3" fill="none" stroke="#6e6e6e" stroke-width="1"/>
</g>
<rect x="347.8" y="356.7" width="23.1" height="35.8" fill="none" stroke="#111" stroke-width="1"/>
<g transform="translate(373.5,326.5)"><g clip-path="url(#clip9)"><g filter="url(#blur9)">
<rect x="-2" y="-2" width="46.1" height="74.3" fill="#f6eef0"/>
<path d="M-3.0,25.0 C-1.2,15.8 4.8,20.0 8.0,18.0 C11.2,16.0 13.0,14.6 16.0,13.0 C19.0,11.4 23.0,9.7 26.0,8.5 C29.0,7.3 30.8,6.7 34.0,6.0 C37.2,5.3 43.2,-6.7 45.0,4.5 C46.8,15.7 53.0,61.8 45.0,73.3 C37.0,84.8 5.0,81.3 -3.0,73.3 C-11.0,65.2 -4.8,34.2 -3.0,25.0Z" fill="#b4aad0" opacity="1"/>
<path d="M-3.0,27.0 C-1.2,18.1 4.8,22.0 8.0,20.0 C11.2,18.0 13.0,16.6 16.0,15.0 C19.0,13.4 23.0,11.7 26.0,10.5 C29.0,9.3 30.8,8.7 34.0,8.0 C37.2,7.3 43.2,-4.4 45.0,6.5 C46.8,17.4 53.0,62.2 45.0,73.3 C37.0,84.4 5.0,81.0 -3.0,73.3 C-11.0,65.6 -4.8,35.9 -3.0,27.0Z" fill="#c68c76" opacity="1"/>
<path d="M-3.0,33.0 C-1.2,25.1 4.8,28.0 8.0,26.0 C11.2,24.0 13.0,22.6 16.0,21.0 C19.0,19.4 23.0,17.7 26.0,16.5 C29.0,15.3 30.8,14.7 34.0,14.0 C37.2,13.3 43.2,2.6 45.0,12.5 C46.8,22.4 53.0,63.2 45.0,73.3 C37.0,83.4 5.0,80.0 -3.0,73.3 C-11.0,66.6 -4.8,40.9 -3.0,33.0Z" fill="#bc8476" opacity="1"/>
<path d="M-3.0,52.0 C-1.5,49.2 3.5,54.0 6.0,56.0 C8.5,58.0 10.7,61.2 12.0,64.0 C13.3,66.8 16.5,71.5 14.0,73.0 C11.5,74.5 -0.2,76.5 -3.0,73.0 C-5.8,69.5 -4.5,54.8 -3.0,52.0Z" fill="#c8b4c8" opacity="1"/>
<ellipse cx="28" cy="23" rx="3.6" ry="2.8" transform="rotate(20 28 23)" fill="#5e5c98" opacity="0.9"/><ellipse cx="10" cy="31" rx="3.2" ry="2.6" transform="rotate(60 10 31)" fill="#5e5c98" opacity="0.9"/><ellipse cx="21" cy="34" rx="3.4" ry="2.8" transform="rotate(80 21 34)" fill="#5e5c98" opacity="0.9"/><ellipse cx="34" cy="33" rx="3.4" ry="2.6" transform="rotate(100 34 33)" fill="#5e5c98" opacity="0.9"/><ellipse cx="15" cy="45" rx="3.6" ry="2.8" transform="rotate(70 15 45)" fill="#5e5c98" opacity="0.9"/><ellipse cx="27" cy="48" rx="3.4" ry="2.9" transform="rotate(90 27 48)" fill="#5e5c98" opacity="0.9"/><ellipse cx="38" cy="45" rx="3.0" ry="2.5" transform="rotate(60 38 45)" fill="#5e5c98" opacity="0.9"/><ellipse cx="8" cy="56" rx="3.2" ry="2.6" transform="rotate(80 8 56)" fill="#5e5c98" opacity="0.9"/><ellipse cx="20" cy="60" rx="3.5" ry="2.8" transform="rotate(90 20 60)" fill="#5e5c98" opacity="0.9"/><ellipse cx="32" cy="60" rx="3.4" ry="2.7" transform="rotate(70 32 60)" fill="#5e5c98" opacity="0.9"/><ellipse cx="38" cy="20" rx="3" ry="2.4" transform="rotate(30 38 20)" fill="#5e5c98" opacity="0.9"/>
</g></g>
<text x="2.2" y="63.8" font-size="6.6" font-weight="bold" fill="#111" stroke="#111" stroke-width="0.25">20 µm</text>
<rect x="2.3" y="66.1" width="19" height="1.4" fill="#111"/>
<rect x="0" y="0" width="42.1" height="70.3" fill="none" stroke="#6e6e6e" stroke-width="1"/>
</g>
<g transform="translate(421.9,326.5)"><g clip-path="url(#clip10)"><g filter="url(#blur10)">
<rect x="-2" y="-2" width="100.8" height="74.3" fill="#f4e8ea"/>
<path d="M-3.0,39.0 C-1.2,32.9 4.6,37.5 8.0,36.5 C11.4,35.5 14.1,34.4 17.3,33.0 C20.5,31.6 23.8,29.6 27.0,28.0 C30.2,26.4 33.4,24.7 36.6,23.4 C39.8,22.1 42.8,21.1 46.0,20.0 C49.2,18.9 52.6,17.7 55.8,16.7 C59.0,15.7 61.8,15.0 65.0,14.0 C68.2,13.0 71.7,11.9 75.0,10.9 C78.3,9.9 81.8,8.9 85.0,8.0 C88.2,7.0 91.5,6.0 94.0,5.2 C96.5,4.5 99.0,-7.8 100.0,3.5 C101.0,14.8 117.2,61.7 100.0,73.3 C82.8,84.9 14.2,79.0 -3.0,73.3 C-20.2,67.6 -4.8,45.1 -3.0,39.0Z" fill="#cccde8" opacity="1"/>
<path d="M-3.0,41.0 C-1.2,35.2 4.6,39.5 8.0,38.5 C11.4,37.5 14.1,36.4 17.3,35.0 C20.5,33.6 23.8,31.6 27.0,30.0 C30.2,28.4 33.4,26.7 36.6,25.4 C39.8,24.1 42.8,23.1 46.0,22.0 C49.2,20.9 52.6,19.7 55.8,18.7 C59.0,17.7 61.8,17.0 65.0,16.0 C68.2,15.0 71.7,13.9 75.0,12.9 C78.3,11.9 81.8,10.9 85.0,10.0 C88.2,9.1 91.5,8.0 94.0,7.2 C96.5,6.5 99.0,-5.5 100.0,5.5 C101.0,16.5 117.2,62.0 100.0,73.3 C82.8,84.6 14.2,78.7 -3.0,73.3 C-20.2,67.9 -4.8,46.8 -3.0,41.0Z" fill="#7c88ca" opacity="1"/>
<path d="M-3.0,66.0 C-0.8,63.5 6.2,60.5 10.0,58.0 C13.8,55.5 16.7,53.3 20.0,51.0 C23.3,48.7 26.7,46.0 30.0,44.0 C33.3,42.0 35.8,40.8 40.0,39.0 C44.2,37.2 50.0,34.8 55.0,33.0 C60.0,31.2 65.0,29.8 70.0,28.0 C75.0,26.2 80.0,23.5 85.0,22.0 C90.0,20.5 97.5,10.5 100.0,19.0 C102.5,27.5 117.2,64.2 100.0,73.3 C82.8,82.3 14.2,74.5 -3.0,73.3 C-20.2,72.1 -5.2,68.5 -3.0,66.0Z" fill="#c4c6e5" opacity="1"/>
<path d="M80.0,30.0 C81.0,25.2 84.7,27.0 88.0,26.0 C91.3,25.0 98.0,16.2 100.0,24.0 C102.0,31.8 102.3,64.8 100.0,73.0 C97.7,81.2 89.0,76.0 86.0,73.0 C83.0,70.0 83.0,62.2 82.0,55.0 C81.0,47.8 79.0,34.8 80.0,30.0Z" fill="#a8aede" opacity="0.8"/>
<ellipse cx="88.2" cy="20.3" rx="0.8" ry="1.0" transform="rotate(80 88.2 20.3)" fill="#3949a7" opacity="1"/>
<ellipse cx="19.5" cy="46.0" rx="1.5" ry="0.6" transform="rotate(54 19.5 46.0)" fill="#30409e" opacity="1"/>
<ellipse cx="77.6" cy="18.4" rx="1.0" ry="0.7" transform="rotate(90 77.6 18.4)" fill="#2f3f9d" opacity="1"/>
<ellipse cx="33.0" cy="33.7" rx="1.0" ry="0.5" transform="rotate(23 33.0 33.7)" fill="#3545a3" opacity="1"/>
<ellipse cx="3.8" cy="45.1" rx="1.0" ry="0.8" transform="rotate(126 3.8 45.1)" fill="#3242a0" opacity="1"/>
<ellipse cx="17.5" cy="44.9" rx="0.9" ry="0.9" transform="rotate(94 17.5 44.9)" fill="#4151af" opacity="1"/>
<ellipse cx="58.5" cy="30.0" rx="1.0" ry="0.9" transform="rotate(146 58.5 30.0)" fill="#3747a5" opacity="1"/>
<ellipse cx="-2.0" cy="49.5" rx="1.3" ry="0.7" transform="rotate(131 -2.0 49.5)" fill="#283896" opacity="1"/>
<ellipse cx="29.8" cy="34.8" rx="1.1" ry="0.6" transform="rotate(147 29.8 34.8)" fill="#3848a6" opacity="1"/>
<ellipse cx="72.5" cy="22.5" rx="1.1" ry="1.0" transform="rotate(89 72.5 22.5)" fill="#3f4fad" opacity="1"/>
<ellipse cx="54.5" cy="20.8" rx="1.5" ry="0.5" transform="rotate(100 54.5 20.8)" fill="#4353b1" opacity="1"/>
<ellipse cx="56.8" cy="23.2" rx="1.4" ry="0.7" transform="rotate(91 56.8 23.2)" fill="#3f4fad" opacity="1"/>
<ellipse cx="5.6" cy="42.9" rx="1.0" ry="0.7" transform="rotate(145 5.6 42.9)" fill="#4050ae" opacity="1"/>
<ellipse cx="-0.0" cy="61.4" rx="1.3" ry="0.6" transform="rotate(125 -0.0 61.4)" fill="#3646a4" opacity="1"/>
<ellipse cx="0.8" cy="60.5" rx="1.2" ry="0.8" transform="rotate(46 0.8 60.5)" fill="#4151af" opacity="1"/>
<ellipse cx="32.7" cy="40.3" rx="0.9" ry="0.6" transform="rotate(85 32.7 40.3)" fill="#2b3b99" opacity="1"/>
<ellipse cx="82.0" cy="17.6" rx="1.3" ry="0.8" transform="rotate(148 82.0 17.6)" fill="#3747a5" opacity="1"/>
<ellipse cx="86.3" cy="12.6" rx="0.9" ry="0.8" transform="rotate(26 86.3 12.6)" fill="#2e3e9c" opacity="1"/>
<ellipse cx="20.0" cy="37.7" rx="0.8" ry="0.7" transform="rotate(162 20.0 37.7)" fill="#4050ae" opacity="1"/>
<ellipse cx="3.3" cy="42.1" rx="1.2" ry="0.5" transform="rotate(93 3.3 42.1)" fill="#31419f" opacity="1"/>
<ellipse cx="25.6" cy="41.0" rx="1.1" ry="0.5" transform="rotate(166 25.6 41.0)" fill="#3a4aa8" opacity="1"/>
<ellipse cx="7.2" cy="50.1" rx="1.1" ry="0.9" transform="rotate(61 7.2 50.1)" fill="#3545a3" opacity="1"/>
<ellipse cx="84.0" cy="13.4" rx="1.3" ry="0.7" transform="rotate(28 84.0 13.4)" fill="#2b3b99" opacity="1"/>
<ellipse cx="63.4" cy="26.9" rx="1.3" ry="0.6" transform="rotate(150 63.4 26.9)" fill="#2e3e9c" opacity="1"/>
<ellipse cx="49.2" cy="31.3" rx="0.9" ry="0.5" transform="rotate(110 49.2 31.3)" fill="#3242a0" opacity="1"/>
<ellipse cx="55.8" cy="23.6" rx="0.9" ry="0.7" transform="rotate(21 55.8 23.6)" fill="#3848a6" opacity="1"/>
<ellipse cx="43.1" cy="33.0" rx="1.1" ry="0.7" transform="rotate(169 43.1 33.0)" fill="#3a4aa8" opacity="1"/>
<ellipse cx="56.3" cy="27.7" rx="1.5" ry="0.7" transform="rotate(155 56.3 27.7)" fill="#3a4aa8" opacity="1"/>
<ellipse cx="10.5" cy="43.8" rx="0.8" ry="0.9" transform="rotate(170 10.5 43.8)" fill="#30409e" opacity="1"/>
<ellipse cx="16.9" cy="50.2" rx="1.0" ry="0.5" transform="rotate(120 16.9 50.2)" fill="#3343a1" opacity="1"/>
<ellipse cx="31.0" cy="30.5" rx="0.9" ry="0.7" transform="rotate(177 31.0 30.5)" fill="#4151af" opacity="1"/>
<ellipse cx="79.0" cy="16.6" rx="1.0" ry="0.7" transform="rotate(10 79.0 16.6)" fill="#2d3d9b" opacity="1"/>
<ellipse cx="1.1" cy="43.5" rx="0.9" ry="0.5" transform="rotate(143 1.1 43.5)" fill="#2e3e9c" opacity="1"/>
<ellipse cx="56.8" cy="20.2" rx="1.5" ry="0.6" transform="rotate(135 56.8 20.2)" fill="#2c3c9a" opacity="1"/>
<ellipse cx="15.8" cy="53.2" rx="1.3" ry="0.6" transform="rotate(64 15.8 53.2)" fill="#3b4ba9" opacity="1"/>
<ellipse cx="12.0" cy="38.5" rx="1.1" ry="0.6" transform="rotate(168 12.0 38.5)" fill="#2a3a98" opacity="1"/>
<ellipse cx="83.4" cy="14.7" rx="1.0" ry="0.5" transform="rotate(165 83.4 14.7)" fill="#3242a0" opacity="1"/>
<ellipse cx="12.8" cy="41.3" rx="1.1" ry="0.5" transform="rotate(137 12.8 41.3)" fill="#3747a5" opacity="1"/>
<ellipse cx="56.5" cy="28.4" rx="1.2" ry="0.7" transform="rotate(26 56.5 28.4)" fill="#283896" opacity="1"/>
<ellipse cx="66.8" cy="24.5" rx="1.5" ry="0.9" transform="rotate(35 66.8 24.5)" fill="#3343a1" opacity="1"/>
<ellipse cx="22.2" cy="38.6" rx="1.5" ry="0.8" transform="rotate(21 22.2 38.6)" fill="#3b4ba9" opacity="1"/>
<ellipse cx="36.6" cy="39.3" rx="0.8" ry="0.6" transform="rotate(68 36.6 39.3)" fill="#2a3a98" opacity="1"/>
<ellipse cx="94.2" cy="9.3" rx="1.2" ry="0.7" transform="rotate(177 94.2 9.3)" fill="#4353b1" opacity="1"/>
<ellipse cx="56.4" cy="22.0" rx="1.1" ry="0.9" transform="rotate(144 56.4 22.0)" fill="#2e3e9c" opacity="1"/>
<ellipse cx="4.1" cy="42.8" rx="1.2" ry="0.9" transform="rotate(84 4.1 42.8)" fill="#3949a7" opacity="1"/>
<ellipse cx="16.8" cy="46.5" rx="1.3" ry="0.5" transform="rotate(143 16.8 46.5)" fill="#3343a1" opacity="1"/>
<ellipse cx="15.3" cy="40.2" rx="1.4" ry="0.7" transform="rotate(170 15.3 40.2)" fill="#2d3d9b" opacity="1"/>
<ellipse cx="77.9" cy="16.6" rx="1.5" ry="1.0" transform="rotate(48 77.9 16.6)" fill="#3c4caa" opacity="1"/>
<ellipse cx="1.3" cy="48.2" rx="0.8" ry="0.8" transform="rotate(85 1.3 48.2)" fill="#2b3b99" opacity="1"/>
<ellipse cx="54.2" cy="23.6" rx="1.4" ry="0.6" transform="rotate(93 54.2 23.6)" fill="#4050ae" opacity="1"/>
<ellipse cx="79.0" cy="20.3" rx="1.3" ry="0.6" transform="rotate(168 79.0 20.3)" fill="#2c3c9a" opacity="1"/>
<ellipse cx="47.0" cy="32.9" rx="1.1" ry="0.5" transform="rotate(134 47.0 32.9)" fill="#3949a7" opacity="1"/>
<ellipse cx="8.5" cy="52.0" rx="1.3" ry="0.5" transform="rotate(65 8.5 52.0)" fill="#4353b1" opacity="1"/>
<ellipse cx="55.0" cy="21.5" rx="1.1" ry="0.6" transform="rotate(81 55.0 21.5)" fill="#3949a7" opacity="1"/>
<ellipse cx="23.9" cy="48.3" rx="1.4" ry="0.9" transform="rotate(85 23.9 48.3)" fill="#293997" opacity="1"/>
<ellipse cx="29.7" cy="32.2" rx="1.4" ry="0.9" transform="rotate(145 29.7 32.2)" fill="#2e3e9c" opacity="1"/>
<ellipse cx="40.8" cy="33.1" rx="1.4" ry="0.7" transform="rotate(43 40.8 33.1)" fill="#4151af" opacity="1"/>
<ellipse cx="95.4" cy="13.2" rx="1.4" ry="0.5" transform="rotate(82 95.4 13.2)" fill="#2c3c9a" opacity="1"/>
<ellipse cx="4.6" cy="43.7" rx="0.9" ry="0.6" transform="rotate(82 4.6 43.7)" fill="#3343a1" opacity="1"/>
<ellipse cx="78.2" cy="16.6" rx="1.3" ry="0.9" transform="rotate(67 78.2 16.6)" fill="#3949a7" opacity="1"/>
<ellipse cx="13.6" cy="55.0" rx="1.4" ry="0.9" transform="rotate(16 13.6 55.0)" fill="#3d4dab" opacity="1"/>
<ellipse cx="29.4" cy="37.0" rx="1.0" ry="0.6" transform="rotate(99 29.4 37.0)" fill="#4151af" opacity="1"/>
<ellipse cx="19.9" cy="42.7" rx="1.4" ry="0.6" transform="rotate(115 19.9 42.7)" fill="#3d4dab" opacity="1"/>
<ellipse cx="14.5" cy="45.5" rx="1.4" ry="0.5" transform="rotate(109 14.5 45.5)" fill="#2a3a98" opacity="1"/>
<ellipse cx="73.2" cy="21.4" rx="0.9" ry="0.5" transform="rotate(5 73.2 21.4)" fill="#4050ae" opacity="1"/>
<ellipse cx="47.0" cy="26.9" rx="1.0" ry="0.8" transform="rotate(74 47.0 26.9)" fill="#3646a4" opacity="1"/>
<ellipse cx="11.2" cy="45.7" rx="0.8" ry="0.9" transform="rotate(129 11.2 45.7)" fill="#3a4aa8" opacity="1"/>
<ellipse cx="41.3" cy="32.2" rx="1.4" ry="0.9" transform="rotate(106 41.3 32.2)" fill="#283896" opacity="1"/>
<ellipse cx="40.1" cy="34.2" rx="0.9" ry="0.6" transform="rotate(150 40.1 34.2)" fill="#3848a6" opacity="1"/>
<ellipse cx="70.5" cy="25.4" rx="1.4" ry="0.9" transform="rotate(127 70.5 25.4)" fill="#3b4ba9" opacity="1"/>
<ellipse cx="68.8" cy="19.2" rx="0.9" ry="1.0" transform="rotate(5 68.8 19.2)" fill="#2f3f9d" opacity="1"/>
<ellipse cx="19.5" cy="41.5" rx="1.5" ry="1.0" transform="rotate(0 19.5 41.5)" fill="#2b3b99" opacity="1"/>
<ellipse cx="37.5" cy="26.6" rx="0.9" ry="1.0" transform="rotate(89 37.5 26.6)" fill="#3d4dab" opacity="1"/>
<ellipse cx="17.0" cy="37.6" rx="1.3" ry="0.9" transform="rotate(54 17.0 37.6)" fill="#31419f" opacity="1"/>
<ellipse cx="63.5" cy="20.6" rx="0.8" ry="0.5" transform="rotate(71 63.5 20.6)" fill="#3e4eac" opacity="1"/>
<ellipse cx="9.4" cy="53.1" rx="0.9" ry="1.0" transform="rotate(139 9.4 53.1)" fill="#2e3e9c" opacity="1"/>
<ellipse cx="25.6" cy="32.4" rx="1.4" ry="0.6" transform="rotate(150 25.6 32.4)" fill="#2c3c9a" opacity="1"/>
<ellipse cx="53.5" cy="26.3" rx="1.0" ry="0.6" transform="rotate(131 53.5 26.3)" fill="#4252b0" opacity="1"/>
<ellipse cx="49.2" cy="32.3" rx="0.9" ry="0.7" transform="rotate(23 49.2 32.3)" fill="#4050ae" opacity="1"/>
<ellipse cx="73.9" cy="23.1" rx="1.3" ry="0.7" transform="rotate(116 73.9 23.1)" fill="#31419f" opacity="1"/>
<ellipse cx="17.3" cy="40.0" rx="1.1" ry="0.6" transform="rotate(29 17.3 40.0)" fill="#3747a5" opacity="1"/>
<ellipse cx="46.6" cy="35.7" rx="1.2" ry="0.9" transform="rotate(93 46.6 35.7)" fill="#2e3e9c" opacity="1"/>
<ellipse cx="45.5" cy="26.6" rx="1.4" ry="0.8" transform="rotate(10 45.5 26.6)" fill="#2a3a98" opacity="1"/>
<ellipse cx="81.6" cy="12.8" rx="1.0" ry="1.0" transform="rotate(84 81.6 12.8)" fill="#2d3d9b" opacity="1"/>
<ellipse cx="66.5" cy="18.8" rx="1.4" ry="0.7" transform="rotate(157 66.5 18.8)" fill="#31419f" opacity="1"/>
<ellipse cx="43.5" cy="32.8" rx="1.0" ry="0.9" transform="rotate(43 43.5 32.8)" fill="#3b4ba9" opacity="1"/>
<ellipse cx="2.5" cy="58.0" rx="0.8" ry="0.7" transform="rotate(84 2.5 58.0)" fill="#3242a0" opacity="1"/>
<ellipse cx="53.8" cy="26.1" rx="1.0" ry="0.9" transform="rotate(46 53.8 26.1)" fill="#2b3b99" opacity="1"/>
<ellipse cx="30.1" cy="43.6" rx="1.1" ry="0.6" transform="rotate(7 30.1 43.6)" fill="#4050ae" opacity="1"/>
<ellipse cx="27.1" cy="38.3" rx="1.4" ry="1.0" transform="rotate(11 27.1 38.3)" fill="#4151af" opacity="1"/>
<ellipse cx="60.0" cy="23.0" rx="1.1" ry="0.7" transform="rotate(175 60.0 23.0)" fill="#31419f" opacity="1"/>
<ellipse cx="78.8" cy="20.6" rx="1.0" ry="0.6" transform="rotate(84 78.8 20.6)" fill="#2a3a98" opacity="1"/>
<ellipse cx="98.8" cy="11.7" rx="1.0" ry="1.0" transform="rotate(168 98.8 11.7)" fill="#2a3a98" opacity="1"/>
<ellipse cx="31.2" cy="43.1" rx="1.2" ry="0.8" transform="rotate(153 31.2 43.1)" fill="#3d4dab" opacity="1"/>
<ellipse cx="53.2" cy="31.6" rx="0.9" ry="0.8" transform="rotate(149 53.2 31.6)" fill="#2f3f9d" opacity="1"/>
<ellipse cx="7.2" cy="50.2" rx="0.8" ry="0.9" transform="rotate(70 7.2 50.2)" fill="#2e3e9c" opacity="1"/>
<ellipse cx="91.5" cy="19.0" rx="1.4" ry="0.7" transform="rotate(39 91.5 19.0)" fill="#3848a6" opacity="1"/>
<ellipse cx="50.7" cy="26.7" rx="1.1" ry="0.8" transform="rotate(140 50.7 26.7)" fill="#3d4dab" opacity="1"/>
<ellipse cx="42.3" cy="28.1" rx="1.5" ry="0.9" transform="rotate(164 42.3 28.1)" fill="#2e3e9c" opacity="1"/>
<ellipse cx="70.0" cy="16.2" rx="1.2" ry="0.6" transform="rotate(3 70.0 16.2)" fill="#4353b1" opacity="1"/>
<ellipse cx="64.0" cy="20.3" rx="1.2" ry="0.6" transform="rotate(174 64.0 20.3)" fill="#3e4eac" opacity="1"/>
<ellipse cx="96.0" cy="12.0" rx="1.2" ry="1.0" transform="rotate(76 96.0 12.0)" fill="#4151af" opacity="1"/>
<ellipse cx="77.2" cy="20.8" rx="1.0" ry="0.5" transform="rotate(119 77.2 20.8)" fill="#4252b0" opacity="1"/>
<ellipse cx="40.6" cy="33.0" rx="1.4" ry="0.8" transform="rotate(81 40.6 33.0)" fill="#2a3a98" opacity="1"/>
<ellipse cx="23.0" cy="40.2" rx="1.4" ry="0.7" transform="rotate(5 23.0 40.2)" fill="#31419f" opacity="1"/>
<ellipse cx="12.7" cy="39.2" rx="0.9" ry="0.8" transform="rotate(3 12.7 39.2)" fill="#3e4eac" opacity="1"/>
<ellipse cx="24.5" cy="33.1" rx="0.9" ry="0.8" transform="rotate(148 24.5 33.1)" fill="#2e3e9c" opacity="1"/>
<ellipse cx="85.3" cy="18.6" rx="0.8" ry="0.9" transform="rotate(174 85.3 18.6)" fill="#31419f" opacity="1"/>
<ellipse cx="55.8" cy="20.4" rx="0.9" ry="0.8" transform="rotate(31 55.8 20.4)" fill="#3848a6" opacity="1"/>
<ellipse cx="95.6" cy="13.4" rx="0.9" ry="0.6" transform="rotate(57 95.6 13.4)" fill="#4151af" opacity="1"/>
<ellipse cx="22.5" cy="46.2" rx="1.1" ry="0.7" transform="rotate(131 22.5 46.2)" fill="#3949a7" opacity="1"/>
<ellipse cx="78.2" cy="24.2" rx="1.0" ry="0.6" transform="rotate(132 78.2 24.2)" fill="#3949a7" opacity="1"/>
<ellipse cx="61.5" cy="25.2" rx="1.4" ry="0.7" transform="rotate(152 61.5 25.2)" fill="#3747a5" opacity="1"/>
<ellipse cx="23.4" cy="44.0" rx="1.1" ry="0.6" transform="rotate(37 23.4 44.0)" fill="#2f3f9d" opacity="1"/>
<ellipse cx="23.1" cy="33.6" rx="1.1" ry="0.7" transform="rotate(97 23.1 33.6)" fill="#3545a3" opacity="1"/>
<ellipse cx="55.9" cy="24.0" rx="1.5" ry="0.8" transform="rotate(135 55.9 24.0)" fill="#3949a7" opacity="1"/>
<ellipse cx="71.4" cy="16.5" rx="1.0" ry="0.5" transform="rotate(108 71.4 16.5)" fill="#3545a3" opacity="1"/>
<ellipse cx="81.3" cy="15.6" rx="1.4" ry="0.6" transform="rotate(14 81.3 15.6)" fill="#3949a7" opacity="1"/>
<ellipse cx="70.9" cy="16.3" rx="1.4" ry="0.9" transform="rotate(142 70.9 16.3)" fill="#3545a3" opacity="1"/>
<ellipse cx="95.2" cy="13.3" rx="0.8" ry="0.8" transform="rotate(82 95.2 13.3)" fill="#3343a1" opacity="1"/>
<ellipse cx="0.4" cy="50.3" rx="1.0" ry="0.7" transform="rotate(75 0.4 50.3)" fill="#2f3f9d" opacity="1"/>
<ellipse cx="1.5" cy="42.2" rx="1.0" ry="0.7" transform="rotate(7 1.5 42.2)" fill="#3d4dab" opacity="1"/>
<ellipse cx="2.7" cy="61.7" rx="0.9" ry="0.7" transform="rotate(92 2.7 61.7)" fill="#3a4aa8" opacity="1"/>
<ellipse cx="24.5" cy="39.2" rx="0.9" ry="0.6" transform="rotate(149 24.5 39.2)" fill="#2e3e9c" opacity="1"/>
<ellipse cx="51.1" cy="31.3" rx="1.0" ry="0.6" transform="rotate(174 51.1 31.3)" fill="#30409e" opacity="1"/>
<ellipse cx="32.6" cy="32.1" rx="1.0" ry="0.9" transform="rotate(136 32.6 32.1)" fill="#3747a5" opacity="1"/>
<ellipse cx="17.8" cy="51.3" rx="0.9" ry="0.9" transform="rotate(68 17.8 51.3)" fill="#30409e" opacity="1"/>
<ellipse cx="53.9" cy="26.2" rx="1.2" ry="0.8" transform="rotate(34 53.9 26.2)" fill="#2a3a98" opacity="1"/>
<ellipse cx="93.0" cy="18.0" rx="1.0" ry="0.7" transform="rotate(35 93.0 18.0)" fill="#2e3e9c" opacity="1"/>
<ellipse cx="49.1" cy="31.3" rx="1.4" ry="0.6" transform="rotate(29 49.1 31.3)" fill="#3343a1" opacity="1"/>
<ellipse cx="39.2" cy="34.5" rx="1.0" ry="0.8" transform="rotate(94 39.2 34.5)" fill="#3d4dab" opacity="1"/>
<ellipse cx="13.5" cy="42.3" rx="0.8" ry="0.5" transform="rotate(52 13.5 42.3)" fill="#3d4dab" opacity="1"/>
<ellipse cx="2.6" cy="49.4" rx="1.4" ry="0.8" transform="rotate(17 2.6 49.4)" fill="#3b4ba9" opacity="1"/>
<ellipse cx="74.0" cy="18.4" rx="1.1" ry="0.7" transform="rotate(65 74.0 18.4)" fill="#3949a7" opacity="1"/>
<ellipse cx="0.4" cy="46.4" rx="0.9" ry="0.6" transform="rotate(145 0.4 46.4)" fill="#3848a6" opacity="1"/>
<ellipse cx="96.3" cy="17.9" rx="0.9" ry="0.6" transform="rotate(150 96.3 17.9)" fill="#2b3b99" opacity="1"/>
<ellipse cx="53.2" cy="27.9" rx="0.8" ry="0.6" transform="rotate(129 53.2 27.9)" fill="#2a3a98" opacity="1"/>
<ellipse cx="68.5" cy="24.4" rx="1.3" ry="0.6" transform="rotate(33 68.5 24.4)" fill="#2f3f9d" opacity="1"/>
<ellipse cx="25.4" cy="35.2" rx="1.2" ry="0.6" transform="rotate(52 25.4 35.2)" fill="#3f4fad" opacity="1"/>
<ellipse cx="21.4" cy="39.1" rx="1.5" ry="0.6" transform="rotate(58 21.4 39.1)" fill="#3c4caa" opacity="1"/>
<ellipse cx="18.8" cy="46.2" rx="1.1" ry="1.0" transform="rotate(45 18.8 46.2)" fill="#30409e" opacity="1"/>
<ellipse cx="61.6" cy="18.9" rx="0.8" ry="0.6" transform="rotate(121 61.6 18.9)" fill="#3343a1" opacity="1"/>
<ellipse cx="46.8" cy="26.6" rx="0.9" ry="0.8" transform="rotate(110 46.8 26.6)" fill="#293997" opacity="1"/>
<ellipse cx="37.8" cy="37.5" rx="1.2" ry="0.9" transform="rotate(81 37.8 37.5)" fill="#2d3d9b" opacity="1"/>
<ellipse cx="49.4" cy="28.1" rx="1.3" ry="0.9" transform="rotate(11 49.4 28.1)" fill="#3747a5" opacity="1"/>
<ellipse cx="26.3" cy="39.9" rx="1.1" ry="1.0" transform="rotate(40 26.3 39.9)" fill="#4151af" opacity="1"/>
<ellipse cx="21.3" cy="40.4" rx="1.4" ry="1.0" transform="rotate(154 21.3 40.4)" fill="#3b4ba9" opacity="1"/>
<ellipse cx="67.2" cy="20.8" rx="1.0" ry="0.7" transform="rotate(154 67.2 20.8)" fill="#2b3b99" opacity="1"/>
<ellipse cx="20.9" cy="47.1" rx="1.4" ry="0.8" transform="rotate(142 20.9 47.1)" fill="#3545a3" opacity="1"/>
<ellipse cx="72.8" cy="17.7" rx="1.2" ry="0.5" transform="rotate(19 72.8 17.7)" fill="#3c4caa" opacity="1"/>
<ellipse cx="91.1" cy="18.6" rx="0.8" ry="0.5" transform="rotate(85 91.1 18.6)" fill="#3e4eac" opacity="1"/>
<ellipse cx="22.5" cy="47.2" rx="1.1" ry="0.6" transform="rotate(178 22.5 47.2)" fill="#3545a3" opacity="1"/>
<ellipse cx="89.6" cy="15.4" rx="0.9" ry="0.9" transform="rotate(172 89.6 15.4)" fill="#2a3a98" opacity="1"/>
<ellipse cx="54.0" cy="31.0" rx="0.8" ry="0.9" transform="rotate(104 54.0 31.0)" fill="#2f3f9d" opacity="1"/>
<ellipse cx="0.0" cy="54.3" rx="1.2" ry="1.0" transform="rotate(164 0.0 54.3)" fill="#2e3e9c" opacity="1"/>
<ellipse cx="85.2" cy="14.0" rx="1.4" ry="0.7" transform="rotate(82 85.2 14.0)" fill="#4252b0" opacity="1"/>
<ellipse cx="47.0" cy="24.2" rx="1.4" ry="0.9" transform="rotate(8 47.0 24.2)" fill="#3949a7" opacity="1"/>
<ellipse cx="55.4" cy="29.4" rx="1.1" ry="0.7" transform="rotate(167 55.4 29.4)" fill="#4050ae" opacity="1"/>
<ellipse cx="12.2" cy="54.2" rx="1.3" ry="0.7" transform="rotate(143 12.2 54.2)" fill="#3242a0" opacity="1"/>
<ellipse cx="-0.4" cy="54.3" rx="1.2" ry="1.0" transform="rotate(54 -0.4 54.3)" fill="#293997" opacity="1"/>
<ellipse cx="16.3" cy="37.6" rx="1.0" ry="0.9" transform="rotate(152 16.3 37.6)" fill="#3545a3" opacity="1"/>
<ellipse cx="42.5" cy="25.1" rx="1.5" ry="0.6" transform="rotate(144 42.5 25.1)" fill="#3949a7" opacity="1"/>
<ellipse cx="78.3" cy="24.4" rx="1.1" ry="0.6" transform="rotate(9 78.3 24.4)" fill="#3545a3" opacity="1"/>
<ellipse cx="45.6" cy="32.9" rx="1.0" ry="0.6" transform="rotate(50 45.6 32.9)" fill="#3f4fad" opacity="1"/>
<ellipse cx="11.5" cy="40.5" rx="1.3" ry="0.5" transform="rotate(140 11.5 40.5)" fill="#3343a1" opacity="1"/>
<ellipse cx="86.5" cy="12.9" rx="1.2" ry="1.0" transform="rotate(137 86.5 12.9)" fill="#3c4caa" opacity="1"/>
<ellipse cx="12.0" cy="52.6" rx="0.8" ry="0.5" transform="rotate(150 12.0 52.6)" fill="#2a3a98" opacity="1"/>
<ellipse cx="1.9" cy="45.1" rx="1.3" ry="0.6" transform="rotate(69 1.9 45.1)" fill="#2e3e9c" opacity="1"/>
<ellipse cx="20.9" cy="48.6" rx="1.3" ry="0.6" transform="rotate(34 20.9 48.6)" fill="#2c3c9a" opacity="1"/>
<ellipse cx="28.0" cy="31.7" rx="1.3" ry="0.8" transform="rotate(169 28.0 31.7)" fill="#3343a1" opacity="1"/>
<ellipse cx="34.1" cy="71.4" rx="1.3" ry="1.0" transform="rotate(83 34.1 71.4)" fill="#5d6dbf" opacity="0.85"/>
<ellipse cx="56.7" cy="64.8" rx="1.2" ry="0.7" transform="rotate(104 56.7 64.8)" fill="#5868ba" opacity="0.85"/>
<ellipse cx="34.1" cy="59.3" rx="0.7" ry="0.6" transform="rotate(94 34.1 59.3)" fill="#6272c4" opacity="0.85"/>
<ellipse cx="48.9" cy="47.0" rx="1.3" ry="0.6" transform="rotate(75 48.9 47.0)" fill="#5262b4" opacity="0.85"/>
<ellipse cx="7.0" cy="64.6" rx="1.1" ry="0.7" transform="rotate(75 7.0 64.6)" fill="#5a6abc" opacity="0.85"/>
<ellipse cx="52.3" cy="57.3" rx="1.0" ry="0.8" transform="rotate(75 52.3 57.3)" fill="#5464b6" opacity="0.85"/>
<ellipse cx="90.5" cy="69.9" rx="1.4" ry="0.8" transform="rotate(139 90.5 69.9)" fill="#5b6bbd" opacity="0.85"/>
<ellipse cx="77.3" cy="58.4" rx="0.7" ry="1.0" transform="rotate(87 77.3 58.4)" fill="#5969bb" opacity="0.85"/>
<ellipse cx="60.1" cy="51.5" rx="1.1" ry="0.7" transform="rotate(56 60.1 51.5)" fill="#6070c2" opacity="0.85"/>
<ellipse cx="78.5" cy="55.0" rx="1.1" ry="0.7" transform="rotate(167 78.5 55.0)" fill="#5d6dbf" opacity="0.85"/>
<ellipse cx="69.6" cy="50.9" rx="0.8" ry="0.6" transform="rotate(102 69.6 50.9)" fill="#5a6abc" opacity="0.85"/>
<ellipse cx="60.5" cy="52.9" rx="0.8" ry="0.7" transform="rotate(151 60.5 52.9)" fill="#5565b7" opacity="0.85"/>
<ellipse cx="93.8" cy="48.0" rx="1.5" ry="0.8" transform="rotate(132 93.8 48.0)" fill="#4b5bad" opacity="0.85"/>
<ellipse cx="61.0" cy="69.1" rx="1.3" ry="0.6" transform="rotate(102 61.0 69.1)" fill="#4a5aac" opacity="0.85"/>
<ellipse cx="14.1" cy="57.5" rx="1.1" ry="0.7" transform="rotate(141 14.1 57.5)" fill="#5e6ec0" opacity="0.85"/>
<ellipse cx="25.4" cy="58.9" rx="1.2" ry="0.5" transform="rotate(78 25.4 58.9)" fill="#5b6bbd" opacity="0.85"/>
<ellipse cx="86.1" cy="56.6" rx="1.4" ry="0.7" transform="rotate(66 86.1 56.6)" fill="#6171c3" opacity="0.85"/>
<ellipse cx="82.7" cy="44.4" rx="1.1" ry="0.9" transform="rotate(98 82.7 44.4)" fill="#5d6dbf" opacity="0.85"/>
<ellipse cx="69.9" cy="36.3" rx="1.5" ry="0.9" transform="rotate(33 69.9 36.3)" fill="#5a6abc" opacity="0.85"/>
<ellipse cx="82.2" cy="35.4" rx="1.4" ry="0.6" transform="rotate(74 82.2 35.4)" fill="#5767b9" opacity="0.85"/>
<ellipse cx="19.7" cy="70.8" rx="0.8" ry="0.7" transform="rotate(75 19.7 70.8)" fill="#5464b6" opacity="0.85"/>
<ellipse cx="80.7" cy="65.9" rx="1.0" ry="0.9" transform="rotate(73 80.7 65.9)" fill="#5666b8" opacity="0.85"/>
<ellipse cx="91.6" cy="30.1" rx="0.9" ry="0.6" transform="rotate(138 91.6 30.1)" fill="#6171c3" opacity="0.85"/>
<ellipse cx="-1.3" cy="66.6" rx="1.2" ry="0.7" transform="rotate(17 -1.3 66.6)" fill="#4858aa" opacity="0.85"/>
<ellipse cx="96.5" cy="44.4" rx="0.6" ry="0.5" transform="rotate(28 96.5 44.4)" fill="#4a5aac" opacity="0.85"/>
<ellipse cx="6.4" cy="66.8" rx="1.0" ry="1.0" transform="rotate(27 6.4 66.8)" fill="#5b6bbd" opacity="0.85"/>
<ellipse cx="58.0" cy="50.6" rx="1.0" ry="0.7" transform="rotate(2 58.0 50.6)" fill="#5b6bbd" opacity="0.85"/>
<ellipse cx="57.0" cy="32.6" rx="1.5" ry="0.7" transform="rotate(147 57.0 32.6)" fill="#4959ab" opacity="0.85"/>
<ellipse cx="74.0" cy="58.2" rx="1.3" ry="0.8" transform="rotate(6 74.0 58.2)" fill="#5767b9" opacity="0.85"/>
<ellipse cx="82.7" cy="70.2" rx="1.2" ry="0.7" transform="rotate(21 82.7 70.2)" fill="#5262b4" opacity="0.85"/>
<ellipse cx="77.9" cy="60.7" rx="1.5" ry="0.8" transform="rotate(123 77.9 60.7)" fill="#4a5aac" opacity="0.85"/>
<ellipse cx="63.4" cy="60.7" rx="1.4" ry="0.8" transform="rotate(25 63.4 60.7)" fill="#4858aa" opacity="0.85"/>
<ellipse cx="76.7" cy="68.5" rx="0.6" ry="0.6" transform="rotate(150 76.7 68.5)" fill="#5161b3" opacity="0.85"/>
<ellipse cx="52.7" cy="35.6" rx="1.0" ry="0.9" transform="rotate(2 52.7 35.6)" fill="#4e5eb0" opacity="0.85"/>
<ellipse cx="46.1" cy="57.9" rx="1.1" ry="0.5" transform="rotate(65 46.1 57.9)" fill="#4d5daf" opacity="0.85"/>
<ellipse cx="19.9" cy="69.0" rx="0.8" ry="1.0" transform="rotate(35 19.9 69.0)" fill="#4959ab" opacity="0.85"/>
<ellipse cx="95.0" cy="30.6" rx="1.0" ry="0.7" transform="rotate(166 95.0 30.6)" fill="#6171c3" opacity="0.85"/>
<ellipse cx="36.5" cy="62.9" rx="1.4" ry="0.9" transform="rotate(69 36.5 62.9)" fill="#5f6fc1" opacity="0.85"/>
<ellipse cx="75.5" cy="67.3" rx="0.8" ry="0.9" transform="rotate(22 75.5 67.3)" fill="#4c5cae" opacity="0.85"/>
<ellipse cx="29.2" cy="69.0" rx="1.4" ry="0.9" transform="rotate(8 29.2 69.0)" fill="#4d5daf" opacity="0.85"/>
<ellipse cx="8.2" cy="70.5" rx="0.9" ry="0.6" transform="rotate(90 8.2 70.5)" fill="#4959ab" opacity="0.85"/>
<ellipse cx="52.1" cy="67.2" rx="1.3" ry="0.6" transform="rotate(98 52.1 67.2)" fill="#5868ba" opacity="0.85"/>
<ellipse cx="73.1" cy="33.7" rx="1.4" ry="0.5" transform="rotate(113 73.1 33.7)" fill="#4f5fb1" opacity="0.85"/>
<ellipse cx="66.7" cy="58.7" rx="1.4" ry="0.9" transform="rotate(39 66.7 58.7)" fill="#5f6fc1" opacity="0.85"/>
<ellipse cx="81.5" cy="25.3" rx="0.8" ry="0.6" transform="rotate(62 81.5 25.3)" fill="#5767b9" opacity="0.85"/>
<ellipse cx="54.8" cy="66.1" rx="0.7" ry="0.6" transform="rotate(167 54.8 66.1)" fill="#4959ab" opacity="0.85"/>
<ellipse cx="46.5" cy="41.4" rx="0.9" ry="0.7" transform="rotate(68 46.5 41.4)" fill="#5161b3" opacity="0.85"/>
<ellipse cx="-0.5" cy="71.4" rx="1.3" ry="0.9" transform="rotate(122 -0.5 71.4)" fill="#5565b7" opacity="0.85"/>
<ellipse cx="55.1" cy="61.4" rx="0.9" ry="0.9" transform="rotate(72 55.1 61.4)" fill="#5363b5" opacity="0.85"/>
<ellipse cx="36.5" cy="52.7" rx="0.8" ry="1.0" transform="rotate(178 36.5 52.7)" fill="#6070c2" opacity="0.85"/>
<ellipse cx="45.8" cy="36.7" rx="1.1" ry="0.7" transform="rotate(143 45.8 36.7)" fill="#5868ba" opacity="0.85"/>
<ellipse cx="85.8" cy="45.0" rx="0.7" ry="0.8" transform="rotate(143 85.8 45.0)" fill="#5e6ec0" opacity="0.85"/>
<ellipse cx="79.8" cy="28.3" rx="1.1" ry="0.8" transform="rotate(134 79.8 28.3)" fill="#4959ab" opacity="0.85"/>
<ellipse cx="29.0" cy="67.3" rx="1.3" ry="0.9" transform="rotate(66 29.0 67.3)" fill="#5969bb" opacity="0.85"/>
<ellipse cx="65.1" cy="35.6" rx="0.9" ry="0.7" transform="rotate(143 65.1 35.6)" fill="#5a6abc" opacity="0.85"/>
<ellipse cx="59.8" cy="33.7" rx="0.9" ry="0.9" transform="rotate(44 59.8 33.7)" fill="#4b5bad" opacity="0.85"/>
<ellipse cx="56.5" cy="68.5" rx="1.5" ry="0.6" transform="rotate(32 56.5 68.5)" fill="#4858aa" opacity="0.85"/>
<ellipse cx="36.2" cy="42.7" rx="1.5" ry="0.6" transform="rotate(150 36.2 42.7)" fill="#5f6fc1" opacity="0.85"/>
<ellipse cx="82.2" cy="70.9" rx="0.9" ry="0.9" transform="rotate(178 82.2 70.9)" fill="#5161b3" opacity="0.85"/>
<ellipse cx="97.7" cy="57.1" rx="0.9" ry="0.7" transform="rotate(83 97.7 57.1)" fill="#5363b5" opacity="0.85"/>
<ellipse cx="64.6" cy="42.8" rx="0.7" ry="0.7" transform="rotate(18 64.6 42.8)" fill="#5262b4" opacity="0.85"/>
<ellipse cx="71.4" cy="69.3" rx="0.8" ry="0.8" transform="rotate(4 71.4 69.3)" fill="#4b5bad" opacity="0.85"/>
<ellipse cx="37.6" cy="55.7" rx="1.2" ry="0.7" transform="rotate(86 37.6 55.7)" fill="#5363b5" opacity="0.85"/>
<ellipse cx="35.1" cy="67.3" rx="1.5" ry="0.9" transform="rotate(82 35.1 67.3)" fill="#6171c3" opacity="0.85"/>
<ellipse cx="78.3" cy="71.6" rx="1.0" ry="0.9" transform="rotate(61 78.3 71.6)" fill="#5e6ec0" opacity="0.85"/>
<ellipse cx="45.7" cy="43.7" rx="1.1" ry="0.6" transform="rotate(107 45.7 43.7)" fill="#5f6fc1" opacity="0.85"/>
<ellipse cx="61.3" cy="34.5" rx="0.9" ry="0.5" transform="rotate(9 61.3 34.5)" fill="#5c6cbe" opacity="0.85"/>
<ellipse cx="28.4" cy="61.0" rx="1.3" ry="0.8" transform="rotate(118 28.4 61.0)" fill="#5262b4" opacity="0.85"/>
<ellipse cx="90.1" cy="31.0" rx="1.0" ry="0.6" transform="rotate(105 90.1 31.0)" fill="#5a6abc" opacity="0.85"/>
<ellipse cx="94.7" cy="53.1" rx="1.0" ry="0.5" transform="rotate(108 94.7 53.1)" fill="#6070c2" opacity="0.85"/>
<ellipse cx="83.4" cy="69.1" rx="0.6" ry="0.6" transform="rotate(138 83.4 69.1)" fill="#5f6fc1" opacity="0.85"/>
<ellipse cx="65.3" cy="31.9" rx="1.3" ry="0.6" transform="rotate(167 65.3 31.9)" fill="#5b6bbd" opacity="0.85"/>
<ellipse cx="39.2" cy="60.3" rx="0.7" ry="0.6" transform="rotate(0 39.2 60.3)" fill="#4b5bad" opacity="0.85"/>
<ellipse cx="7.0" cy="68.7" rx="1.0" ry="0.7" transform="rotate(7 7.0 68.7)" fill="#4b5bad" opacity="0.85"/>
<ellipse cx="75.8" cy="41.7" rx="1.5" ry="0.5" transform="rotate(55 75.8 41.7)" fill="#4c5cae" opacity="0.85"/>
<ellipse cx="65.3" cy="50.0" rx="0.8" ry="0.9" transform="rotate(99 65.3 50.0)" fill="#4858aa" opacity="0.85"/>
<ellipse cx="83.1" cy="50.9" rx="1.2" ry="0.6" transform="rotate(29 83.1 50.9)" fill="#4959ab" opacity="0.85"/>
<ellipse cx="53.8" cy="54.8" rx="1.2" ry="0.8" transform="rotate(75 53.8 54.8)" fill="#4a5aac" opacity="0.85"/>
<ellipse cx="87.9" cy="52.0" rx="1.2" ry="0.6" transform="rotate(111 87.9 52.0)" fill="#6373c5" opacity="0.85"/>
<ellipse cx="56.0" cy="59.4" rx="1.1" ry="0.5" transform="rotate(9 56.0 59.4)" fill="#5363b5" opacity="0.85"/>
<ellipse cx="74.9" cy="58.2" rx="0.7" ry="0.9" transform="rotate(20 74.9 58.2)" fill="#5e6ec0" opacity="0.85"/>
<ellipse cx="60.9" cy="39.3" rx="0.7" ry="0.6" transform="rotate(151 60.9 39.3)" fill="#4959ab" opacity="0.85"/>
<ellipse cx="79.6" cy="51.4" rx="1.3" ry="0.7" transform="rotate(120 79.6 51.4)" fill="#4a5aac" opacity="0.85"/>
<ellipse cx="0.7" cy="71.5" rx="1.2" ry="0.7" transform="rotate(4 0.7 71.5)" fill="#5767b9" opacity="0.85"/>
<ellipse cx="89.4" cy="59.1" rx="1.2" ry="0.9" transform="rotate(126 89.4 59.1)" fill="#4858aa" opacity="0.85"/>
<ellipse cx="62.2" cy="57.1" rx="1.0" ry="0.5" transform="rotate(171 62.2 57.1)" fill="#5262b4" opacity="0.85"/>
<ellipse cx="44.3" cy="38.8" rx="0.8" ry="0.9" transform="rotate(151 44.3 38.8)" fill="#4959ab" opacity="0.85"/>
<ellipse cx="93.9" cy="40.7" rx="0.8" ry="0.8" transform="rotate(126 93.9 40.7)" fill="#4d5daf" opacity="0.85"/>
<ellipse cx="24.1" cy="51.8" rx="0.8" ry="0.6" transform="rotate(144 24.1 51.8)" fill="#4959ab" opacity="0.85"/>
<ellipse cx="79.9" cy="71.9" rx="0.8" ry="0.8" transform="rotate(83 79.9 71.9)" fill="#5767b9" opacity="0.85"/>
<ellipse cx="41.2" cy="71.8" rx="1.3" ry="0.6" transform="rotate(161 41.2 71.8)" fill="#5868ba" opacity="0.85"/>
<ellipse cx="66.3" cy="33.8" rx="1.3" ry="0.6" transform="rotate(8 66.3 33.8)" fill="#5464b6" opacity="0.85"/>
<ellipse cx="76.8" cy="61.0" rx="0.8" ry="0.8" transform="rotate(108 76.8 61.0)" fill="#4959ab" opacity="0.85"/>
<ellipse cx="97.1" cy="59.2" rx="1.0" ry="0.6" transform="rotate(85 97.1 59.2)" fill="#5f6fc1" opacity="0.85"/>
<ellipse cx="69.3" cy="71.9" rx="1.0" ry="0.8" transform="rotate(73 69.3 71.9)" fill="#5969bb" opacity="0.85"/>
<ellipse cx="43.5" cy="57.4" rx="1.5" ry="0.8" transform="rotate(10 43.5 57.4)" fill="#4858aa" opacity="0.85"/>
<ellipse cx="43.5" cy="71.3" rx="1.1" ry="0.9" transform="rotate(170 43.5 71.3)" fill="#5767b9" opacity="0.85"/>
<ellipse cx="58.7" cy="51.1" rx="0.7" ry="0.7" transform="rotate(89 58.7 51.1)" fill="#6070c2" opacity="0.85"/>
<ellipse cx="54.1" cy="43.8" rx="1.1" ry="0.7" transform="rotate(39 54.1 43.8)" fill="#5868ba" opacity="0.85"/>
<ellipse cx="47.5" cy="54.9" rx="1.4" ry="0.9" transform="rotate(128 47.5 54.9)" fill="#5d6dbf" opacity="0.85"/>
<ellipse cx="48.8" cy="53.2" rx="1.2" ry="0.9" transform="rotate(160 48.8 53.2)" fill="#4959ab" opacity="0.85"/>
<ellipse cx="90.5" cy="26.6" rx="1.1" ry="0.6" transform="rotate(82 90.5 26.6)" fill="#4d5daf" opacity="0.85"/>
<ellipse cx="97.1" cy="23.9" rx="1.3" ry="1.0" transform="rotate(93 97.1 23.9)" fill="#5565b7" opacity="0.85"/>
<ellipse cx="17.7" cy="60.5" rx="1.3" ry="0.9" transform="rotate(40 17.7 60.5)" fill="#6171c3" opacity="0.85"/>
<ellipse cx="27.2" cy="47.1" rx="1.4" ry="0.8" transform="rotate(167 27.2 47.1)" fill="#6272c4" opacity="0.85"/>
<ellipse cx="77.1" cy="27.3" rx="1.0" ry="0.6" transform="rotate(108 77.1 27.3)" fill="#4858aa" opacity="0.85"/>
<ellipse cx="43.1" cy="59.8" rx="0.8" ry="0.5" transform="rotate(165 43.1 59.8)" fill="#6272c4" opacity="0.85"/>
<ellipse cx="78.3" cy="27.1" rx="1.3" ry="0.9" transform="rotate(5 78.3 27.1)" fill="#5e6ec0" opacity="0.85"/>
<ellipse cx="87.4" cy="69.7" rx="1.2" ry="0.8" transform="rotate(12 87.4 69.7)" fill="#4959ab" opacity="0.85"/>
<ellipse cx="60.5" cy="36.4" rx="0.7" ry="0.8" transform="rotate(86 60.5 36.4)" fill="#5262b4" opacity="0.85"/>
<ellipse cx="44.7" cy="46.0" rx="0.8" ry="0.6" transform="rotate(117 44.7 46.0)" fill="#4d5daf" opacity="0.85"/>
<ellipse cx="34.5" cy="71.2" rx="1.4" ry="0.9" transform="rotate(119 34.5 71.2)" fill="#4e5eb0" opacity="0.85"/>
<ellipse cx="42.5" cy="50.6" rx="1.3" ry="0.8" transform="rotate(16 42.5 50.6)" fill="#6171c3" opacity="0.85"/>
<ellipse cx="58.7" cy="55.1" rx="1.4" ry="0.6" transform="rotate(67 58.7 55.1)" fill="#5b6bbd" opacity="0.85"/>
<ellipse cx="55.4" cy="33.6" rx="1.4" ry="0.8" transform="rotate(176 55.4 33.6)" fill="#4a5aac" opacity="0.85"/>
<ellipse cx="94.7" cy="71.2" rx="1.0" ry="1.0" transform="rotate(135 94.7 71.2)" fill="#6171c3" opacity="0.85"/>
<ellipse cx="43.5" cy="68.8" rx="1.5" ry="0.7" transform="rotate(105 43.5 68.8)" fill="#5161b3" opacity="0.85"/>
<ellipse cx="85.7" cy="33.1" rx="1.0" ry="1.0" transform="rotate(50 85.7 33.1)" fill="#4c5cae" opacity="0.85"/>
<ellipse cx="53.1" cy="57.0" rx="1.4" ry="0.6" transform="rotate(56 53.1 57.0)" fill="#5161b3" opacity="0.85"/>
<ellipse cx="94.4" cy="63.3" rx="1.0" ry="1.0" transform="rotate(50 94.4 63.3)" fill="#5666b8" opacity="0.85"/>
<ellipse cx="75.0" cy="40.5" rx="1.5" ry="0.5" transform="rotate(35 75.0 40.5)" fill="#4b5bad" opacity="0.85"/>
<ellipse cx="81.5" cy="69.1" rx="1.4" ry="0.8" transform="rotate(51 81.5 69.1)" fill="#5f6fc1" opacity="0.85"/>
<ellipse cx="75.9" cy="33.7" rx="0.9" ry="0.6" transform="rotate(103 75.9 33.7)" fill="#5d6dbf" opacity="0.85"/>
<ellipse cx="32.3" cy="43.9" rx="1.5" ry="0.9" transform="rotate(21 32.3 43.9)" fill="#4b5bad" opacity="0.85"/>
<ellipse cx="38.2" cy="52.6" rx="1.1" ry="0.8" transform="rotate(93 38.2 52.6)" fill="#5b6bbd" opacity="0.85"/>
<ellipse cx="96.9" cy="37.1" rx="1.3" ry="0.6" transform="rotate(25 96.9 37.1)" fill="#6373c5" opacity="0.85"/>
<ellipse cx="87.6" cy="50.1" rx="1.0" ry="0.9" transform="rotate(78 87.6 50.1)" fill="#6272c4" opacity="0.85"/>
<ellipse cx="19.3" cy="55.3" rx="0.6" ry="1.0" transform="rotate(80 19.3 55.3)" fill="#6070c2" opacity="0.85"/>
<ellipse cx="40.5" cy="49.5" rx="1.1" ry="0.8" transform="rotate(141 40.5 49.5)" fill="#5b6bbd" opacity="0.85"/>
<ellipse cx="64.2" cy="44.3" rx="0.7" ry="0.8" transform="rotate(60 64.2 44.3)" fill="#5262b4" opacity="0.85"/>
<ellipse cx="90.2" cy="41.9" rx="0.9" ry="0.9" transform="rotate(79 90.2 41.9)" fill="#5666b8" opacity="0.85"/>
<ellipse cx="40.2" cy="49.7" rx="0.8" ry="0.9" transform="rotate(80 40.2 49.7)" fill="#5464b6" opacity="0.85"/>
<ellipse cx="83.8" cy="54.7" rx="1.1" ry="1.0" transform="rotate(35 83.8 54.7)" fill="#5969bb" opacity="0.85"/>
<ellipse cx="48.9" cy="45.1" rx="1.2" ry="1.0" transform="rotate(76 48.9 45.1)" fill="#4a5aac" opacity="0.85"/>
<ellipse cx="69.1" cy="50.1" rx="0.9" ry="1.0" transform="rotate(179 69.1 50.1)" fill="#4e5eb0" opacity="0.85"/>
<ellipse cx="81.9" cy="25.1" rx="1.0" ry="1.0" transform="rotate(167 81.9 25.1)" fill="#5868ba" opacity="0.85"/>
<ellipse cx="68.6" cy="55.2" rx="1.2" ry="0.9" transform="rotate(37 68.6 55.2)" fill="#4b5bad" opacity="0.85"/>
<ellipse cx="33.3" cy="70.0" rx="1.0" ry="0.8" transform="rotate(147 33.3 70.0)" fill="#4c5cae" opacity="0.85"/>
<ellipse cx="75.5" cy="26.6" rx="1.5" ry="1.0" transform="rotate(48 75.5 26.6)" fill="#4d5daf" opacity="0.85"/>
<ellipse cx="84.1" cy="27.8" rx="0.6" ry="0.6" transform="rotate(19 84.1 27.8)" fill="#5363b5" opacity="0.85"/>
<ellipse cx="75.2" cy="27.1" rx="1.2" ry="1.0" transform="rotate(63 75.2 27.1)" fill="#4c5cae" opacity="0.85"/>
<ellipse cx="24.6" cy="64.4" rx="0.9" ry="0.8" transform="rotate(104 24.6 64.4)" fill="#5464b6" opacity="0.85"/>
<ellipse cx="92.7" cy="31.0" rx="1.3" ry="0.6" transform="rotate(57 92.7 31.0)" fill="#5060b2" opacity="0.85"/>
<ellipse cx="87.4" cy="33.4" rx="1.1" ry="0.6" transform="rotate(23 87.4 33.4)" fill="#5c6cbe" opacity="0.85"/>
<ellipse cx="19.9" cy="51.3" rx="0.8" ry="0.6" transform="rotate(131 19.9 51.3)" fill="#5363b5" opacity="0.85"/>
<ellipse cx="81.4" cy="56.2" rx="1.3" ry="0.7" transform="rotate(57 81.4 56.2)" fill="#5969bb" opacity="0.85"/>
<ellipse cx="72.6" cy="49.9" rx="0.7" ry="0.6" transform="rotate(5 72.6 49.9)" fill="#5060b2" opacity="0.85"/>
<ellipse cx="77.5" cy="55.9" rx="1.2" ry="0.7" transform="rotate(30 77.5 55.9)" fill="#6171c3" opacity="0.85"/>
<ellipse cx="84.5" cy="36.3" rx="1.1" ry="0.5" transform="rotate(77 84.5 36.3)" fill="#4959ab" opacity="0.85"/>
<ellipse cx="55.0" cy="51.8" rx="1.0" ry="1.0" transform="rotate(16 55.0 51.8)" fill="#6171c3" opacity="0.85"/>
<ellipse cx="86.0" cy="37.7" rx="1.4" ry="0.6" transform="rotate(12 86.0 37.7)" fill="#4c5cae" opacity="0.85"/>
<ellipse cx="63.2" cy="39.9" rx="1.4" ry="0.8" transform="rotate(170 63.2 39.9)" fill="#5363b5" opacity="0.85"/>
<ellipse cx="78.8" cy="65.8" rx="1.4" ry="0.9" transform="rotate(127 78.8 65.8)" fill="#4959ab" opacity="0.85"/>
<ellipse cx="84.0" cy="36.1" rx="1.1" ry="1.0" transform="rotate(49 84.0 36.1)" fill="#5d6dbf" opacity="0.85"/>
<ellipse cx="36.5" cy="66.2" rx="0.9" ry="0.8" transform="rotate(2 36.5 66.2)" fill="#5060b2" opacity="0.85"/>
<ellipse cx="28.4" cy="72.2" rx="1.3" ry="0.7" transform="rotate(174 28.4 72.2)" fill="#6070c2" opacity="0.85"/>
<ellipse cx="1.3" cy="65.7" rx="0.6" ry="0.5" transform="rotate(103 1.3 65.7)" fill="#5c6cbe" opacity="0.85"/>
<ellipse cx="80.6" cy="71.7" rx="1.0" ry="0.7" transform="rotate(56 80.6 71.7)" fill="#5f6fc1" opacity="0.85"/>
<ellipse cx="15.1" cy="58.1" rx="1.3" ry="0.7" transform="rotate(45 15.1 58.1)" fill="#5565b7" opacity="0.85"/>
<ellipse cx="12.0" cy="69.5" rx="1.0" ry="1.0" transform="rotate(30 12.0 69.5)" fill="#5262b4" opacity="0.85"/>
<ellipse cx="49.6" cy="71.6" rx="0.7" ry="1.0" transform="rotate(156 49.6 71.6)" fill="#6272c4" opacity="0.85"/>
<ellipse cx="26.4" cy="50.0" rx="1.4" ry="0.9" transform="rotate(116 26.4 50.0)" fill="#5363b5" opacity="0.85"/>
<ellipse cx="25.0" cy="55.7" rx="1.0" ry="0.6" transform="rotate(160 25.0 55.7)" fill="#4a5aac" opacity="0.85"/>
<ellipse cx="43.4" cy="57.1" rx="1.5" ry="0.8" transform="rotate(25 43.4 57.1)" fill="#6070c2" opacity="0.85"/>
<ellipse cx="37.4" cy="58.3" rx="1.4" ry="0.8" transform="rotate(41 37.4 58.3)" fill="#4b5bad" opacity="0.85"/>
<ellipse cx="20.4" cy="64.1" rx="1.4" ry="0.5" transform="rotate(103 20.4 64.1)" fill="#4959ab" opacity="0.85"/>
<ellipse cx="34.4" cy="45.3" rx="1.5" ry="0.9" transform="rotate(158 34.4 45.3)" fill="#4959ab" opacity="0.85"/>
<ellipse cx="81.7" cy="64.2" rx="1.5" ry="0.9" transform="rotate(42 81.7 64.2)" fill="#4858aa" opacity="0.85"/>
<ellipse cx="88.2" cy="23.4" rx="1.2" ry="0.6" transform="rotate(144 88.2 23.4)" fill="#5464b6" opacity="0.85"/>
<ellipse cx="92.7" cy="45.2" rx="1.3" ry="0.7" transform="rotate(29 92.7 45.2)" fill="#6070c2" opacity="0.85"/>
<ellipse cx="41.6" cy="57.3" rx="0.8" ry="0.7" transform="rotate(25 41.6 57.3)" fill="#5161b3" opacity="0.85"/>
<ellipse cx="85.7" cy="72.0" rx="0.9" ry="0.8" transform="rotate(36 85.7 72.0)" fill="#5262b4" opacity="0.85"/>
<ellipse cx="16.3" cy="54.7" rx="0.9" ry="0.8" transform="rotate(43 16.3 54.7)" fill="#5c6cbe" opacity="0.85"/>
<ellipse cx="31.4" cy="55.6" rx="0.9" ry="0.9" transform="rotate(20 31.4 55.6)" fill="#6272c4" opacity="0.85"/>
<ellipse cx="73.8" cy="65.7" rx="1.0" ry="1.0" transform="rotate(163 73.8 65.7)" fill="#6171c3" opacity="0.85"/>
<ellipse cx="84.9" cy="38.7" rx="1.2" ry="0.9" transform="rotate(95 84.9 38.7)" fill="#4a5aac" opacity="0.85"/>
<ellipse cx="67.1" cy="71.7" rx="1.0" ry="0.6" transform="rotate(71 67.1 71.7)" fill="#5161b3" opacity="0.85"/>
<ellipse cx="58.4" cy="41.3" rx="1.0" ry="0.9" transform="rotate(124 58.4 41.3)" fill="#4a5aac" opacity="0.85"/>
<ellipse cx="16.3" cy="68.4" rx="1.2" ry="0.6" transform="rotate(164 16.3 68.4)" fill="#5e6ec0" opacity="0.85"/>
<ellipse cx="56.2" cy="44.6" rx="0.9" ry="0.8" transform="rotate(87 56.2 44.6)" fill="#6272c4" opacity="0.85"/>
<ellipse cx="83.4" cy="39.5" rx="0.8" ry="0.7" transform="rotate(129 83.4 39.5)" fill="#5868ba" opacity="0.85"/>
<ellipse cx="52.9" cy="40.5" rx="0.7" ry="0.6" transform="rotate(77 52.9 40.5)" fill="#6171c3" opacity="0.85"/>
<ellipse cx="67.1" cy="43.2" rx="1.4" ry="0.9" transform="rotate(75 67.1 43.2)" fill="#4b5bad" opacity="0.85"/>
<ellipse cx="35.1" cy="47.1" rx="0.9" ry="0.9" transform="rotate(119 35.1 47.1)" fill="#6272c4" opacity="0.85"/>
<ellipse cx="75.9" cy="54.8" rx="1.5" ry="0.9" transform="rotate(163 75.9 54.8)" fill="#6272c4" opacity="0.85"/>
<ellipse cx="96.1" cy="40.3" rx="1.3" ry="0.7" transform="rotate(17 96.1 40.3)" fill="#4a5aac" opacity="0.85"/>
<ellipse cx="-1.8" cy="71.6" rx="1.4" ry="0.6" transform="rotate(171 -1.8 71.6)" fill="#5464b6" opacity="0.85"/>
<ellipse cx="96.8" cy="19.9" rx="0.8" ry="0.5" transform="rotate(135 96.8 19.9)" fill="#5767b9" opacity="0.85"/>
<ellipse cx="91.8" cy="40.3" rx="1.2" ry="0.8" transform="rotate(34 91.8 40.3)" fill="#4858aa" opacity="0.85"/>
<ellipse cx="91.0" cy="43.0" rx="0.9" ry="0.7" transform="rotate(23 91.0 43.0)" fill="#5c6cbe" opacity="0.85"/>
</g></g>
<text x="2.2" y="63.8" font-size="6.6" font-weight="bold" fill="#111" stroke="#111" stroke-width="0.25">50 µm</text>
<rect x="0.1" y="66.1" width="24" height="1.4" fill="#111"/>
<rect x="0" y="0" width="96.8" height="70.3" fill="none" stroke="#6e6e6e" stroke-width="1"/>
</g>
<text x="0.30" y="423.20" font-size="16" font-weight="bold" text-anchor="start" fill="#111" stroke="#111" stroke-width="0.3" >C</text>
<text x="22.00" y="418.80" font-size="10.5" font-weight="bold" text-anchor="start" fill="#111" stroke="#111" stroke-width="0.3" >Intensity of epidermal TSLP expression</text>
<line x1="44.8" y1="438.6" x2="44.8" y2="531" stroke="#8a8a8a" stroke-width="1"/>
<line x1="41.8" y1="531.0" x2="44.8" y2="531.0" stroke="#8a8a8a" stroke-width="1"/>
<text x="38.30" y="534.50" font-size="7.5" font-weight="normal" text-anchor="end" fill="#222" stroke="#222" stroke-width="0.28" >0</text>
<line x1="41.8" y1="500.2" x2="44.8" y2="500.2" stroke="#8a8a8a" stroke-width="1"/>
<text x="38.30" y="503.70" font-size="7.5" font-weight="normal" text-anchor="end" fill="#222" stroke="#222" stroke-width="0.28" >50</text>
<line x1="41.8" y1="469.4" x2="44.8" y2="469.4" stroke="#8a8a8a" stroke-width="1"/>
<text x="38.30" y="472.90" font-size="7.5" font-weight="normal" text-anchor="end" fill="#222" stroke="#222" stroke-width="0.28" >100</text>
<line x1="41.8" y1="438.6" x2="44.8" y2="438.6" stroke="#8a8a8a" stroke-width="1"/>
<text x="38.30" y="442.10" font-size="7.5" font-weight="normal" text-anchor="end" fill="#222" stroke="#222" stroke-width="0.28" >150</text>
<line x1="44.8" y1="531" x2="232.8" y2="531" stroke="#7a7a7a" stroke-width="1"/>
<line x1="63.4" y1="529.5" x2="63.4" y2="530.3" stroke="#808080" stroke-width="1.1"/>
<line x1="57.8" y1="529.5" x2="69.0" y2="529.5" stroke="#808080" stroke-width="1.3"/>
<rect x="52.9" y="530.7" width="21.0" height="0.3" fill="url(#hatch7)" stroke="#555" stroke-width="0.7"/>
<line x1="85.9" y1="529.9" x2="85.9" y2="530.4" stroke="#808080" stroke-width="1.1"/>
<line x1="80.3" y1="529.9" x2="91.5" y2="529.9" stroke="#808080" stroke-width="1.3"/>
<rect x="75.4" y="530.8" width="21.0" height="0.3" fill="#000" stroke="#000" stroke-width="0.8"/>
<line x1="125.9" y1="495.9" x2="125.9" y2="506.4" stroke="#808080" stroke-width="1.1"/>
<line x1="120.3" y1="495.9" x2="131.5" y2="495.9" stroke="#808080" stroke-width="1.3"/>
<rect x="115.4" y="506.8" width="21.0" height="24.2" fill="url(#hatch7)" stroke="#555" stroke-width="0.7"/>
<line x1="147.9" y1="493.0" x2="147.9" y2="515.2" stroke="#808080" stroke-width="1.1"/>
<line x1="142.3" y1="493.0" x2="153.5" y2="493.0" stroke="#808080" stroke-width="1.3"/>
<rect x="137.4" y="515.6" width="21.0" height="15.4" fill="#000" stroke="#000" stroke-width="0.8"/>
<line x1="187.2" y1="450.0" x2="187.2" y2="475.6" stroke="#808080" stroke-width="1.1"/>
<line x1="181.6" y1="450.0" x2="192.8" y2="450.0" stroke="#808080" stroke-width="1.3"/>
<rect x="176.7" y="476.0" width="21.0" height="55.0" fill="url(#hatch7)" stroke="#555" stroke-width="0.7"/>
<line x1="208.9" y1="450.3" x2="208.9" y2="458.9" stroke="#808080" stroke-width="1.1"/>
<line x1="203.3" y1="450.3" x2="214.5" y2="450.3" stroke="#808080" stroke-width="1.3"/>
<rect x="198.4" y="459.3" width="21.0" height="71.7" fill="#000" stroke="#000" stroke-width="0.8"/>
<text x="73.90" y="542.70" font-size="8.4" font-weight="normal" text-anchor="middle" fill="#222" stroke="#222" stroke-width="0.28" >prior</text>
<text x="73.90" y="552.60" font-size="8.4" font-weight="normal" text-anchor="middle" fill="#222" stroke="#222" stroke-width="0.28" >conditioning</text>
<text x="137.00" y="542.70" font-size="8.4" font-weight="normal" text-anchor="middle" fill="#222" stroke="#222" stroke-width="0.28" >day -1</text>
<text x="137.00" y="552.60" font-size="8.4" font-weight="normal" text-anchor="middle" fill="#222" stroke="#222" stroke-width="0.28" >prior HCT</text>
<text x="197.10" y="542.70" font-size="8.4" font-weight="normal" text-anchor="middle" fill="#222" stroke="#222" stroke-width="0.28" >day 20-30</text>
<text x="197.10" y="552.60" font-size="8.4" font-weight="normal" text-anchor="middle" fill="#222" stroke="#222" stroke-width="0.28" >post-HCT</text>
<path d="M187.0,448.6 L187.0,446.3 L210.0,446.3 L210.0,448.6" fill="none" stroke="#555" stroke-width="0.8"/>
<circle cx="198.4" cy="443.2" r="1.45" fill="#222"/>
<text transform="translate(10.5,488.7) rotate(-90)" font-size="7.45" font-weight="bold" text-anchor="middle" fill="#222">Mean Intensity of</text>
<text transform="translate(18.9,488.7) rotate(-90)" font-size="7.45" font-weight="bold" text-anchor="middle" fill="#222">TSLP expression</text>
<rect x="29.4" y="575.1" width="8.9" height="8.4" fill="#fff" stroke="#aaa" stroke-width="0.6"/>
<g clip-path="url(#lg2)"><line x1="28.8" y1="584.3" x2="38.8" y2="574.4" stroke="#111" stroke-width="2"/><path d="M34.8,583.8 L38.6,583.8 L38.6,580 Z" fill="#111"/></g>
<text x="41.00" y="582.50" font-size="7.4" font-weight="normal" text-anchor="start" fill="#222" stroke="#222" stroke-width="0.28" >no aGVHD (n=7)</text>
<rect x="103.8" y="575" width="8.6" height="9" fill="#000"/>
<text x="114.80" y="582.50" font-size="7.4" font-weight="normal" text-anchor="start" fill="#222" stroke="#222" stroke-width="0.28" >aGVHD (n=7)</text>
</svg>
</body></html>
